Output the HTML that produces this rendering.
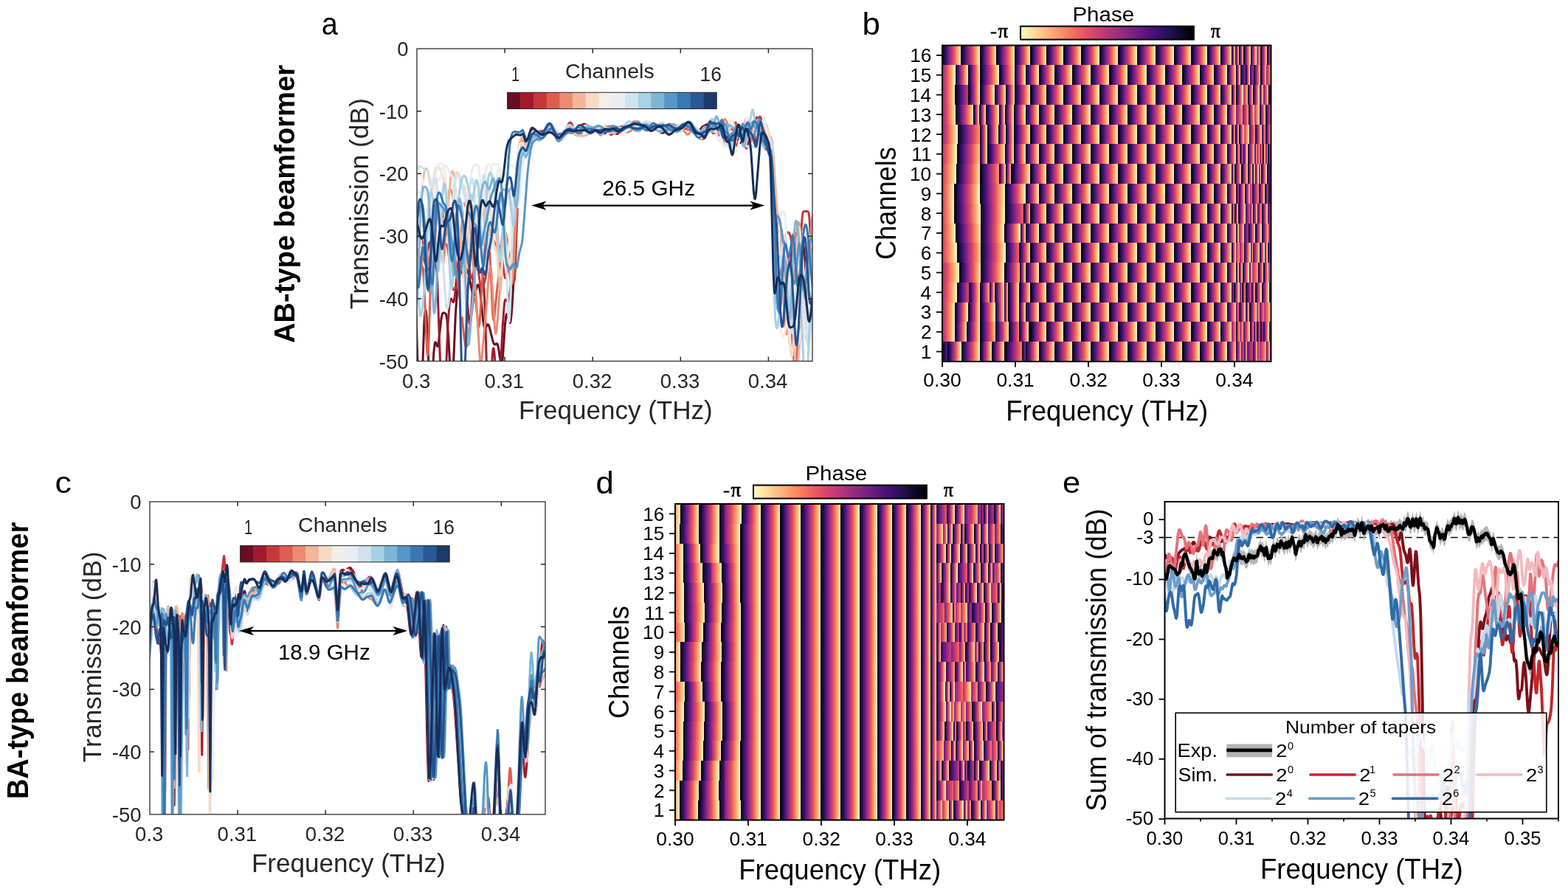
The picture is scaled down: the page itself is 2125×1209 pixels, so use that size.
<!DOCTYPE html><html><head><meta charset="utf-8"><title>Beamformer transmission and phase</title><style>html,body{margin:0;padding:0;background:#fff;}#f{position:relative;width:2125px;height:1209px;overflow:hidden;background:#fff;}#f>div{position:absolute;}#f>svg{position:absolute;left:0;top:0;}</style></head><body><div id="f"><div style="left:1277.0px;top:61.50px;width:445.5px;height:27.18px;background:linear-gradient(90deg,#000004 0.0px,#140e36 2.5px,#3b0f70 5.1px,#641a80 7.6px,#8c2981 10.1px,#b73779 12.7px,#de4968 15.2px,#f7705c 17.7px,#fe9f6d 20.2px,#fecf92 22.8px,#fcfdbf 25.3px,#000004 25.3px,#140e36 27.9px,#3b0f70 30.4px,#641a80 33.0px,#8c2981 35.6px,#b73779 38.2px,#de4968 40.7px,#f7705c 43.3px,#fe9f6d 45.9px,#fecf92 48.4px,#fcfdbf 51.0px,#000004 51.0px,#140e36 53.2px,#3b0f70 55.5px,#641a80 57.8px,#8c2981 60.0px,#b73779 62.2px,#de4968 64.5px,#f7705c 66.8px,#fe9f6d 69.0px,#fecf92 71.2px,#fcfdbf 73.5px,#000004 73.5px,#140e36 76.0px,#3b0f70 78.4px,#641a80 80.8px,#8c2981 83.3px,#b73779 85.8px,#de4968 88.2px,#f7705c 90.7px,#fe9f6d 93.1px,#fecf92 95.5px,#fcfdbf 98.0px,#000004 98.0px,#140e36 100.1px,#3b0f70 102.3px,#641a80 104.4px,#8c2981 106.6px,#b73779 108.7px,#de4968 110.8px,#f7705c 113.0px,#fe9f6d 115.1px,#fecf92 117.3px,#fcfdbf 119.4px,#000004 119.4px,#140e36 121.6px,#3b0f70 123.8px,#641a80 125.9px,#8c2981 128.1px,#b73779 130.3px,#de4968 132.5px,#f7705c 134.7px,#fe9f6d 136.8px,#fecf92 139.0px,#fcfdbf 141.2px,#000004 141.2px,#140e36 143.5px,#3b0f70 145.8px,#641a80 148.0px,#8c2981 150.3px,#b73779 152.6px,#de4968 154.9px,#f7705c 157.2px,#fe9f6d 159.4px,#fecf92 161.7px,#fcfdbf 164.0px,#000004 164.0px,#140e36 166.4px,#3b0f70 168.9px,#641a80 171.3px,#8c2981 173.8px,#b73779 176.2px,#de4968 178.6px,#f7705c 181.1px,#fe9f6d 183.5px,#fecf92 186.0px,#fcfdbf 188.4px,#000004 188.4px,#140e36 190.8px,#3b0f70 193.3px,#641a80 195.7px,#8c2981 198.1px,#b73779 200.6px,#de4968 203.0px,#f7705c 205.4px,#fe9f6d 207.8px,#fecf92 210.3px,#fcfdbf 212.7px,#000004 212.7px,#140e36 215.2px,#3b0f70 217.8px,#641a80 220.4px,#8c2981 222.9px,#b73779 225.5px,#de4968 228.0px,#f7705c 230.5px,#fe9f6d 233.1px,#fecf92 235.7px,#fcfdbf 238.2px,#000004 238.2px,#140e36 240.8px,#3b0f70 243.3px,#641a80 245.9px,#8c2981 248.4px,#b73779 251.0px,#de4968 253.5px,#f7705c 256.0px,#fe9f6d 258.6px,#fecf92 261.2px,#fcfdbf 263.7px,#000004 263.7px,#140e36 266.2px,#3b0f70 268.8px,#641a80 271.3px,#8c2981 273.9px,#b73779 276.4px,#de4968 278.9px,#f7705c 281.5px,#fe9f6d 284.0px,#fecf92 286.6px,#fcfdbf 289.1px,#000004 289.1px,#140e36 291.6px,#3b0f70 294.1px,#641a80 296.5px,#8c2981 299.0px,#b73779 301.5px,#de4968 304.0px,#f7705c 306.5px,#fe9f6d 308.9px,#fecf92 311.4px,#fcfdbf 313.9px,#000004 313.9px,#140e36 316.2px,#3b0f70 318.6px,#641a80 320.9px,#8c2981 323.3px,#b73779 325.6px,#de4968 327.9px,#f7705c 330.3px,#fe9f6d 332.6px,#fecf92 335.0px,#fcfdbf 337.3px,#000004 337.3px,#140e36 339.5px,#3b0f70 341.6px,#641a80 343.8px,#8c2981 346.0px,#b73779 348.2px,#de4968 350.3px,#f7705c 352.5px,#fe9f6d 354.7px,#fecf92 356.8px,#fcfdbf 359.0px,#000004 359.0px,#140e36 360.8px,#3b0f70 362.6px,#641a80 364.4px,#8c2981 366.2px,#b73779 368.0px,#de4968 369.9px,#f7705c 371.7px,#fe9f6d 373.5px,#fecf92 375.3px,#fcfdbf 377.1px,#000004 377.1px,#140e36 378.6px,#3b0f70 380.1px,#641a80 381.7px,#8c2981 383.2px,#b73779 384.7px,#de4968 386.2px,#f7705c 387.7px,#fe9f6d 389.3px,#fecf92 390.8px,#fcfdbf 392.3px,#000004 392.3px,#140e36 392.8px,#3b0f70 393.2px,#641a80 393.7px,#8c2981 394.1px,#b73779 394.6px,#de4968 395.1px,#f7705c 395.5px,#fe9f6d 396.0px,#fecf92 396.4px,#fcfdbf 396.9px,#000004 396.9px,#140e36 397.4px,#3b0f70 398.0px,#641a80 398.5px,#8c2981 399.1px,#b73779 399.6px,#de4968 400.2px,#f7705c 400.7px,#fe9f6d 401.3px,#fecf92 401.8px,#fcfdbf 402.4px,#000004 402.4px,#140e36 403.0px,#3b0f70 403.6px,#641a80 404.1px,#8c2981 404.7px,#b73779 405.3px,#de4968 405.9px,#f7705c 406.5px,#fe9f6d 407.1px,#fecf92 407.7px,#fcfdbf 408.3px,#000004 408.3px,#140e36 409.2px,#3b0f70 410.2px,#641a80 411.1px,#8c2981 412.1px,#b73779 413.1px,#de4968 414.0px,#f7705c 415.0px,#fe9f6d 415.9px,#fecf92 416.9px,#fcfdbf 417.8px,#000004 417.8px,#140e36 418.6px,#3b0f70 419.4px,#641a80 420.2px,#8c2981 421.0px,#b73779 421.8px,#de4968 422.6px,#f7705c 423.4px,#fe9f6d 424.2px,#fecf92 424.9px,#fcfdbf 425.7px,#802582 425.7px,#8c2981 426.1px,#b73779 427.2px,#de4968 428.3px,#f7705c 429.4px,#fe9f6d 430.6px,#febb81 431.2px,#000004 431.2px,#140e36 432.1px,#3b0f70 433.1px,#641a80 434.0px,#8c2981 434.9px,#b73779 435.8px,#de4968 436.7px,#f7705c 437.6px,#fe9f6d 438.6px,#fecf92 439.5px,#fcfdbf 440.4px,#000004 440.4px,#140e36 441.1px,#3b0f70 441.7px,#641a80 442.4px,#8c2981 443.1px,#b73779 443.8px,#de4968 444.4px,#f7705c 445.1px,#fc8a62 445.5px)"></div><div style="left:1277.0px;top:88.28px;width:445.5px;height:27.18px;background:linear-gradient(90deg,#8c2981 0.0px,#b73779 2.9px,#de4968 5.9px,#f7705c 8.8px,#fe9f6d 11.7px,#fecf92 14.7px,#fcfdbf 17.6px,#000004 17.6px,#140e36 19.3px,#3b0f70 21.0px,#641a80 22.8px,#8c2981 24.5px,#b73779 26.2px,#de4968 27.9px,#f7705c 29.6px,#fe9f6d 31.4px,#fecf92 33.1px,#fcfdbf 34.8px,#000004 34.8px,#140e36 36.4px,#3b0f70 38.1px,#641a80 39.7px,#8c2981 41.4px,#b73779 43.0px,#de4968 44.6px,#f7705c 46.3px,#fe9f6d 47.9px,#fecf92 49.6px,#fcfdbf 51.2px,#000004 51.2px,#140e36 53.8px,#3b0f70 56.4px,#641a80 58.9px,#8c2981 61.5px,#b73779 64.1px,#de4968 66.7px,#f7705c 69.3px,#fe9f6d 71.8px,#fecf92 74.4px,#fcfdbf 77.0px,#000004 77.0px,#140e36 79.1px,#3b0f70 81.2px,#641a80 83.3px,#8c2981 85.4px,#b73779 87.5px,#de4968 89.6px,#f7705c 91.7px,#fe9f6d 93.8px,#fecf92 95.9px,#fcfdbf 98.0px,#000004 98.0px,#140e36 99.5px,#3b0f70 101.0px,#641a80 102.5px,#8c2981 104.0px,#b73779 105.5px,#de4968 106.9px,#f7705c 108.4px,#fe9f6d 109.9px,#fecf92 111.4px,#fcfdbf 112.9px,#000004 112.9px,#140e36 114.7px,#3b0f70 116.5px,#641a80 118.3px,#8c2981 120.1px,#b73779 121.8px,#de4968 123.6px,#f7705c 125.4px,#fe9f6d 127.2px,#fecf92 129.0px,#fcfdbf 130.8px,#000004 130.8px,#140e36 132.9px,#3b0f70 135.1px,#641a80 137.2px,#8c2981 139.3px,#b73779 141.4px,#de4968 143.6px,#f7705c 145.7px,#fe9f6d 147.8px,#fecf92 150.0px,#fcfdbf 152.1px,#000004 152.1px,#140e36 154.5px,#3b0f70 156.9px,#641a80 159.3px,#8c2981 161.7px,#b73779 164.0px,#de4968 166.4px,#f7705c 168.8px,#fe9f6d 171.2px,#fecf92 173.6px,#fcfdbf 176.0px,#000004 176.0px,#140e36 178.5px,#3b0f70 181.0px,#641a80 183.4px,#8c2981 185.9px,#b73779 188.4px,#de4968 190.9px,#f7705c 193.4px,#fe9f6d 195.8px,#fecf92 198.3px,#fcfdbf 200.8px,#000004 200.8px,#140e36 203.3px,#3b0f70 205.9px,#641a80 208.4px,#8c2981 210.9px,#b73779 213.4px,#de4968 216.0px,#f7705c 218.5px,#fe9f6d 221.0px,#fecf92 223.6px,#fcfdbf 226.1px,#000004 226.1px,#140e36 228.6px,#3b0f70 231.1px,#641a80 233.6px,#8c2981 236.1px,#b73779 238.7px,#de4968 241.2px,#f7705c 243.7px,#fe9f6d 246.2px,#fecf92 248.7px,#fcfdbf 251.2px,#000004 251.2px,#140e36 253.7px,#3b0f70 256.3px,#641a80 258.8px,#8c2981 261.4px,#b73779 263.9px,#de4968 266.4px,#f7705c 269.0px,#fe9f6d 271.5px,#fecf92 274.1px,#fcfdbf 276.6px,#000004 276.6px,#140e36 279.1px,#3b0f70 281.6px,#641a80 284.2px,#8c2981 286.7px,#b73779 289.2px,#de4968 291.7px,#f7705c 294.2px,#fe9f6d 296.8px,#fecf92 299.3px,#fcfdbf 301.8px,#000004 301.8px,#140e36 304.2px,#3b0f70 306.5px,#641a80 308.9px,#8c2981 311.3px,#b73779 313.7px,#de4968 316.0px,#f7705c 318.4px,#fe9f6d 320.8px,#fecf92 323.1px,#fcfdbf 325.5px,#000004 325.5px,#140e36 327.8px,#3b0f70 330.2px,#641a80 332.5px,#8c2981 334.9px,#b73779 337.2px,#de4968 339.6px,#f7705c 342.0px,#fe9f6d 344.3px,#fecf92 346.7px,#fcfdbf 349.0px,#000004 349.0px,#140e36 350.9px,#3b0f70 352.9px,#641a80 354.8px,#8c2981 356.8px,#b73779 358.7px,#de4968 360.6px,#f7705c 362.6px,#fe9f6d 364.5px,#fecf92 366.5px,#fcfdbf 368.4px,#000004 368.4px,#140e36 370.2px,#3b0f70 371.9px,#641a80 373.7px,#8c2981 375.4px,#b73779 377.2px,#de4968 379.0px,#f7705c 380.7px,#fe9f6d 382.5px,#fecf92 384.2px,#fcfdbf 386.0px,#000004 386.0px,#140e36 387.2px,#3b0f70 388.4px,#641a80 389.7px,#8c2981 390.9px,#b73779 392.1px,#de4968 393.3px,#f7705c 394.5px,#fe9f6d 395.8px,#fecf92 397.0px,#fcfdbf 398.2px,#000004 398.2px,#140e36 398.8px,#3b0f70 399.3px,#641a80 399.9px,#8c2981 400.4px,#b73779 401.0px,#de4968 401.5px,#f7705c 402.1px,#fe9f6d 402.6px,#fecf92 403.2px,#fcfdbf 403.7px,#010108 403.7px,#140e36 405.3px,#3b0f70 407.2px,#641a80 409.0px,#8c2981 410.9px,#932b80 411.2px,#000004 411.2px,#140e36 411.8px,#3b0f70 412.3px,#641a80 412.8px,#8c2981 413.4px,#b73779 413.9px,#de4968 414.5px,#f7705c 415.0px,#fe9f6d 415.6px,#fecf92 416.1px,#fcfdbf 416.7px,#1d1147 416.7px,#3b0f70 417.7px,#641a80 419.1px,#8c2981 420.4px,#b73779 421.8px,#b73779 421.9px,#000004 421.9px,#140e36 422.8px,#3b0f70 423.8px,#641a80 424.7px,#8c2981 425.7px,#b73779 426.7px,#de4968 427.6px,#f7705c 428.6px,#fe9f6d 429.5px,#fecf92 430.5px,#fcfdbf 431.5px,#000004 431.5px,#140e36 432.2px,#3b0f70 433.0px,#641a80 433.8px,#8c2981 434.6px,#b73779 435.4px,#de4968 436.2px,#f7705c 437.0px,#fe9f6d 437.8px,#fecf92 438.6px,#fcfdbf 439.3px,#902a81 439.3px,#b73779 440.5px,#de4968 441.9px,#f7705c 443.2px,#fe9f6d 444.5px,#fec488 445.5px)"></div><div style="left:1277.0px;top:115.06px;width:445.5px;height:27.18px;background:linear-gradient(90deg,#8c2981 0.0px,#b73779 2.9px,#de4968 5.8px,#f7705c 8.8px,#fe9f6d 11.7px,#fecf92 14.6px,#fcfdbf 17.5px,#000004 17.5px,#140e36 20.7px,#3b0f70 24.0px,#641a80 27.2px,#8c2981 30.4px,#b73779 33.7px,#ca3e72 35.3px,#000004 35.3px,#140e36 36.9px,#3b0f70 38.4px,#641a80 40.0px,#8c2981 41.6px,#b73779 43.2px,#de4968 44.7px,#f7705c 46.3px,#fe9f6d 47.9px,#fecf92 49.4px,#fcfdbf 51.0px,#000004 51.0px,#140e36 53.0px,#3b0f70 54.9px,#641a80 56.9px,#8c2981 58.9px,#b73779 60.8px,#de4968 62.8px,#f7705c 64.8px,#fe9f6d 66.8px,#fecf92 68.7px,#fcfdbf 70.7px,#000004 70.7px,#140e36 72.2px,#3b0f70 73.8px,#641a80 75.3px,#8c2981 76.8px,#b73779 78.3px,#de4968 79.9px,#f7705c 81.4px,#fe9f6d 82.9px,#fecf92 84.5px,#fcfdbf 86.0px,#000004 86.0px,#140e36 87.2px,#3b0f70 88.4px,#641a80 89.6px,#8c2981 90.8px,#b73779 92.0px,#de4968 93.2px,#f7705c 94.4px,#fe9f6d 95.6px,#fecf92 96.8px,#fcfdbf 98.0px,#000004 98.0px,#140e36 100.1px,#3b0f70 102.3px,#641a80 104.4px,#8c2981 106.6px,#b73779 108.7px,#de4968 110.8px,#f7705c 113.0px,#fe9f6d 115.1px,#fecf92 117.3px,#fcfdbf 119.4px,#000004 119.4px,#140e36 121.6px,#3b0f70 123.8px,#641a80 125.9px,#8c2981 128.1px,#b73779 130.3px,#de4968 132.5px,#f7705c 134.7px,#fe9f6d 136.8px,#fecf92 139.0px,#fcfdbf 141.2px,#000004 141.2px,#140e36 143.5px,#3b0f70 145.8px,#641a80 148.0px,#8c2981 150.3px,#b73779 152.6px,#de4968 154.9px,#f7705c 157.2px,#fe9f6d 159.4px,#fecf92 161.7px,#fcfdbf 164.0px,#000004 164.0px,#140e36 166.4px,#3b0f70 168.9px,#641a80 171.3px,#8c2981 173.8px,#b73779 176.2px,#de4968 178.6px,#f7705c 181.1px,#fe9f6d 183.5px,#fecf92 186.0px,#fcfdbf 188.4px,#000004 188.4px,#140e36 190.8px,#3b0f70 193.3px,#641a80 195.7px,#8c2981 198.1px,#b73779 200.6px,#de4968 203.0px,#f7705c 205.4px,#fe9f6d 207.8px,#fecf92 210.3px,#fcfdbf 212.7px,#000004 212.7px,#140e36 215.2px,#3b0f70 217.8px,#641a80 220.4px,#8c2981 222.9px,#b73779 225.5px,#de4968 228.0px,#f7705c 230.5px,#fe9f6d 233.1px,#fecf92 235.7px,#fcfdbf 238.2px,#000004 238.2px,#140e36 240.8px,#3b0f70 243.3px,#641a80 245.9px,#8c2981 248.4px,#b73779 251.0px,#de4968 253.5px,#f7705c 256.0px,#fe9f6d 258.6px,#fecf92 261.2px,#fcfdbf 263.7px,#000004 263.7px,#140e36 266.2px,#3b0f70 268.8px,#641a80 271.3px,#8c2981 273.9px,#b73779 276.4px,#de4968 278.9px,#f7705c 281.5px,#fe9f6d 284.0px,#fecf92 286.6px,#fcfdbf 289.1px,#000004 289.1px,#140e36 291.6px,#3b0f70 294.1px,#641a80 296.5px,#8c2981 299.0px,#b73779 301.5px,#de4968 304.0px,#f7705c 306.5px,#fe9f6d 308.9px,#fecf92 311.4px,#fcfdbf 313.9px,#000004 313.9px,#140e36 316.2px,#3b0f70 318.6px,#641a80 320.9px,#8c2981 323.3px,#b73779 325.6px,#de4968 327.9px,#f7705c 330.3px,#fe9f6d 332.6px,#fecf92 335.0px,#fcfdbf 337.3px,#000004 337.3px,#140e36 339.5px,#3b0f70 341.6px,#641a80 343.8px,#8c2981 346.0px,#b73779 348.2px,#de4968 350.3px,#f7705c 352.5px,#fe9f6d 354.7px,#fecf92 356.8px,#fcfdbf 359.0px,#000004 359.0px,#140e36 360.8px,#3b0f70 362.6px,#641a80 364.4px,#8c2981 366.2px,#b73779 368.0px,#de4968 369.9px,#f7705c 371.7px,#fe9f6d 373.5px,#fecf92 375.3px,#fcfdbf 377.1px,#000004 377.1px,#140e36 378.6px,#3b0f70 380.1px,#641a80 381.7px,#8c2981 383.2px,#b73779 384.7px,#de4968 386.2px,#f7705c 387.7px,#fe9f6d 389.3px,#fecf92 390.8px,#fcfdbf 392.3px,#000004 392.3px,#140e36 392.9px,#3b0f70 393.5px,#641a80 394.1px,#8c2981 394.7px,#b73779 395.3px,#de4968 395.9px,#f7705c 396.5px,#fe9f6d 397.1px,#fecf92 397.7px,#fcfdbf 398.3px,#000004 398.3px,#140e36 399.3px,#3b0f70 400.2px,#641a80 401.1px,#8c2981 402.1px,#b73779 403.0px,#de4968 403.9px,#f7705c 404.8px,#fe9f6d 405.8px,#fecf92 406.7px,#fcfdbf 407.6px,#942c80 407.6px,#b73779 408.7px,#de4968 410.1px,#f7705c 411.4px,#fe9f6d 412.8px,#fecf92 414.2px,#fecf92 414.2px,#000004 414.2px,#140e36 414.9px,#3b0f70 415.6px,#641a80 416.3px,#8c2981 417.1px,#b73779 417.8px,#de4968 418.5px,#f7705c 419.2px,#fe9f6d 419.9px,#fecf92 420.6px,#fcfdbf 421.3px,#000004 421.3px,#140e36 422.1px,#3b0f70 423.0px,#641a80 423.8px,#8c2981 424.6px,#b73779 425.5px,#de4968 426.3px,#f7705c 427.1px,#fe9f6d 428.0px,#fecf92 428.8px,#fcfdbf 429.6px,#000004 429.6px,#140e36 430.2px,#3b0f70 430.7px,#641a80 431.2px,#8c2981 431.8px,#b73779 432.3px,#de4968 432.8px,#f7705c 433.4px,#fe9f6d 433.9px,#fecf92 434.4px,#fcfdbf 435.0px,#57157e 435.0px,#641a80 435.3px,#8c2981 436.3px,#b73779 437.3px,#de4968 438.4px,#f7705c 439.4px,#fe9f6d 440.4px,#fecf92 441.4px,#fcf4b6 442.2px,#000004 442.2px,#140e36 442.8px,#3b0f70 443.5px,#641a80 444.2px,#8c2981 444.8px,#b5367a 445.5px)"></div><div style="left:1277.0px;top:141.84px;width:445.5px;height:27.18px;background:linear-gradient(90deg,#8c2981 0.0px,#b73779 3.1px,#de4968 6.2px,#f7705c 9.2px,#fe9f6d 12.3px,#fecf92 15.4px,#fcfdbf 18.5px,#000004 18.5px,#140e36 20.9px,#3b0f70 23.3px,#641a80 25.7px,#8c2981 28.1px,#b73779 30.5px,#de4968 32.9px,#f7705c 35.3px,#fe9f6d 37.7px,#fecf92 40.1px,#fcfdbf 42.5px,#000004 42.5px,#140e36 43.2px,#3b0f70 44.0px,#641a80 44.8px,#8c2981 45.5px,#b73779 46.2px,#de4968 47.0px,#f7705c 47.8px,#fe9f6d 48.5px,#fecf92 49.2px,#fcfdbf 50.0px,#000004 50.0px,#140e36 50.9px,#3b0f70 51.8px,#641a80 52.7px,#8c2981 53.6px,#b73779 54.5px,#de4968 55.4px,#f7705c 56.3px,#fe9f6d 57.2px,#fecf92 58.1px,#fcfdbf 59.0px,#000004 59.0px,#140e36 60.8px,#3b0f70 62.6px,#641a80 64.4px,#8c2981 66.2px,#b73779 68.0px,#de4968 69.8px,#f7705c 71.6px,#fe9f6d 73.4px,#fecf92 75.2px,#fcfdbf 77.0px,#000004 77.0px,#140e36 77.8px,#3b0f70 78.6px,#641a80 79.4px,#8c2981 80.2px,#b73779 81.0px,#de4968 81.8px,#f7705c 82.6px,#fe9f6d 83.4px,#fecf92 84.2px,#fcfdbf 85.0px,#000004 85.0px,#140e36 86.2px,#3b0f70 87.4px,#641a80 88.6px,#8c2981 89.8px,#b73779 91.0px,#de4968 92.2px,#f7705c 93.4px,#fe9f6d 94.6px,#fecf92 95.8px,#fcfdbf 97.0px,#000004 97.0px,#140e36 98.6px,#3b0f70 100.2px,#641a80 101.8px,#8c2981 103.4px,#b73779 105.0px,#de4968 106.5px,#f7705c 108.1px,#fe9f6d 109.7px,#fecf92 111.3px,#fcfdbf 112.9px,#000004 112.9px,#140e36 114.7px,#3b0f70 116.5px,#641a80 118.3px,#8c2981 120.1px,#b73779 121.8px,#de4968 123.6px,#f7705c 125.4px,#fe9f6d 127.2px,#fecf92 129.0px,#fcfdbf 130.8px,#000004 130.8px,#140e36 132.9px,#3b0f70 135.1px,#641a80 137.2px,#8c2981 139.3px,#b73779 141.4px,#de4968 143.6px,#f7705c 145.7px,#fe9f6d 147.8px,#fecf92 150.0px,#fcfdbf 152.1px,#000004 152.1px,#140e36 154.5px,#3b0f70 156.9px,#641a80 159.3px,#8c2981 161.7px,#b73779 164.0px,#de4968 166.4px,#f7705c 168.8px,#fe9f6d 171.2px,#fecf92 173.6px,#fcfdbf 176.0px,#000004 176.0px,#140e36 178.5px,#3b0f70 181.0px,#641a80 183.4px,#8c2981 185.9px,#b73779 188.4px,#de4968 190.9px,#f7705c 193.4px,#fe9f6d 195.8px,#fecf92 198.3px,#fcfdbf 200.8px,#000004 200.8px,#140e36 203.3px,#3b0f70 205.9px,#641a80 208.4px,#8c2981 210.9px,#b73779 213.4px,#de4968 216.0px,#f7705c 218.5px,#fe9f6d 221.0px,#fecf92 223.6px,#fcfdbf 226.1px,#000004 226.1px,#140e36 228.6px,#3b0f70 231.1px,#641a80 233.6px,#8c2981 236.1px,#b73779 238.7px,#de4968 241.2px,#f7705c 243.7px,#fe9f6d 246.2px,#fecf92 248.7px,#fcfdbf 251.2px,#000004 251.2px,#140e36 253.7px,#3b0f70 256.3px,#641a80 258.8px,#8c2981 261.4px,#b73779 263.9px,#de4968 266.4px,#f7705c 269.0px,#fe9f6d 271.5px,#fecf92 274.1px,#fcfdbf 276.6px,#000004 276.6px,#140e36 279.1px,#3b0f70 281.6px,#641a80 284.2px,#8c2981 286.7px,#b73779 289.2px,#de4968 291.7px,#f7705c 294.2px,#fe9f6d 296.8px,#fecf92 299.3px,#fcfdbf 301.8px,#000004 301.8px,#140e36 304.2px,#3b0f70 306.5px,#641a80 308.9px,#8c2981 311.3px,#b73779 313.7px,#de4968 316.0px,#f7705c 318.4px,#fe9f6d 320.8px,#fecf92 323.1px,#fcfdbf 325.5px,#000004 325.5px,#140e36 327.8px,#3b0f70 330.2px,#641a80 332.5px,#8c2981 334.9px,#b73779 337.2px,#de4968 339.6px,#f7705c 342.0px,#fe9f6d 344.3px,#fecf92 346.7px,#fcfdbf 349.0px,#000004 349.0px,#140e36 350.9px,#3b0f70 352.9px,#641a80 354.8px,#8c2981 356.8px,#b73779 358.7px,#de4968 360.6px,#f7705c 362.6px,#fe9f6d 364.5px,#fecf92 366.5px,#fcfdbf 368.4px,#000004 368.4px,#140e36 370.2px,#3b0f70 371.9px,#641a80 373.7px,#8c2981 375.4px,#b73779 377.2px,#de4968 379.0px,#f7705c 380.7px,#fe9f6d 382.5px,#fecf92 384.2px,#fcfdbf 386.0px,#000004 386.0px,#140e36 387.2px,#3b0f70 388.4px,#641a80 389.7px,#8c2981 390.9px,#b73779 392.1px,#de4968 393.3px,#f7705c 394.5px,#fe9f6d 395.8px,#fecf92 397.0px,#fcfdbf 398.2px,#732081 398.2px,#8c2981 399.4px,#b73779 401.2px,#de4968 403.1px,#f7705c 404.9px,#fe9f6d 406.8px,#56147d 406.8px,#641a80 407.3px,#8c2981 408.8px,#b73779 410.2px,#de4968 411.7px,#f7705c 413.1px,#fe9f6d 414.6px,#fea571 414.7px,#000004 414.7px,#140e36 415.6px,#3b0f70 416.4px,#641a80 417.2px,#8c2981 418.1px,#b73779 418.9px,#de4968 419.8px,#f7705c 420.6px,#fe9f6d 421.4px,#fecf92 422.3px,#fcfdbf 423.1px,#b3367a 423.1px,#b73779 423.2px,#de4968 424.6px,#f7705c 426.0px,#fe9f6d 427.4px,#fecf92 428.9px,#fde5a7 429.6px,#000004 429.6px,#140e36 430.4px,#3b0f70 431.3px,#641a80 432.2px,#8c2981 433.0px,#b73779 433.9px,#de4968 434.7px,#f7705c 435.6px,#fe9f6d 436.5px,#fecf92 437.3px,#fcfdbf 438.2px,#000004 438.2px,#140e36 439.2px,#3b0f70 440.1px,#641a80 441.1px,#8c2981 442.1px,#b73779 443.0px,#de4968 444.0px,#f7705c 444.9px,#fc8c63 445.5px)"></div><div style="left:1277.0px;top:168.62px;width:445.5px;height:27.18px;background:linear-gradient(90deg,#8c2981 0.0px,#b73779 3.5px,#de4968 6.9px,#f7705c 10.3px,#fe9f6d 13.8px,#fecf92 17.2px,#fcfdbf 20.7px,#000004 20.7px,#140e36 24.5px,#3b0f70 28.2px,#641a80 32.0px,#8c2981 35.7px,#b73779 39.5px,#de4968 43.2px,#f7705c 47.0px,#fe9f6d 50.7px,#000004 50.7px,#140e36 51.7px,#3b0f70 52.8px,#641a80 53.8px,#8c2981 54.8px,#b73779 55.8px,#de4968 56.9px,#f7705c 57.9px,#fe9f6d 58.9px,#fecf92 60.0px,#fcfdbf 61.0px,#000004 61.0px,#140e36 62.5px,#3b0f70 64.0px,#641a80 65.5px,#8c2981 67.0px,#b73779 68.5px,#de4968 70.0px,#f7705c 71.5px,#fe9f6d 73.0px,#fecf92 74.5px,#fcfdbf 76.0px,#000004 76.0px,#140e36 77.0px,#3b0f70 78.0px,#641a80 79.0px,#8c2981 80.0px,#b73779 81.0px,#de4968 82.0px,#f7705c 83.0px,#fe9f6d 84.0px,#fecf92 85.0px,#fcfdbf 86.0px,#000004 86.0px,#140e36 87.1px,#3b0f70 88.2px,#641a80 89.3px,#8c2981 90.4px,#b73779 91.5px,#de4968 92.6px,#f7705c 93.7px,#fe9f6d 94.8px,#fecf92 95.9px,#fcfdbf 97.0px,#000004 97.0px,#140e36 99.2px,#3b0f70 101.5px,#641a80 103.7px,#8c2981 106.0px,#b73779 108.2px,#de4968 110.4px,#f7705c 112.7px,#fe9f6d 114.9px,#fecf92 117.2px,#fcfdbf 119.4px,#000004 119.4px,#140e36 121.6px,#3b0f70 123.8px,#641a80 125.9px,#8c2981 128.1px,#b73779 130.3px,#de4968 132.5px,#f7705c 134.7px,#fe9f6d 136.8px,#fecf92 139.0px,#fcfdbf 141.2px,#000004 141.2px,#140e36 143.5px,#3b0f70 145.8px,#641a80 148.0px,#8c2981 150.3px,#b73779 152.6px,#de4968 154.9px,#f7705c 157.2px,#fe9f6d 159.4px,#fecf92 161.7px,#fcfdbf 164.0px,#000004 164.0px,#140e36 166.4px,#3b0f70 168.9px,#641a80 171.3px,#8c2981 173.8px,#b73779 176.2px,#de4968 178.6px,#f7705c 181.1px,#fe9f6d 183.5px,#fecf92 186.0px,#fcfdbf 188.4px,#000004 188.4px,#140e36 190.8px,#3b0f70 193.3px,#641a80 195.7px,#8c2981 198.1px,#b73779 200.6px,#de4968 203.0px,#f7705c 205.4px,#fe9f6d 207.8px,#fecf92 210.3px,#fcfdbf 212.7px,#000004 212.7px,#140e36 215.2px,#3b0f70 217.8px,#641a80 220.4px,#8c2981 222.9px,#b73779 225.5px,#de4968 228.0px,#f7705c 230.5px,#fe9f6d 233.1px,#fecf92 235.7px,#fcfdbf 238.2px,#000004 238.2px,#140e36 240.8px,#3b0f70 243.3px,#641a80 245.9px,#8c2981 248.4px,#b73779 251.0px,#de4968 253.5px,#f7705c 256.0px,#fe9f6d 258.6px,#fecf92 261.2px,#fcfdbf 263.7px,#000004 263.7px,#140e36 266.2px,#3b0f70 268.8px,#641a80 271.3px,#8c2981 273.9px,#b73779 276.4px,#de4968 278.9px,#f7705c 281.5px,#fe9f6d 284.0px,#fecf92 286.6px,#fcfdbf 289.1px,#000004 289.1px,#140e36 291.6px,#3b0f70 294.1px,#641a80 296.5px,#8c2981 299.0px,#b73779 301.5px,#de4968 304.0px,#f7705c 306.5px,#fe9f6d 308.9px,#fecf92 311.4px,#fcfdbf 313.9px,#000004 313.9px,#140e36 316.2px,#3b0f70 318.6px,#641a80 320.9px,#8c2981 323.3px,#b73779 325.6px,#de4968 327.9px,#f7705c 330.3px,#fe9f6d 332.6px,#fecf92 335.0px,#fcfdbf 337.3px,#000004 337.3px,#140e36 339.5px,#3b0f70 341.6px,#641a80 343.8px,#8c2981 346.0px,#b73779 348.2px,#de4968 350.3px,#f7705c 352.5px,#fe9f6d 354.7px,#fecf92 356.8px,#fcfdbf 359.0px,#000004 359.0px,#140e36 360.8px,#3b0f70 362.6px,#641a80 364.4px,#8c2981 366.2px,#b73779 368.0px,#de4968 369.9px,#f7705c 371.7px,#fe9f6d 373.5px,#fecf92 375.3px,#fcfdbf 377.1px,#000004 377.1px,#140e36 378.6px,#3b0f70 380.1px,#641a80 381.7px,#8c2981 383.2px,#b73779 384.7px,#de4968 386.2px,#f7705c 387.7px,#fe9f6d 389.3px,#fecf92 390.8px,#fcfdbf 392.3px,#000004 392.3px,#140e36 392.8px,#3b0f70 393.3px,#641a80 393.8px,#8c2981 394.4px,#b73779 394.9px,#de4968 395.4px,#f7705c 395.9px,#fe9f6d 396.4px,#fecf92 396.9px,#fcfdbf 397.4px,#000004 397.4px,#140e36 397.9px,#3b0f70 398.4px,#641a80 398.8px,#8c2981 399.3px,#b73779 399.8px,#de4968 400.2px,#f7705c 400.7px,#fe9f6d 401.2px,#fecf92 401.6px,#fcfdbf 402.1px,#000004 402.1px,#140e36 402.8px,#3b0f70 403.4px,#641a80 404.1px,#8c2981 404.7px,#b73779 405.3px,#de4968 406.0px,#f7705c 406.6px,#fe9f6d 407.3px,#fecf92 407.9px,#fcfdbf 408.6px,#b3367a 408.6px,#b73779 408.6px,#de4968 410.2px,#f7705c 411.8px,#fe9f6d 413.4px,#fecf92 415.0px,#fde2a3 415.6px,#2c115f 415.6px,#3b0f70 416.1px,#641a80 417.3px,#8c2981 418.6px,#b73779 419.9px,#de4968 421.1px,#f7705c 422.4px,#fe9f6d 423.6px,#fea36f 423.7px,#000004 423.7px,#140e36 424.7px,#3b0f70 425.6px,#641a80 426.5px,#8c2981 427.4px,#b73779 428.4px,#de4968 429.3px,#f7705c 430.2px,#fe9f6d 431.1px,#fecf92 432.1px,#fcfdbf 433.0px,#0b0924 433.0px,#140e36 433.2px,#3b0f70 433.8px,#641a80 434.4px,#8c2981 435.0px,#b73779 435.7px,#de4968 436.3px,#f7705c 436.9px,#fe9f6d 437.5px,#fecf92 438.1px,#fecf92 438.2px,#000004 438.2px,#140e36 438.9px,#3b0f70 439.7px,#641a80 440.5px,#8c2981 441.3px,#b73779 442.1px,#de4968 442.9px,#f7705c 443.6px,#fe9f6d 444.4px,#fecf92 445.2px,#fde0a1 445.5px)"></div><div style="left:1277.0px;top:195.41px;width:445.5px;height:27.18px;background:linear-gradient(90deg,#b73779 0.0px,#de4968 4.0px,#f7705c 7.9px,#fe9f6d 11.9px,#fecf92 15.8px,#fcfdbf 19.8px,#000004 19.8px,#140e36 23.2px,#3b0f70 26.7px,#641a80 30.1px,#8c2981 33.5px,#b73779 37.0px,#de4968 40.4px,#f7705c 43.8px,#fe9f6d 47.3px,#fecf92 50.7px,#000004 50.7px,#140e36 51.7px,#3b0f70 52.8px,#641a80 53.8px,#8c2981 54.8px,#b73779 55.8px,#de4968 56.9px,#f7705c 57.9px,#fe9f6d 58.9px,#fecf92 60.0px,#fcfdbf 61.0px,#000004 61.0px,#140e36 63.4px,#3b0f70 65.9px,#641a80 68.3px,#8c2981 70.7px,#b73779 73.2px,#de4968 75.6px,#f7705c 78.0px,#fe9f6d 80.4px,#fecf92 82.9px,#fcfdbf 85.3px,#000004 85.3px,#140e36 86.5px,#3b0f70 87.6px,#641a80 88.8px,#8c2981 90.0px,#b73779 91.2px,#de4968 92.3px,#f7705c 93.5px,#fe9f6d 94.7px,#fecf92 95.8px,#fcfdbf 97.0px,#000004 97.0px,#140e36 98.6px,#3b0f70 100.2px,#641a80 101.8px,#8c2981 103.4px,#b73779 105.0px,#de4968 106.5px,#f7705c 108.1px,#fe9f6d 109.7px,#fecf92 111.3px,#fcfdbf 112.9px,#000004 112.9px,#140e36 114.7px,#3b0f70 116.5px,#641a80 118.3px,#8c2981 120.1px,#b73779 121.8px,#de4968 123.6px,#f7705c 125.4px,#fe9f6d 127.2px,#fecf92 129.0px,#fcfdbf 130.8px,#000004 130.8px,#140e36 132.9px,#3b0f70 135.1px,#641a80 137.2px,#8c2981 139.3px,#b73779 141.4px,#de4968 143.6px,#f7705c 145.7px,#fe9f6d 147.8px,#fecf92 150.0px,#fcfdbf 152.1px,#000004 152.1px,#140e36 154.5px,#3b0f70 156.9px,#641a80 159.3px,#8c2981 161.7px,#b73779 164.0px,#de4968 166.4px,#f7705c 168.8px,#fe9f6d 171.2px,#fecf92 173.6px,#fcfdbf 176.0px,#000004 176.0px,#140e36 178.5px,#3b0f70 181.0px,#641a80 183.4px,#8c2981 185.9px,#b73779 188.4px,#de4968 190.9px,#f7705c 193.4px,#fe9f6d 195.8px,#fecf92 198.3px,#fcfdbf 200.8px,#000004 200.8px,#140e36 203.3px,#3b0f70 205.9px,#641a80 208.4px,#8c2981 210.9px,#b73779 213.4px,#de4968 216.0px,#f7705c 218.5px,#fe9f6d 221.0px,#fecf92 223.6px,#fcfdbf 226.1px,#000004 226.1px,#140e36 228.6px,#3b0f70 231.1px,#641a80 233.6px,#8c2981 236.1px,#b73779 238.7px,#de4968 241.2px,#f7705c 243.7px,#fe9f6d 246.2px,#fecf92 248.7px,#fcfdbf 251.2px,#000004 251.2px,#140e36 253.7px,#3b0f70 256.3px,#641a80 258.8px,#8c2981 261.4px,#b73779 263.9px,#de4968 266.4px,#f7705c 269.0px,#fe9f6d 271.5px,#fecf92 274.1px,#fcfdbf 276.6px,#000004 276.6px,#140e36 279.1px,#3b0f70 281.6px,#641a80 284.2px,#8c2981 286.7px,#b73779 289.2px,#de4968 291.7px,#f7705c 294.2px,#fe9f6d 296.8px,#fecf92 299.3px,#fcfdbf 301.8px,#000004 301.8px,#140e36 304.2px,#3b0f70 306.5px,#641a80 308.9px,#8c2981 311.3px,#b73779 313.7px,#de4968 316.0px,#f7705c 318.4px,#fe9f6d 320.8px,#fecf92 323.1px,#fcfdbf 325.5px,#000004 325.5px,#140e36 327.8px,#3b0f70 330.2px,#641a80 332.5px,#8c2981 334.9px,#b73779 337.2px,#de4968 339.6px,#f7705c 342.0px,#fe9f6d 344.3px,#fecf92 346.7px,#fcfdbf 349.0px,#000004 349.0px,#140e36 350.9px,#3b0f70 352.9px,#641a80 354.8px,#8c2981 356.8px,#b73779 358.7px,#de4968 360.6px,#f7705c 362.6px,#fe9f6d 364.5px,#fecf92 366.5px,#fcfdbf 368.4px,#000004 368.4px,#140e36 370.2px,#3b0f70 371.9px,#641a80 373.7px,#8c2981 375.4px,#b73779 377.2px,#de4968 379.0px,#f7705c 380.7px,#fe9f6d 382.5px,#fecf92 384.2px,#fcfdbf 386.0px,#000004 386.0px,#140e36 387.2px,#3b0f70 388.4px,#641a80 389.7px,#8c2981 390.9px,#b73779 392.1px,#de4968 393.3px,#f7705c 394.5px,#fe9f6d 395.8px,#fecf92 397.0px,#fcfdbf 398.2px,#000004 398.2px,#140e36 398.7px,#3b0f70 399.2px,#641a80 399.7px,#8c2981 400.2px,#b73779 400.7px,#de4968 401.2px,#f7705c 401.7px,#fe9f6d 402.2px,#fecf92 402.7px,#fcfdbf 403.2px,#07061c 403.2px,#140e36 403.6px,#3b0f70 404.4px,#641a80 405.2px,#8c2981 406.0px,#b73779 406.8px,#de4968 407.6px,#e04c67 407.7px,#000004 407.7px,#140e36 408.3px,#3b0f70 408.9px,#641a80 409.5px,#8c2981 410.1px,#b73779 410.6px,#de4968 411.2px,#f7705c 411.8px,#fe9f6d 412.4px,#fecf92 413.0px,#fcfdbf 413.6px,#000004 413.6px,#140e36 414.6px,#3b0f70 415.6px,#641a80 416.6px,#8c2981 417.6px,#b73779 418.6px,#de4968 419.6px,#f7705c 420.5px,#fe9f6d 421.5px,#fecf92 422.5px,#fcfdbf 423.5px,#4e117b 423.5px,#641a80 423.8px,#8c2981 424.3px,#b73779 424.9px,#de4968 425.4px,#f7705c 425.9px,#fe9f6d 426.5px,#feb77e 426.7px,#000004 426.7px,#140e36 427.0px,#3b0f70 427.3px,#641a80 427.6px,#8c2981 427.9px,#b73779 428.2px,#de4968 428.5px,#f7705c 428.8px,#fe9f6d 429.1px,#fecf92 429.4px,#fcfdbf 429.8px,#51127c 429.8px,#641a80 430.1px,#8c2981 431.0px,#b73779 431.8px,#de4968 432.6px,#f7705c 433.5px,#fe9f6d 434.3px,#feaa74 434.5px,#000004 434.5px,#140e36 434.8px,#3b0f70 435.1px,#641a80 435.4px,#8c2981 435.7px,#b73779 436.0px,#de4968 436.3px,#f7705c 436.6px,#fe9f6d 437.0px,#fecf92 437.3px,#fcfdbf 437.6px,#000004 437.6px,#140e36 438.0px,#3b0f70 438.4px,#641a80 438.8px,#8c2981 439.2px,#b73779 439.6px,#de4968 439.9px,#f7705c 440.3px,#fe9f6d 440.7px,#fecf92 441.1px,#fcfdbf 441.5px,#000004 441.5px,#140e36 442.1px,#3b0f70 442.7px,#641a80 443.2px,#8c2981 443.8px,#b73779 444.4px,#de4968 444.9px,#f7705c 445.5px,#f7705c 445.5px)"></div><div style="left:1277.0px;top:222.19px;width:445.5px;height:27.18px;background:linear-gradient(90deg,#ca3e72 0.0px,#de4968 2.1px,#f7705c 6.3px,#fe9f6d 10.5px,#fecf92 14.7px,#fcfdbf 18.9px,#000004 18.9px,#140e36 22.2px,#3b0f70 25.6px,#641a80 28.9px,#8c2981 32.3px,#b73779 35.6px,#de4968 39.0px,#f7705c 42.3px,#fe9f6d 45.7px,#fecf92 49.0px,#fde7a9 50.7px,#000004 50.7px,#140e36 54.0px,#3b0f70 57.3px,#641a80 60.6px,#8c2981 63.8px,#b73779 67.1px,#de4968 70.4px,#f7705c 73.7px,#fe9f6d 77.0px,#000004 77.0px,#140e36 77.9px,#3b0f70 78.8px,#641a80 79.7px,#8c2981 80.6px,#b73779 81.5px,#de4968 82.4px,#f7705c 83.3px,#fe9f6d 84.2px,#fecf92 85.1px,#fcfdbf 86.0px,#000004 86.0px,#140e36 86.8px,#3b0f70 87.5px,#641a80 88.2px,#8c2981 89.0px,#b73779 89.8px,#de4968 90.5px,#f7705c 91.2px,#fe9f6d 92.0px,#fecf92 92.8px,#fcfdbf 93.5px,#000004 93.5px,#140e36 96.1px,#3b0f70 98.7px,#641a80 101.3px,#8c2981 103.9px,#b73779 106.5px,#de4968 109.0px,#f7705c 111.6px,#fe9f6d 114.2px,#fecf92 116.8px,#fcfdbf 119.4px,#000004 119.4px,#140e36 121.6px,#3b0f70 123.8px,#641a80 125.9px,#8c2981 128.1px,#b73779 130.3px,#de4968 132.5px,#f7705c 134.7px,#fe9f6d 136.8px,#fecf92 139.0px,#fcfdbf 141.2px,#000004 141.2px,#140e36 143.5px,#3b0f70 145.8px,#641a80 148.0px,#8c2981 150.3px,#b73779 152.6px,#de4968 154.9px,#f7705c 157.2px,#fe9f6d 159.4px,#fecf92 161.7px,#fcfdbf 164.0px,#000004 164.0px,#140e36 166.4px,#3b0f70 168.9px,#641a80 171.3px,#8c2981 173.8px,#b73779 176.2px,#de4968 178.6px,#f7705c 181.1px,#fe9f6d 183.5px,#fecf92 186.0px,#fcfdbf 188.4px,#000004 188.4px,#140e36 190.8px,#3b0f70 193.3px,#641a80 195.7px,#8c2981 198.1px,#b73779 200.6px,#de4968 203.0px,#f7705c 205.4px,#fe9f6d 207.8px,#fecf92 210.3px,#fcfdbf 212.7px,#000004 212.7px,#140e36 215.2px,#3b0f70 217.8px,#641a80 220.4px,#8c2981 222.9px,#b73779 225.5px,#de4968 228.0px,#f7705c 230.5px,#fe9f6d 233.1px,#fecf92 235.7px,#fcfdbf 238.2px,#000004 238.2px,#140e36 240.8px,#3b0f70 243.3px,#641a80 245.9px,#8c2981 248.4px,#b73779 251.0px,#de4968 253.5px,#f7705c 256.0px,#fe9f6d 258.6px,#fecf92 261.2px,#fcfdbf 263.7px,#000004 263.7px,#140e36 266.2px,#3b0f70 268.8px,#641a80 271.3px,#8c2981 273.9px,#b73779 276.4px,#de4968 278.9px,#f7705c 281.5px,#fe9f6d 284.0px,#fecf92 286.6px,#fcfdbf 289.1px,#000004 289.1px,#140e36 291.6px,#3b0f70 294.1px,#641a80 296.5px,#8c2981 299.0px,#b73779 301.5px,#de4968 304.0px,#f7705c 306.5px,#fe9f6d 308.9px,#fecf92 311.4px,#fcfdbf 313.9px,#000004 313.9px,#140e36 316.2px,#3b0f70 318.6px,#641a80 320.9px,#8c2981 323.3px,#b73779 325.6px,#de4968 327.9px,#f7705c 330.3px,#fe9f6d 332.6px,#fecf92 335.0px,#fcfdbf 337.3px,#000004 337.3px,#140e36 339.5px,#3b0f70 341.6px,#641a80 343.8px,#8c2981 346.0px,#b73779 348.2px,#de4968 350.3px,#f7705c 352.5px,#fe9f6d 354.7px,#fecf92 356.8px,#fcfdbf 359.0px,#000004 359.0px,#140e36 360.8px,#3b0f70 362.6px,#641a80 364.4px,#8c2981 366.2px,#b73779 368.0px,#de4968 369.9px,#f7705c 371.7px,#fe9f6d 373.5px,#fecf92 375.3px,#fcfdbf 377.1px,#000004 377.1px,#140e36 378.6px,#3b0f70 380.1px,#641a80 381.7px,#8c2981 383.2px,#b73779 384.7px,#de4968 386.2px,#f7705c 387.7px,#fe9f6d 389.3px,#fecf92 390.8px,#fcfdbf 392.3px,#000004 392.3px,#140e36 392.7px,#3b0f70 393.0px,#641a80 393.4px,#8c2981 393.8px,#b73779 394.1px,#de4968 394.5px,#f7705c 394.9px,#fe9f6d 395.2px,#fecf92 395.6px,#fcfdbf 396.0px,#000004 396.0px,#140e36 396.9px,#3b0f70 397.8px,#641a80 398.8px,#8c2981 399.7px,#b73779 400.7px,#de4968 401.6px,#f7705c 402.6px,#fe9f6d 403.5px,#fecf92 404.4px,#fcfdbf 405.4px,#000004 405.4px,#140e36 406.3px,#3b0f70 407.2px,#641a80 408.1px,#8c2981 409.0px,#b73779 409.9px,#de4968 410.8px,#f7705c 411.6px,#fe9f6d 412.5px,#fecf92 413.4px,#fcfdbf 414.3px,#000004 414.3px,#140e36 414.9px,#3b0f70 415.5px,#641a80 416.1px,#8c2981 416.7px,#b73779 417.3px,#de4968 417.8px,#f7705c 418.4px,#fe9f6d 419.0px,#fecf92 419.6px,#fcfdbf 420.2px,#000004 420.2px,#140e36 420.6px,#3b0f70 420.9px,#641a80 421.3px,#8c2981 421.6px,#b73779 422.0px,#de4968 422.3px,#f7705c 422.7px,#fe9f6d 423.1px,#fecf92 423.4px,#fcfdbf 423.8px,#000004 423.8px,#140e36 424.3px,#3b0f70 424.7px,#641a80 425.2px,#8c2981 425.7px,#b73779 426.2px,#de4968 426.7px,#f7705c 427.2px,#fe9f6d 427.6px,#fecf92 428.1px,#fcfdbf 428.6px,#000004 428.6px,#140e36 428.9px,#3b0f70 429.3px,#641a80 429.6px,#8c2981 429.9px,#b73779 430.3px,#de4968 430.6px,#f7705c 430.9px,#fe9f6d 431.2px,#fecf92 431.6px,#fcfdbf 431.9px,#000004 431.9px,#140e36 432.7px,#3b0f70 433.5px,#641a80 434.2px,#8c2981 435.0px,#b73779 435.8px,#de4968 436.6px,#f7705c 437.4px,#fe9f6d 438.2px,#fecf92 439.0px,#fcfdbf 439.7px,#08071e 439.7px,#140e36 440.6px,#3b0f70 442.5px,#641a80 444.5px,#792282 445.5px)"></div><div style="left:1277.0px;top:248.97px;width:445.5px;height:27.18px;background:linear-gradient(90deg,#ca3e72 0.0px,#de4968 1.8px,#f7705c 5.4px,#fe9f6d 9.0px,#fecf92 12.6px,#fcfdbf 16.2px,#000004 16.2px,#140e36 19.7px,#3b0f70 23.1px,#641a80 26.5px,#8c2981 30.0px,#b73779 33.5px,#de4968 36.9px,#f7705c 40.4px,#fe9f6d 43.8px,#fecf92 47.2px,#fcfdbf 50.7px,#000004 50.7px,#140e36 54.2px,#3b0f70 57.6px,#641a80 61.1px,#8c2981 64.5px,#b73779 68.0px,#de4968 71.5px,#f7705c 74.9px,#fe9f6d 78.4px,#fecf92 81.8px,#fcfdbf 85.3px,#000004 85.3px,#140e36 88.1px,#3b0f70 90.8px,#641a80 93.6px,#8c2981 96.3px,#b73779 99.1px,#de4968 101.9px,#f7705c 104.6px,#fe9f6d 107.4px,#fecf92 110.1px,#fcfdbf 112.9px,#000004 112.9px,#140e36 114.7px,#3b0f70 116.5px,#641a80 118.3px,#8c2981 120.1px,#b73779 121.8px,#de4968 123.6px,#f7705c 125.4px,#fe9f6d 127.2px,#fecf92 129.0px,#fcfdbf 130.8px,#000004 130.8px,#140e36 132.9px,#3b0f70 135.1px,#641a80 137.2px,#8c2981 139.3px,#b73779 141.4px,#de4968 143.6px,#f7705c 145.7px,#fe9f6d 147.8px,#fecf92 150.0px,#fcfdbf 152.1px,#000004 152.1px,#140e36 154.5px,#3b0f70 156.9px,#641a80 159.3px,#8c2981 161.7px,#b73779 164.0px,#de4968 166.4px,#f7705c 168.8px,#fe9f6d 171.2px,#fecf92 173.6px,#fcfdbf 176.0px,#000004 176.0px,#140e36 178.5px,#3b0f70 181.0px,#641a80 183.4px,#8c2981 185.9px,#b73779 188.4px,#de4968 190.9px,#f7705c 193.4px,#fe9f6d 195.8px,#fecf92 198.3px,#fcfdbf 200.8px,#000004 200.8px,#140e36 203.3px,#3b0f70 205.9px,#641a80 208.4px,#8c2981 210.9px,#b73779 213.4px,#de4968 216.0px,#f7705c 218.5px,#fe9f6d 221.0px,#fecf92 223.6px,#fcfdbf 226.1px,#000004 226.1px,#140e36 228.6px,#3b0f70 231.1px,#641a80 233.6px,#8c2981 236.1px,#b73779 238.7px,#de4968 241.2px,#f7705c 243.7px,#fe9f6d 246.2px,#fecf92 248.7px,#fcfdbf 251.2px,#000004 251.2px,#140e36 253.7px,#3b0f70 256.3px,#641a80 258.8px,#8c2981 261.4px,#b73779 263.9px,#de4968 266.4px,#f7705c 269.0px,#fe9f6d 271.5px,#fecf92 274.1px,#fcfdbf 276.6px,#000004 276.6px,#140e36 279.1px,#3b0f70 281.6px,#641a80 284.2px,#8c2981 286.7px,#b73779 289.2px,#de4968 291.7px,#f7705c 294.2px,#fe9f6d 296.8px,#fecf92 299.3px,#fcfdbf 301.8px,#000004 301.8px,#140e36 304.2px,#3b0f70 306.5px,#641a80 308.9px,#8c2981 311.3px,#b73779 313.7px,#de4968 316.0px,#f7705c 318.4px,#fe9f6d 320.8px,#fecf92 323.1px,#fcfdbf 325.5px,#000004 325.5px,#140e36 327.8px,#3b0f70 330.2px,#641a80 332.5px,#8c2981 334.9px,#b73779 337.2px,#de4968 339.6px,#f7705c 342.0px,#fe9f6d 344.3px,#fecf92 346.7px,#fcfdbf 349.0px,#000004 349.0px,#140e36 350.9px,#3b0f70 352.9px,#641a80 354.8px,#8c2981 356.8px,#b73779 358.7px,#de4968 360.6px,#f7705c 362.6px,#fe9f6d 364.5px,#fecf92 366.5px,#fcfdbf 368.4px,#000004 368.4px,#140e36 370.2px,#3b0f70 371.9px,#641a80 373.7px,#8c2981 375.4px,#b73779 377.2px,#de4968 379.0px,#f7705c 380.7px,#fe9f6d 382.5px,#fecf92 384.2px,#fcfdbf 386.0px,#000004 386.0px,#140e36 387.2px,#3b0f70 388.4px,#641a80 389.7px,#8c2981 390.9px,#b73779 392.1px,#de4968 393.3px,#f7705c 394.5px,#fe9f6d 395.8px,#fecf92 397.0px,#fcfdbf 398.2px,#02020d 398.2px,#140e36 398.7px,#3b0f70 399.4px,#641a80 400.1px,#8c2981 400.8px,#b73779 401.5px,#bc3978 401.6px,#000004 401.6px,#140e36 402.5px,#3b0f70 403.4px,#641a80 404.2px,#8c2981 405.1px,#b73779 406.0px,#de4968 406.9px,#f7705c 407.7px,#fe9f6d 408.6px,#fecf92 409.5px,#fcfdbf 410.4px,#000004 410.4px,#140e36 411.1px,#3b0f70 411.8px,#641a80 412.5px,#8c2981 413.2px,#b73779 413.8px,#de4968 414.5px,#f7705c 415.2px,#fe9f6d 415.9px,#fecf92 416.6px,#fcfdbf 417.3px,#a8327d 417.3px,#b73779 417.7px,#de4968 418.7px,#f7705c 419.7px,#fd9668 420.5px,#21114e 420.5px,#3b0f70 421.3px,#641a80 422.5px,#8c2981 423.8px,#b73779 425.1px,#de4968 426.4px,#f7705c 427.6px,#fe9d6c 428.8px,#000004 428.8px,#140e36 429.6px,#3b0f70 430.5px,#641a80 431.3px,#8c2981 432.1px,#b73779 433.0px,#de4968 433.8px,#f7705c 434.6px,#fe9f6d 435.5px,#fecf92 436.3px,#fcfdbf 437.1px,#010005 437.1px,#140e36 437.9px,#3b0f70 438.8px,#641a80 439.6px,#8c2981 440.4px,#b73779 441.3px,#d6456c 442.0px,#000004 442.0px,#140e36 442.8px,#3b0f70 443.6px,#641a80 444.4px,#8c2981 445.2px,#992d80 445.5px)"></div><div style="left:1277.0px;top:275.75px;width:445.5px;height:27.18px;background:linear-gradient(90deg,#ca3e72 0.0px,#de4968 1.8px,#f7705c 5.5px,#fe9f6d 9.1px,#fecf92 12.8px,#fcfdbf 16.4px,#000004 16.4px,#140e36 19.9px,#3b0f70 23.5px,#641a80 27.0px,#8c2981 30.5px,#b73779 34.1px,#de4968 37.6px,#f7705c 41.1px,#fe9f6d 44.6px,#fecf92 48.2px,#fcfdbf 51.7px,#000004 51.7px,#140e36 55.0px,#3b0f70 58.3px,#641a80 61.6px,#8c2981 64.9px,#b73779 68.2px,#de4968 71.5px,#f7705c 74.8px,#fe9f6d 78.1px,#fecf92 81.4px,#fcfdbf 84.7px,#000004 84.7px,#140e36 88.4px,#3b0f70 92.0px,#641a80 95.7px,#8c2981 99.4px,#b73779 103.1px,#de4968 106.7px,#f7705c 110.4px,#000004 110.4px,#140e36 111.3px,#3b0f70 112.2px,#641a80 113.1px,#8c2981 114.0px,#b73779 114.9px,#de4968 115.8px,#f7705c 116.7px,#fe9f6d 117.6px,#fecf92 118.5px,#fcfdbf 119.4px,#000004 119.4px,#140e36 121.6px,#3b0f70 123.8px,#641a80 125.9px,#8c2981 128.1px,#b73779 130.3px,#de4968 132.5px,#f7705c 134.7px,#fe9f6d 136.8px,#fecf92 139.0px,#fcfdbf 141.2px,#000004 141.2px,#140e36 143.5px,#3b0f70 145.8px,#641a80 148.0px,#8c2981 150.3px,#b73779 152.6px,#de4968 154.9px,#f7705c 157.2px,#fe9f6d 159.4px,#fecf92 161.7px,#fcfdbf 164.0px,#000004 164.0px,#140e36 166.4px,#3b0f70 168.9px,#641a80 171.3px,#8c2981 173.8px,#b73779 176.2px,#de4968 178.6px,#f7705c 181.1px,#fe9f6d 183.5px,#fecf92 186.0px,#fcfdbf 188.4px,#000004 188.4px,#140e36 190.8px,#3b0f70 193.3px,#641a80 195.7px,#8c2981 198.1px,#b73779 200.6px,#de4968 203.0px,#f7705c 205.4px,#fe9f6d 207.8px,#fecf92 210.3px,#fcfdbf 212.7px,#000004 212.7px,#140e36 215.2px,#3b0f70 217.8px,#641a80 220.4px,#8c2981 222.9px,#b73779 225.5px,#de4968 228.0px,#f7705c 230.5px,#fe9f6d 233.1px,#fecf92 235.7px,#fcfdbf 238.2px,#000004 238.2px,#140e36 240.8px,#3b0f70 243.3px,#641a80 245.9px,#8c2981 248.4px,#b73779 251.0px,#de4968 253.5px,#f7705c 256.0px,#fe9f6d 258.6px,#fecf92 261.2px,#fcfdbf 263.7px,#000004 263.7px,#140e36 266.2px,#3b0f70 268.8px,#641a80 271.3px,#8c2981 273.9px,#b73779 276.4px,#de4968 278.9px,#f7705c 281.5px,#fe9f6d 284.0px,#fecf92 286.6px,#fcfdbf 289.1px,#000004 289.1px,#140e36 291.6px,#3b0f70 294.1px,#641a80 296.5px,#8c2981 299.0px,#b73779 301.5px,#de4968 304.0px,#f7705c 306.5px,#fe9f6d 308.9px,#fecf92 311.4px,#fcfdbf 313.9px,#000004 313.9px,#140e36 316.2px,#3b0f70 318.6px,#641a80 320.9px,#8c2981 323.3px,#b73779 325.6px,#de4968 327.9px,#f7705c 330.3px,#fe9f6d 332.6px,#fecf92 335.0px,#fcfdbf 337.3px,#000004 337.3px,#140e36 339.5px,#3b0f70 341.6px,#641a80 343.8px,#8c2981 346.0px,#b73779 348.2px,#de4968 350.3px,#f7705c 352.5px,#fe9f6d 354.7px,#fecf92 356.8px,#fcfdbf 359.0px,#000004 359.0px,#140e36 360.8px,#3b0f70 362.6px,#641a80 364.4px,#8c2981 366.2px,#b73779 368.0px,#de4968 369.9px,#f7705c 371.7px,#fe9f6d 373.5px,#fecf92 375.3px,#fcfdbf 377.1px,#000004 377.1px,#140e36 378.6px,#3b0f70 380.1px,#641a80 381.7px,#8c2981 383.2px,#b73779 384.7px,#de4968 386.2px,#f7705c 387.7px,#fe9f6d 389.3px,#fecf92 390.8px,#fcfdbf 392.3px,#000004 392.3px,#140e36 392.7px,#3b0f70 393.1px,#641a80 393.6px,#8c2981 394.0px,#b73779 394.4px,#de4968 394.8px,#f7705c 395.2px,#fe9f6d 395.6px,#fecf92 396.1px,#fcfdbf 396.5px,#000004 396.5px,#140e36 396.9px,#3b0f70 397.4px,#641a80 397.8px,#8c2981 398.3px,#b73779 398.7px,#de4968 399.2px,#f7705c 399.6px,#fe9f6d 400.1px,#fecf92 400.5px,#fcfdbf 401.0px,#000004 401.0px,#140e36 402.0px,#3b0f70 403.0px,#641a80 404.0px,#8c2981 404.9px,#b73779 405.9px,#de4968 406.9px,#f7705c 407.9px,#fe9f6d 408.9px,#fecf92 409.9px,#fcfdbf 410.9px,#20114b 410.9px,#3b0f70 411.6px,#641a80 412.7px,#8c2981 413.9px,#b73779 415.0px,#de4968 416.2px,#ec5860 416.7px,#3f0f72 416.7px,#641a80 417.2px,#8c2981 417.8px,#b73779 418.4px,#de4968 419.0px,#f7705c 419.6px,#fe9f6d 420.2px,#fecf92 420.8px,#fdda9c 421.0px,#000004 421.0px,#140e36 421.6px,#3b0f70 422.2px,#641a80 422.8px,#8c2981 423.5px,#b73779 424.1px,#de4968 424.7px,#f7705c 425.3px,#fe9f6d 425.9px,#fecf92 426.5px,#fcfdbf 427.2px,#20114b 427.2px,#3b0f70 427.7px,#641a80 428.5px,#8c2981 429.2px,#b73779 430.0px,#de4968 430.8px,#f7705c 431.6px,#fe9f6d 432.4px,#feca8d 433.0px,#000004 433.0px,#140e36 433.9px,#3b0f70 434.7px,#641a80 435.5px,#8c2981 436.3px,#b73779 437.1px,#de4968 437.9px,#f7705c 438.7px,#fe9f6d 439.5px,#fecf92 440.3px,#fcfdbf 441.1px,#2f1163 441.1px,#3b0f70 441.4px,#641a80 442.5px,#8c2981 443.7px,#b73779 444.8px,#cf4070 445.5px)"></div><div style="left:1277.0px;top:302.53px;width:445.5px;height:27.18px;background:linear-gradient(90deg,#ca3e72 0.0px,#de4968 2.0px,#f7705c 6.1px,#fe9f6d 10.1px,#fecf92 14.2px,#fcfdbf 18.2px,#000004 18.2px,#140e36 21.7px,#3b0f70 25.3px,#641a80 28.8px,#8c2981 32.3px,#b73779 35.8px,#de4968 39.4px,#f7705c 42.9px,#fe9f6d 46.4px,#fecf92 49.9px,#fde7a9 51.7px,#000004 51.7px,#140e36 54.9px,#3b0f70 58.1px,#641a80 61.3px,#8c2981 64.5px,#b73779 67.8px,#de4968 71.0px,#f7705c 74.2px,#fe9f6d 77.4px,#fecf92 80.6px,#fcfdbf 83.8px,#000004 83.8px,#140e36 86.0px,#3b0f70 88.2px,#641a80 90.4px,#8c2981 92.6px,#b73779 94.8px,#de4968 97.0px,#f7705c 99.2px,#fe9f6d 101.4px,#fecf92 103.6px,#fcfdbf 105.8px,#000004 105.8px,#140e36 106.5px,#3b0f70 107.2px,#641a80 107.9px,#8c2981 108.6px,#b73779 109.3px,#de4968 110.1px,#f7705c 110.8px,#fe9f6d 111.5px,#fecf92 112.2px,#fcfdbf 112.9px,#000004 112.9px,#140e36 114.7px,#3b0f70 116.5px,#641a80 118.3px,#8c2981 120.1px,#b73779 121.8px,#de4968 123.6px,#f7705c 125.4px,#fe9f6d 127.2px,#fecf92 129.0px,#fcfdbf 130.8px,#000004 130.8px,#140e36 132.9px,#3b0f70 135.1px,#641a80 137.2px,#8c2981 139.3px,#b73779 141.4px,#de4968 143.6px,#f7705c 145.7px,#fe9f6d 147.8px,#fecf92 150.0px,#fcfdbf 152.1px,#000004 152.1px,#140e36 154.5px,#3b0f70 156.9px,#641a80 159.3px,#8c2981 161.7px,#b73779 164.0px,#de4968 166.4px,#f7705c 168.8px,#fe9f6d 171.2px,#fecf92 173.6px,#fcfdbf 176.0px,#000004 176.0px,#140e36 178.5px,#3b0f70 181.0px,#641a80 183.4px,#8c2981 185.9px,#b73779 188.4px,#de4968 190.9px,#f7705c 193.4px,#fe9f6d 195.8px,#fecf92 198.3px,#fcfdbf 200.8px,#000004 200.8px,#140e36 203.3px,#3b0f70 205.9px,#641a80 208.4px,#8c2981 210.9px,#b73779 213.4px,#de4968 216.0px,#f7705c 218.5px,#fe9f6d 221.0px,#fecf92 223.6px,#fcfdbf 226.1px,#000004 226.1px,#140e36 228.6px,#3b0f70 231.1px,#641a80 233.6px,#8c2981 236.1px,#b73779 238.7px,#de4968 241.2px,#f7705c 243.7px,#fe9f6d 246.2px,#fecf92 248.7px,#fcfdbf 251.2px,#000004 251.2px,#140e36 253.7px,#3b0f70 256.3px,#641a80 258.8px,#8c2981 261.4px,#b73779 263.9px,#de4968 266.4px,#f7705c 269.0px,#fe9f6d 271.5px,#fecf92 274.1px,#fcfdbf 276.6px,#000004 276.6px,#140e36 279.1px,#3b0f70 281.6px,#641a80 284.2px,#8c2981 286.7px,#b73779 289.2px,#de4968 291.7px,#f7705c 294.2px,#fe9f6d 296.8px,#fecf92 299.3px,#fcfdbf 301.8px,#000004 301.8px,#140e36 304.2px,#3b0f70 306.5px,#641a80 308.9px,#8c2981 311.3px,#b73779 313.7px,#de4968 316.0px,#f7705c 318.4px,#fe9f6d 320.8px,#fecf92 323.1px,#fcfdbf 325.5px,#000004 325.5px,#140e36 327.8px,#3b0f70 330.2px,#641a80 332.5px,#8c2981 334.9px,#b73779 337.2px,#de4968 339.6px,#f7705c 342.0px,#fe9f6d 344.3px,#fecf92 346.7px,#fcfdbf 349.0px,#000004 349.0px,#140e36 350.9px,#3b0f70 352.9px,#641a80 354.8px,#8c2981 356.8px,#b73779 358.7px,#de4968 360.6px,#f7705c 362.6px,#fe9f6d 364.5px,#fecf92 366.5px,#fcfdbf 368.4px,#000004 368.4px,#140e36 370.2px,#3b0f70 371.9px,#641a80 373.7px,#8c2981 375.4px,#b73779 377.2px,#de4968 379.0px,#f7705c 380.7px,#fe9f6d 382.5px,#fecf92 384.2px,#fcfdbf 386.0px,#000004 386.0px,#140e36 387.2px,#3b0f70 388.4px,#641a80 389.7px,#8c2981 390.9px,#b73779 392.1px,#de4968 393.3px,#f7705c 394.5px,#fe9f6d 395.8px,#fecf92 397.0px,#fcfdbf 398.2px,#000004 398.2px,#140e36 398.5px,#3b0f70 398.9px,#641a80 399.2px,#8c2981 399.6px,#b73779 399.9px,#de4968 400.3px,#f7705c 400.6px,#fe9f6d 401.0px,#fecf92 401.3px,#fcfdbf 401.7px,#621980 401.7px,#641a80 401.8px,#8c2981 402.9px,#b73779 404.0px,#de4968 405.2px,#f7705c 406.3px,#fe9f6d 407.4px,#fecf92 408.5px,#fdebac 409.2px,#311165 409.2px,#3b0f70 409.6px,#641a80 411.5px,#8c2981 413.4px,#b73779 415.3px,#b73779 415.4px,#000004 415.4px,#140e36 416.2px,#3b0f70 417.1px,#641a80 418.0px,#8c2981 418.8px,#b73779 419.7px,#de4968 420.6px,#f7705c 421.5px,#fe9f6d 422.3px,#fecf92 423.2px,#fcfdbf 424.1px,#000004 424.1px,#140e36 424.9px,#3b0f70 425.8px,#641a80 426.7px,#8c2981 427.5px,#b73779 428.4px,#de4968 429.3px,#f7705c 430.1px,#fe9f6d 431.0px,#fecf92 431.9px,#fcfdbf 432.7px,#000004 432.7px,#140e36 433.7px,#3b0f70 434.7px,#641a80 435.7px,#8c2981 436.7px,#b73779 437.6px,#de4968 438.6px,#f7705c 439.6px,#fe9f6d 440.6px,#fecf92 441.6px,#fcfdbf 442.5px,#932b80 442.5px,#b73779 444.1px,#d6456c 445.5px)"></div><div style="left:1277.0px;top:329.31px;width:445.5px;height:27.18px;background:linear-gradient(90deg,#ca3e72 0.0px,#de4968 2.2px,#f7705c 6.7px,#fe9f6d 11.1px,#fecf92 15.6px,#fcfdbf 20.0px,#000004 20.0px,#140e36 23.5px,#3b0f70 27.0px,#641a80 30.6px,#8c2981 34.1px,#b73779 37.6px,#de4968 41.1px,#f7705c 44.7px,#fe9f6d 48.2px,#fecf92 51.7px,#000004 51.7px,#140e36 55.1px,#3b0f70 58.5px,#641a80 61.9px,#8c2981 65.3px,#b73779 68.7px,#de4968 72.0px,#f7705c 75.4px,#fe9f6d 78.8px,#fecf92 82.2px,#fcfdbf 85.6px,#000004 85.6px,#140e36 88.2px,#3b0f70 90.9px,#641a80 93.5px,#8c2981 96.1px,#b73779 98.7px,#de4968 101.4px,#f7705c 104.0px,#000004 104.0px,#140e36 105.5px,#3b0f70 107.1px,#641a80 108.6px,#8c2981 110.2px,#b73779 111.7px,#de4968 113.2px,#f7705c 114.8px,#fe9f6d 116.3px,#fecf92 117.9px,#fcfdbf 119.4px,#000004 119.4px,#140e36 121.6px,#3b0f70 123.8px,#641a80 125.9px,#8c2981 128.1px,#b73779 130.3px,#de4968 132.5px,#f7705c 134.7px,#fe9f6d 136.8px,#fecf92 139.0px,#fcfdbf 141.2px,#000004 141.2px,#140e36 143.5px,#3b0f70 145.8px,#641a80 148.0px,#8c2981 150.3px,#b73779 152.6px,#de4968 154.9px,#f7705c 157.2px,#fe9f6d 159.4px,#fecf92 161.7px,#fcfdbf 164.0px,#000004 164.0px,#140e36 166.4px,#3b0f70 168.9px,#641a80 171.3px,#8c2981 173.8px,#b73779 176.2px,#de4968 178.6px,#f7705c 181.1px,#fe9f6d 183.5px,#fecf92 186.0px,#fcfdbf 188.4px,#000004 188.4px,#140e36 190.8px,#3b0f70 193.3px,#641a80 195.7px,#8c2981 198.1px,#b73779 200.6px,#de4968 203.0px,#f7705c 205.4px,#fe9f6d 207.8px,#fecf92 210.3px,#fcfdbf 212.7px,#000004 212.7px,#140e36 215.2px,#3b0f70 217.8px,#641a80 220.4px,#8c2981 222.9px,#b73779 225.5px,#de4968 228.0px,#f7705c 230.5px,#fe9f6d 233.1px,#fecf92 235.7px,#fcfdbf 238.2px,#000004 238.2px,#140e36 240.8px,#3b0f70 243.3px,#641a80 245.9px,#8c2981 248.4px,#b73779 251.0px,#de4968 253.5px,#f7705c 256.0px,#fe9f6d 258.6px,#fecf92 261.2px,#fcfdbf 263.7px,#000004 263.7px,#140e36 266.2px,#3b0f70 268.8px,#641a80 271.3px,#8c2981 273.9px,#b73779 276.4px,#de4968 278.9px,#f7705c 281.5px,#fe9f6d 284.0px,#fecf92 286.6px,#fcfdbf 289.1px,#000004 289.1px,#140e36 291.6px,#3b0f70 294.1px,#641a80 296.5px,#8c2981 299.0px,#b73779 301.5px,#de4968 304.0px,#f7705c 306.5px,#fe9f6d 308.9px,#fecf92 311.4px,#fcfdbf 313.9px,#000004 313.9px,#140e36 316.2px,#3b0f70 318.6px,#641a80 320.9px,#8c2981 323.3px,#b73779 325.6px,#de4968 327.9px,#f7705c 330.3px,#fe9f6d 332.6px,#fecf92 335.0px,#fcfdbf 337.3px,#000004 337.3px,#140e36 339.5px,#3b0f70 341.6px,#641a80 343.8px,#8c2981 346.0px,#b73779 348.2px,#de4968 350.3px,#f7705c 352.5px,#fe9f6d 354.7px,#fecf92 356.8px,#fcfdbf 359.0px,#000004 359.0px,#140e36 360.8px,#3b0f70 362.6px,#641a80 364.4px,#8c2981 366.2px,#b73779 368.0px,#de4968 369.9px,#f7705c 371.7px,#fe9f6d 373.5px,#fecf92 375.3px,#fcfdbf 377.1px,#000004 377.1px,#140e36 378.6px,#3b0f70 380.1px,#641a80 381.7px,#8c2981 383.2px,#b73779 384.7px,#de4968 386.2px,#f7705c 387.7px,#fe9f6d 389.3px,#fecf92 390.8px,#fcfdbf 392.3px,#000004 392.3px,#140e36 392.8px,#3b0f70 393.4px,#641a80 393.9px,#8c2981 394.4px,#b73779 395.0px,#de4968 395.5px,#f7705c 396.1px,#fe9f6d 396.6px,#fecf92 397.1px,#fcfdbf 397.7px,#8c2981 397.7px,#8c2981 397.7px,#b73779 398.9px,#de4968 400.2px,#f7705c 401.5px,#fe9f6d 402.7px,#fe9f6d 402.7px,#732081 402.7px,#8c2981 403.5px,#b73779 404.7px,#de4968 406.0px,#f7705c 407.2px,#fe9f6d 408.4px,#fea772 408.6px,#000004 408.6px,#140e36 409.5px,#3b0f70 410.4px,#641a80 411.3px,#8c2981 412.2px,#b73779 413.1px,#de4968 414.0px,#f7705c 414.9px,#fe9f6d 415.8px,#fecf92 416.7px,#fcfdbf 417.6px,#000004 417.6px,#140e36 418.0px,#3b0f70 418.3px,#641a80 418.7px,#8c2981 419.1px,#b73779 419.4px,#de4968 419.8px,#f7705c 420.1px,#fe9f6d 420.5px,#fecf92 420.8px,#fcfdbf 421.2px,#3b0f70 421.2px,#3b0f70 421.2px,#641a80 422.4px,#8c2981 423.5px,#b73779 424.7px,#de4968 425.8px,#f7705c 427.0px,#fe9f6d 428.1px,#fecf92 429.3px,#fde3a5 429.8px,#000004 429.8px,#140e36 430.5px,#3b0f70 431.1px,#641a80 431.8px,#8c2981 432.5px,#b73779 433.2px,#de4968 433.9px,#f7705c 434.6px,#fe9f6d 435.3px,#fecf92 435.9px,#fcfdbf 436.6px,#000004 436.6px,#140e36 437.0px,#3b0f70 437.4px,#641a80 437.8px,#8c2981 438.2px,#b73779 438.6px,#de4968 439.0px,#f7705c 439.4px,#fe9f6d 439.8px,#fecf92 440.2px,#fcfdbf 440.6px,#000004 440.6px,#140e36 441.5px,#3b0f70 442.4px,#641a80 443.3px,#8c2981 444.2px,#b73779 445.2px,#c53c74 445.5px)"></div><div style="left:1277.0px;top:356.09px;width:445.5px;height:27.18px;background:linear-gradient(90deg,#a1307e 0.0px,#b73779 2.1px,#de4968 6.2px,#f7705c 10.4px,#fe9f6d 14.5px,#fecf92 18.7px,#fcfdbf 22.8px,#000004 22.8px,#140e36 25.8px,#3b0f70 28.9px,#641a80 31.9px,#8c2981 35.0px,#b73779 38.0px,#de4968 41.1px,#f7705c 44.1px,#fe9f6d 47.1px,#fecf92 50.2px,#fde7a9 51.7px,#000004 51.7px,#140e36 54.9px,#3b0f70 58.1px,#641a80 61.3px,#8c2981 64.5px,#b73779 67.8px,#de4968 71.0px,#f7705c 74.2px,#fe9f6d 77.4px,#fecf92 80.6px,#fcfdbf 83.8px,#000004 83.8px,#140e36 86.3px,#3b0f70 88.8px,#641a80 91.2px,#8c2981 93.7px,#b73779 96.2px,#de4968 98.7px,#f7705c 101.2px,#fe9f6d 103.7px,#feb77e 104.9px,#000004 104.9px,#140e36 105.7px,#3b0f70 106.5px,#641a80 107.3px,#8c2981 108.1px,#b73779 108.9px,#de4968 109.7px,#f7705c 110.5px,#fe9f6d 111.3px,#fecf92 112.1px,#fcfdbf 112.9px,#000004 112.9px,#140e36 114.7px,#3b0f70 116.5px,#641a80 118.3px,#8c2981 120.1px,#b73779 121.8px,#de4968 123.6px,#f7705c 125.4px,#fe9f6d 127.2px,#fecf92 129.0px,#fcfdbf 130.8px,#000004 130.8px,#140e36 132.9px,#3b0f70 135.1px,#641a80 137.2px,#8c2981 139.3px,#b73779 141.4px,#de4968 143.6px,#f7705c 145.7px,#fe9f6d 147.8px,#fecf92 150.0px,#fcfdbf 152.1px,#000004 152.1px,#140e36 154.5px,#3b0f70 156.9px,#641a80 159.3px,#8c2981 161.7px,#b73779 164.0px,#de4968 166.4px,#f7705c 168.8px,#fe9f6d 171.2px,#fecf92 173.6px,#fcfdbf 176.0px,#000004 176.0px,#140e36 178.5px,#3b0f70 181.0px,#641a80 183.4px,#8c2981 185.9px,#b73779 188.4px,#de4968 190.9px,#f7705c 193.4px,#fe9f6d 195.8px,#fecf92 198.3px,#fcfdbf 200.8px,#000004 200.8px,#140e36 203.3px,#3b0f70 205.9px,#641a80 208.4px,#8c2981 210.9px,#b73779 213.4px,#de4968 216.0px,#f7705c 218.5px,#fe9f6d 221.0px,#fecf92 223.6px,#fcfdbf 226.1px,#000004 226.1px,#140e36 228.6px,#3b0f70 231.1px,#641a80 233.6px,#8c2981 236.1px,#b73779 238.7px,#de4968 241.2px,#f7705c 243.7px,#fe9f6d 246.2px,#fecf92 248.7px,#fcfdbf 251.2px,#000004 251.2px,#140e36 253.7px,#3b0f70 256.3px,#641a80 258.8px,#8c2981 261.4px,#b73779 263.9px,#de4968 266.4px,#f7705c 269.0px,#fe9f6d 271.5px,#fecf92 274.1px,#fcfdbf 276.6px,#000004 276.6px,#140e36 279.1px,#3b0f70 281.6px,#641a80 284.2px,#8c2981 286.7px,#b73779 289.2px,#de4968 291.7px,#f7705c 294.2px,#fe9f6d 296.8px,#fecf92 299.3px,#fcfdbf 301.8px,#000004 301.8px,#140e36 304.2px,#3b0f70 306.5px,#641a80 308.9px,#8c2981 311.3px,#b73779 313.7px,#de4968 316.0px,#f7705c 318.4px,#fe9f6d 320.8px,#fecf92 323.1px,#fcfdbf 325.5px,#000004 325.5px,#140e36 327.8px,#3b0f70 330.2px,#641a80 332.5px,#8c2981 334.9px,#b73779 337.2px,#de4968 339.6px,#f7705c 342.0px,#fe9f6d 344.3px,#fecf92 346.7px,#fcfdbf 349.0px,#000004 349.0px,#140e36 350.9px,#3b0f70 352.9px,#641a80 354.8px,#8c2981 356.8px,#b73779 358.7px,#de4968 360.6px,#f7705c 362.6px,#fe9f6d 364.5px,#fecf92 366.5px,#fcfdbf 368.4px,#000004 368.4px,#140e36 370.2px,#3b0f70 371.9px,#641a80 373.7px,#8c2981 375.4px,#b73779 377.2px,#de4968 379.0px,#f7705c 380.7px,#fe9f6d 382.5px,#fecf92 384.2px,#fcfdbf 386.0px,#000004 386.0px,#140e36 387.2px,#3b0f70 388.4px,#641a80 389.7px,#8c2981 390.9px,#b73779 392.1px,#de4968 393.3px,#f7705c 394.5px,#fe9f6d 395.8px,#fecf92 397.0px,#fcfdbf 398.2px,#000004 398.2px,#140e36 398.6px,#3b0f70 398.9px,#641a80 399.3px,#8c2981 399.6px,#b73779 400.0px,#de4968 400.3px,#f7705c 400.7px,#fe9f6d 401.1px,#fecf92 401.4px,#fcfdbf 401.8px,#000004 401.8px,#140e36 402.3px,#3b0f70 402.8px,#641a80 403.3px,#8c2981 403.8px,#b73779 404.3px,#de4968 404.8px,#f7705c 405.3px,#fe9f6d 405.8px,#fecf92 406.3px,#fcfdbf 406.8px,#000004 406.8px,#140e36 407.7px,#3b0f70 408.6px,#641a80 409.4px,#8c2981 410.3px,#b73779 411.2px,#de4968 412.1px,#f7705c 413.0px,#fe9f6d 413.9px,#fecf92 414.7px,#fcfdbf 415.6px,#000004 415.6px,#140e36 416.0px,#3b0f70 416.5px,#641a80 416.9px,#8c2981 417.3px,#b73779 417.7px,#de4968 418.1px,#f7705c 418.5px,#fe9f6d 418.9px,#fecf92 419.4px,#fcfdbf 419.8px,#aa337d 419.8px,#b73779 420.4px,#de4968 422.8px,#f7705c 425.2px,#fe9f6d 427.5px,#fea571 427.8px,#000004 427.8px,#140e36 428.6px,#3b0f70 429.3px,#641a80 430.1px,#8c2981 430.9px,#b73779 431.6px,#de4968 432.4px,#f7705c 433.2px,#fe9f6d 433.9px,#fecf92 434.7px,#fcfdbf 435.5px,#000004 435.5px,#140e36 436.1px,#3b0f70 436.7px,#641a80 437.3px,#8c2981 437.9px,#b73779 438.5px,#de4968 439.1px,#f7705c 439.7px,#fe9f6d 440.4px,#fecf92 441.0px,#fcfdbf 441.6px,#8b2981 441.6px,#8c2981 441.7px,#b73779 443.1px,#de4968 444.6px,#ef5d5e 445.5px)"></div><div style="left:1277.0px;top:382.88px;width:445.5px;height:27.18px;background:linear-gradient(90deg,#a1307e 0.0px,#b73779 1.8px,#de4968 5.5px,#f7705c 9.1px,#fe9f6d 12.7px,#fecf92 16.4px,#fcfdbf 20.0px,#000004 20.0px,#140e36 22.6px,#3b0f70 25.2px,#641a80 27.8px,#8c2981 30.5px,#b73779 33.1px,#de4968 35.7px,#000004 35.7px,#140e36 37.3px,#3b0f70 38.9px,#641a80 40.4px,#8c2981 42.0px,#b73779 43.6px,#de4968 45.2px,#f7705c 46.8px,#fe9f6d 48.3px,#fecf92 49.9px,#fcfdbf 51.5px,#000004 51.5px,#140e36 52.9px,#3b0f70 54.3px,#641a80 55.8px,#8c2981 57.2px,#b73779 58.6px,#de4968 60.0px,#f7705c 61.5px,#fe9f6d 62.9px,#feb77e 63.6px,#000004 63.6px,#140e36 64.3px,#3b0f70 65.1px,#641a80 65.8px,#8c2981 66.6px,#b73779 67.3px,#de4968 68.0px,#f7705c 68.8px,#fe9f6d 69.5px,#fecf92 70.3px,#fcfdbf 71.0px,#000004 71.0px,#140e36 72.3px,#3b0f70 73.6px,#641a80 74.8px,#8c2981 76.1px,#b73779 77.4px,#de4968 78.7px,#f7705c 80.0px,#fe9f6d 81.2px,#fecf92 82.5px,#fcfdbf 83.8px,#000004 83.8px,#140e36 84.3px,#3b0f70 84.9px,#641a80 85.5px,#8c2981 86.0px,#b73779 86.5px,#de4968 87.1px,#f7705c 87.6px,#fe9f6d 88.2px,#fecf92 88.8px,#fcfdbf 89.3px,#000004 89.3px,#140e36 90.8px,#3b0f70 92.2px,#641a80 93.7px,#8c2981 95.2px,#b73779 96.7px,#de4968 98.1px,#f7705c 99.6px,#fe9f6d 101.1px,#fecf92 102.5px,#fcfdbf 104.0px,#000004 104.0px,#140e36 105.5px,#3b0f70 107.1px,#641a80 108.6px,#8c2981 110.2px,#b73779 111.7px,#de4968 113.2px,#f7705c 114.8px,#fe9f6d 116.3px,#fecf92 117.9px,#fcfdbf 119.4px,#000004 119.4px,#140e36 121.6px,#3b0f70 123.8px,#641a80 125.9px,#8c2981 128.1px,#b73779 130.3px,#de4968 132.5px,#f7705c 134.7px,#fe9f6d 136.8px,#fecf92 139.0px,#fcfdbf 141.2px,#000004 141.2px,#140e36 143.5px,#3b0f70 145.8px,#641a80 148.0px,#8c2981 150.3px,#b73779 152.6px,#de4968 154.9px,#f7705c 157.2px,#fe9f6d 159.4px,#fecf92 161.7px,#fcfdbf 164.0px,#000004 164.0px,#140e36 166.4px,#3b0f70 168.9px,#641a80 171.3px,#8c2981 173.8px,#b73779 176.2px,#de4968 178.6px,#f7705c 181.1px,#fe9f6d 183.5px,#fecf92 186.0px,#fcfdbf 188.4px,#000004 188.4px,#140e36 190.8px,#3b0f70 193.3px,#641a80 195.7px,#8c2981 198.1px,#b73779 200.6px,#de4968 203.0px,#f7705c 205.4px,#fe9f6d 207.8px,#fecf92 210.3px,#fcfdbf 212.7px,#000004 212.7px,#140e36 215.2px,#3b0f70 217.8px,#641a80 220.4px,#8c2981 222.9px,#b73779 225.5px,#de4968 228.0px,#f7705c 230.5px,#fe9f6d 233.1px,#fecf92 235.7px,#fcfdbf 238.2px,#000004 238.2px,#140e36 240.8px,#3b0f70 243.3px,#641a80 245.9px,#8c2981 248.4px,#b73779 251.0px,#de4968 253.5px,#f7705c 256.0px,#fe9f6d 258.6px,#fecf92 261.2px,#fcfdbf 263.7px,#000004 263.7px,#140e36 266.2px,#3b0f70 268.8px,#641a80 271.3px,#8c2981 273.9px,#b73779 276.4px,#de4968 278.9px,#f7705c 281.5px,#fe9f6d 284.0px,#fecf92 286.6px,#fcfdbf 289.1px,#000004 289.1px,#140e36 291.6px,#3b0f70 294.1px,#641a80 296.5px,#8c2981 299.0px,#b73779 301.5px,#de4968 304.0px,#f7705c 306.5px,#fe9f6d 308.9px,#fecf92 311.4px,#fcfdbf 313.9px,#000004 313.9px,#140e36 316.2px,#3b0f70 318.6px,#641a80 320.9px,#8c2981 323.3px,#b73779 325.6px,#de4968 327.9px,#f7705c 330.3px,#fe9f6d 332.6px,#fecf92 335.0px,#fcfdbf 337.3px,#000004 337.3px,#140e36 339.5px,#3b0f70 341.6px,#641a80 343.8px,#8c2981 346.0px,#b73779 348.2px,#de4968 350.3px,#f7705c 352.5px,#fe9f6d 354.7px,#fecf92 356.8px,#fcfdbf 359.0px,#000004 359.0px,#140e36 360.8px,#3b0f70 362.6px,#641a80 364.4px,#8c2981 366.2px,#b73779 368.0px,#de4968 369.9px,#f7705c 371.7px,#fe9f6d 373.5px,#fecf92 375.3px,#fcfdbf 377.1px,#000004 377.1px,#140e36 378.6px,#3b0f70 380.1px,#641a80 381.7px,#8c2981 383.2px,#b73779 384.7px,#de4968 386.2px,#f7705c 387.7px,#fe9f6d 389.3px,#fecf92 390.8px,#fcfdbf 392.3px,#0b0924 392.3px,#140e36 392.5px,#3b0f70 393.0px,#641a80 393.6px,#8c2981 394.1px,#b73779 394.7px,#de4968 395.3px,#e04c67 395.3px,#000004 395.3px,#140e36 396.0px,#3b0f70 396.8px,#641a80 397.5px,#8c2981 398.2px,#b73779 399.0px,#de4968 399.7px,#f7705c 400.4px,#fe9f6d 401.2px,#fecf92 401.9px,#fcfdbf 402.7px,#000004 402.7px,#140e36 403.0px,#3b0f70 403.4px,#641a80 403.8px,#8c2981 404.2px,#b73779 404.6px,#de4968 405.0px,#f7705c 405.4px,#fe9f6d 405.8px,#fecf92 406.1px,#fcfdbf 406.5px,#000004 406.5px,#140e36 407.0px,#3b0f70 407.5px,#641a80 408.0px,#8c2981 408.5px,#b73779 409.0px,#de4968 409.5px,#f7705c 410.0px,#fe9f6d 410.5px,#fecf92 411.0px,#fcfdbf 411.4px,#02020b 411.4px,#140e36 412.4px,#3b0f70 413.6px,#641a80 414.8px,#8c2981 415.9px,#b73779 417.1px,#de4968 418.3px,#ee5b5e 418.9px,#000004 418.9px,#140e36 419.5px,#3b0f70 420.0px,#641a80 420.5px,#8c2981 421.1px,#b73779 421.6px,#de4968 422.1px,#f7705c 422.6px,#fe9f6d 423.2px,#fecf92 423.7px,#fcfdbf 424.2px,#000004 424.2px,#140e36 425.1px,#3b0f70 425.9px,#641a80 426.8px,#8c2981 427.6px,#b73779 428.4px,#de4968 429.3px,#f7705c 430.1px,#fe9f6d 431.0px,#fecf92 431.8px,#fcfdbf 432.7px,#000004 432.7px,#140e36 433.7px,#3b0f70 434.7px,#641a80 435.7px,#8c2981 436.7px,#b73779 437.7px,#de4968 438.7px,#f7705c 439.7px,#fe9f6d 440.7px,#fecf92 441.7px,#fcfdbf 442.6px,#000004 442.6px,#140e36 443.5px,#3b0f70 444.3px,#641a80 445.1px,#762181 445.5px)"></div><div style="left:1277.0px;top:409.66px;width:445.5px;height:27.18px;background:linear-gradient(90deg,#a1307e 0.0px,#b73779 1.6px,#de4968 4.7px,#f7705c 7.9px,#fe9f6d 11.0px,#fecf92 14.2px,#fcfdbf 17.3px,#000004 17.3px,#140e36 19.0px,#3b0f70 20.8px,#641a80 22.5px,#8c2981 24.3px,#b73779 26.0px,#de4968 27.8px,#f7705c 29.5px,#fe9f6d 31.3px,#fecf92 33.0px,#fcfdbf 34.8px,#000004 34.8px,#140e36 36.5px,#3b0f70 38.1px,#641a80 39.8px,#8c2981 41.4px,#b73779 43.0px,#de4968 44.7px,#f7705c 46.3px,#fe9f6d 48.0px,#fecf92 49.6px,#fcfdbf 51.3px,#000004 51.3px,#140e36 53.4px,#3b0f70 55.4px,#641a80 57.5px,#8c2981 59.5px,#b73779 61.6px,#de4968 63.7px,#f7705c 65.7px,#fe9f6d 67.8px,#fecf92 69.8px,#fcfdbf 71.9px,#000004 71.9px,#140e36 73.1px,#3b0f70 74.3px,#641a80 75.5px,#8c2981 76.7px,#b73779 77.8px,#de4968 79.0px,#f7705c 80.2px,#fe9f6d 81.4px,#fecf92 82.6px,#fcfdbf 83.8px,#000004 83.8px,#140e36 84.3px,#3b0f70 84.9px,#641a80 85.5px,#8c2981 86.0px,#b73779 86.5px,#de4968 87.1px,#f7705c 87.6px,#fe9f6d 88.2px,#fecf92 88.8px,#fcfdbf 89.3px,#000004 89.3px,#140e36 90.8px,#3b0f70 92.2px,#641a80 93.7px,#8c2981 95.2px,#b73779 96.7px,#de4968 98.1px,#f7705c 99.6px,#fe9f6d 101.1px,#fecf92 102.5px,#fcfdbf 104.0px,#000004 104.0px,#140e36 104.9px,#3b0f70 105.8px,#641a80 106.7px,#8c2981 107.6px,#b73779 108.5px,#de4968 109.3px,#f7705c 110.2px,#fe9f6d 111.1px,#fecf92 112.0px,#fcfdbf 112.9px,#000004 112.9px,#140e36 114.7px,#3b0f70 116.5px,#641a80 118.3px,#8c2981 120.1px,#b73779 121.8px,#de4968 123.6px,#f7705c 125.4px,#fe9f6d 127.2px,#fecf92 129.0px,#fcfdbf 130.8px,#000004 130.8px,#140e36 132.9px,#3b0f70 135.1px,#641a80 137.2px,#8c2981 139.3px,#b73779 141.4px,#de4968 143.6px,#f7705c 145.7px,#fe9f6d 147.8px,#fecf92 150.0px,#fcfdbf 152.1px,#000004 152.1px,#140e36 154.5px,#3b0f70 156.9px,#641a80 159.3px,#8c2981 161.7px,#b73779 164.0px,#de4968 166.4px,#f7705c 168.8px,#fe9f6d 171.2px,#fecf92 173.6px,#fcfdbf 176.0px,#000004 176.0px,#140e36 178.5px,#3b0f70 181.0px,#641a80 183.4px,#8c2981 185.9px,#b73779 188.4px,#de4968 190.9px,#f7705c 193.4px,#fe9f6d 195.8px,#fecf92 198.3px,#fcfdbf 200.8px,#000004 200.8px,#140e36 203.3px,#3b0f70 205.9px,#641a80 208.4px,#8c2981 210.9px,#b73779 213.4px,#de4968 216.0px,#f7705c 218.5px,#fe9f6d 221.0px,#fecf92 223.6px,#fcfdbf 226.1px,#000004 226.1px,#140e36 228.6px,#3b0f70 231.1px,#641a80 233.6px,#8c2981 236.1px,#b73779 238.7px,#de4968 241.2px,#f7705c 243.7px,#fe9f6d 246.2px,#fecf92 248.7px,#fcfdbf 251.2px,#000004 251.2px,#140e36 253.7px,#3b0f70 256.3px,#641a80 258.8px,#8c2981 261.4px,#b73779 263.9px,#de4968 266.4px,#f7705c 269.0px,#fe9f6d 271.5px,#fecf92 274.1px,#fcfdbf 276.6px,#000004 276.6px,#140e36 279.1px,#3b0f70 281.6px,#641a80 284.2px,#8c2981 286.7px,#b73779 289.2px,#de4968 291.7px,#f7705c 294.2px,#fe9f6d 296.8px,#fecf92 299.3px,#fcfdbf 301.8px,#000004 301.8px,#140e36 304.2px,#3b0f70 306.5px,#641a80 308.9px,#8c2981 311.3px,#b73779 313.7px,#de4968 316.0px,#f7705c 318.4px,#fe9f6d 320.8px,#fecf92 323.1px,#fcfdbf 325.5px,#000004 325.5px,#140e36 327.8px,#3b0f70 330.2px,#641a80 332.5px,#8c2981 334.9px,#b73779 337.2px,#de4968 339.6px,#f7705c 342.0px,#fe9f6d 344.3px,#fecf92 346.7px,#fcfdbf 349.0px,#000004 349.0px,#140e36 350.9px,#3b0f70 352.9px,#641a80 354.8px,#8c2981 356.8px,#b73779 358.7px,#de4968 360.6px,#f7705c 362.6px,#fe9f6d 364.5px,#fecf92 366.5px,#fcfdbf 368.4px,#000004 368.4px,#140e36 370.2px,#3b0f70 371.9px,#641a80 373.7px,#8c2981 375.4px,#b73779 377.2px,#de4968 379.0px,#f7705c 380.7px,#fe9f6d 382.5px,#fecf92 384.2px,#fcfdbf 386.0px,#000004 386.0px,#140e36 387.2px,#3b0f70 388.4px,#641a80 389.7px,#8c2981 390.9px,#b73779 392.1px,#de4968 393.3px,#f7705c 394.5px,#fe9f6d 395.8px,#fecf92 397.0px,#fcfdbf 398.2px,#4f127b 398.2px,#641a80 398.6px,#8c2981 399.3px,#b73779 400.0px,#de4968 400.7px,#f7705c 401.5px,#fe9f6d 402.2px,#feb67c 402.5px,#000004 402.5px,#140e36 403.3px,#3b0f70 404.2px,#641a80 405.0px,#8c2981 405.8px,#b73779 406.6px,#de4968 407.5px,#f7705c 408.3px,#fe9f6d 409.1px,#fecf92 410.0px,#fcfdbf 410.8px,#000004 410.8px,#140e36 411.3px,#3b0f70 411.9px,#641a80 412.4px,#8c2981 412.9px,#b73779 413.5px,#de4968 414.0px,#f7705c 414.5px,#fe9f6d 415.1px,#fecf92 415.6px,#fcfdbf 416.2px,#000004 416.2px,#140e36 417.1px,#3b0f70 418.1px,#641a80 419.1px,#8c2981 420.1px,#b73779 421.1px,#de4968 422.0px,#f7705c 423.0px,#fe9f6d 424.0px,#fecf92 425.0px,#fcfdbf 426.0px,#792282 426.0px,#8c2981 426.3px,#b73779 427.1px,#de4968 427.8px,#f7705c 428.6px,#fe9f6d 429.3px,#fecf92 430.1px,#fde7a9 430.5px,#57157e 430.5px,#641a80 430.8px,#8c2981 431.9px,#b73779 433.0px,#de4968 434.1px,#f7705c 435.2px,#fe9d6c 436.2px,#b0357b 436.2px,#b73779 436.5px,#de4968 438.4px,#f7705c 440.4px,#fe9f6d 442.3px,#fecf92 444.3px,#fde2a3 445.0px)"></div><div style="left:1277.0px;top:436.44px;width:445.5px;height:27.18px;background:linear-gradient(90deg,#a1307e 0.0px,#b73779 1.6px,#de4968 4.7px,#f7705c 7.9px,#fe9f6d 11.0px,#fecf92 14.2px,#fcfdbf 17.3px,#000004 17.3px,#140e36 18.9px,#3b0f70 20.4px,#641a80 22.0px,#8c2981 23.6px,#b73779 25.2px,#de4968 26.7px,#f7705c 28.3px,#fe9f6d 29.9px,#fecf92 31.4px,#fcfdbf 33.0px,#000004 33.0px,#140e36 34.8px,#3b0f70 36.7px,#641a80 38.5px,#8c2981 40.3px,#b73779 42.2px,#de4968 44.0px,#f7705c 45.8px,#fe9f6d 47.6px,#fecf92 49.5px,#fcfdbf 51.3px,#000004 51.3px,#140e36 53.6px,#3b0f70 55.9px,#641a80 58.2px,#8c2981 60.5px,#b73779 62.7px,#de4968 65.0px,#f7705c 67.3px,#fe9f6d 69.6px,#fecf92 71.9px,#000004 71.9px,#140e36 73.7px,#3b0f70 75.6px,#641a80 77.4px,#8c2981 79.2px,#b73779 81.1px,#de4968 82.9px,#f7705c 84.7px,#fe9f6d 86.5px,#fecf92 88.4px,#fcfdbf 90.2px,#000004 90.2px,#140e36 92.0px,#3b0f70 93.9px,#641a80 95.7px,#8c2981 97.6px,#b73779 99.4px,#de4968 101.2px,#f7705c 103.1px,#fc8961 104.0px,#000004 104.0px,#140e36 105.3px,#3b0f70 106.6px,#641a80 107.8px,#8c2981 109.1px,#b73779 110.4px,#de4968 111.7px,#f7705c 113.0px,#fe9f6d 114.2px,#fecf92 115.5px,#fcfdbf 116.8px,#000004 116.8px,#140e36 118.1px,#3b0f70 119.4px,#000004 119.4px,#140e36 121.6px,#3b0f70 123.8px,#641a80 125.9px,#8c2981 128.1px,#b73779 130.3px,#de4968 132.5px,#f7705c 134.7px,#fe9f6d 136.8px,#fecf92 139.0px,#fcfdbf 141.2px,#000004 141.2px,#140e36 143.5px,#3b0f70 145.8px,#641a80 148.0px,#8c2981 150.3px,#b73779 152.6px,#de4968 154.9px,#f7705c 157.2px,#fe9f6d 159.4px,#fecf92 161.7px,#fcfdbf 164.0px,#000004 164.0px,#140e36 166.4px,#3b0f70 168.9px,#641a80 171.3px,#8c2981 173.8px,#b73779 176.2px,#de4968 178.6px,#f7705c 181.1px,#fe9f6d 183.5px,#fecf92 186.0px,#fcfdbf 188.4px,#000004 188.4px,#140e36 190.8px,#3b0f70 193.3px,#641a80 195.7px,#8c2981 198.1px,#b73779 200.6px,#de4968 203.0px,#f7705c 205.4px,#fe9f6d 207.8px,#fecf92 210.3px,#fcfdbf 212.7px,#000004 212.7px,#140e36 215.2px,#3b0f70 217.8px,#641a80 220.4px,#8c2981 222.9px,#b73779 225.5px,#de4968 228.0px,#f7705c 230.5px,#fe9f6d 233.1px,#fecf92 235.7px,#fcfdbf 238.2px,#000004 238.2px,#140e36 240.8px,#3b0f70 243.3px,#641a80 245.9px,#8c2981 248.4px,#b73779 251.0px,#de4968 253.5px,#f7705c 256.0px,#fe9f6d 258.6px,#fecf92 261.2px,#fcfdbf 263.7px,#000004 263.7px,#140e36 266.2px,#3b0f70 268.8px,#641a80 271.3px,#8c2981 273.9px,#b73779 276.4px,#de4968 278.9px,#f7705c 281.5px,#fe9f6d 284.0px,#fecf92 286.6px,#fcfdbf 289.1px,#000004 289.1px,#140e36 291.6px,#3b0f70 294.1px,#641a80 296.5px,#8c2981 299.0px,#b73779 301.5px,#de4968 304.0px,#f7705c 306.5px,#fe9f6d 308.9px,#fecf92 311.4px,#fcfdbf 313.9px,#000004 313.9px,#140e36 316.2px,#3b0f70 318.6px,#641a80 320.9px,#8c2981 323.3px,#b73779 325.6px,#de4968 327.9px,#f7705c 330.3px,#fe9f6d 332.6px,#fecf92 335.0px,#fcfdbf 337.3px,#000004 337.3px,#140e36 339.5px,#3b0f70 341.6px,#641a80 343.8px,#8c2981 346.0px,#b73779 348.2px,#de4968 350.3px,#f7705c 352.5px,#fe9f6d 354.7px,#fecf92 356.8px,#fcfdbf 359.0px,#000004 359.0px,#140e36 360.8px,#3b0f70 362.6px,#641a80 364.4px,#8c2981 366.2px,#b73779 368.0px,#de4968 369.9px,#f7705c 371.7px,#fe9f6d 373.5px,#fecf92 375.3px,#fcfdbf 377.1px,#000004 377.1px,#140e36 378.6px,#3b0f70 380.1px,#641a80 381.7px,#8c2981 383.2px,#b73779 384.7px,#de4968 386.2px,#f7705c 387.7px,#fe9f6d 389.3px,#fecf92 390.8px,#fcfdbf 392.3px,#812581 392.3px,#8c2981 392.6px,#b73779 394.0px,#de4968 395.3px,#f7705c 396.6px,#fe9f6d 398.0px,#fea16e 398.0px,#000004 398.0px,#140e36 398.5px,#3b0f70 399.0px,#641a80 399.6px,#8c2981 400.1px,#b73779 400.6px,#de4968 401.2px,#f7705c 401.7px,#fe9f6d 402.3px,#fecf92 402.8px,#fcfdbf 403.3px,#942c80 403.3px,#b73779 404.2px,#de4968 405.2px,#f7705c 406.2px,#fe9f6d 407.3px,#feb078 407.6px,#331067 407.6px,#3b0f70 407.8px,#641a80 409.0px,#8c2981 410.2px,#b73779 411.3px,#de4968 412.5px,#f7705c 413.7px,#fe9f6d 414.9px,#fecf92 416.0px,#fcfbbd 417.1px,#000004 417.1px,#140e36 417.7px,#3b0f70 418.3px,#641a80 418.8px,#8c2981 419.4px,#b73779 420.0px,#de4968 420.6px,#f7705c 421.1px,#fe9f6d 421.7px,#fec287 422.1px,#1d1147 422.1px,#3b0f70 422.5px,#641a80 423.1px,#8c2981 423.6px,#b73779 424.2px,#de4968 424.7px,#f7705c 425.3px,#fe9f6d 425.8px,#febd82 426.1px,#040414 426.1px,#140e36 426.6px,#3b0f70 427.4px,#641a80 428.1px,#8c2981 428.9px,#b73779 429.7px,#de4968 430.4px,#f7705c 431.2px,#fa7f5e 431.5px,#0b0924 431.5px,#140e36 431.7px,#3b0f70 432.4px,#641a80 433.2px,#8c2981 433.9px,#b73779 434.6px,#b73779 434.6px,#000004 434.6px,#140e36 435.4px,#3b0f70 436.2px,#641a80 437.0px,#8c2981 437.8px,#b73779 438.6px,#de4968 439.4px,#f7705c 440.2px,#fe9f6d 441.0px,#fecf92 441.8px,#fcfdbf 442.6px,#000004 442.6px,#140e36 443.1px,#3b0f70 443.6px,#641a80 444.1px,#8c2981 444.5px,#b73779 445.0px,#de4968 445.5px,#e04c67 445.5px)"></div><div style="left:1277.0px;top:463.22px;width:445.5px;height:27.18px;background:linear-gradient(90deg,#000004 0.0px,#140e36 2.3px,#3b0f70 4.7px,#641a80 7.0px,#000004 7.0px,#140e36 8.9px,#3b0f70 10.7px,#641a80 12.6px,#8c2981 14.4px,#b73779 16.3px,#de4968 18.2px,#f7705c 20.0px,#fe9f6d 21.9px,#fecf92 23.7px,#fcfdbf 25.6px,#000004 25.6px,#140e36 28.2px,#3b0f70 30.7px,#641a80 33.3px,#8c2981 35.9px,#b73779 38.4px,#de4968 41.0px,#f7705c 43.6px,#fe9f6d 46.2px,#fecf92 48.7px,#fcfdbf 51.3px,#000004 51.3px,#140e36 52.9px,#3b0f70 54.5px,#641a80 56.1px,#8c2981 57.7px,#b73779 59.3px,#de4968 60.9px,#f7705c 62.5px,#fe9f6d 64.1px,#fecf92 65.7px,#fcfdbf 67.3px,#000004 67.3px,#140e36 69.0px,#3b0f70 70.6px,#641a80 72.2px,#8c2981 73.9px,#b73779 75.5px,#de4968 77.2px,#f7705c 78.8px,#fe9f6d 80.5px,#fecf92 82.1px,#fcfdbf 83.8px,#000004 83.8px,#140e36 87.0px,#3b0f70 90.1px,#641a80 93.3px,#8c2981 96.5px,#b73779 99.7px,#de4968 102.8px,#f7705c 106.0px,#fc8961 107.6px,#000004 107.6px,#140e36 108.9px,#3b0f70 110.2px,#641a80 111.6px,#8c2981 112.9px,#000004 112.9px,#140e36 114.7px,#3b0f70 116.5px,#641a80 118.3px,#8c2981 120.1px,#b73779 121.8px,#de4968 123.6px,#f7705c 125.4px,#fe9f6d 127.2px,#fecf92 129.0px,#fcfdbf 130.8px,#000004 130.8px,#140e36 132.9px,#3b0f70 135.1px,#641a80 137.2px,#8c2981 139.3px,#b73779 141.4px,#de4968 143.6px,#f7705c 145.7px,#fe9f6d 147.8px,#fecf92 150.0px,#fcfdbf 152.1px,#000004 152.1px,#140e36 154.5px,#3b0f70 156.9px,#641a80 159.3px,#8c2981 161.7px,#b73779 164.0px,#de4968 166.4px,#f7705c 168.8px,#fe9f6d 171.2px,#fecf92 173.6px,#fcfdbf 176.0px,#000004 176.0px,#140e36 178.5px,#3b0f70 181.0px,#641a80 183.4px,#8c2981 185.9px,#b73779 188.4px,#de4968 190.9px,#f7705c 193.4px,#fe9f6d 195.8px,#fecf92 198.3px,#fcfdbf 200.8px,#000004 200.8px,#140e36 203.3px,#3b0f70 205.9px,#641a80 208.4px,#8c2981 210.9px,#b73779 213.4px,#de4968 216.0px,#f7705c 218.5px,#fe9f6d 221.0px,#fecf92 223.6px,#fcfdbf 226.1px,#000004 226.1px,#140e36 228.6px,#3b0f70 231.1px,#641a80 233.6px,#8c2981 236.1px,#b73779 238.7px,#de4968 241.2px,#f7705c 243.7px,#fe9f6d 246.2px,#fecf92 248.7px,#fcfdbf 251.2px,#000004 251.2px,#140e36 253.7px,#3b0f70 256.3px,#641a80 258.8px,#8c2981 261.4px,#b73779 263.9px,#de4968 266.4px,#f7705c 269.0px,#fe9f6d 271.5px,#fecf92 274.1px,#fcfdbf 276.6px,#000004 276.6px,#140e36 279.1px,#3b0f70 281.6px,#641a80 284.2px,#8c2981 286.7px,#b73779 289.2px,#de4968 291.7px,#f7705c 294.2px,#fe9f6d 296.8px,#fecf92 299.3px,#fcfdbf 301.8px,#000004 301.8px,#140e36 304.2px,#3b0f70 306.5px,#641a80 308.9px,#8c2981 311.3px,#b73779 313.7px,#de4968 316.0px,#f7705c 318.4px,#fe9f6d 320.8px,#fecf92 323.1px,#fcfdbf 325.5px,#000004 325.5px,#140e36 327.8px,#3b0f70 330.2px,#641a80 332.5px,#8c2981 334.9px,#b73779 337.2px,#de4968 339.6px,#f7705c 342.0px,#fe9f6d 344.3px,#fecf92 346.7px,#fcfdbf 349.0px,#000004 349.0px,#140e36 350.9px,#3b0f70 352.9px,#641a80 354.8px,#8c2981 356.8px,#b73779 358.7px,#de4968 360.6px,#f7705c 362.6px,#fe9f6d 364.5px,#fecf92 366.5px,#fcfdbf 368.4px,#000004 368.4px,#140e36 370.2px,#3b0f70 371.9px,#641a80 373.7px,#8c2981 375.4px,#b73779 377.2px,#de4968 379.0px,#f7705c 380.7px,#fe9f6d 382.5px,#fecf92 384.2px,#fcfdbf 386.0px,#000004 386.0px,#140e36 387.2px,#3b0f70 388.4px,#641a80 389.7px,#8c2981 390.9px,#b73779 392.1px,#de4968 393.3px,#f7705c 394.5px,#fe9f6d 395.8px,#fecf92 397.0px,#fcfdbf 398.2px,#130d34 398.2px,#140e36 398.3px,#3b0f70 399.1px,#641a80 400.0px,#8c2981 400.9px,#b73779 401.8px,#de4968 402.7px,#f7705c 403.6px,#fe9f6d 404.5px,#fecf92 405.4px,#fed597 405.5px,#6a1c81 405.5px,#8c2981 406.4px,#b73779 407.4px,#de4968 408.5px,#ee5b5e 409.0px,#0a0822 409.0px,#140e36 409.2px,#3b0f70 409.6px,#641a80 410.1px,#8c2981 410.5px,#b73779 410.9px,#de4968 411.4px,#f7705c 411.8px,#fe9f6d 412.3px,#fecf92 412.7px,#fcf9bb 413.1px,#4e117b 413.1px,#641a80 414.2px,#8c2981 416.4px,#b73779 418.5px,#de4968 420.6px,#eb5760 421.4px,#000004 421.4px,#140e36 422.0px,#3b0f70 422.5px,#641a80 423.1px,#8c2981 423.7px,#b73779 424.2px,#de4968 424.8px,#f7705c 425.3px,#fe9f6d 425.9px,#fecf92 426.4px,#fcfdbf 427.0px,#20114b 427.0px,#3b0f70 427.2px,#641a80 427.6px,#8c2981 428.1px,#b73779 428.5px,#de4968 428.9px,#f7705c 429.3px,#fe9f6d 429.7px,#fecf92 430.1px,#fcf2b4 430.4px,#9e2f7f 430.4px,#b73779 431.6px,#de4968 433.7px,#f7705c 435.9px,#fe9f6d 438.0px,#feb47b 438.9px,#341069 438.9px,#3b0f70 439.0px,#641a80 439.7px,#8c2981 440.3px,#b73779 441.0px,#de4968 441.6px,#f7705c 442.3px,#fe9f6d 443.0px,#fecf92 443.6px,#fcf9bb 444.2px,#38106c 444.2px,#3b0f70 444.3px,#57157e 445.5px)"></div><div style="left:915.0px;top:683.00px;width:445.5px;height:27.18px;background:linear-gradient(90deg,#fe9f6d 0.0px,#fecf92 3.5px,#fcfdbf 7.0px,#000004 7.0px,#140e36 9.5px,#3b0f70 12.1px,#641a80 14.6px,#8c2981 17.2px,#b73779 19.8px,#de4968 22.3px,#f7705c 24.9px,#fe9f6d 27.4px,#fecf92 30.0px,#fcfdbf 32.5px,#000004 32.5px,#140e36 35.2px,#3b0f70 37.9px,#641a80 40.7px,#8c2981 43.4px,#b73779 46.1px,#de4968 48.8px,#f7705c 51.5px,#fe9f6d 54.3px,#fecf92 57.0px,#fcfdbf 59.7px,#000004 59.7px,#140e36 62.6px,#3b0f70 65.5px,#51127c 67.0px,#782281 67.0px,#8c2981 68.7px,#b73779 72.2px,#de4968 75.7px,#f7705c 79.2px,#fe9f6d 82.7px,#fecf92 86.2px,#fcfdbf 89.7px,#000004 89.7px,#140e36 92.3px,#3b0f70 94.9px,#641a80 97.5px,#8c2981 100.1px,#b73779 102.6px,#de4968 105.2px,#f7705c 107.8px,#fe9f6d 110.4px,#fecf92 113.0px,#fcfdbf 115.6px,#000004 115.6px,#140e36 118.3px,#3b0f70 121.0px,#641a80 123.7px,#8c2981 126.4px,#b73779 129.0px,#de4968 131.7px,#f7705c 134.4px,#fe9f6d 137.1px,#fecf92 139.8px,#fcfdbf 142.5px,#000004 142.5px,#140e36 145.2px,#3b0f70 147.9px,#641a80 150.6px,#8c2981 153.3px,#b73779 156.0px,#de4968 158.8px,#f7705c 161.5px,#fe9f6d 164.2px,#fecf92 166.9px,#fcfdbf 169.6px,#000004 169.6px,#140e36 172.4px,#3b0f70 175.2px,#641a80 178.0px,#8c2981 180.8px,#b73779 183.5px,#de4968 186.3px,#f7705c 189.1px,#fe9f6d 191.9px,#fecf92 194.7px,#fcfdbf 197.5px,#000004 197.5px,#140e36 200.2px,#3b0f70 202.9px,#641a80 205.6px,#8c2981 208.3px,#b73779 211.0px,#de4968 213.7px,#f7705c 216.4px,#fe9f6d 219.1px,#fecf92 221.8px,#fcfdbf 224.5px,#000004 224.5px,#140e36 227.0px,#3b0f70 229.5px,#641a80 232.0px,#8c2981 234.5px,#b73779 237.0px,#de4968 239.6px,#f7705c 242.1px,#fe9f6d 244.6px,#fecf92 247.1px,#fcfdbf 249.6px,#000004 249.6px,#140e36 252.0px,#3b0f70 254.5px,#641a80 256.9px,#8c2981 259.3px,#b73779 261.8px,#de4968 264.2px,#f7705c 266.6px,#fe9f6d 269.0px,#fecf92 271.5px,#fcfdbf 273.9px,#000004 273.9px,#140e36 275.9px,#3b0f70 277.9px,#641a80 279.9px,#8c2981 281.9px,#b73779 284.0px,#de4968 286.0px,#f7705c 288.0px,#fe9f6d 290.0px,#fecf92 292.0px,#fcfdbf 294.0px,#000004 294.0px,#140e36 295.9px,#3b0f70 297.8px,#641a80 299.8px,#8c2981 301.7px,#b73779 303.6px,#de4968 305.5px,#f7705c 307.4px,#fe9f6d 309.4px,#fecf92 311.3px,#fcfdbf 313.2px,#000004 313.2px,#140e36 315.2px,#3b0f70 317.2px,#641a80 319.2px,#8c2981 321.2px,#b73779 323.2px,#de4968 325.2px,#f7705c 327.2px,#fe9f6d 329.2px,#fecf92 331.2px,#fcfdbf 333.2px,#000004 333.2px,#140e36 334.5px,#3b0f70 335.7px,#641a80 337.0px,#8c2981 338.3px,#b73779 339.6px,#de4968 340.8px,#f7705c 342.1px,#fe9f6d 343.4px,#fecf92 344.6px,#fcfdbf 345.9px,#000004 345.9px,#140e36 346.7px,#3b0f70 347.5px,#641a80 348.3px,#8c2981 349.1px,#b73779 350.0px,#de4968 350.8px,#f7705c 351.6px,#fe9f6d 352.4px,#fecf92 353.2px,#fcfdbf 354.0px,#1d1147 354.0px,#3b0f70 355.9px,#641a80 358.4px,#8c2981 361.0px,#b73779 363.6px,#de4968 366.2px,#ef5d5e 367.7px,#000004 367.7px,#140e36 368.8px,#3b0f70 369.9px,#641a80 371.0px,#8c2981 372.1px,#b73779 373.2px,#de4968 374.3px,#f7705c 375.4px,#fe9f6d 376.5px,#fecf92 377.6px,#fcfdbf 378.7px,#000004 378.7px,#140e36 380.0px,#3b0f70 381.3px,#641a80 382.6px,#8c2981 383.9px,#b73779 385.2px,#de4968 386.6px,#f7705c 387.9px,#fe9f6d 389.2px,#fecf92 390.5px,#fcfdbf 391.8px,#491078 391.8px,#641a80 393.4px,#8c2981 395.8px,#b73779 398.1px,#cc3f71 399.4px,#a3307e 399.4px,#b73779 400.5px,#de4968 403.0px,#f7705c 405.6px,#fe9f6d 408.2px,#febf84 409.8px,#471078 409.8px,#641a80 410.8px,#8c2981 412.1px,#b73779 413.5px,#c83e73 414.1px,#311165 414.1px,#3b0f70 414.4px,#641a80 415.5px,#8c2981 416.5px,#b73779 417.6px,#d3436e 418.4px,#000004 418.4px,#140e36 419.0px,#3b0f70 419.6px,#641a80 420.2px,#8c2981 420.8px,#b73779 421.4px,#de4968 422.0px,#f7705c 422.6px,#fe9f6d 423.2px,#fecf92 423.8px,#fcfdbf 424.5px,#400f74 424.5px,#641a80 426.6px,#8c2981 429.0px,#b73779 431.5px,#c53c74 432.4px,#000004 432.4px,#140e36 433.3px,#3b0f70 434.1px,#641a80 435.0px,#8c2981 435.8px,#b73779 436.7px,#de4968 437.6px,#f7705c 438.4px,#fe9f6d 439.3px,#fecf92 440.1px,#fcfdbf 441.0px,#3b0f70 441.0px,#641a80 442.2px,#8c2981 443.4px,#b73779 444.6px,#d6456c 445.5px)"></div><div style="left:915.0px;top:709.78px;width:445.5px;height:27.18px;background:linear-gradient(90deg,#fe9f6d 0.0px,#fecf92 3.0px,#fcfdbf 6.0px,#000004 6.0px,#140e36 8.6px,#3b0f70 11.3px,#641a80 14.0px,#8c2981 16.6px,#b73779 19.2px,#de4968 21.9px,#f7705c 24.5px,#fe9f6d 27.2px,#fecf92 29.9px,#fcfdbf 32.5px,#000004 32.5px,#140e36 35.2px,#3b0f70 37.9px,#641a80 40.7px,#8c2981 43.4px,#b73779 46.1px,#de4968 48.8px,#f7705c 51.5px,#fe9f6d 54.3px,#fecf92 57.0px,#fcfdbf 59.7px,#000004 59.7px,#140e36 62.6px,#3b0f70 65.5px,#51127c 67.0px,#782281 67.0px,#8c2981 68.6px,#b73779 71.8px,#de4968 75.0px,#f7705c 78.3px,#fe9f6d 81.5px,#fecf92 84.7px,#fcfdbf 87.9px,#000004 87.9px,#140e36 90.7px,#3b0f70 93.4px,#641a80 96.2px,#8c2981 99.0px,#b73779 101.8px,#de4968 104.5px,#f7705c 107.3px,#fe9f6d 110.1px,#fecf92 112.8px,#fcfdbf 115.6px,#000004 115.6px,#140e36 118.3px,#3b0f70 121.0px,#641a80 123.7px,#8c2981 126.4px,#b73779 129.0px,#de4968 131.7px,#f7705c 134.4px,#fe9f6d 137.1px,#fecf92 139.8px,#fcfdbf 142.5px,#000004 142.5px,#140e36 145.2px,#3b0f70 147.9px,#641a80 150.6px,#8c2981 153.3px,#b73779 156.0px,#de4968 158.8px,#f7705c 161.5px,#fe9f6d 164.2px,#fecf92 166.9px,#fcfdbf 169.6px,#000004 169.6px,#140e36 172.4px,#3b0f70 175.2px,#641a80 178.0px,#8c2981 180.8px,#b73779 183.5px,#de4968 186.3px,#f7705c 189.1px,#fe9f6d 191.9px,#fecf92 194.7px,#fcfdbf 197.5px,#000004 197.5px,#140e36 200.2px,#3b0f70 202.9px,#641a80 205.6px,#8c2981 208.3px,#b73779 211.0px,#de4968 213.7px,#f7705c 216.4px,#fe9f6d 219.1px,#fecf92 221.8px,#fcfdbf 224.5px,#000004 224.5px,#140e36 227.0px,#3b0f70 229.5px,#641a80 232.0px,#8c2981 234.5px,#b73779 237.0px,#de4968 239.6px,#f7705c 242.1px,#fe9f6d 244.6px,#fecf92 247.1px,#fcfdbf 249.6px,#000004 249.6px,#140e36 252.0px,#3b0f70 254.5px,#641a80 256.9px,#8c2981 259.3px,#b73779 261.8px,#de4968 264.2px,#f7705c 266.6px,#fe9f6d 269.0px,#fecf92 271.5px,#fcfdbf 273.9px,#000004 273.9px,#140e36 275.9px,#3b0f70 277.9px,#641a80 279.9px,#8c2981 281.9px,#b73779 284.0px,#de4968 286.0px,#f7705c 288.0px,#fe9f6d 290.0px,#fecf92 292.0px,#fcfdbf 294.0px,#000004 294.0px,#140e36 295.9px,#3b0f70 297.8px,#641a80 299.8px,#8c2981 301.7px,#b73779 303.6px,#de4968 305.5px,#f7705c 307.4px,#fe9f6d 309.4px,#fecf92 311.3px,#fcfdbf 313.2px,#000004 313.2px,#140e36 315.2px,#3b0f70 317.2px,#641a80 319.2px,#8c2981 321.2px,#b73779 323.2px,#de4968 325.2px,#f7705c 327.2px,#fe9f6d 329.2px,#fecf92 331.2px,#fcfdbf 333.2px,#000004 333.2px,#140e36 334.5px,#3b0f70 335.7px,#641a80 337.0px,#8c2981 338.3px,#b73779 339.6px,#de4968 340.8px,#f7705c 342.1px,#fe9f6d 343.4px,#fecf92 344.6px,#fcfdbf 345.9px,#000004 345.9px,#140e36 346.7px,#3b0f70 347.5px,#641a80 348.3px,#8c2981 349.1px,#b73779 350.0px,#de4968 350.8px,#f7705c 351.6px,#fe9f6d 352.4px,#fecf92 353.2px,#fcfdbf 354.0px,#862781 354.0px,#8c2981 354.2px,#b73779 355.7px,#de4968 357.2px,#f7705c 358.7px,#fe9f6d 360.2px,#fecf92 361.7px,#fcf9bb 363.0px,#6d1d81 363.0px,#8c2981 363.8px,#b73779 364.6px,#de4968 365.5px,#f7705c 366.4px,#fe9f6d 367.3px,#fecf92 368.2px,#fde5a7 368.7px,#000004 368.7px,#140e36 369.4px,#3b0f70 370.0px,#641a80 370.7px,#8c2981 371.4px,#b73779 372.1px,#de4968 372.8px,#f7705c 373.5px,#fe9f6d 374.2px,#fecf92 374.9px,#fcfdbf 375.6px,#000004 375.6px,#140e36 376.8px,#3b0f70 378.0px,#641a80 379.2px,#8c2981 380.3px,#b73779 381.5px,#de4968 382.7px,#f7705c 383.9px,#fe9f6d 385.1px,#fecf92 386.3px,#fcfdbf 387.5px,#08071e 387.5px,#140e36 387.7px,#3b0f70 388.3px,#641a80 388.9px,#8c2981 389.4px,#b73779 390.0px,#de4968 390.6px,#f7705c 391.1px,#fe9d6c 391.7px,#000004 391.7px,#140e36 393.0px,#3b0f70 394.4px,#641a80 395.8px,#8c2981 397.2px,#b73779 398.5px,#de4968 399.9px,#f7705c 401.3px,#fe9f6d 402.7px,#fecf92 404.1px,#fcfdbf 405.4px,#000004 405.4px,#140e36 406.3px,#3b0f70 407.1px,#641a80 407.9px,#8c2981 408.8px,#b73779 409.6px,#de4968 410.4px,#f7705c 411.3px,#fe9f6d 412.1px,#fecf92 412.9px,#fcfdbf 413.7px,#000004 413.7px,#140e36 414.8px,#3b0f70 415.8px,#641a80 416.8px,#8c2981 417.8px,#b73779 418.8px,#de4968 419.8px,#f7705c 420.8px,#fe9f6d 421.8px,#fecf92 422.8px,#fcfdbf 423.8px,#311165 423.8px,#3b0f70 424.1px,#641a80 425.5px,#8c2981 426.8px,#b73779 428.2px,#de4968 429.5px,#f7705c 430.8px,#fe9f6d 432.2px,#fec287 433.2px,#671b80 433.2px,#8c2981 434.5px,#b73779 435.9px,#de4968 437.3px,#f7705c 438.7px,#fe9f6d 440.1px,#fec287 441.2px,#000004 441.2px,#140e36 442.1px,#3b0f70 443.1px,#641a80 444.0px,#8c2981 445.0px,#a1307e 445.5px)"></div><div style="left:915.0px;top:736.56px;width:445.5px;height:27.18px;background:linear-gradient(90deg,#ed5a5f 0.0px,#f7705c 1.5px,#fe9f6d 4.5px,#fecf92 7.6px,#fcfdbf 10.6px,#000004 10.6px,#140e36 13.0px,#3b0f70 15.3px,#641a80 17.7px,#8c2981 20.1px,#b73779 22.5px,#de4968 24.8px,#f7705c 27.2px,#fe9f6d 29.6px,#fecf92 31.9px,#fcfdbf 34.3px,#000004 34.3px,#140e36 36.6px,#3b0f70 38.8px,#641a80 41.1px,#8c2981 43.4px,#b73779 45.7px,#de4968 47.9px,#f7705c 50.2px,#fe9f6d 52.5px,#fe9f6d 52.5px,#fecf92 56.1px,#fcfdbf 59.7px,#000004 59.7px,#140e36 62.5px,#3b0f70 65.4px,#641a80 68.2px,#8c2981 71.0px,#b73779 73.9px,#de4968 76.7px,#f7705c 79.5px,#fe9f6d 82.3px,#fecf92 85.2px,#fcfdbf 88.0px,#000004 88.0px,#140e36 90.8px,#3b0f70 93.5px,#641a80 96.3px,#8c2981 99.0px,#b73779 101.8px,#de4968 104.6px,#f7705c 107.3px,#fe9f6d 110.1px,#fecf92 112.8px,#fcfdbf 115.6px,#000004 115.6px,#140e36 118.3px,#3b0f70 121.0px,#641a80 123.7px,#8c2981 126.4px,#b73779 129.0px,#de4968 131.7px,#f7705c 134.4px,#fe9f6d 137.1px,#fecf92 139.8px,#fcfdbf 142.5px,#000004 142.5px,#140e36 145.2px,#3b0f70 147.9px,#641a80 150.6px,#8c2981 153.3px,#b73779 156.0px,#de4968 158.8px,#f7705c 161.5px,#fe9f6d 164.2px,#fecf92 166.9px,#fcfdbf 169.6px,#000004 169.6px,#140e36 172.4px,#3b0f70 175.2px,#641a80 178.0px,#8c2981 180.8px,#b73779 183.5px,#de4968 186.3px,#f7705c 189.1px,#fe9f6d 191.9px,#fecf92 194.7px,#fcfdbf 197.5px,#000004 197.5px,#140e36 200.2px,#3b0f70 202.9px,#641a80 205.6px,#8c2981 208.3px,#b73779 211.0px,#de4968 213.7px,#f7705c 216.4px,#fe9f6d 219.1px,#fecf92 221.8px,#fcfdbf 224.5px,#000004 224.5px,#140e36 227.0px,#3b0f70 229.5px,#641a80 232.0px,#8c2981 234.5px,#b73779 237.0px,#de4968 239.6px,#f7705c 242.1px,#fe9f6d 244.6px,#fecf92 247.1px,#fcfdbf 249.6px,#000004 249.6px,#140e36 252.0px,#3b0f70 254.5px,#641a80 256.9px,#8c2981 259.3px,#b73779 261.8px,#de4968 264.2px,#f7705c 266.6px,#fe9f6d 269.0px,#fecf92 271.5px,#fcfdbf 273.9px,#000004 273.9px,#140e36 275.9px,#3b0f70 277.9px,#641a80 279.9px,#8c2981 281.9px,#b73779 284.0px,#de4968 286.0px,#f7705c 288.0px,#fe9f6d 290.0px,#fecf92 292.0px,#fcfdbf 294.0px,#000004 294.0px,#140e36 295.9px,#3b0f70 297.8px,#641a80 299.8px,#8c2981 301.7px,#b73779 303.6px,#de4968 305.5px,#f7705c 307.4px,#fe9f6d 309.4px,#fecf92 311.3px,#fcfdbf 313.2px,#000004 313.2px,#140e36 315.2px,#3b0f70 317.2px,#641a80 319.2px,#8c2981 321.2px,#b73779 323.2px,#de4968 325.2px,#f7705c 327.2px,#fe9f6d 329.2px,#fecf92 331.2px,#fcfdbf 333.2px,#000004 333.2px,#140e36 334.5px,#3b0f70 335.7px,#641a80 337.0px,#8c2981 338.3px,#b73779 339.6px,#de4968 340.8px,#f7705c 342.1px,#fe9f6d 343.4px,#fecf92 344.6px,#fcfdbf 345.9px,#000004 345.9px,#140e36 346.7px,#3b0f70 347.5px,#641a80 348.3px,#8c2981 349.1px,#b73779 350.0px,#de4968 350.8px,#f7705c 351.6px,#fe9f6d 352.4px,#fecf92 353.2px,#fcfdbf 354.0px,#000004 354.0px,#140e36 355.3px,#3b0f70 356.6px,#641a80 358.0px,#8c2981 359.3px,#b73779 360.6px,#de4968 361.9px,#f7705c 363.2px,#fe9f6d 364.5px,#fecf92 365.9px,#fcfdbf 367.2px,#000004 367.2px,#140e36 367.9px,#3b0f70 368.5px,#641a80 369.2px,#8c2981 369.8px,#b73779 370.5px,#de4968 371.2px,#f7705c 371.8px,#fe9f6d 372.5px,#fecf92 373.2px,#fcfdbf 373.8px,#000004 373.8px,#140e36 375.0px,#3b0f70 376.2px,#641a80 377.4px,#8c2981 378.6px,#b73779 379.8px,#de4968 381.0px,#f7705c 382.2px,#fe9f6d 383.4px,#fecf92 384.6px,#fcfdbf 385.8px,#000004 385.8px,#140e36 386.8px,#3b0f70 387.9px,#641a80 389.0px,#8c2981 390.0px,#b73779 391.1px,#de4968 392.1px,#f7705c 393.2px,#fe9f6d 394.3px,#fecf92 395.3px,#fcfdbf 396.4px,#000004 396.4px,#140e36 397.5px,#3b0f70 398.5px,#641a80 399.6px,#8c2981 400.7px,#b73779 401.8px,#de4968 402.8px,#f7705c 403.9px,#fe9f6d 405.0px,#fecf92 406.0px,#fcfdbf 407.1px,#000004 407.1px,#140e36 407.7px,#3b0f70 408.3px,#641a80 408.9px,#8c2981 409.5px,#b73779 410.1px,#de4968 410.7px,#f7705c 411.3px,#fe9f6d 411.9px,#fecf92 412.5px,#fcfdbf 413.1px,#02020d 413.1px,#140e36 413.6px,#3b0f70 414.3px,#641a80 415.1px,#8c2981 415.8px,#b73779 416.5px,#de4968 417.2px,#f7705c 417.9px,#fa7f5e 418.2px,#000004 418.2px,#140e36 418.9px,#3b0f70 419.6px,#641a80 420.4px,#8c2981 421.1px,#b73779 421.8px,#de4968 422.6px,#f7705c 423.3px,#fe9f6d 424.0px,#fecf92 424.8px,#fcfdbf 425.5px,#000004 425.5px,#140e36 426.3px,#3b0f70 427.0px,#641a80 427.7px,#8c2981 428.5px,#b73779 429.2px,#de4968 429.9px,#f7705c 430.7px,#fe9f6d 431.4px,#fecf92 432.1px,#fcfdbf 432.9px,#000004 432.9px,#140e36 434.2px,#3b0f70 435.5px,#641a80 436.8px,#8c2981 438.2px,#b73779 439.5px,#de4968 440.8px,#f7705c 442.2px,#fe9f6d 443.5px,#fecf92 444.8px,#fde7a9 445.5px)"></div><div style="left:915.0px;top:763.34px;width:445.5px;height:27.18px;background:linear-gradient(90deg,#ed5a5f 0.0px,#f7705c 1.5px,#fe9f6d 4.5px,#fecf92 7.6px,#fcfdbf 10.6px,#000004 10.6px,#140e36 13.2px,#3b0f70 15.9px,#641a80 18.5px,#8c2981 21.2px,#b73779 23.8px,#de4968 26.4px,#f7705c 29.1px,#fe9f6d 31.7px,#fecf92 34.4px,#fcfdbf 37.0px,#000004 37.0px,#140e36 40.4px,#3b0f70 43.7px,#641a80 47.1px,#782281 48.8px,#b73779 48.8px,#de4968 51.7px,#f7705c 54.6px,#fe9f6d 57.6px,#fecf92 60.5px,#fcfdbf 63.4px,#000004 63.4px,#140e36 65.9px,#3b0f70 68.3px,#641a80 70.8px,#8c2981 73.2px,#b73779 75.7px,#de4968 78.2px,#f7705c 80.6px,#fe9f6d 83.1px,#fecf92 85.5px,#fcfdbf 88.0px,#000004 88.0px,#140e36 90.8px,#3b0f70 93.5px,#641a80 96.3px,#8c2981 99.0px,#b73779 101.8px,#de4968 104.6px,#f7705c 107.3px,#fe9f6d 110.1px,#fecf92 112.8px,#fcfdbf 115.6px,#000004 115.6px,#140e36 118.3px,#3b0f70 121.0px,#641a80 123.7px,#8c2981 126.4px,#b73779 129.0px,#de4968 131.7px,#f7705c 134.4px,#fe9f6d 137.1px,#fecf92 139.8px,#fcfdbf 142.5px,#000004 142.5px,#140e36 145.2px,#3b0f70 147.9px,#641a80 150.6px,#8c2981 153.3px,#b73779 156.0px,#de4968 158.8px,#f7705c 161.5px,#fe9f6d 164.2px,#fecf92 166.9px,#fcfdbf 169.6px,#000004 169.6px,#140e36 172.4px,#3b0f70 175.2px,#641a80 178.0px,#8c2981 180.8px,#b73779 183.5px,#de4968 186.3px,#f7705c 189.1px,#fe9f6d 191.9px,#fecf92 194.7px,#fcfdbf 197.5px,#000004 197.5px,#140e36 200.2px,#3b0f70 202.9px,#641a80 205.6px,#8c2981 208.3px,#b73779 211.0px,#de4968 213.7px,#f7705c 216.4px,#fe9f6d 219.1px,#fecf92 221.8px,#fcfdbf 224.5px,#000004 224.5px,#140e36 227.0px,#3b0f70 229.5px,#641a80 232.0px,#8c2981 234.5px,#b73779 237.0px,#de4968 239.6px,#f7705c 242.1px,#fe9f6d 244.6px,#fecf92 247.1px,#fcfdbf 249.6px,#000004 249.6px,#140e36 252.0px,#3b0f70 254.5px,#641a80 256.9px,#8c2981 259.3px,#b73779 261.8px,#de4968 264.2px,#f7705c 266.6px,#fe9f6d 269.0px,#fecf92 271.5px,#fcfdbf 273.9px,#000004 273.9px,#140e36 275.9px,#3b0f70 277.9px,#641a80 279.9px,#8c2981 281.9px,#b73779 284.0px,#de4968 286.0px,#f7705c 288.0px,#fe9f6d 290.0px,#fecf92 292.0px,#fcfdbf 294.0px,#000004 294.0px,#140e36 295.9px,#3b0f70 297.8px,#641a80 299.8px,#8c2981 301.7px,#b73779 303.6px,#de4968 305.5px,#f7705c 307.4px,#fe9f6d 309.4px,#fecf92 311.3px,#fcfdbf 313.2px,#000004 313.2px,#140e36 315.2px,#3b0f70 317.2px,#641a80 319.2px,#8c2981 321.2px,#b73779 323.2px,#de4968 325.2px,#f7705c 327.2px,#fe9f6d 329.2px,#fecf92 331.2px,#fcfdbf 333.2px,#000004 333.2px,#140e36 334.5px,#3b0f70 335.7px,#641a80 337.0px,#8c2981 338.3px,#b73779 339.6px,#de4968 340.8px,#f7705c 342.1px,#fe9f6d 343.4px,#fecf92 344.6px,#fcfdbf 345.9px,#000004 345.9px,#140e36 346.7px,#3b0f70 347.5px,#641a80 348.3px,#8c2981 349.1px,#b73779 350.0px,#de4968 350.8px,#f7705c 351.6px,#fe9f6d 352.4px,#fecf92 353.2px,#fcfdbf 354.0px,#140e36 354.0px,#140e36 354.0px,#3b0f70 354.8px,#641a80 355.6px,#8c2981 356.3px,#b73779 357.1px,#de4968 357.9px,#f7705c 358.7px,#fe9f6d 359.4px,#fecf92 360.2px,#fcecae 360.7px,#000004 360.7px,#140e36 361.9px,#3b0f70 363.2px,#641a80 364.4px,#8c2981 365.7px,#b73779 366.9px,#de4968 368.1px,#f7705c 369.4px,#fe9f6d 370.6px,#fecf92 371.9px,#fcfdbf 373.1px,#000004 373.1px,#140e36 374.0px,#3b0f70 375.0px,#641a80 375.9px,#8c2981 376.9px,#b73779 377.8px,#de4968 378.8px,#f7705c 379.7px,#fe9f6d 380.7px,#fecf92 381.6px,#fcfdbf 382.6px,#150e38 382.6px,#3b0f70 384.8px,#641a80 387.0px,#8c2981 389.3px,#b73779 391.6px,#de4968 393.8px,#f4675c 395.7px,#000004 395.7px,#140e36 396.5px,#3b0f70 397.3px,#641a80 398.1px,#8c2981 398.9px,#b73779 399.7px,#de4968 400.5px,#f7705c 401.3px,#fe9f6d 402.1px,#fecf92 402.9px,#fcfdbf 403.6px,#000004 403.6px,#140e36 404.7px,#3b0f70 405.8px,#641a80 406.8px,#8c2981 407.9px,#b73779 408.9px,#de4968 410.0px,#f7705c 411.0px,#fe9f6d 412.1px,#fecf92 413.1px,#fcfdbf 414.2px,#000004 414.2px,#140e36 415.2px,#3b0f70 416.2px,#641a80 417.1px,#8c2981 418.1px,#b73779 419.1px,#de4968 420.1px,#f7705c 421.1px,#fe9f6d 422.0px,#fecf92 423.0px,#fcfdbf 424.0px,#000004 424.0px,#140e36 424.6px,#3b0f70 425.2px,#641a80 425.9px,#8c2981 426.5px,#b73779 427.1px,#de4968 427.7px,#f7705c 428.3px,#fe9f6d 429.0px,#fecf92 429.6px,#fcfdbf 430.2px,#36106b 430.2px,#3b0f70 430.3px,#641a80 431.4px,#8c2981 432.4px,#b73779 433.4px,#de4968 434.5px,#ec5860 435.0px,#9e2f7f 435.0px,#b73779 435.6px,#de4968 436.9px,#f7705c 438.1px,#fe9f6d 439.3px,#fecf92 440.5px,#fcecae 441.3px,#0c0926 441.3px,#140e36 441.6px,#3b0f70 442.6px,#641a80 443.6px,#8c2981 444.6px,#b0357b 445.5px)"></div><div style="left:915.0px;top:790.12px;width:445.5px;height:27.18px;background:linear-gradient(90deg,#ed5a5f 0.0px,#f7705c 1.6px,#fe9f6d 4.9px,#fecf92 8.2px,#fcfdbf 11.5px,#000004 11.5px,#140e36 14.2px,#3b0f70 17.0px,#641a80 19.7px,#8c2981 22.4px,#b73779 25.1px,#de4968 27.9px,#f7705c 30.6px,#fe9f6d 33.3px,#fecf92 36.1px,#fcfdbf 38.8px,#000004 38.8px,#140e36 41.3px,#3b0f70 43.9px,#641a80 46.4px,#8c2981 49.0px,#b73779 51.5px,#de4968 54.1px,#f7705c 56.6px,#fe9f6d 59.2px,#fecf92 61.8px,#fcfdbf 64.3px,#000004 64.3px,#140e36 66.7px,#3b0f70 69.0px,#641a80 71.4px,#8c2981 73.8px,#b73779 76.1px,#de4968 78.5px,#f7705c 80.9px,#fe9f6d 83.3px,#fecf92 85.6px,#fcfdbf 88.0px,#000004 88.0px,#140e36 90.8px,#3b0f70 93.5px,#641a80 96.3px,#8c2981 99.0px,#b73779 101.8px,#de4968 104.6px,#f7705c 107.3px,#fe9f6d 110.1px,#fecf92 112.8px,#fcfdbf 115.6px,#000004 115.6px,#140e36 118.3px,#3b0f70 121.0px,#641a80 123.7px,#8c2981 126.4px,#b73779 129.0px,#de4968 131.7px,#f7705c 134.4px,#fe9f6d 137.1px,#fecf92 139.8px,#fcfdbf 142.5px,#000004 142.5px,#140e36 145.2px,#3b0f70 147.9px,#641a80 150.6px,#8c2981 153.3px,#b73779 156.0px,#de4968 158.8px,#f7705c 161.5px,#fe9f6d 164.2px,#fecf92 166.9px,#fcfdbf 169.6px,#000004 169.6px,#140e36 172.4px,#3b0f70 175.2px,#641a80 178.0px,#8c2981 180.8px,#b73779 183.5px,#de4968 186.3px,#f7705c 189.1px,#fe9f6d 191.9px,#fecf92 194.7px,#fcfdbf 197.5px,#000004 197.5px,#140e36 200.2px,#3b0f70 202.9px,#641a80 205.6px,#8c2981 208.3px,#b73779 211.0px,#de4968 213.7px,#f7705c 216.4px,#fe9f6d 219.1px,#fecf92 221.8px,#fcfdbf 224.5px,#000004 224.5px,#140e36 227.0px,#3b0f70 229.5px,#641a80 232.0px,#8c2981 234.5px,#b73779 237.0px,#de4968 239.6px,#f7705c 242.1px,#fe9f6d 244.6px,#fecf92 247.1px,#fcfdbf 249.6px,#000004 249.6px,#140e36 252.0px,#3b0f70 254.5px,#641a80 256.9px,#8c2981 259.3px,#b73779 261.8px,#de4968 264.2px,#f7705c 266.6px,#fe9f6d 269.0px,#fecf92 271.5px,#fcfdbf 273.9px,#000004 273.9px,#140e36 275.9px,#3b0f70 277.9px,#641a80 279.9px,#8c2981 281.9px,#b73779 284.0px,#de4968 286.0px,#f7705c 288.0px,#fe9f6d 290.0px,#fecf92 292.0px,#fcfdbf 294.0px,#000004 294.0px,#140e36 295.9px,#3b0f70 297.8px,#641a80 299.8px,#8c2981 301.7px,#b73779 303.6px,#de4968 305.5px,#f7705c 307.4px,#fe9f6d 309.4px,#fecf92 311.3px,#fcfdbf 313.2px,#000004 313.2px,#140e36 315.2px,#3b0f70 317.2px,#641a80 319.2px,#8c2981 321.2px,#b73779 323.2px,#de4968 325.2px,#f7705c 327.2px,#fe9f6d 329.2px,#fecf92 331.2px,#fcfdbf 333.2px,#000004 333.2px,#140e36 334.5px,#3b0f70 335.7px,#641a80 337.0px,#8c2981 338.3px,#b73779 339.6px,#de4968 340.8px,#f7705c 342.1px,#fe9f6d 343.4px,#fecf92 344.6px,#fcfdbf 345.9px,#000004 345.9px,#140e36 346.7px,#3b0f70 347.5px,#641a80 348.3px,#8c2981 349.1px,#b73779 350.0px,#de4968 350.8px,#f7705c 351.6px,#fe9f6d 352.4px,#fecf92 353.2px,#fcfdbf 354.0px,#311165 354.0px,#3b0f70 354.3px,#641a80 355.7px,#8c2981 357.1px,#b73779 358.6px,#de4968 360.0px,#e75263 360.4px,#000004 360.4px,#140e36 361.6px,#3b0f70 362.9px,#641a80 364.1px,#8c2981 365.3px,#b73779 366.6px,#de4968 367.8px,#f7705c 369.1px,#fe9f6d 370.3px,#fecf92 371.5px,#fcfdbf 372.8px,#030312 372.8px,#140e36 373.5px,#3b0f70 374.5px,#641a80 375.6px,#8c2981 376.6px,#b73779 377.7px,#de4968 378.7px,#f7705c 379.8px,#fd9869 380.7px,#440f76 380.7px,#641a80 382.0px,#8c2981 383.7px,#b73779 385.5px,#dc4869 387.1px,#000004 387.1px,#140e36 387.8px,#3b0f70 388.4px,#641a80 389.0px,#8c2981 389.7px,#b73779 390.3px,#de4968 391.0px,#f7705c 391.6px,#fe9f6d 392.3px,#fecf92 392.9px,#fcfdbf 393.5px,#130d34 393.5px,#140e36 393.6px,#3b0f70 394.5px,#641a80 395.3px,#8c2981 396.2px,#b73779 397.1px,#d6456c 397.8px,#000004 397.8px,#140e36 398.9px,#3b0f70 400.0px,#641a80 401.1px,#8c2981 402.2px,#b73779 403.3px,#de4968 404.4px,#f7705c 405.5px,#fe9f6d 406.6px,#fecf92 407.7px,#fcfdbf 408.8px,#000004 408.8px,#140e36 409.7px,#3b0f70 410.7px,#641a80 411.6px,#8c2981 412.5px,#b73779 413.5px,#de4968 414.4px,#f7705c 415.3px,#fe9f6d 416.3px,#fecf92 417.2px,#fcfdbf 418.1px,#000004 418.1px,#140e36 419.1px,#3b0f70 420.1px,#641a80 421.1px,#8c2981 422.1px,#b73779 423.0px,#de4968 424.0px,#f7705c 425.0px,#fe9f6d 426.0px,#fecf92 427.0px,#fcfdbf 427.9px,#942c80 427.9px,#b73779 430.5px,#de4968 433.6px,#f7705c 436.7px,#f97b5d 437.4px,#000004 437.4px,#140e36 437.9px,#3b0f70 438.3px,#641a80 438.7px,#8c2981 439.1px,#b73779 439.5px,#de4968 440.0px,#f7705c 440.4px,#fe9f6d 440.8px,#fecf92 441.2px,#fcfdbf 441.6px,#000004 441.6px,#140e36 442.6px,#3b0f70 443.6px,#641a80 444.6px,#892881 445.5px)"></div><div style="left:915.0px;top:816.91px;width:445.5px;height:27.18px;background:linear-gradient(90deg,#ed5a5f 0.0px,#f7705c 1.6px,#fe9f6d 4.9px,#fecf92 8.2px,#fcfdbf 11.5px,#000004 11.5px,#140e36 14.3px,#3b0f70 17.1px,#641a80 20.0px,#8c2981 22.8px,#b73779 25.6px,#de4968 28.4px,#f7705c 31.2px,#fe9f6d 34.1px,#fecf92 36.9px,#fcfdbf 39.7px,#000004 39.7px,#140e36 42.1px,#3b0f70 44.4px,#641a80 46.8px,#8c2981 49.2px,#b73779 51.5px,#de4968 53.9px,#f7705c 56.3px,#fe9f6d 58.7px,#fecf92 61.0px,#fcfdbf 63.4px,#000004 63.4px,#140e36 65.9px,#3b0f70 68.5px,#641a80 71.0px,#8c2981 73.6px,#b73779 76.1px,#de4968 78.6px,#f7705c 81.2px,#fe9f6d 83.7px,#fecf92 86.3px,#fcfdbf 88.8px,#000004 88.8px,#140e36 91.5px,#3b0f70 94.2px,#641a80 96.8px,#8c2981 99.5px,#b73779 102.2px,#de4968 104.9px,#f7705c 107.6px,#fe9f6d 110.2px,#fecf92 112.9px,#fcfdbf 115.6px,#000004 115.6px,#140e36 118.3px,#3b0f70 121.0px,#641a80 123.7px,#8c2981 126.4px,#b73779 129.0px,#de4968 131.7px,#f7705c 134.4px,#fe9f6d 137.1px,#fecf92 139.8px,#fcfdbf 142.5px,#000004 142.5px,#140e36 145.2px,#3b0f70 147.9px,#641a80 150.6px,#8c2981 153.3px,#b73779 156.0px,#de4968 158.8px,#f7705c 161.5px,#fe9f6d 164.2px,#fecf92 166.9px,#fcfdbf 169.6px,#000004 169.6px,#140e36 172.4px,#3b0f70 175.2px,#641a80 178.0px,#8c2981 180.8px,#b73779 183.5px,#de4968 186.3px,#f7705c 189.1px,#fe9f6d 191.9px,#fecf92 194.7px,#fcfdbf 197.5px,#000004 197.5px,#140e36 200.2px,#3b0f70 202.9px,#641a80 205.6px,#8c2981 208.3px,#b73779 211.0px,#de4968 213.7px,#f7705c 216.4px,#fe9f6d 219.1px,#fecf92 221.8px,#fcfdbf 224.5px,#000004 224.5px,#140e36 227.0px,#3b0f70 229.5px,#641a80 232.0px,#8c2981 234.5px,#b73779 237.0px,#de4968 239.6px,#f7705c 242.1px,#fe9f6d 244.6px,#fecf92 247.1px,#fcfdbf 249.6px,#000004 249.6px,#140e36 252.0px,#3b0f70 254.5px,#641a80 256.9px,#8c2981 259.3px,#b73779 261.8px,#de4968 264.2px,#f7705c 266.6px,#fe9f6d 269.0px,#fecf92 271.5px,#fcfdbf 273.9px,#000004 273.9px,#140e36 275.9px,#3b0f70 277.9px,#641a80 279.9px,#8c2981 281.9px,#b73779 284.0px,#de4968 286.0px,#f7705c 288.0px,#fe9f6d 290.0px,#fecf92 292.0px,#fcfdbf 294.0px,#000004 294.0px,#140e36 295.9px,#3b0f70 297.8px,#641a80 299.8px,#8c2981 301.7px,#b73779 303.6px,#de4968 305.5px,#f7705c 307.4px,#fe9f6d 309.4px,#fecf92 311.3px,#fcfdbf 313.2px,#000004 313.2px,#140e36 315.2px,#3b0f70 317.2px,#641a80 319.2px,#8c2981 321.2px,#b73779 323.2px,#de4968 325.2px,#f7705c 327.2px,#fe9f6d 329.2px,#fecf92 331.2px,#fcfdbf 333.2px,#000004 333.2px,#140e36 334.5px,#3b0f70 335.7px,#641a80 337.0px,#8c2981 338.3px,#b73779 339.6px,#de4968 340.8px,#f7705c 342.1px,#fe9f6d 343.4px,#fecf92 344.6px,#fcfdbf 345.9px,#000004 345.9px,#140e36 346.7px,#3b0f70 347.5px,#641a80 348.3px,#8c2981 349.1px,#b73779 350.0px,#de4968 350.8px,#f7705c 351.6px,#fe9f6d 352.4px,#fecf92 353.2px,#fcfdbf 354.0px,#752181 354.0px,#8c2981 355.7px,#b73779 358.7px,#de4968 361.7px,#f7705c 364.7px,#f97b5d 365.5px,#762181 365.5px,#8c2981 366.4px,#b73779 368.1px,#de4968 369.8px,#f7705c 371.5px,#fe9f6d 373.2px,#fecf92 374.9px,#fcecae 376.0px,#000004 376.0px,#140e36 376.5px,#3b0f70 376.9px,#641a80 377.3px,#8c2981 377.7px,#b73779 378.2px,#de4968 378.6px,#f7705c 379.0px,#fe9f6d 379.5px,#fecf92 379.9px,#fcfdbf 380.3px,#a8327d 380.3px,#b73779 380.9px,#de4968 382.7px,#f7705c 384.6px,#fe9f6d 386.4px,#fea571 386.6px,#a3307e 386.6px,#b73779 387.5px,#de4968 389.4px,#f7705c 391.3px,#fe9f6d 393.2px,#fecf92 395.1px,#fceeb0 396.4px,#3b0f70 396.4px,#641a80 398.1px,#8c2981 399.8px,#b73779 401.5px,#cd4071 402.5px,#0e0b2b 402.5px,#140e36 403.0px,#3b0f70 405.3px,#641a80 407.5px,#8c2981 409.8px,#b73779 412.1px,#ba3878 412.4px,#6a1c81 412.4px,#8c2981 413.5px,#b73779 414.7px,#de4968 416.0px,#f7705c 417.2px,#fe9f6d 418.5px,#fecf92 419.8px,#fddc9e 420.1px,#000004 420.1px,#140e36 421.0px,#3b0f70 421.8px,#641a80 422.6px,#8c2981 423.5px,#b73779 424.3px,#de4968 425.2px,#f7705c 426.0px,#fe9f6d 426.9px,#fecf92 427.7px,#fcfdbf 428.6px,#000004 428.6px,#140e36 430.0px,#3b0f70 431.3px,#641a80 432.7px,#8c2981 434.1px,#b73779 435.4px,#de4968 436.8px,#f7705c 438.2px,#fe9f6d 439.6px,#fecf92 440.9px,#fcfdbf 442.3px,#000004 442.3px,#140e36 443.2px,#3b0f70 444.0px,#641a80 444.9px,#7e2482 445.5px)"></div><div style="left:915.0px;top:843.69px;width:445.5px;height:27.18px;background:linear-gradient(90deg,#de4968 0.0px,#f7705c 3.4px,#fe9f6d 6.7px,#fecf92 10.0px,#fcfdbf 13.4px,#000004 13.4px,#140e36 15.9px,#3b0f70 18.3px,#641a80 20.8px,#8c2981 23.2px,#b73779 25.6px,#de4968 28.1px,#f7705c 30.5px,#fe9f6d 33.0px,#fecf92 35.4px,#fcfdbf 37.9px,#000004 37.9px,#140e36 40.4px,#3b0f70 42.8px,#641a80 45.3px,#8c2981 47.7px,#b73779 50.2px,#de4968 52.7px,#f7705c 55.1px,#fe9f6d 57.6px,#fecf92 60.0px,#fcfdbf 62.5px,#000004 62.5px,#140e36 65.1px,#3b0f70 67.8px,#641a80 70.4px,#8c2981 73.0px,#b73779 75.6px,#de4968 78.3px,#f7705c 80.9px,#fe9f6d 83.5px,#fecf92 86.2px,#fcfdbf 88.8px,#000004 88.8px,#140e36 91.5px,#3b0f70 94.2px,#641a80 96.8px,#8c2981 99.5px,#b73779 102.2px,#de4968 104.9px,#f7705c 107.6px,#fe9f6d 110.2px,#fecf92 112.9px,#fcfdbf 115.6px,#000004 115.6px,#140e36 118.3px,#3b0f70 121.0px,#641a80 123.7px,#8c2981 126.4px,#b73779 129.0px,#de4968 131.7px,#f7705c 134.4px,#fe9f6d 137.1px,#fecf92 139.8px,#fcfdbf 142.5px,#000004 142.5px,#140e36 145.2px,#3b0f70 147.9px,#641a80 150.6px,#8c2981 153.3px,#b73779 156.0px,#de4968 158.8px,#f7705c 161.5px,#fe9f6d 164.2px,#fecf92 166.9px,#fcfdbf 169.6px,#000004 169.6px,#140e36 172.4px,#3b0f70 175.2px,#641a80 178.0px,#8c2981 180.8px,#b73779 183.5px,#de4968 186.3px,#f7705c 189.1px,#fe9f6d 191.9px,#fecf92 194.7px,#fcfdbf 197.5px,#000004 197.5px,#140e36 200.2px,#3b0f70 202.9px,#641a80 205.6px,#8c2981 208.3px,#b73779 211.0px,#de4968 213.7px,#f7705c 216.4px,#fe9f6d 219.1px,#fecf92 221.8px,#fcfdbf 224.5px,#000004 224.5px,#140e36 227.0px,#3b0f70 229.5px,#641a80 232.0px,#8c2981 234.5px,#b73779 237.0px,#de4968 239.6px,#f7705c 242.1px,#fe9f6d 244.6px,#fecf92 247.1px,#fcfdbf 249.6px,#000004 249.6px,#140e36 252.0px,#3b0f70 254.5px,#641a80 256.9px,#8c2981 259.3px,#b73779 261.8px,#de4968 264.2px,#f7705c 266.6px,#fe9f6d 269.0px,#fecf92 271.5px,#fcfdbf 273.9px,#000004 273.9px,#140e36 275.9px,#3b0f70 277.9px,#641a80 279.9px,#8c2981 281.9px,#b73779 284.0px,#de4968 286.0px,#f7705c 288.0px,#fe9f6d 290.0px,#fecf92 292.0px,#fcfdbf 294.0px,#000004 294.0px,#140e36 295.9px,#3b0f70 297.8px,#641a80 299.8px,#8c2981 301.7px,#b73779 303.6px,#de4968 305.5px,#f7705c 307.4px,#fe9f6d 309.4px,#fecf92 311.3px,#fcfdbf 313.2px,#000004 313.2px,#140e36 315.2px,#3b0f70 317.2px,#641a80 319.2px,#8c2981 321.2px,#b73779 323.2px,#de4968 325.2px,#f7705c 327.2px,#fe9f6d 329.2px,#fecf92 331.2px,#fcfdbf 333.2px,#000004 333.2px,#140e36 334.5px,#3b0f70 335.7px,#641a80 337.0px,#8c2981 338.3px,#b73779 339.6px,#de4968 340.8px,#f7705c 342.1px,#fe9f6d 343.4px,#fecf92 344.6px,#fcfdbf 345.9px,#000004 345.9px,#140e36 346.7px,#3b0f70 347.5px,#641a80 348.3px,#8c2981 349.1px,#b73779 350.0px,#de4968 350.8px,#f7705c 351.6px,#fe9f6d 352.4px,#fecf92 353.2px,#fcfdbf 354.0px,#000004 354.0px,#140e36 354.6px,#3b0f70 355.3px,#641a80 355.9px,#8c2981 356.6px,#b73779 357.2px,#de4968 357.9px,#f7705c 358.5px,#fe9f6d 359.1px,#fecf92 359.8px,#fcfdbf 360.4px,#982d80 360.4px,#b73779 361.6px,#de4968 363.3px,#f7705c 364.9px,#fe9f6d 366.6px,#febf84 367.6px,#000004 367.6px,#140e36 368.8px,#3b0f70 369.9px,#641a80 371.1px,#8c2981 372.3px,#b73779 373.4px,#de4968 374.6px,#f7705c 375.7px,#fe9f6d 376.9px,#fecf92 378.0px,#fcfdbf 379.2px,#341069 379.2px,#3b0f70 379.4px,#641a80 380.9px,#8c2981 382.4px,#b73779 383.9px,#d8456c 385.1px,#000004 385.1px,#140e36 385.8px,#3b0f70 386.4px,#641a80 387.1px,#8c2981 387.7px,#b73779 388.3px,#de4968 389.0px,#f7705c 389.6px,#fe9f6d 390.2px,#fecf92 390.9px,#fcfdbf 391.5px,#932b80 391.5px,#b73779 392.6px,#de4968 393.8px,#f7705c 395.0px,#fe9f6d 396.2px,#feaa74 396.5px,#271258 396.5px,#3b0f70 397.2px,#641a80 398.7px,#8c2981 400.1px,#b73779 401.6px,#de4968 403.0px,#f7705c 404.5px,#fe9f6d 406.0px,#feb47b 406.6px,#000004 406.6px,#140e36 407.8px,#3b0f70 409.0px,#641a80 410.3px,#8c2981 411.5px,#b73779 412.7px,#de4968 414.0px,#f7705c 415.2px,#fe9f6d 416.4px,#fecf92 417.7px,#fcfdbf 418.9px,#000004 418.9px,#140e36 419.8px,#3b0f70 420.6px,#641a80 421.5px,#8c2981 422.4px,#b73779 423.2px,#de4968 424.1px,#f7705c 424.9px,#fe9f6d 425.8px,#fecf92 426.7px,#fcfdbf 427.5px,#000004 427.5px,#140e36 428.5px,#3b0f70 429.5px,#641a80 430.5px,#8c2981 431.4px,#b73779 432.4px,#de4968 433.4px,#f7705c 434.4px,#fe9f6d 435.3px,#fecf92 436.3px,#fcfdbf 437.3px,#010005 437.3px,#140e36 439.7px,#3b0f70 442.1px,#641a80 444.6px,#721f81 445.5px)"></div><div style="left:915.0px;top:870.47px;width:445.5px;height:27.18px;background:linear-gradient(90deg,#fc8961 0.0px,#fe9f6d 1.4px,#fecf92 4.2px,#fcfdbf 7.0px,#000004 7.0px,#140e36 9.9px,#3b0f70 12.8px,#641a80 15.7px,#8c2981 18.6px,#b73779 21.5px,#de4968 24.5px,#f7705c 27.4px,#fe9f6d 30.3px,#fecf92 33.2px,#fcfdbf 36.1px,#000004 36.1px,#140e36 38.8px,#3b0f70 41.6px,#641a80 44.3px,#8c2981 47.0px,#b73779 49.8px,#de4968 52.5px,#f7705c 55.2px,#fe9f6d 57.9px,#fecf92 60.7px,#fcfdbf 63.4px,#000004 63.4px,#140e36 65.9px,#3b0f70 68.5px,#641a80 71.0px,#8c2981 73.6px,#b73779 76.1px,#de4968 78.6px,#f7705c 81.2px,#fe9f6d 83.7px,#fecf92 86.3px,#fcfdbf 88.8px,#000004 88.8px,#140e36 91.5px,#3b0f70 94.2px,#641a80 96.8px,#8c2981 99.5px,#b73779 102.2px,#de4968 104.9px,#f7705c 107.6px,#fe9f6d 110.2px,#fecf92 112.9px,#fcfdbf 115.6px,#000004 115.6px,#140e36 118.3px,#3b0f70 121.0px,#641a80 123.7px,#8c2981 126.4px,#b73779 129.0px,#de4968 131.7px,#f7705c 134.4px,#fe9f6d 137.1px,#fecf92 139.8px,#fcfdbf 142.5px,#000004 142.5px,#140e36 145.2px,#3b0f70 147.9px,#641a80 150.6px,#8c2981 153.3px,#b73779 156.0px,#de4968 158.8px,#f7705c 161.5px,#fe9f6d 164.2px,#fecf92 166.9px,#fcfdbf 169.6px,#000004 169.6px,#140e36 172.4px,#3b0f70 175.2px,#641a80 178.0px,#8c2981 180.8px,#b73779 183.5px,#de4968 186.3px,#f7705c 189.1px,#fe9f6d 191.9px,#fecf92 194.7px,#fcfdbf 197.5px,#000004 197.5px,#140e36 200.2px,#3b0f70 202.9px,#641a80 205.6px,#8c2981 208.3px,#b73779 211.0px,#de4968 213.7px,#f7705c 216.4px,#fe9f6d 219.1px,#fecf92 221.8px,#fcfdbf 224.5px,#000004 224.5px,#140e36 227.0px,#3b0f70 229.5px,#641a80 232.0px,#8c2981 234.5px,#b73779 237.0px,#de4968 239.6px,#f7705c 242.1px,#fe9f6d 244.6px,#fecf92 247.1px,#fcfdbf 249.6px,#000004 249.6px,#140e36 252.0px,#3b0f70 254.5px,#641a80 256.9px,#8c2981 259.3px,#b73779 261.8px,#de4968 264.2px,#f7705c 266.6px,#fe9f6d 269.0px,#fecf92 271.5px,#fcfdbf 273.9px,#000004 273.9px,#140e36 275.9px,#3b0f70 277.9px,#641a80 279.9px,#8c2981 281.9px,#b73779 284.0px,#de4968 286.0px,#f7705c 288.0px,#fe9f6d 290.0px,#fecf92 292.0px,#fcfdbf 294.0px,#000004 294.0px,#140e36 295.9px,#3b0f70 297.8px,#641a80 299.8px,#8c2981 301.7px,#b73779 303.6px,#de4968 305.5px,#f7705c 307.4px,#fe9f6d 309.4px,#fecf92 311.3px,#fcfdbf 313.2px,#000004 313.2px,#140e36 315.2px,#3b0f70 317.2px,#641a80 319.2px,#8c2981 321.2px,#b73779 323.2px,#de4968 325.2px,#f7705c 327.2px,#fe9f6d 329.2px,#fecf92 331.2px,#fcfdbf 333.2px,#000004 333.2px,#140e36 334.5px,#3b0f70 335.7px,#641a80 337.0px,#8c2981 338.3px,#b73779 339.6px,#de4968 340.8px,#f7705c 342.1px,#fe9f6d 343.4px,#fecf92 344.6px,#fcfdbf 345.9px,#000004 345.9px,#140e36 346.7px,#3b0f70 347.5px,#641a80 348.3px,#8c2981 349.1px,#b73779 350.0px,#de4968 350.8px,#f7705c 351.6px,#fe9f6d 352.4px,#fecf92 353.2px,#fcfdbf 354.0px,#000004 354.0px,#140e36 354.6px,#3b0f70 355.2px,#641a80 355.8px,#8c2981 356.4px,#b73779 357.1px,#de4968 357.7px,#f7705c 358.3px,#fe9f6d 358.9px,#fecf92 359.5px,#fcfdbf 360.1px,#2c115f 360.1px,#3b0f70 361.3px,#641a80 364.7px,#8c2981 368.2px,#b73779 371.7px,#d0416f 374.0px,#7c2382 374.0px,#8c2981 375.2px,#b73779 378.4px,#de4968 381.6px,#f66e5c 384.8px,#651a80 384.8px,#8c2981 386.1px,#b73779 387.5px,#de4968 388.8px,#f7705c 390.2px,#fe9f6d 391.6px,#fecf92 392.9px,#fddea0 393.4px,#000004 393.4px,#140e36 394.6px,#3b0f70 395.9px,#641a80 397.1px,#8c2981 398.4px,#b73779 399.7px,#de4968 400.9px,#f7705c 402.2px,#fe9f6d 403.5px,#fecf92 404.7px,#fcfdbf 406.0px,#6e1e81 406.0px,#8c2981 406.7px,#b73779 407.8px,#de4968 408.8px,#f7705c 409.8px,#fd9a6a 410.7px,#000004 410.7px,#140e36 411.5px,#3b0f70 412.3px,#641a80 413.0px,#8c2981 413.8px,#b73779 414.6px,#de4968 415.3px,#f7705c 416.1px,#fe9f6d 416.9px,#fecf92 417.7px,#fcfdbf 418.4px,#000004 418.4px,#140e36 419.3px,#3b0f70 420.2px,#641a80 421.0px,#8c2981 421.9px,#b73779 422.8px,#de4968 423.7px,#f7705c 424.5px,#fe9f6d 425.4px,#fecf92 426.3px,#fcfdbf 427.1px,#000004 427.1px,#140e36 428.4px,#3b0f70 429.6px,#641a80 430.8px,#8c2981 432.0px,#b73779 433.3px,#de4968 434.5px,#f7705c 435.7px,#fe9f6d 437.0px,#fecf92 438.2px,#fcfdbf 439.4px,#000004 439.4px,#140e36 440.7px,#3b0f70 441.9px,#641a80 443.2px,#8c2981 444.5px,#ad347c 445.5px)"></div><div style="left:915.0px;top:897.25px;width:445.5px;height:27.18px;background:linear-gradient(90deg,#fc8961 0.0px,#fe9f6d 1.4px,#fecf92 4.2px,#fcfdbf 7.0px,#000004 7.0px,#140e36 9.8px,#3b0f70 12.6px,#641a80 15.5px,#8c2981 18.3px,#b73779 21.1px,#de4968 23.9px,#f7705c 26.7px,#fe9f6d 29.6px,#fecf92 32.4px,#fcfdbf 35.2px,#000004 35.2px,#140e36 37.9px,#3b0f70 40.7px,#641a80 43.4px,#8c2981 46.1px,#b73779 48.9px,#de4968 51.6px,#f7705c 54.3px,#fe9f6d 57.0px,#fecf92 59.8px,#fcfdbf 62.5px,#000004 62.5px,#140e36 65.1px,#3b0f70 67.8px,#641a80 70.4px,#8c2981 73.0px,#b73779 75.6px,#de4968 78.3px,#f7705c 80.9px,#fe9f6d 83.5px,#fecf92 86.2px,#fcfdbf 88.8px,#000004 88.8px,#140e36 91.5px,#3b0f70 94.2px,#641a80 96.8px,#8c2981 99.5px,#b73779 102.2px,#de4968 104.9px,#f7705c 107.6px,#fe9f6d 110.2px,#fecf92 112.9px,#fcfdbf 115.6px,#000004 115.6px,#140e36 118.3px,#3b0f70 121.0px,#641a80 123.7px,#8c2981 126.4px,#b73779 129.0px,#de4968 131.7px,#f7705c 134.4px,#fe9f6d 137.1px,#fecf92 139.8px,#fcfdbf 142.5px,#000004 142.5px,#140e36 145.2px,#3b0f70 147.9px,#641a80 150.6px,#8c2981 153.3px,#b73779 156.0px,#de4968 158.8px,#f7705c 161.5px,#fe9f6d 164.2px,#fecf92 166.9px,#fcfdbf 169.6px,#000004 169.6px,#140e36 172.4px,#3b0f70 175.2px,#641a80 178.0px,#8c2981 180.8px,#b73779 183.5px,#de4968 186.3px,#f7705c 189.1px,#fe9f6d 191.9px,#fecf92 194.7px,#fcfdbf 197.5px,#000004 197.5px,#140e36 200.2px,#3b0f70 202.9px,#641a80 205.6px,#8c2981 208.3px,#b73779 211.0px,#de4968 213.7px,#f7705c 216.4px,#fe9f6d 219.1px,#fecf92 221.8px,#fcfdbf 224.5px,#000004 224.5px,#140e36 227.0px,#3b0f70 229.5px,#641a80 232.0px,#8c2981 234.5px,#b73779 237.0px,#de4968 239.6px,#f7705c 242.1px,#fe9f6d 244.6px,#fecf92 247.1px,#fcfdbf 249.6px,#000004 249.6px,#140e36 252.0px,#3b0f70 254.5px,#641a80 256.9px,#8c2981 259.3px,#b73779 261.8px,#de4968 264.2px,#f7705c 266.6px,#fe9f6d 269.0px,#fecf92 271.5px,#fcfdbf 273.9px,#000004 273.9px,#140e36 275.9px,#3b0f70 277.9px,#641a80 279.9px,#8c2981 281.9px,#b73779 284.0px,#de4968 286.0px,#f7705c 288.0px,#fe9f6d 290.0px,#fecf92 292.0px,#fcfdbf 294.0px,#000004 294.0px,#140e36 295.9px,#3b0f70 297.8px,#641a80 299.8px,#8c2981 301.7px,#b73779 303.6px,#de4968 305.5px,#f7705c 307.4px,#fe9f6d 309.4px,#fecf92 311.3px,#fcfdbf 313.2px,#000004 313.2px,#140e36 315.2px,#3b0f70 317.2px,#641a80 319.2px,#8c2981 321.2px,#b73779 323.2px,#de4968 325.2px,#f7705c 327.2px,#fe9f6d 329.2px,#fecf92 331.2px,#fcfdbf 333.2px,#000004 333.2px,#140e36 334.5px,#3b0f70 335.7px,#641a80 337.0px,#8c2981 338.3px,#b73779 339.6px,#de4968 340.8px,#f7705c 342.1px,#fe9f6d 343.4px,#fecf92 344.6px,#fcfdbf 345.9px,#000004 345.9px,#140e36 346.7px,#3b0f70 347.5px,#641a80 348.3px,#8c2981 349.1px,#b73779 350.0px,#de4968 350.8px,#f7705c 351.6px,#fe9f6d 352.4px,#fecf92 353.2px,#fcfdbf 354.0px,#000004 354.0px,#140e36 355.3px,#3b0f70 356.6px,#641a80 357.9px,#8c2981 359.2px,#b73779 360.5px,#de4968 361.8px,#f7705c 363.1px,#fe9f6d 364.4px,#fecf92 365.7px,#fcfdbf 367.0px,#1d1147 367.0px,#3b0f70 368.2px,#641a80 369.9px,#8c2981 371.5px,#b73779 373.2px,#de4968 374.9px,#f7705c 376.6px,#fe9f6d 378.3px,#fec185 379.4px,#000004 379.4px,#140e36 380.4px,#3b0f70 381.5px,#641a80 382.5px,#8c2981 383.5px,#b73779 384.5px,#de4968 385.5px,#f7705c 386.5px,#fe9f6d 387.6px,#fecf92 388.6px,#fcfdbf 389.6px,#000004 389.6px,#140e36 390.1px,#3b0f70 390.5px,#641a80 391.0px,#8c2981 391.4px,#b73779 391.9px,#de4968 392.4px,#f7705c 392.8px,#fe9f6d 393.3px,#fecf92 393.8px,#fcfdbf 394.2px,#251255 394.2px,#3b0f70 395.0px,#641a80 396.7px,#8c2981 398.3px,#b73779 400.0px,#de4968 401.6px,#f7705c 403.3px,#fe9f6d 404.9px,#fecf92 406.6px,#fddc9e 407.0px,#000004 407.0px,#140e36 408.2px,#3b0f70 409.4px,#641a80 410.5px,#8c2981 411.7px,#b73779 412.8px,#de4968 414.0px,#f7705c 415.2px,#fe9f6d 416.3px,#fecf92 417.5px,#fcfdbf 418.6px,#02020d 418.6px,#140e36 419.4px,#3b0f70 420.5px,#641a80 421.6px,#8c2981 422.7px,#b73779 423.8px,#de4968 424.9px,#f7705c 426.0px,#fe9f6d 427.1px,#fec88c 428.0px,#400f74 428.0px,#641a80 429.1px,#8c2981 430.4px,#b73779 431.6px,#de4968 432.9px,#f7705c 434.2px,#fe9f6d 435.4px,#feca8d 436.6px,#000004 436.6px,#140e36 437.5px,#3b0f70 438.4px,#641a80 439.3px,#8c2981 440.1px,#b73779 441.0px,#de4968 441.9px,#f7705c 442.8px,#fe9f6d 443.7px,#fecf92 444.6px,#fcfdbf 445.5px)"></div><div style="left:915.0px;top:924.03px;width:445.5px;height:27.18px;background:linear-gradient(90deg,#de4968 0.0px,#f7705c 3.4px,#fe9f6d 6.7px,#fecf92 10.0px,#fcfdbf 13.4px,#000004 13.4px,#140e36 15.8px,#3b0f70 18.1px,#641a80 20.5px,#8c2981 22.8px,#b73779 25.2px,#de4968 27.6px,#f7705c 29.9px,#fe9f6d 32.3px,#fecf92 34.6px,#fcfdbf 37.0px,#000004 37.0px,#140e36 39.5px,#3b0f70 42.1px,#641a80 44.6px,#8c2981 47.2px,#b73779 49.8px,#de4968 52.3px,#f7705c 54.9px,#fe9f6d 57.4px,#fecf92 60.0px,#fcfdbf 62.5px,#000004 62.5px,#140e36 65.1px,#3b0f70 67.8px,#641a80 70.4px,#8c2981 73.0px,#b73779 75.6px,#de4968 78.3px,#f7705c 80.9px,#fe9f6d 83.5px,#fecf92 86.2px,#fcfdbf 88.8px,#000004 88.8px,#140e36 91.5px,#3b0f70 94.2px,#641a80 96.8px,#8c2981 99.5px,#b73779 102.2px,#de4968 104.9px,#f7705c 107.6px,#fe9f6d 110.2px,#fecf92 112.9px,#fcfdbf 115.6px,#000004 115.6px,#140e36 118.3px,#3b0f70 121.0px,#641a80 123.7px,#8c2981 126.4px,#b73779 129.0px,#de4968 131.7px,#f7705c 134.4px,#fe9f6d 137.1px,#fecf92 139.8px,#fcfdbf 142.5px,#000004 142.5px,#140e36 145.2px,#3b0f70 147.9px,#641a80 150.6px,#8c2981 153.3px,#b73779 156.0px,#de4968 158.8px,#f7705c 161.5px,#fe9f6d 164.2px,#fecf92 166.9px,#fcfdbf 169.6px,#000004 169.6px,#140e36 172.4px,#3b0f70 175.2px,#641a80 178.0px,#8c2981 180.8px,#b73779 183.5px,#de4968 186.3px,#f7705c 189.1px,#fe9f6d 191.9px,#fecf92 194.7px,#fcfdbf 197.5px,#000004 197.5px,#140e36 200.2px,#3b0f70 202.9px,#641a80 205.6px,#8c2981 208.3px,#b73779 211.0px,#de4968 213.7px,#f7705c 216.4px,#fe9f6d 219.1px,#fecf92 221.8px,#fcfdbf 224.5px,#000004 224.5px,#140e36 227.0px,#3b0f70 229.5px,#641a80 232.0px,#8c2981 234.5px,#b73779 237.0px,#de4968 239.6px,#f7705c 242.1px,#fe9f6d 244.6px,#fecf92 247.1px,#fcfdbf 249.6px,#000004 249.6px,#140e36 252.0px,#3b0f70 254.5px,#641a80 256.9px,#8c2981 259.3px,#b73779 261.8px,#de4968 264.2px,#f7705c 266.6px,#fe9f6d 269.0px,#fecf92 271.5px,#fcfdbf 273.9px,#000004 273.9px,#140e36 275.9px,#3b0f70 277.9px,#641a80 279.9px,#8c2981 281.9px,#b73779 284.0px,#de4968 286.0px,#f7705c 288.0px,#fe9f6d 290.0px,#fecf92 292.0px,#fcfdbf 294.0px,#000004 294.0px,#140e36 295.9px,#3b0f70 297.8px,#641a80 299.8px,#8c2981 301.7px,#b73779 303.6px,#de4968 305.5px,#f7705c 307.4px,#fe9f6d 309.4px,#fecf92 311.3px,#fcfdbf 313.2px,#000004 313.2px,#140e36 315.2px,#3b0f70 317.2px,#641a80 319.2px,#8c2981 321.2px,#b73779 323.2px,#de4968 325.2px,#f7705c 327.2px,#fe9f6d 329.2px,#fecf92 331.2px,#fcfdbf 333.2px,#000004 333.2px,#140e36 334.5px,#3b0f70 335.7px,#641a80 337.0px,#8c2981 338.3px,#b73779 339.6px,#de4968 340.8px,#f7705c 342.1px,#fe9f6d 343.4px,#fecf92 344.6px,#fcfdbf 345.9px,#000004 345.9px,#140e36 346.7px,#3b0f70 347.5px,#641a80 348.3px,#8c2981 349.1px,#b73779 350.0px,#de4968 350.8px,#f7705c 351.6px,#fe9f6d 352.4px,#fecf92 353.2px,#fcfdbf 354.0px,#000004 354.0px,#140e36 355.2px,#3b0f70 356.3px,#641a80 357.5px,#8c2981 358.6px,#b73779 359.8px,#de4968 361.0px,#f7705c 362.1px,#fe9f6d 363.3px,#fecf92 364.4px,#fcfdbf 365.6px,#000004 365.6px,#140e36 366.2px,#3b0f70 366.8px,#641a80 367.4px,#8c2981 368.1px,#b73779 368.7px,#de4968 369.3px,#f7705c 369.9px,#fe9f6d 370.5px,#fecf92 371.1px,#fcfdbf 371.8px,#000004 371.8px,#140e36 372.5px,#3b0f70 373.2px,#641a80 373.8px,#8c2981 374.5px,#b73779 375.2px,#de4968 375.9px,#f7705c 376.6px,#fe9f6d 377.3px,#fecf92 378.0px,#fcfdbf 378.7px,#732081 378.7px,#8c2981 380.5px,#b73779 383.5px,#de4968 386.4px,#f7705c 389.3px,#f9785d 389.9px,#a6317d 389.9px,#b73779 390.7px,#de4968 392.8px,#f7705c 394.9px,#fe9f6d 397.0px,#fecf92 399.1px,#fcf0b2 400.6px,#842681 400.6px,#8c2981 401.0px,#b73779 403.3px,#de4968 405.6px,#f7705c 407.8px,#fe9f6d 410.1px,#fea36f 410.2px,#341069 410.2px,#3b0f70 410.4px,#641a80 411.9px,#8c2981 413.4px,#b73779 414.9px,#de4968 416.4px,#f7705c 417.9px,#fe9f6d 419.4px,#fecd90 420.9px,#000004 420.9px,#140e36 422.2px,#3b0f70 423.5px,#641a80 424.7px,#8c2981 426.0px,#b73779 427.3px,#de4968 428.6px,#f7705c 429.8px,#fe9f6d 431.1px,#fecf92 432.4px,#fcfdbf 433.7px,#221150 433.7px,#3b0f70 435.7px,#641a80 439.3px,#8c2981 442.8px,#ab337c 445.5px)"></div><div style="left:915.0px;top:950.81px;width:445.5px;height:27.18px;background:linear-gradient(90deg,#ed5a5f 0.0px,#f7705c 1.6px,#fe9f6d 4.9px,#fecf92 8.2px,#fcfdbf 11.5px,#000004 11.5px,#140e36 14.3px,#3b0f70 17.1px,#641a80 20.0px,#8c2981 22.8px,#b73779 25.6px,#de4968 28.4px,#f7705c 31.2px,#fe9f6d 34.1px,#fecf92 36.9px,#fcfdbf 39.7px,#000004 39.7px,#140e36 42.2px,#3b0f70 44.6px,#641a80 47.1px,#8c2981 49.5px,#b73779 52.0px,#de4968 54.5px,#f7705c 56.9px,#fe9f6d 59.4px,#fecf92 61.8px,#fcfdbf 64.3px,#000004 64.3px,#140e36 66.8px,#3b0f70 69.2px,#641a80 71.6px,#8c2981 74.1px,#b73779 76.5px,#de4968 79.0px,#f7705c 81.4px,#fe9f6d 83.9px,#fecf92 86.3px,#fcfdbf 88.8px,#000004 88.8px,#140e36 91.5px,#3b0f70 94.2px,#641a80 96.8px,#8c2981 99.5px,#b73779 102.2px,#de4968 104.9px,#f7705c 107.6px,#fe9f6d 110.2px,#fecf92 112.9px,#fcfdbf 115.6px,#000004 115.6px,#140e36 118.3px,#3b0f70 121.0px,#641a80 123.7px,#8c2981 126.4px,#b73779 129.0px,#de4968 131.7px,#f7705c 134.4px,#fe9f6d 137.1px,#fecf92 139.8px,#fcfdbf 142.5px,#000004 142.5px,#140e36 145.2px,#3b0f70 147.9px,#641a80 150.6px,#8c2981 153.3px,#b73779 156.0px,#de4968 158.8px,#f7705c 161.5px,#fe9f6d 164.2px,#fecf92 166.9px,#fcfdbf 169.6px,#000004 169.6px,#140e36 172.4px,#3b0f70 175.2px,#641a80 178.0px,#8c2981 180.8px,#b73779 183.5px,#de4968 186.3px,#f7705c 189.1px,#fe9f6d 191.9px,#fecf92 194.7px,#fcfdbf 197.5px,#000004 197.5px,#140e36 200.2px,#3b0f70 202.9px,#641a80 205.6px,#8c2981 208.3px,#b73779 211.0px,#de4968 213.7px,#f7705c 216.4px,#fe9f6d 219.1px,#fecf92 221.8px,#fcfdbf 224.5px,#000004 224.5px,#140e36 227.0px,#3b0f70 229.5px,#641a80 232.0px,#8c2981 234.5px,#b73779 237.0px,#de4968 239.6px,#f7705c 242.1px,#fe9f6d 244.6px,#fecf92 247.1px,#fcfdbf 249.6px,#000004 249.6px,#140e36 252.0px,#3b0f70 254.5px,#641a80 256.9px,#8c2981 259.3px,#b73779 261.8px,#de4968 264.2px,#f7705c 266.6px,#fe9f6d 269.0px,#fecf92 271.5px,#fcfdbf 273.9px,#000004 273.9px,#140e36 275.9px,#3b0f70 277.9px,#641a80 279.9px,#8c2981 281.9px,#b73779 284.0px,#de4968 286.0px,#f7705c 288.0px,#fe9f6d 290.0px,#fecf92 292.0px,#fcfdbf 294.0px,#000004 294.0px,#140e36 295.9px,#3b0f70 297.8px,#641a80 299.8px,#8c2981 301.7px,#b73779 303.6px,#de4968 305.5px,#f7705c 307.4px,#fe9f6d 309.4px,#fecf92 311.3px,#fcfdbf 313.2px,#000004 313.2px,#140e36 315.2px,#3b0f70 317.2px,#641a80 319.2px,#8c2981 321.2px,#b73779 323.2px,#de4968 325.2px,#f7705c 327.2px,#fe9f6d 329.2px,#fecf92 331.2px,#fcfdbf 333.2px,#000004 333.2px,#140e36 334.5px,#3b0f70 335.7px,#641a80 337.0px,#8c2981 338.3px,#b73779 339.6px,#de4968 340.8px,#f7705c 342.1px,#fe9f6d 343.4px,#fecf92 344.6px,#fcfdbf 345.9px,#000004 345.9px,#140e36 346.7px,#3b0f70 347.5px,#641a80 348.3px,#8c2981 349.1px,#b73779 350.0px,#de4968 350.8px,#f7705c 351.6px,#fe9f6d 352.4px,#fecf92 353.2px,#fcfdbf 354.0px,#000004 354.0px,#140e36 355.3px,#3b0f70 356.5px,#641a80 357.8px,#8c2981 359.1px,#b73779 360.4px,#de4968 361.6px,#f7705c 362.9px,#fe9f6d 364.2px,#fecf92 365.4px,#fcfdbf 366.7px,#241253 366.7px,#3b0f70 367.2px,#641a80 368.0px,#8c2981 368.9px,#b73779 369.7px,#de4968 370.5px,#f7705c 371.4px,#fe9f6d 372.2px,#fecf92 373.1px,#fcf4b6 373.7px,#ab337c 373.7px,#b73779 374.0px,#de4968 375.0px,#f7705c 375.9px,#fe9f6d 376.9px,#fecf92 377.8px,#fcf0b2 378.5px,#912b81 378.5px,#b73779 379.9px,#de4968 381.4px,#f7705c 383.0px,#fe9f6d 384.5px,#fecf92 386.1px,#fcf0b2 387.2px,#a1307e 387.2px,#b73779 388.0px,#de4968 389.5px,#f7705c 391.1px,#fe9f6d 392.6px,#fecf92 394.2px,#fed194 394.2px,#762181 394.2px,#8c2981 395.1px,#b73779 396.7px,#de4968 398.3px,#f7705c 399.9px,#fe9f6d 401.5px,#feb97f 402.4px,#000004 402.4px,#140e36 403.7px,#3b0f70 405.0px,#641a80 406.4px,#8c2981 407.7px,#b73779 409.0px,#de4968 410.3px,#f7705c 411.6px,#fe9f6d 413.0px,#fecf92 414.3px,#fcfdbf 415.6px,#701f81 415.6px,#8c2981 417.4px,#b73779 419.9px,#de4968 422.4px,#f7705c 424.9px,#fe9f6d 427.4px,#fec287 429.2px,#000004 429.2px,#140e36 429.8px,#3b0f70 430.4px,#641a80 431.0px,#8c2981 431.6px,#b73779 432.2px,#de4968 432.8px,#f7705c 433.4px,#fe9f6d 434.0px,#fecf92 434.6px,#fcfdbf 435.1px,#000004 435.1px,#140e36 436.3px,#3b0f70 437.5px,#641a80 438.6px,#8c2981 439.8px,#b73779 440.9px,#de4968 442.1px,#f7705c 443.3px,#fe9f6d 444.4px,#fecc8f 445.5px)"></div><div style="left:915.0px;top:977.59px;width:445.5px;height:27.18px;background:linear-gradient(90deg,#ed5a5f 0.0px,#f7705c 1.5px,#fe9f6d 4.5px,#fecf92 7.6px,#fcfdbf 10.6px,#000004 10.6px,#140e36 13.4px,#3b0f70 16.2px,#641a80 19.1px,#8c2981 21.9px,#b73779 24.7px,#de4968 27.5px,#f7705c 30.3px,#fe9f6d 33.2px,#fecf92 36.0px,#fcfdbf 38.8px,#000004 38.8px,#140e36 41.3px,#3b0f70 43.9px,#641a80 46.4px,#8c2981 49.0px,#b73779 51.5px,#de4968 54.1px,#f7705c 56.6px,#fe9f6d 59.2px,#fecf92 61.8px,#fcfdbf 64.3px,#000004 64.3px,#140e36 66.8px,#3b0f70 69.2px,#641a80 71.6px,#8c2981 74.1px,#b73779 76.5px,#de4968 79.0px,#f7705c 81.4px,#fe9f6d 83.9px,#fecf92 86.3px,#fcfdbf 88.8px,#000004 88.8px,#140e36 91.5px,#3b0f70 94.2px,#641a80 96.8px,#8c2981 99.5px,#b73779 102.2px,#de4968 104.9px,#f7705c 107.6px,#fe9f6d 110.2px,#fecf92 112.9px,#fcfdbf 115.6px,#000004 115.6px,#140e36 118.3px,#3b0f70 121.0px,#641a80 123.7px,#8c2981 126.4px,#b73779 129.0px,#de4968 131.7px,#f7705c 134.4px,#fe9f6d 137.1px,#fecf92 139.8px,#fcfdbf 142.5px,#000004 142.5px,#140e36 145.2px,#3b0f70 147.9px,#641a80 150.6px,#8c2981 153.3px,#b73779 156.0px,#de4968 158.8px,#f7705c 161.5px,#fe9f6d 164.2px,#fecf92 166.9px,#fcfdbf 169.6px,#000004 169.6px,#140e36 172.4px,#3b0f70 175.2px,#641a80 178.0px,#8c2981 180.8px,#b73779 183.5px,#de4968 186.3px,#f7705c 189.1px,#fe9f6d 191.9px,#fecf92 194.7px,#fcfdbf 197.5px,#000004 197.5px,#140e36 200.2px,#3b0f70 202.9px,#641a80 205.6px,#8c2981 208.3px,#b73779 211.0px,#de4968 213.7px,#f7705c 216.4px,#fe9f6d 219.1px,#fecf92 221.8px,#fcfdbf 224.5px,#000004 224.5px,#140e36 227.0px,#3b0f70 229.5px,#641a80 232.0px,#8c2981 234.5px,#b73779 237.0px,#de4968 239.6px,#f7705c 242.1px,#fe9f6d 244.6px,#fecf92 247.1px,#fcfdbf 249.6px,#000004 249.6px,#140e36 252.0px,#3b0f70 254.5px,#641a80 256.9px,#8c2981 259.3px,#b73779 261.8px,#de4968 264.2px,#f7705c 266.6px,#fe9f6d 269.0px,#fecf92 271.5px,#fcfdbf 273.9px,#000004 273.9px,#140e36 275.9px,#3b0f70 277.9px,#641a80 279.9px,#8c2981 281.9px,#b73779 284.0px,#de4968 286.0px,#f7705c 288.0px,#fe9f6d 290.0px,#fecf92 292.0px,#fcfdbf 294.0px,#000004 294.0px,#140e36 295.9px,#3b0f70 297.8px,#641a80 299.8px,#8c2981 301.7px,#b73779 303.6px,#de4968 305.5px,#f7705c 307.4px,#fe9f6d 309.4px,#fecf92 311.3px,#fcfdbf 313.2px,#000004 313.2px,#140e36 315.2px,#3b0f70 317.2px,#641a80 319.2px,#8c2981 321.2px,#b73779 323.2px,#de4968 325.2px,#f7705c 327.2px,#fe9f6d 329.2px,#fecf92 331.2px,#fcfdbf 333.2px,#000004 333.2px,#140e36 334.5px,#3b0f70 335.7px,#641a80 337.0px,#8c2981 338.3px,#b73779 339.6px,#de4968 340.8px,#f7705c 342.1px,#fe9f6d 343.4px,#fecf92 344.6px,#fcfdbf 345.9px,#000004 345.9px,#140e36 346.7px,#3b0f70 347.5px,#641a80 348.3px,#8c2981 349.1px,#b73779 350.0px,#de4968 350.8px,#f7705c 351.6px,#fe9f6d 352.4px,#fecf92 353.2px,#fcfdbf 354.0px,#000004 354.0px,#140e36 355.1px,#3b0f70 356.2px,#641a80 357.4px,#8c2981 358.5px,#b73779 359.6px,#de4968 360.7px,#f7705c 361.8px,#fe9f6d 362.9px,#fecf92 364.1px,#fcfdbf 365.2px,#000004 365.2px,#140e36 366.4px,#3b0f70 367.6px,#641a80 368.8px,#8c2981 370.0px,#b73779 371.2px,#de4968 372.4px,#f7705c 373.6px,#fe9f6d 374.8px,#fecf92 376.0px,#fcfdbf 377.2px,#000004 377.2px,#140e36 377.6px,#3b0f70 378.1px,#641a80 378.5px,#8c2981 378.9px,#b73779 379.3px,#de4968 379.7px,#f7705c 380.1px,#fe9f6d 380.6px,#fecf92 381.0px,#fcfdbf 381.4px,#000004 381.4px,#140e36 382.3px,#3b0f70 383.2px,#641a80 384.1px,#8c2981 385.0px,#b73779 385.9px,#de4968 386.8px,#f7705c 387.7px,#fe9f6d 388.7px,#fecf92 389.6px,#fcfdbf 390.5px,#7c2382 390.5px,#8c2981 390.8px,#b73779 391.7px,#de4968 392.6px,#f7705c 393.5px,#fe9f6d 394.3px,#fea973 394.5px,#000004 394.5px,#140e36 395.5px,#3b0f70 396.5px,#641a80 397.5px,#8c2981 398.5px,#b73779 399.5px,#de4968 400.5px,#f7705c 401.5px,#fe9f6d 402.5px,#fecf92 403.5px,#fcfdbf 404.5px,#000004 404.5px,#140e36 405.8px,#3b0f70 407.1px,#641a80 408.4px,#8c2981 409.7px,#b73779 411.0px,#de4968 412.3px,#f7705c 413.6px,#fe9f6d 414.9px,#fecf92 416.2px,#fcfdbf 417.5px,#000004 417.5px,#140e36 418.1px,#3b0f70 418.7px,#641a80 419.3px,#8c2981 419.9px,#b73779 420.5px,#de4968 421.1px,#f7705c 421.7px,#fe9f6d 422.3px,#fecf92 422.9px,#fcfdbf 423.5px,#36106b 423.5px,#3b0f70 423.6px,#641a80 425.7px,#8c2981 427.7px,#b73779 429.8px,#de4968 431.8px,#f7705c 433.9px,#fd9668 435.5px,#000004 435.5px,#140e36 436.3px,#3b0f70 437.0px,#641a80 437.8px,#8c2981 438.5px,#b73779 439.3px,#de4968 440.0px,#f7705c 440.8px,#fe9f6d 441.5px,#fecf92 442.3px,#fcfdbf 443.0px,#8b2981 443.0px,#8c2981 443.1px,#b73779 445.0px,#c03a76 445.5px)"></div><div style="left:915.0px;top:1004.38px;width:445.5px;height:27.18px;background:linear-gradient(90deg,#ed5a5f 0.0px,#f7705c 1.5px,#fe9f6d 4.5px,#fecf92 7.6px,#fcfdbf 10.6px,#000004 10.6px,#140e36 13.3px,#3b0f70 16.1px,#641a80 18.8px,#8c2981 21.5px,#b73779 24.2px,#de4968 27.0px,#f7705c 29.7px,#fe9f6d 32.4px,#fecf92 35.2px,#fcfdbf 37.9px,#000004 37.9px,#140e36 40.9px,#3b0f70 43.8px,#641a80 46.8px,#8c2981 49.7px,#a1307e 49.7px,#b73779 50.9px,#de4968 53.2px,#f7705c 55.5px,#fe9f6d 57.8px,#fecf92 60.2px,#fcfdbf 62.5px,#000004 62.5px,#140e36 65.0px,#3b0f70 67.6px,#641a80 70.1px,#8c2981 72.7px,#b73779 75.2px,#de4968 77.8px,#f7705c 80.4px,#fe9f6d 82.9px,#fecf92 85.5px,#fcfdbf 88.0px,#000004 88.0px,#140e36 90.8px,#3b0f70 93.5px,#641a80 96.3px,#8c2981 99.0px,#b73779 101.8px,#de4968 104.6px,#f7705c 107.3px,#fe9f6d 110.1px,#fecf92 112.8px,#fcfdbf 115.6px,#000004 115.6px,#140e36 118.3px,#3b0f70 121.0px,#641a80 123.7px,#8c2981 126.4px,#b73779 129.0px,#de4968 131.7px,#f7705c 134.4px,#fe9f6d 137.1px,#fecf92 139.8px,#fcfdbf 142.5px,#000004 142.5px,#140e36 145.2px,#3b0f70 147.9px,#641a80 150.6px,#8c2981 153.3px,#b73779 156.0px,#de4968 158.8px,#f7705c 161.5px,#fe9f6d 164.2px,#fecf92 166.9px,#fcfdbf 169.6px,#000004 169.6px,#140e36 172.4px,#3b0f70 175.2px,#641a80 178.0px,#8c2981 180.8px,#b73779 183.5px,#de4968 186.3px,#f7705c 189.1px,#fe9f6d 191.9px,#fecf92 194.7px,#fcfdbf 197.5px,#000004 197.5px,#140e36 200.2px,#3b0f70 202.9px,#641a80 205.6px,#8c2981 208.3px,#b73779 211.0px,#de4968 213.7px,#f7705c 216.4px,#fe9f6d 219.1px,#fecf92 221.8px,#fcfdbf 224.5px,#000004 224.5px,#140e36 227.0px,#3b0f70 229.5px,#641a80 232.0px,#8c2981 234.5px,#b73779 237.0px,#de4968 239.6px,#f7705c 242.1px,#fe9f6d 244.6px,#fecf92 247.1px,#fcfdbf 249.6px,#000004 249.6px,#140e36 252.0px,#3b0f70 254.5px,#641a80 256.9px,#8c2981 259.3px,#b73779 261.8px,#de4968 264.2px,#f7705c 266.6px,#fe9f6d 269.0px,#fecf92 271.5px,#fcfdbf 273.9px,#000004 273.9px,#140e36 275.9px,#3b0f70 277.9px,#641a80 279.9px,#8c2981 281.9px,#b73779 284.0px,#de4968 286.0px,#f7705c 288.0px,#fe9f6d 290.0px,#fecf92 292.0px,#fcfdbf 294.0px,#000004 294.0px,#140e36 295.9px,#3b0f70 297.8px,#641a80 299.8px,#8c2981 301.7px,#b73779 303.6px,#de4968 305.5px,#f7705c 307.4px,#fe9f6d 309.4px,#fecf92 311.3px,#fcfdbf 313.2px,#000004 313.2px,#140e36 315.2px,#3b0f70 317.2px,#641a80 319.2px,#8c2981 321.2px,#b73779 323.2px,#de4968 325.2px,#f7705c 327.2px,#fe9f6d 329.2px,#fecf92 331.2px,#fcfdbf 333.2px,#000004 333.2px,#140e36 334.5px,#3b0f70 335.7px,#641a80 337.0px,#8c2981 338.3px,#b73779 339.6px,#de4968 340.8px,#f7705c 342.1px,#fe9f6d 343.4px,#fecf92 344.6px,#fcfdbf 345.9px,#000004 345.9px,#140e36 346.7px,#3b0f70 347.5px,#641a80 348.3px,#8c2981 349.1px,#b73779 350.0px,#de4968 350.8px,#f7705c 351.6px,#fe9f6d 352.4px,#fecf92 353.2px,#fcfdbf 354.0px,#a5317e 354.0px,#b73779 354.9px,#de4968 357.2px,#f7705c 359.5px,#fe9f6d 361.7px,#fecf92 364.0px,#fed89a 364.4px,#601880 364.4px,#641a80 364.6px,#8c2981 366.4px,#b73779 368.2px,#de4968 370.0px,#f7705c 371.8px,#fe9f6d 373.6px,#fea772 373.9px,#000004 373.9px,#140e36 374.5px,#3b0f70 375.1px,#641a80 375.7px,#8c2981 376.2px,#b73779 376.8px,#de4968 377.4px,#f7705c 378.0px,#fe9f6d 378.6px,#fecf92 379.2px,#fcfdbf 379.8px,#000004 379.8px,#140e36 380.8px,#3b0f70 381.8px,#641a80 382.8px,#8c2981 383.8px,#b73779 384.8px,#de4968 385.9px,#f7705c 386.9px,#fe9f6d 387.9px,#fecf92 388.9px,#fcfdbf 389.9px,#651a80 389.9px,#8c2981 391.1px,#b73779 392.4px,#de4968 393.6px,#f7705c 394.8px,#fe9f6d 396.1px,#fecf92 397.3px,#fde0a1 397.7px,#000004 397.7px,#140e36 398.4px,#3b0f70 399.1px,#641a80 399.8px,#8c2981 400.5px,#b73779 401.2px,#de4968 401.9px,#f7705c 402.6px,#fe9f6d 403.3px,#fecf92 404.0px,#fcfdbf 404.7px,#000004 404.7px,#140e36 406.0px,#3b0f70 407.3px,#641a80 408.6px,#8c2981 410.0px,#b73779 411.3px,#de4968 412.6px,#f7705c 413.9px,#fe9f6d 415.3px,#fecf92 416.6px,#fcfdbf 417.9px,#0b0924 417.9px,#140e36 418.4px,#3b0f70 420.0px,#641a80 421.6px,#8c2981 423.2px,#b73779 424.8px,#de4968 426.4px,#f7705c 428.0px,#fc8a62 428.9px,#932b80 428.9px,#b73779 430.6px,#de4968 432.7px,#f7705c 434.8px,#fe9f6d 436.9px,#fea36f 437.1px,#000004 437.1px,#140e36 437.8px,#3b0f70 438.6px,#641a80 439.3px,#8c2981 440.1px,#b73779 440.8px,#de4968 441.6px,#f7705c 442.3px,#fe9f6d 443.1px,#fecf92 443.8px,#fcfdbf 444.6px,#000004 444.6px,#130d34 445.5px)"></div><div style="left:915.0px;top:1031.16px;width:445.5px;height:27.18px;background:linear-gradient(90deg,#f7705c 0.0px,#fe9f6d 3.2px,#fecf92 6.5px,#fcfdbf 9.7px,#000004 9.7px,#140e36 12.2px,#3b0f70 14.8px,#641a80 17.4px,#8c2981 19.9px,#b73779 22.5px,#de4968 25.0px,#f7705c 27.6px,#fe9f6d 30.1px,#fecf92 32.7px,#fcfdbf 35.2px,#000004 35.2px,#140e36 37.5px,#3b0f70 39.8px,#641a80 42.0px,#8c2981 44.3px,#b73779 46.6px,#de4968 48.9px,#f7705c 51.1px,#fe9f6d 53.4px,#fe9f6d 53.4px,#fecf92 56.5px,#fcfdbf 59.7px,#000004 59.7px,#140e36 62.6px,#3b0f70 65.5px,#51127c 67.0px,#782281 67.0px,#8c2981 68.6px,#b73779 71.8px,#de4968 75.1px,#f7705c 78.3px,#fe9f6d 81.5px,#fecf92 84.8px,#fcfdbf 88.0px,#000004 88.0px,#140e36 90.8px,#3b0f70 93.5px,#641a80 96.3px,#8c2981 99.0px,#b73779 101.8px,#de4968 104.6px,#f7705c 107.3px,#fe9f6d 110.1px,#fecf92 112.8px,#fcfdbf 115.6px,#000004 115.6px,#140e36 118.3px,#3b0f70 121.0px,#641a80 123.7px,#8c2981 126.4px,#b73779 129.0px,#de4968 131.7px,#f7705c 134.4px,#fe9f6d 137.1px,#fecf92 139.8px,#fcfdbf 142.5px,#000004 142.5px,#140e36 145.2px,#3b0f70 147.9px,#641a80 150.6px,#8c2981 153.3px,#b73779 156.0px,#de4968 158.8px,#f7705c 161.5px,#fe9f6d 164.2px,#fecf92 166.9px,#fcfdbf 169.6px,#000004 169.6px,#140e36 172.4px,#3b0f70 175.2px,#641a80 178.0px,#8c2981 180.8px,#b73779 183.5px,#de4968 186.3px,#f7705c 189.1px,#fe9f6d 191.9px,#fecf92 194.7px,#fcfdbf 197.5px,#000004 197.5px,#140e36 200.2px,#3b0f70 202.9px,#641a80 205.6px,#8c2981 208.3px,#b73779 211.0px,#de4968 213.7px,#f7705c 216.4px,#fe9f6d 219.1px,#fecf92 221.8px,#fcfdbf 224.5px,#000004 224.5px,#140e36 227.0px,#3b0f70 229.5px,#641a80 232.0px,#8c2981 234.5px,#b73779 237.0px,#de4968 239.6px,#f7705c 242.1px,#fe9f6d 244.6px,#fecf92 247.1px,#fcfdbf 249.6px,#000004 249.6px,#140e36 252.0px,#3b0f70 254.5px,#641a80 256.9px,#8c2981 259.3px,#b73779 261.8px,#de4968 264.2px,#f7705c 266.6px,#fe9f6d 269.0px,#fecf92 271.5px,#fcfdbf 273.9px,#000004 273.9px,#140e36 275.9px,#3b0f70 277.9px,#641a80 279.9px,#8c2981 281.9px,#b73779 284.0px,#de4968 286.0px,#f7705c 288.0px,#fe9f6d 290.0px,#fecf92 292.0px,#fcfdbf 294.0px,#000004 294.0px,#140e36 295.9px,#3b0f70 297.8px,#641a80 299.8px,#8c2981 301.7px,#b73779 303.6px,#de4968 305.5px,#f7705c 307.4px,#fe9f6d 309.4px,#fecf92 311.3px,#fcfdbf 313.2px,#000004 313.2px,#140e36 315.2px,#3b0f70 317.2px,#641a80 319.2px,#8c2981 321.2px,#b73779 323.2px,#de4968 325.2px,#f7705c 327.2px,#fe9f6d 329.2px,#fecf92 331.2px,#fcfdbf 333.2px,#000004 333.2px,#140e36 334.5px,#3b0f70 335.7px,#641a80 337.0px,#8c2981 338.3px,#b73779 339.6px,#de4968 340.8px,#f7705c 342.1px,#fe9f6d 343.4px,#fecf92 344.6px,#fcfdbf 345.9px,#000004 345.9px,#140e36 346.7px,#3b0f70 347.5px,#641a80 348.3px,#8c2981 349.1px,#b73779 350.0px,#de4968 350.8px,#f7705c 351.6px,#fe9f6d 352.4px,#fecf92 353.2px,#fcfdbf 354.0px,#000004 354.0px,#140e36 354.7px,#3b0f70 355.4px,#641a80 356.1px,#8c2981 356.8px,#b73779 357.5px,#de4968 358.2px,#f7705c 358.9px,#fe9f6d 359.6px,#fecf92 360.3px,#fcfdbf 360.9px,#000004 360.9px,#140e36 362.0px,#3b0f70 363.0px,#641a80 364.1px,#8c2981 365.2px,#b73779 366.2px,#de4968 367.3px,#f7705c 368.3px,#fe9f6d 369.4px,#fecf92 370.4px,#fcfdbf 371.5px,#150e38 371.5px,#3b0f70 374.5px,#641a80 377.6px,#8c2981 380.8px,#b73779 383.9px,#c83e73 385.3px,#000004 385.3px,#140e36 385.9px,#3b0f70 386.6px,#641a80 387.3px,#8c2981 387.9px,#b73779 388.6px,#de4968 389.3px,#f7705c 389.9px,#fe9f6d 390.6px,#fecf92 391.3px,#fcfdbf 391.9px,#2f1163 391.9px,#3b0f70 392.2px,#641a80 393.2px,#8c2981 394.3px,#b73779 395.3px,#d5446d 396.1px,#010005 396.1px,#140e36 397.5px,#3b0f70 399.1px,#641a80 400.6px,#8c2981 402.1px,#b73779 403.6px,#de4968 405.1px,#000004 405.1px,#140e36 405.8px,#3b0f70 406.5px,#641a80 407.2px,#8c2981 407.9px,#b73779 408.6px,#de4968 409.3px,#f7705c 410.0px,#fe9f6d 410.7px,#fecf92 411.4px,#fcfdbf 412.1px,#000004 412.1px,#140e36 413.5px,#3b0f70 414.9px,#641a80 416.3px,#8c2981 417.6px,#b73779 419.0px,#de4968 420.4px,#f7705c 421.8px,#fe9f6d 423.1px,#fecf92 424.5px,#fcfdbf 425.9px,#000004 425.9px,#140e36 426.9px,#3b0f70 428.0px,#641a80 429.0px,#8c2981 430.1px,#b73779 431.1px,#de4968 432.2px,#f7705c 433.2px,#fe9f6d 434.2px,#fecf92 435.3px,#fcfdbf 436.3px,#000004 436.3px,#140e36 436.8px,#3b0f70 437.4px,#641a80 437.9px,#8c2981 438.4px,#b73779 438.9px,#de4968 439.4px,#f7705c 439.9px,#fe9f6d 440.4px,#fecf92 440.9px,#fcfdbf 441.4px,#000004 441.4px,#140e36 442.2px,#3b0f70 443.0px,#641a80 443.8px,#8c2981 444.5px,#b73779 445.3px,#bf3a77 445.5px)"></div><div style="left:915.0px;top:1057.94px;width:445.5px;height:27.18px;background:linear-gradient(90deg,#fe9f6d 0.0px,#fecf92 3.0px,#fcfdbf 6.1px,#000004 6.1px,#140e36 8.7px,#3b0f70 11.4px,#641a80 14.0px,#8c2981 16.7px,#b73779 19.3px,#de4968 21.9px,#f7705c 24.6px,#fe9f6d 27.2px,#fecf92 29.9px,#fcfdbf 32.5px,#000004 32.5px,#140e36 35.1px,#3b0f70 37.8px,#641a80 40.4px,#8c2981 43.0px,#b73779 45.6px,#de4968 48.3px,#f7705c 50.9px,#fe9f6d 53.5px,#fecf92 56.2px,#fcfdbf 58.8px,#000004 58.8px,#140e36 62.1px,#3b0f70 65.4px,#51127c 67.0px,#782281 67.0px,#8c2981 68.6px,#b73779 71.8px,#de4968 75.1px,#f7705c 78.3px,#fe9f6d 81.5px,#fecf92 84.8px,#fcfdbf 88.0px,#000004 88.0px,#140e36 90.8px,#3b0f70 93.5px,#641a80 96.3px,#8c2981 99.0px,#b73779 101.8px,#de4968 104.6px,#f7705c 107.3px,#fe9f6d 110.1px,#fecf92 112.8px,#fcfdbf 115.6px,#000004 115.6px,#140e36 118.3px,#3b0f70 121.0px,#641a80 123.7px,#8c2981 126.4px,#b73779 129.0px,#de4968 131.7px,#f7705c 134.4px,#fe9f6d 137.1px,#fecf92 139.8px,#fcfdbf 142.5px,#000004 142.5px,#140e36 145.2px,#3b0f70 147.9px,#641a80 150.6px,#8c2981 153.3px,#b73779 156.0px,#de4968 158.8px,#f7705c 161.5px,#fe9f6d 164.2px,#fecf92 166.9px,#fcfdbf 169.6px,#000004 169.6px,#140e36 172.4px,#3b0f70 175.2px,#641a80 178.0px,#8c2981 180.8px,#b73779 183.5px,#de4968 186.3px,#f7705c 189.1px,#fe9f6d 191.9px,#fecf92 194.7px,#fcfdbf 197.5px,#000004 197.5px,#140e36 200.2px,#3b0f70 202.9px,#641a80 205.6px,#8c2981 208.3px,#b73779 211.0px,#de4968 213.7px,#f7705c 216.4px,#fe9f6d 219.1px,#fecf92 221.8px,#fcfdbf 224.5px,#000004 224.5px,#140e36 227.0px,#3b0f70 229.5px,#641a80 232.0px,#8c2981 234.5px,#b73779 237.0px,#de4968 239.6px,#f7705c 242.1px,#fe9f6d 244.6px,#fecf92 247.1px,#fcfdbf 249.6px,#000004 249.6px,#140e36 252.0px,#3b0f70 254.5px,#641a80 256.9px,#8c2981 259.3px,#b73779 261.8px,#de4968 264.2px,#f7705c 266.6px,#fe9f6d 269.0px,#fecf92 271.5px,#fcfdbf 273.9px,#000004 273.9px,#140e36 275.9px,#3b0f70 277.9px,#641a80 279.9px,#8c2981 281.9px,#b73779 284.0px,#de4968 286.0px,#f7705c 288.0px,#fe9f6d 290.0px,#fecf92 292.0px,#fcfdbf 294.0px,#000004 294.0px,#140e36 295.9px,#3b0f70 297.8px,#641a80 299.8px,#8c2981 301.7px,#b73779 303.6px,#de4968 305.5px,#f7705c 307.4px,#fe9f6d 309.4px,#fecf92 311.3px,#fcfdbf 313.2px,#000004 313.2px,#140e36 315.2px,#3b0f70 317.2px,#641a80 319.2px,#8c2981 321.2px,#b73779 323.2px,#de4968 325.2px,#f7705c 327.2px,#fe9f6d 329.2px,#fecf92 331.2px,#fcfdbf 333.2px,#000004 333.2px,#140e36 334.5px,#3b0f70 335.7px,#641a80 337.0px,#8c2981 338.3px,#b73779 339.6px,#de4968 340.8px,#f7705c 342.1px,#fe9f6d 343.4px,#fecf92 344.6px,#fcfdbf 345.9px,#000004 345.9px,#140e36 346.7px,#3b0f70 347.5px,#641a80 348.3px,#8c2981 349.1px,#b73779 350.0px,#de4968 350.8px,#f7705c 351.6px,#fe9f6d 352.4px,#fecf92 353.2px,#fcfdbf 354.0px,#000004 354.0px,#140e36 355.3px,#3b0f70 356.6px,#641a80 357.9px,#8c2981 359.2px,#b73779 360.4px,#de4968 361.7px,#f7705c 363.0px,#fe9f6d 364.3px,#fecf92 365.6px,#fcfdbf 366.9px,#762181 366.9px,#8c2981 368.5px,#b73779 371.5px,#de4968 374.5px,#f7705c 377.5px,#f7705c 377.5px,#a02f7f 377.5px,#b73779 378.4px,#de4968 380.3px,#f7705c 382.2px,#fe9f6d 384.0px,#feb27a 384.7px,#07061c 384.7px,#140e36 385.8px,#3b0f70 388.2px,#641a80 390.5px,#8c2981 392.9px,#b73779 395.3px,#de4968 397.6px,#e44f64 398.1px,#471078 398.1px,#641a80 399.6px,#8c2981 401.6px,#b73779 403.7px,#de4968 405.8px,#f7705c 407.9px,#fe9f6d 410.0px,#fea973 410.3px,#130d34 410.3px,#140e36 410.4px,#3b0f70 411.0px,#641a80 411.7px,#8c2981 412.4px,#b73779 413.0px,#de4968 413.7px,#f7705c 414.3px,#fe9f6d 415.0px,#fecf92 415.7px,#fecf92 415.7px,#a1307e 415.7px,#b73779 417.5px,#de4968 421.3px,#f7705c 425.0px,#fe9f6d 428.8px,#fea772 429.2px,#000004 429.2px,#140e36 430.4px,#3b0f70 431.6px,#641a80 432.7px,#8c2981 433.9px,#b73779 435.1px,#de4968 436.2px,#f7705c 437.4px,#fe9f6d 438.5px,#fecf92 439.7px,#fcfdbf 440.9px,#000004 440.9px,#140e36 441.8px,#3b0f70 442.8px,#641a80 443.8px,#8c2981 444.8px,#ab337c 445.5px)"></div><div style="left:915.0px;top:1084.72px;width:445.5px;height:27.18px;background:linear-gradient(90deg,#fe9f6d 0.0px,#fecf92 3.0px,#fcfdbf 6.1px,#000004 6.1px,#140e36 8.6px,#3b0f70 11.2px,#641a80 13.7px,#8c2981 16.3px,#b73779 18.8px,#de4968 21.3px,#f7705c 23.9px,#fe9f6d 26.4px,#fecf92 29.0px,#fcfdbf 31.5px,#000004 31.5px,#140e36 34.3px,#3b0f70 37.1px,#641a80 40.0px,#8c2981 42.8px,#b73779 45.6px,#de4968 48.4px,#f7705c 51.2px,#fe9f6d 54.1px,#fecf92 56.9px,#fcfdbf 59.7px,#000004 59.7px,#140e36 62.6px,#3b0f70 65.5px,#51127c 67.0px,#782281 67.0px,#8c2981 68.7px,#b73779 72.0px,#de4968 75.4px,#f7705c 78.7px,#fe9f6d 82.1px,#fecf92 85.4px,#fcfdbf 88.8px,#000004 88.8px,#140e36 91.5px,#3b0f70 94.2px,#641a80 96.8px,#8c2981 99.5px,#b73779 102.2px,#de4968 104.9px,#f7705c 107.6px,#fe9f6d 110.2px,#fecf92 112.9px,#fcfdbf 115.6px,#000004 115.6px,#140e36 118.3px,#3b0f70 121.0px,#641a80 123.7px,#8c2981 126.4px,#b73779 129.0px,#de4968 131.7px,#f7705c 134.4px,#fe9f6d 137.1px,#fecf92 139.8px,#fcfdbf 142.5px,#000004 142.5px,#140e36 145.2px,#3b0f70 147.9px,#641a80 150.6px,#8c2981 153.3px,#b73779 156.0px,#de4968 158.8px,#f7705c 161.5px,#fe9f6d 164.2px,#fecf92 166.9px,#fcfdbf 169.6px,#000004 169.6px,#140e36 172.4px,#3b0f70 175.2px,#641a80 178.0px,#8c2981 180.8px,#b73779 183.5px,#de4968 186.3px,#f7705c 189.1px,#fe9f6d 191.9px,#fecf92 194.7px,#fcfdbf 197.5px,#000004 197.5px,#140e36 200.2px,#3b0f70 202.9px,#641a80 205.6px,#8c2981 208.3px,#b73779 211.0px,#de4968 213.7px,#f7705c 216.4px,#fe9f6d 219.1px,#fecf92 221.8px,#fcfdbf 224.5px,#000004 224.5px,#140e36 227.0px,#3b0f70 229.5px,#641a80 232.0px,#8c2981 234.5px,#b73779 237.0px,#de4968 239.6px,#f7705c 242.1px,#fe9f6d 244.6px,#fecf92 247.1px,#fcfdbf 249.6px,#000004 249.6px,#140e36 252.0px,#3b0f70 254.5px,#641a80 256.9px,#8c2981 259.3px,#b73779 261.8px,#de4968 264.2px,#f7705c 266.6px,#fe9f6d 269.0px,#fecf92 271.5px,#fcfdbf 273.9px,#000004 273.9px,#140e36 275.9px,#3b0f70 277.9px,#641a80 279.9px,#8c2981 281.9px,#b73779 284.0px,#de4968 286.0px,#f7705c 288.0px,#fe9f6d 290.0px,#fecf92 292.0px,#fcfdbf 294.0px,#000004 294.0px,#140e36 295.9px,#3b0f70 297.8px,#641a80 299.8px,#8c2981 301.7px,#b73779 303.6px,#de4968 305.5px,#f7705c 307.4px,#fe9f6d 309.4px,#fecf92 311.3px,#fcfdbf 313.2px,#000004 313.2px,#140e36 315.2px,#3b0f70 317.2px,#641a80 319.2px,#8c2981 321.2px,#b73779 323.2px,#de4968 325.2px,#f7705c 327.2px,#fe9f6d 329.2px,#fecf92 331.2px,#fcfdbf 333.2px,#000004 333.2px,#140e36 334.5px,#3b0f70 335.7px,#641a80 337.0px,#8c2981 338.3px,#b73779 339.6px,#de4968 340.8px,#f7705c 342.1px,#fe9f6d 343.4px,#fecf92 344.6px,#fcfdbf 345.9px,#000004 345.9px,#140e36 346.7px,#3b0f70 347.5px,#641a80 348.3px,#8c2981 349.1px,#b73779 350.0px,#de4968 350.8px,#f7705c 351.6px,#fe9f6d 352.4px,#fecf92 353.2px,#fcfdbf 354.0px,#4a1079 354.0px,#641a80 354.7px,#8c2981 355.8px,#b73779 356.9px,#de4968 358.0px,#f7705c 359.1px,#fe9f6d 360.2px,#fecf92 361.3px,#fcf6b8 362.2px,#b5367a 362.2px,#b73779 362.3px,#de4968 364.1px,#f7705c 365.9px,#fe9f6d 367.7px,#fecf92 369.5px,#fde9aa 370.6px,#000004 370.6px,#140e36 371.2px,#3b0f70 371.8px,#641a80 372.4px,#8c2981 373.0px,#b73779 373.7px,#de4968 374.3px,#f7705c 374.9px,#fe9f6d 375.5px,#fecf92 376.1px,#fcfdbf 376.8px,#000004 376.8px,#140e36 378.1px,#3b0f70 379.5px,#641a80 380.9px,#8c2981 382.3px,#b73779 383.7px,#de4968 385.1px,#f7705c 386.5px,#fe9f6d 387.9px,#fecf92 389.3px,#fcfdbf 390.6px,#000004 390.6px,#140e36 391.1px,#3b0f70 391.6px,#641a80 392.1px,#8c2981 392.6px,#b73779 393.2px,#de4968 393.7px,#f7705c 394.2px,#fe9f6d 394.7px,#fecf92 395.2px,#fcfdbf 395.7px,#4a1079 395.7px,#641a80 396.2px,#8c2981 397.1px,#b73779 398.0px,#de4968 398.9px,#f7705c 399.7px,#fe9f6d 400.6px,#fec488 401.3px,#000004 401.3px,#140e36 402.5px,#3b0f70 403.8px,#641a80 405.0px,#8c2981 406.2px,#b73779 407.5px,#de4968 408.7px,#f7705c 410.0px,#fe9f6d 411.2px,#fecf92 412.5px,#fcfdbf 413.7px,#000004 413.7px,#140e36 414.5px,#3b0f70 415.3px,#641a80 416.1px,#8c2981 416.9px,#b73779 417.7px,#de4968 418.5px,#f7705c 419.3px,#fe9f6d 420.1px,#fecf92 420.9px,#fcfdbf 421.7px,#621980 421.7px,#641a80 421.8px,#8c2981 423.8px,#b73779 425.7px,#de4968 427.6px,#f7705c 429.5px,#fe9f6d 431.4px,#fecf92 433.3px,#fde5a7 434.2px,#0d0a29 434.2px,#140e36 434.3px,#3b0f70 435.0px,#641a80 435.6px,#8c2981 436.2px,#b73779 436.8px,#de4968 437.4px,#f7705c 438.0px,#fe9f6d 438.7px,#feaa74 438.8px,#ad347c 438.8px,#b73779 439.2px,#de4968 441.2px,#f7705c 443.2px,#fd9b6b 445.0px,#000004 445.0px,#140e36 445.5px,#150e38 445.5px)"></div><svg width="2125" height="1209" viewBox="0 0 2125 1209" font-family='"Liberation Sans", Arial, Helvetica, sans-serif'><defs><linearGradient id="magr" x1="0" y1="0" x2="1" y2="0"><stop offset="0.0000" stop-color="#fcfdbf"/><stop offset="0.0625" stop-color="#fde2a3"/><stop offset="0.1250" stop-color="#fec488"/><stop offset="0.1875" stop-color="#fea772"/><stop offset="0.2500" stop-color="#fc8961"/><stop offset="0.3125" stop-color="#f56b5c"/><stop offset="0.3750" stop-color="#e75263"/><stop offset="0.4375" stop-color="#d0416f"/><stop offset="0.5000" stop-color="#b73779"/><stop offset="0.5625" stop-color="#9c2e7f"/><stop offset="0.6250" stop-color="#832681"/><stop offset="0.6875" stop-color="#6a1c81"/><stop offset="0.7500" stop-color="#51127c"/><stop offset="0.8125" stop-color="#36106b"/><stop offset="0.8750" stop-color="#1d1147"/><stop offset="0.9375" stop-color="#0a0822"/><stop offset="1.0000" stop-color="#000004"/></linearGradient><clipPath id="clipA"><rect x="565.0" y="66.0" width="536.0" height="423.5"/></clipPath><clipPath id="clipC"><rect x="203.0" y="680.0" width="536.0" height="423.8"/></clipPath><clipPath id="clipE"><rect x="1578.5" y="680.0" width="533.5" height="429.5"/></clipPath></defs><g clip-path="url(#clipA)" fill="none" stroke-width="3.0" stroke-linejoin="round" stroke-linecap="round">
<path stroke="#6a0c22" d="M559 390.9l1.4-10.1 .7-.4 .7 3.1 .7 7 1.3 28.2 2.8 96.2 5.5 0 2.7-75.6 .7-11.2 .7-6.2 .7-1.5 .7 3.2 .6 7.8 3.5 79.3 .7 4.2 2.7 0 .7-2.9 2-33.8 1.4-12.4 .7-2 .7 .3 2 5.4 .7 0 .7-2.2 4.1-36.1 1.4-5.8 .7-1.1 .7-.3 2 .3 1.4 1.4 1.4 5.9 2 24.7 2.8 51.8 .7 6.8 2 0 1.4-23.9 2.7-63.3 2.1-30.5 1.4-11.2 2.7-12.9 2.7-8.1 1.4-1.9 1.4-.6 2 .7 1.4 1.5 2.1 4.6 1.3 5.4 3.5 18.1 2 6.8 .7 .6 .7-.3 .7-1.3 3.4-11.4 .7-1.1 .7-.2 .7 .8 1.3 5.4 .7 4.6 3.5 34.7 1.3 10 .7 2.6 .7 1.1 .7-.2 2.7-4.9 .7-.3 .7 .4 1.4 3.3 4.1 17 1.4 4.3 1.3 2.2 .7 .2 .7-.3 1.4-1 .7-.1 .6 .8 1.4 5.1 2.8 20.2 .7 3.3 .6 .7 .7-2.3 .7-5.5 3.4-48.5 1.4-11.5 .7-2.4 .7-.2 .7 1.4 2.7 10.7 .7 0 .7-2.3 .7-4.7 1.3-16.5 1.4-24.7 4.1-103.7 2.1-42.2 1.4-18.1 1.3-11.6 2.1-10.2 1.4-3.9 .6-.8 .7 .7 .7 1.5 2.8 7.7 .6 .3 .7-.4 2.1-3.8 4.1-14.5 2.1-4.6 1.3-1.3 2.1-.5 2 1 3.5 2.9 1.3 .4 .7-.3 2.1-2.5 6.2-12.6 2-2.6 1.4-.6 .7 .2 1.3 1.4 4.2 8.1 2 2.9 3.4 2.4 2.8 .5 1.4-.3 1.3-1 1.4-1.8 4.8-8 1.4-1.5 1.3-.7 2.1 .6 4.1 5.5 1.4 .9 .7 .1 6.8-1.6 4.1-2.4 1.4-.4 2.1 .3 5.5 2.4 2.7 .1 2.1-1 4.1-4.1 1.3-.7 .7 .1 2.1 1.7 3.4 5.3 2.1 2 2 .1 4.8-3.8 2.1-.6 2 .9 4.8 3.6 2.8 .6 1.4-.4 1.3-1.2 6.2-8.2 1.4-1.2 1.3-.7 2.1 .3 4.1 2.2 1.4-.1 3.4-1.6 1.4-.1 3.4 .8 4.1-.4 4.1 1.5 1.4 .2 5.5-2 6.9-1 1.3 .4 2.1 1.6 6.2 7.6 1.3 .9 1.4 .3 1.4-.4 2-1.4 2.1-2.1 4.1-5.3 1.4-1.1 1.3-.3 2.8 1.2 3.4 2.4 4.1 3.5 1.4 .7 2.1-.3 8.2-5.6 2-.6 2.1 .9 5.5 4.8 2 1.1 1.4 .3 2.1-.9 4.8-5.5 6.1-3.1 .7 .2 .7 .6 3.4 7.8 .7 .6 .7-.2 .7-.9 2.7-6.7 .7-.8 .7 .1 .7 .8 2.7 6 .7 .6 .7 .1 1.4-1.4 3.4-8.4 .7-1 .7-.4 .7 .5 .7 1.4 .6 2.4 3.5 18.3 .7 1.8 .6 .5 .7-.9 .7-1.8 2.1-7.9 1.4-3.5 2.7-3.8 .7-.6 .7 0 .7 1 .6 2.4 2.1 10.7 1.4 4.8 .7 1.3 1.3 1.3 .7 .1 .7-.4 1.4-2.4 2.7-7.5 1.4-1.9 .7 .3 2 4.3 .7 .8 .7-.3 1.4-4.2 2-9.6 .7-2.1 .7-.6 .7 .9 .7 2.4 2.7 14.1 .7 2.2 1.4 2.4 1.3 .8 2.1-.7 1.4-1.3 2.7-4.8 1.4-1.5 .7 .3 .7 1.1 2 6.4 .7 1.5 .7 .4 .7-.7 2-5.3 .7-.6 .7 .7 .7 1.8 3.4 17.1 1.4 11.3 1.4 20.5 2.7 57.9 1.4 15.6 .7 2.9 .6 .4 2.1-5 .7-1.1 .7 .3 .7 1.8 .6 3.9 1.4 14.6 3.4 58.8 2.1 27.8 .7 5.9 1.4 7.5 1.3 3.8 2.1 3.9 1.4 1.6 .6-.2 .7-1.1 .7-2.2 1.4-7.9 2.7-25.8 5.5-64 1.4-9.2 .7-1.8 .7 .2 1.3 6.6 4.1 45.9 2.1 14.2 .7 1.9 .7 .8 .7 0 2.7-2.8 4.1-1.7 2.8-2.6"/>
<path stroke="#a11a2b" d="M559 334.4l1.4-7.2 1.4-3.3 1.4-1.5 3.4-2.4 2-.1 1.4 .5 .7 1.2 .7 2.3 .7 4 2.7 23.7 .7 3.5 .7 1.2 .7-1.2 .7-3.1 2.7-17 .7-3 1.4-3.6 1.3-1.3 .7 .1 1.4 1 1.4 2.4 1.3 4.3 2.1 14 2 31.4 4.8 134.6 6.2 0 .7-8.7 2.7-66.1 2.1-27.7 .7-4.5 .7-2.4 .7-.7 .6 .6 2.1 4.1 .7 0 .7-1.5 1.3-8.8 3.5-37.2 1.3-9.1 .7-2.4 .7-1 .7 0 .7 1.1 1.4 4.8 4.8 27.9 2 16.5 2.8 30.8 .6 5.7 .7 2.7 .7-.9 .7-4.9 3.4-54.6 .7-8.5 1.4-9.9 .7-1.9 .7-.4 .6 .9 2.8 7.8 .7 1.2 .7 .4 2-.5 .7 .3 .7 1.2 1.4 6.3 .6 5.9 1.4 19.9 1.4 33.7 2 73.2 .7 6.7 4.8 0 2.1-34.6 .7-6.5 .7-1.9 .6 2.2 .7 5.7 2.1 29.2 .7 5.9 4.8 0 3.4-70.9 2.1-29.5 .7-4.9 .6-2.7 .7-.9 .7 .4 2.1 2.8 .7-.4 .6-1.8 2.1-12.7 3.4-32.2 2.1-30.9 4.1-84.9 2.1-23.3 2-10.5 2.8-6.7 .6-.7 .7 .5 2.1 3.6 .7 .5 .7-.5 .6-1.7 5.5-26.4 1.4-4.9 1.4-2.3 1.3 .3 1.4 1.5 4.8 9.1 2.1 2 1.3-.1 1.4-1.5 5.5-11.3 1.4-1.3 1.3-.3 2.1 .7 2.1 1.5 4.1 4.2 5.5 6.6 1.3 .9 1.4 .3 2.7-.8 5.5-4.8 2.1-1.1 2-.2 5.5 .7 2.1-.5 4.8-3.7 5.5-6.8 2-1.4 2.1 .4 6.2 4.3 6.8 2.6 2.8-.1 4.1-1.5 2 .1 1.4 .8 3.4 3.3 2.1 1 2-.8 6.2-4.9 2.8-1.1 5.4 .5 5.5-.9 4.8 1.1 3.5 .2 2-.5 5.5-2.5 2.7-.8 2.8 .5 5.5 3.9 2 .8 1.4 .1 2.1-1.2 4.1-4.9 1.3-.6 2.1 1 5.5 6.2 3.4 2.1 2.1 .3 2-.3 4.8-2.8 1.4-.4 1.4 .3 4.1 2.8 1.4 .4 2-.9 4.1-4.2 2.1-1.6 2-.7 1.4 0 1.4 .4 4.8 2.6 1.4 0 4.1-1.9 1.3 .2 7.6 5.7 6.2 5.7 2.7 1.2 2.1-.2 2.7-1.3 1.4-1.3 2.7-3.9 2.1-1.5 1.3-.1 2.1 .7 3.4 3.4 .7 .4 .7-.2 2.1-1.9 .6-.3 .7 .2 1.4 1.9 6.2 11.9 .7 1.1 .6 .1 .7-1.1 2.8-10.2 .7-.8 .6 .7 .7 2.1 2.1 9.4 .7 1.8 .7 .2 .7-1.5 2-7.9 .7-.6 .7 1.2 2 9 .7 1.9 .7 .6 .7-.6 .7-1.7 2-6.8 1.4-3.4 .7-.8 2.1-1.4 .6-1.5 3.5-16.6 .7-2.1 .6-.9 .7 .3 .7 1.1 2.1 5.9 1.3 2.8 .7 .5 2.1 .4 .7 1 1.3 4.4 2.8 12.7 1.4 3.4 .6 0 .7-1.1 3.5-10.2 1.3-1.9 .7-.3 .7 .7 .7 1.8 3.4 17.6 .7 1 .7-.6 2-6.7 .7-1.3 .7 .5 .7 3 1.4 15.5 .7 13 4.1 105.4 1.3 15.9 1.4 5.6 .7 .8 1.4-.2 5.5-6.5 1.3-.4 2.1 .7 1.4 1.7 .6 1.6 3.5 14.8 .7 2.1 .6 .6 .7-1.1 1.4-8.2 3.4-34.9 1.4-7.1 .7-.8 .7 .8 1.3 6.4 4.2 31.4 4.1 16.7 2.7 17.9 1.4 6.2 .7 1.1 .7-.6 .6-1.9 4.8-26.8 .7-1.8 .7-.6 .7 1 1.4 6.7 3.4 34.4 1.4 10.4 .7 2.9"/>
<path stroke="#c6363a" d="M559 348.8l.7-7.8 1.4-8.8 .7-1.7 .7-.3 .7 .8 1.3 4.1 6.2 24.2 1.4 3.4 2 2.8 1.4 3 1.4 6.3 2.7 16.7 .7 2.2 .7 .7 .7-1 1.3-5.4 5.5-28.9 3.5-20.7 2-8.9 1.4-2.9 1.4-.8 1.3 .6 3.5 3.3 2.7 1.1 1.4 1.7 .7 1.8 1.3 6.9 4.8 46.5 .7 3.3 .7 1.6 .7 .1 2-2.9 .7-.5 2.1 .9 .7-.3 .7-1.4 .6-3 1.4-11 2.8-30.8 1.3-11.6 1.4-6.4 .7-1.3 .7-.3 .7 .9 .6 2 1.4 7.1 3.4 28.7 2.1 12.1 .7 1.8 .7 .4 .7-.9 1.3-5.3 2.8-13.8 .7-1.6 .6-.4 .7 1 1.4 5.8 3.4 24.7 1.4 5.4 .7 .7 .7-.4 1.3-3.2 2.8-11.4 1.4-9.8 2.7-27.8 1.4-10.1 1.3-4.6 .7-.8 1.4-.2 2.1 1.7 2.7 5.1 1.4 1.8 1.3 .3 2.1-.5 1.4 1.5 .7 1.9 1.3 6.8 3.5 28.1 1.3 5.8 .7 .2 .7-1.3 3.4-15.7 .7-1.7 .7-.6 .7 .7 1.4 4.9 2.7 17 .7 2 .7-.9 .7-5 .7-9.8 4.1-115 1.3-26.7 1.4-16 1.4-9.2 1.4-5.1 .6-1 .7 .5 2.8 7.7 .7 1.1 .6-.1 .7-.7 1.4-3 4.8-15.7 .7-1.5 1.4-1.3 4.8-.2 5.4-2.7 9-.9 1.3 .5 4.1 2.5 4.2 1.4 2 2.2 3.4 5.1 .7 .6 1.4 .4 2.1-1 2-2.7 2.1-4.1 4.8-11.9 1.3-2.6 1.4-1.3 .7-.1 .7 .4 .7 .9 4.8 10.4 1.3 1.7 2.1 1.4 2.7 .2 2.8-.7 6.2-4.1 2.7-.7 5.5 .2 7.5 2.7 2.8 .3 2-1 3.5-2.7 2-.6 2.1 1.3 4.1 5.9 1.4 1 .6 0 1.4-.7 2.8-2.4 1.3-.7 1.4 .1 3.4 1 1.4-.3 1.4-.8 3.4-3.4 2.1-1.2 5.4 .7 4.8-2 2.1-.4 10.3 1.6 2-.8 4.2-2.9 2-.5 1.4 .3 1.4 .8 4.8 4.5 2 .4 4.8-2.2 11-3.6 3.4-1.6 1.4-.3 2 .6 4.2 3.7 2.7 1.1 3.4-.5 6.2-2.3 4.1 .4 4.1-.4 2.8 .8 2 1.4 2.1 2.6 6.2 11.6 .6 .6 1.4 .4 3.4-1.2 2.1-1.9 4.8-9.7 1.4-1.8 .7-.2 .6 .4 2.8 5.9 .7 .9 .7 .1 2.7-4.7 .7-.5 2 .1 .7-.5 2.1-4.4 1.4-1.6 .6 .1 .7 .7 1.4 2.7 4.1 18.9 .7 1.9 .7 1.1 .7 .4 2-.7 1.4-1.7 1.4-4.8 2.7-12.9 2.8-7.3 .7-1.1 .6 0 1.4 3.9 2.8 13.4 .6 1.6 .7 .5 2.1-.7 1.4 1.1 1.3 3 3.5 11.2 .6 .9 .7-.6 .7-2.2 3.4-18.2 1.4-2.5 2.1-.5 .7-.7 .6-1.6 3.5-14.9 .7-1 .6 .1 1.4 .9 .7-.2 1.4-1.4 .7-.2 .6 .9 .7 2.2 2.8 13.5 .7 1.8 2.7 3.8 1.4 3.4 2 8.3 1.4 8 2.1 22.4 2.7 56.5 1.4 21.5 .7 6.7 3.4 23.3 3.4 35.1 1.4 7.1 .7 0 .7-2.5 1.3-10.9 2.8-28.4 1.3-9 1.4-4.7 .7-1.3 1.4-1.1 1.3 .6 .7 1.2 1.4 4.2 3.4 17.5 1.4 3.4 .7 .2 .7-.8 2-3 .7-.1 2.1 2.4 .7-.5 .6-2.3 .7-4.9 2.8-37.3 .7-5.4 .6-2.4 .7-.8 1.4-.5 4.1 .3 .7 .6 .7 1.9 .7 4.9 .7 9.7 4.1 80.7 5.5 123.1"/>
<path stroke="#da5f4f" d="M559 360l.7 1.5 .7-.1 .7-1.6 3.4-17.3 .7-1.4 .7-.1 1.4 3.6 2 8.5 2.8 7 .7 2.9 1.3 11.9 .7 10.2 3.4 81.5 .7 11 .7 4 .7-4.5 .7-12.8 3.4-110.8 1.4-25.9 1.4-11 .6-2.2 1.4-2.4 1.4-5.2 3.4-24.2 1.4-4.6 .7-.8 .7 .1 .6 .9 1.4 4.3 .7 3.6 3.4 25.1 1.4 5.8 .7 .6 .7-.8 2.7-9.8 1.4-2.9 .7-.1 .7 1 .6 1.9 1.4 6.6 2.1 16.5 4.8 51.6 4.8 35.4 4.1 40.2 1.4 9.7 .6 2.5 .7 .8 .7-1 1.4-6.1 4.1-27.9 3.4-26.3 1.4-5.6 .7 .1 1.4 6.8 3.4 31.6 .7 1.3 .7-2.4 1.3-15.2 2.8-48.8 2-29.2 2.1-19.4 2-10.8 .7-1.1 .7 .5 .7 2.4 1.4 12.4 1.3 24.9 2.8 64.1 .7 9.4 .7 4.2 .6-.7 .7-4.6 2.8-29.8 3.4-28 3.4-43.9 .7-6.5 1.4-7.6 .7-1.5 .7-.4 .7 .6 2 5.8 2.8 15.1 3.4 27.5 .7 3.4 .7 1.1 .6-1.9 .7-5.1 1.4-20.1 3.4-79 2.1-35.8 1.4-14.2 1.3-8.4 1.4-5 2.1-4 .6-.2 .7 1.1 2.1 5.9 .7 1.5 .7 .7 1.3-1.5 4.8-12.4 2.1-3.5 .7-.4 2 .3 4.8 3.6 1.4 .4 1.4-.2 2.7-2.4 9.6-12.1 1.4-1.3 1.4-.6 1.3 .2 2.1 1.5 5.5 8.1 1.3 1.4 1.4 .5 4.1-.2 2.1-1.1 1.4-1.5 4.8-7.3 1.3-1.3 1.4-.6 .7 0 1.4 .8 4.1 5.4 2.7 2 2.1 .1 4.8-1.9 2-.1 2.1 1.1 4.1 3.5 2.1 .4 1.3-.5 4.8-3.7 6.9-3.9 2-.5 4.2-.2 6.1-.8 5.5-.2 2.8 .5 2 1.3 4.8 4.2 1.4 .5 1.4-.1 7.5-3.2 2.1-1.8 5.4-6.7 2.1-1.2 2.7-.3 2.1 .2 2.1 1 5.4 5.6 3.5 2 2 .4 4.8-.4 5.5 .9 2.1 .7 4.1 2.8 1.4 .4 2-1 4.8-6.5 1.4-1.2 1.4-.5 1.3-.1 2.1 .5 5.5 3.9 2 .8 2.1-.3 4.1-2.1 2.1-.1 2 .8 5.5 3.4 2.1 .4 3.4-.3 2 .6 11 11.1 1.4 1.1 1.4 .3 2.7-1.5 2.1-2.3 6.8-12.7 1.4-2.2 1.4-1.2 .6 .1 .7 .7 .7 1.2 3.4 11.9 .7 1 .7-.5 1.4-5.7 2-12.6 .7-2.2 .7-.5 .7 1.1 2.1 7.2 2 4.7 2.8 13.3 .6 2.6 .7 .9 .7-.4 .7-1.5 6.2-19.1 1.4-2.7 .6-.5 .7 .2 2.8 3.7 2-.3 .7 .9 1.4 5.7 2 12.3 .7 2 .7 .3 .7-1.1 4.1-11.9 1.4-2.4 .7-.1 .7 .6 2 2.7 2.1 .2 .7 .5 2.7 5.1 .7 .7 .7-.3 2.7-6.6 2.8-4.4 2-4.8 .7-.9 .7 .4 1.4 5.5 2.7 21 1.4 5.7 .7 1 .6-.1 .7-1 1.4-4.5 2.1-9 .6-.8 .7 2 1.4 16 3.4 98.6 1.4 20.7 .7 2.7 .7-.4 2-5.6 .7-.3 .7 1.2 1.4 6.3 2.7 16.4 .7 2 .7 .9 1.4-.1 .6 .4 .7 1.5 .7 3.1 1.4 11.3 1.4 17 6.1 93.5 2.1 23.2 .7 2.5 .7-.9 .6-4.3 1.4-17.4 4.1-70.1 1.4-12.4 .7-3 .7-1 .7 .8 .6 2.2 3.5 19.4 1.3 4.6 .7 .9 .7 0 2.1-2.1 .7-.5 .6 .1 .7 .8 1.4 3.8 2.1 10.9 3.4 25.7 1.4 5.4"/>
<path stroke="#ea8b70" d="M559 252l2.1 27 4.1 77.9 1.4 17.9 .7 4.9 .7 1.7 .6-1.4 .7-4.1 2.8-26.2 1.3-8.8 1.4-3.7 .7-.6 .7-.1 1.4 .9 1.3 3 1.4 7.8 3.4 40.4 .7 5.6 .7 2 .7-2.4 1.4-17.6 3.4-68.8 .7-9 1.3-10 .7-1 .7 1.5 1.4 10 3.4 47.6 .7 6.5 .7 3.4 .7-.4 1.3-12.1 3.5-60.4 1.3-16.2 1.4-7.9 .7-1.7 .7-.7 .7 0 .7 .7 1.3 3.2 1.4 6.3 2.1 17.8 3.4 42.8 1.4 10.1 .6 1.7 .7-.7 1.4-8.2 3.4-39.1 1.4-11.2 1.4-5.1 .7-.4 .6 .7 1.4 4.5 2.1 12 3.4 28.2 6.9 75.1 1.3 18.9 3.5 62.2 1.3 14.2 .7 1.5 .7-2.1 .7-5.2 6.2-69.4 3.4-43.8 1.4-9.5 .6-.6 .7 2.5 .7 5.6 4.1 69.6 1.4 12.2 .7 .5 .7-3.1 1.3-14.2 7.6-100.7 2.1-16 .6-1.7 .7 .2 1.4 6.2 1.4 13.4 2.7 35.2 1.4 11.6 .7 2.4 .7-.2 .6-2.7 1.4-12.8 1.4-21.8 5.5-115.3 1.3-17.4 2.1-15.8 1.4-5.9 .7-1.6 .6-.6 .7 1 .7 2.1 2.1 7.7 .7 1.4 .6 .2 .7-.6 2.1-5.5 4.1-15.5 1.4-2.9 2-1.5 1.4-.3 1.4 .1 6.8 3.3 5.5 .2 1.4-.3 1.4-1 4.1-4.4 2-.6 1.4 .6 2.1 2.1 4.8 7.2 1.3 1.1 1.4 .2 2.1-.6 2.7-1.8 2.1-2.1 4.1-5.7 1.3-1.2 1.4-.5 1.4 .4 3.4 3.5 1.4 1 4.1 .6 4.1 1.8 1.4-.2 1.4-.9 4.1-5.6 2-1.8 2.1 .1 5.5 3.7 2 .8 1.4 0 2.1-.9 5.4-4.1 2.1-.8 2.7-.5 2.8 .4 6.8 2.3 7.6 .4 8.9 3.6 4.1 1.2 2.1 .3 2.7-1 4.8-3.8 2.1-.9 5.5 .7 4.1-1.3 1.3 0 2.1 1 3.4 2.8 2.1 .4 2-1.2 4.2-3.7 2-1 11-1.4 6.8 1.2 2.1-.6 3.4-1.9 1.4-.3 2.7 .9 9.6 6 2.1 2 3.4 4.3 1.4 .9 .7 0 1.4-.7 4.8-5.5 1.3-.7 2.1 0 2 1.5 5.5 7.4 2.1 1.6 2 .4 1.4-.8 .7-1 4.8-11.7 1.4-2.4 .7-.5 .6 0 .7 .7 2.8 5.7 1.3 1.9 .7 .2 2.8-1 .7 .3 2.7 3.3 1.4 .7 .7-.6 .6-1.5 3.5-16 .7-1.6 .6-.6 1.4 1 2.1 4 4.8 13.1 2.7 11.1 .7 1.7 .7 .5 .7-.4 3.4-5.1 2.8-7 .6-.1 2.8 7.1 .7 0 1.3-5.3 2.1-14 1.4-5 .7-.3 .6 .9 1.4 4.2 3.4 20.1 .7 2.8 .7 .8 .7-1.3 2.1-11.3 1.3-5.2 .7-.7 .7 .2 2.7 5.5 .7 1 .7 0 .7-.9 2.1-5.1 .6-.3 .7 1 2.8 7.8 .7 .6 2.7-.6 1.4 1.5 1.3 2.7 2.1 4.9 2.1 6.5 1.3 8.4 1.4 18.4 2.1 40.3 1.3 16.7 1.4 5.8 2.1 2.9 1.3 3 1.4 8.2 .7 7.8 5.5 116.9 1.3 19 .7 5.4 .7 2.5 .7-.3 1.4-7.9 4.1-44.8 3.4-25.7 1.4-15.1 2.7-39.9 1.4-13.6 .7-3.3 .7-1.1 .7 1.2 1.3 10.9 4.1 83.6 1.4 18.1 .7 4.7 .7 1.8 .7-.5 .7-2.7 2-18.2 2.1-33.6 2.7-57.6 1.4-15.2 .7-3 1.3-2.2 .7-.2 1.4 .3 1.4 1.5 .7 1.3"/>
<path stroke="#f3b59c" d="M559 325.8l3.5-26.7 1.3-7.8 .7-2.1 .7-1 .7-.2 1.4 .5 .7-.3 .6-1.3 .7-2.5 1.4-9.8 3.4-35.6 .7-4.5 1.4-4.8 .7-1 .7-.2 .6 .4 1.4 2.6 .7 2.4 1.4 7.4 3.4 27.4 1.4 7.2 1.3 2.9 .7 .3 2.8-.8 1.3 .7 .7 .9 1.4 3.2 3.4 12 1.4 2.1 .7 0 2-1.2 2.1 .8 .7-.1 .7-1.3 1.3-8.9 3.5-44.3 1.3-8.1 .7-1.4 .7-.3 .7 .6 .7 1.7 1.4 8.1 4.1 53.4 1.3 9.6 2.1 9.2 .7 4.7 1.4 15.2 2.7 44.5 .7 7.7 .7 3.5 .7-1.6 .6-7 4.2-92.3 .6-10.9 1.4-12.6 .7-2.1 .7 .3 1.4 7.7 3.4 48.8 .7 7 .7 3 .6-1.6 .7-6 3.5-51.7 1.3-10.9 .7-2.2 .7-.4 .7 1.5 .7 3.5 .7 5.8 3.4 55.4 1.4 13.6 .6 1.1 .7-2.2 2.8-20.3 2-9.5 2.1-5.5 1.4-2.3 .6-.1 .7 1.1 .7 2.6 2.1 19.3 3.4 57.7 .7 7.7 .7 3.9 .7-.5 1.3-14.5 4.2-91 .6-10.9 1.4-13.6 .7-3.2 .7-1.6 .7-.2 .7 .9 .6 2.1 1.4 8.6 2.8 24 .6 2.5 .7-.6 1.4-11.3 3.4-53.3 2.1-21.8 1.4-8.6 1.3-5.6 2.1-5.3 1.4-2.3 .6-.3 .7 .9 2.8 8.1 .7 1.1 .6 .1 .7-.4 1.4-2 4.1-8.9 1.4-1.9 .7-.4 2 .5 4.8 3.8 1.4 .7 1.4 .1 1.3-.4 2.8-2.1 4.8-5.2 4.1-5.1 2.1-1.5 1.3 .1 2.1 1.6 6.8 8.9 1.4 .8 1.4 .1 1.4-.4 2-2 6.2-10.2 1.4-1.2 1.3-.2 2.1 2.2 3.4 7.4 2.1 3.1 1.3 .9 2.1 .7 6.9 .1 4.8-.7 4.8-2.1 2.7-2.2 6.9-7.3 2.7-1.5 1.4 .2 1.3 .8 4.2 4.3 2 1.5 2.1 .5 4.1-.5 1.4 .6 3.4 2.6 1.4 .2 6.8-3.6 2.1-.4 4.1-.2 1.4-.4 2-1.6 4.8-5.4 1.4-.9 1.4-.3 2 .8 3.4 2.4 2.1 .6 1.4-.5 4.8-3.2 1.3-.3 1.4 .2 8.2 2.7 5.5 3.8 2.1 .5 2-.5 4.8-2.6 2.1-.1 2.1 1.2 4.8 6 2 1.4 2.1-.6 5.5-5.2 6.8-3.8 2.1-.3 4.1 .9 4.1-1.1 2.1-.1 7.5 3.8 6.2 6.4 1.3 .6 1.4-.1 1.4-.2 1.4-.8 2.7-5.2 1.4-1.7 .7-.1 3.4 1.5 1.4-.2 .6-.6 1.4-3 1.4-4.2 .7-1.6 .7-.7 .6 .2 2.1 2.2 2.1 .9 1.3 2.2 2.8 10.3 4.8 15.8 .7 1.3 .6-.3 .7-2.1 2.8-16.8 .7-1.3 .6 1.3 3.5 25.8 1.4 6.4 .6 1 .7-.3 1.4-4.4 3.4-21.2 1.4-4.1 .7-.5 2-.1 2.8-4.2 .7-.5 .7 .2 2 3.4 2.8 3.3 2 5.9 .7 .8 .7-1.1 .7-3 2-13.7 .7-2.5 .7-.5 .7 1.3 1.4 5 .6 1.8 .7 .7 .7-.3 2.1-2.8 .7-.2 2 .9 2.8-2.7 .6 0 .7 .7 2.1 3.2 .7 .3 .7-.7 2.7-6.6 .7-.1 .7 1.2 3.4 13.5 2.1 2.3 .6 1.4 1.4 6.9 2.1 22.3 4.1 64.1 3.4 34 2.8 21.2 2 8.5 1.4 2.3 2.7 2.8 4.1 8.8 1.4 4.5 .7 4.1 2.1 27 4.1 92.4 1.3 14.7 .7 1.9 .7-1.4 1.4-10.3 5.5-70.3 4.1-41.9 3.4-43 1.4-12.4 .7-3.3 .7-1.3 .6 .8 1.4 7 7.6 66.8"/>
<path stroke="#f8d9c6" d="M559 315.7l1.4 15.5 .7 2.9 .7-.2 .7-2.7 2.7-18.5 .7-3 .7-1.3 .7 .4 1.3 5.8 2.8 19.7 .7 3.1 .7 1.4 .6-.3 1.4-5.3 3.4-21.9 4.2-19.7 1.3-10.1 4.8-44.8 .7-3.9 1.4-4.8 1.4-2.1 1.3-.2 2.1 1.8 2 4 2.1 5.7 2.1 8.7 2.7 18.4 4.1 36.2 1.4 6 .7-.4 1.3-8.4 4.2-50.6 .6-5.5 1.4-6.6 .7-1.5 .7-.4 .7 .5 .7 1.3 1.3 5.1 2.1 10.4 1.4 3.8 .6 .2 2.1-2.6 .7-.3 .7 .9 1.3 6.4 .7 6 3.5 49.5 1.3 15 .7 4.1 .7 1.9 .7 .1 .7-1.1 5.5-13.9 4.1-16.1 2.7-9.1 2.1-11.5 3.4-28.4 1.4-5.8 .7-1.2 .6 0 1.4 3.2 .7 3.3 1.4 10.2 4.1 50.3 1.4 12.8 1.3 6.9 2.8 8.4 3.4 25.1 .7 3.8 .7 1.7 .7-.6 .7-3.1 3.4-32.3 1.4-8.2 .6-1.6 .7 .2 1.4 5.1 3.4 23.7 .7 1.8 .7-.9 .7-3.7 1.4-16.2 4.8-84.9 2-22.9 2.8-18.1 2-7.6 2.8-7.2 .6-1 .7 .1 2.1 3.1 .7 .7 .7-.1 1.3-2.6 3.5-8.9 1.3-2.3 1.4-1.2 .7-.1 2 1.1 1.4 .2 4.8-1.6 4.1 1.1 1.4-.4 2.7-2.7 6.2-8.9 1.4-1.1 1.4-.4 2 1.2 1.4 2 4.8 11.3 1.4 2.5 .6 .6 1.4 .1 2.1-2.4 4.8-10.4 2-3.6 2.8-3.2 2-1 1.4 .4 .7 .6 3.4 5.1 2.1 1.8 2.7 .3 6.9-.6 2 .7 4.8 3 2.1 .5 2-.8 4.2-4.2 2-1 1.4 .3 4.1 3.6 1.4 .4 1.3-.6 4.2-4 2-.8 3.4 .2 4.2-.4 4.8 2.7 2 .2 5.5-1.8 5.5-.3 1.4-.8 3.4-3.1 2-.7 1.4 .4 3.4 2.4 2.1 .2 5.5-4.1 4.8-1.5 4.1-2.9 1.4-.4 1.3 .2 4.2 1.7 3.4 .3 1.4 .4 6.1 5.3 3.5 2.1 5.4 1 4.8 1.4 4.8-.4 1.4 .6 2.8 2.5 1.3 .5 .7-.2 1.4-1.3 3.4-5.5 1.4-1.6 2-1.4 2.8-.9 4.1-.6 2.1 .3 2 1.6 4.1 5.8 2.1 2.1 1.4 .6 5.4 .5 3.5-1.3 3.4-.6 3.4-3.7 .7-.3 2.8 .5 6.1-3.6 1.4 .2 2.1 1.5 .6-.4 2.1-3.8 .7-.6 .7 .5 .7 1.5 2 8.5 1.4 3.9 .7 .8 1.3 .3 .7 .6 3.5 10 1.3 2.3 1.4 1 .7-.4 .7-1.5 2.7-11.6 .7-1 .7 .4 1.4 2.5 .7 .6 .6-.3 4.2-10.6 1.3-2 .7 .1 .7 .8 6.2 11.4 1.3 1.1 1.4 .4 1.4-.1 2-1.2 2.1-.5 .7-.7 2.7-7.2 .7-1.3 .7-.4 .7 .7 .7 1.6 3.4 13.3 .7 .8 .7-.4 1.3-4.4 2.8-16.7 .7-2.7 .7-1.4 .6 0 6.2 13.1 1.4 6.3 1.4 12 2 34.4 2.8 86 1.3 28.2 .7 5.7 .7 1.6 .7-.6 2-3.6 .7 0 1.4 1.9 2.1 5.5 2 9.7 2.8 24.6 6.1 72.9 2.1 17.3 .7 2.1 .7-.6 .6-3.6 1.4-16.6 1.4-28.2 4.1-106.4 .7-10.8 .7-6.5 .7-2.6 .6 1.1 .7 5.1 .7 9.5 4.1 103.5 1.4 23.7 .7 6.4 .7 2.4 .7-1.4 .6-4.8 3.5-48.2 1.3-11.2 .7-.9 .7 2.6 .7 5.6 4.1 55.6 .7 4.3 .7 1 .7-2.3 .7-5.3"/>
<path stroke="#f5ede8" d="M559 223l2.1-.6 2.1 .2 1.3 .7 1.4 1.8 5.5 13.6 1.4 4.2 3.4 20.4 1.4 5.8 .6 .8 .7-.6 2.8-7.9 .7-.6 .6 .7 1.4 5.4 2.1 12.3 .7 1.8 .6-.9 .7-4.2 2.8-38.2 1.3-11.7 .7-2.1 .7-1.1 1.4-.7 2-.2 2.1 .4 1.4 1 1.3 3.1 1.4 9.3 1.4 19.7 4.8 112.9 1.4 20.8 .6 2.6 .7-3.7 .7-9.7 3.4-82.8 1.4-16.1 .7-.8 .7 4.3 1.4 23.3 3.4 99.9 1.4 20.9 .6 1 .7-5.4 .7-10.8 3.4-84.3 1.4-26.5 1.4-17.9 .7-5.9 1.3-6.5 .7-1 .7 .2 2.8 5.7 .6 .6 .7-.4 1.4-3.4 2.1-7.3 .6-1.3 .7-.3 .7 .8 .7 2 3.4 16.9 .7 2.1 .7 .7 .7-1.1 .7-3 .7-5.1 3.4-42.4 .7-5.4 1.3-4.9 1.4-1.3 1.4-.1 1.4 .7 1.3 2.1 1.4 5.4 2.7 18.3 .7 2.5 .7 .4 .7-1.8 .7-3.8 2.7-17.5 .7-1.9 .7-.9 .7-.2 .7 .6 .7 1.8 1.3 10.1 3.5 57.2 .7 4.6 .6-.7 1.4-15.7 2.8-47.8 1.3-9.2 .7-1.7 1.4-1.1 1.4 .3 2.7 2.5 .7-.5 1.4-3.9 5.4-23.9 .7-2 1.4-2.5 1.4-.6 .7 .2 .6 .7 3.5 11.3 .7 1 .6-.2 .7-1.1 1.4-3.7 4.8-19.6 .7-1.8 1.4-1.8 1.3-.2 1.4 .7 6.9 6.4 1.3 .6 1.4-.2 1.4-1 1.3-1.9 5.5-12.6 1.4-1.8 1.4-.1 2 2.7 5.5 13.1 1.4 1.8 1.4 .5 1.3-.9 3.5-4.4 2.7-2.4 2.1-1 4.8-1.5 3.4-2.2 1.4-.4 2 .5 5.5 2.8 1.4 .2 5.5-.8 2 .6 3.4 2 2.1 .4 1.4-.4 2-1.1 6.2-5.5 2.1-1.4 2.7-.9 3.4-.2 2.8 .8 4.8 3.2 4.8 1 4.1 2.8 2 .5 1.4-.6 3.4-2.9 1.4-.5 1.4 .1 4.1 1.8 1.4-.2 4.1-1.7 4.1-.5 1.4-.8 4.1-3.6 1.4-.7 1.3-.3 2.1 .8 4.1 4.6 2.1 1.1 4.8-1.3 4.1-.1 4.1-2.5 1.4-.5 2 .7 3.4 3 1.4 .7 1.4 .2 3.4-.8 1.4 0 4.1 1.7 2.1 .3 2-.8 4.1-2.7 2.8-1 2-.2 4.8 .3 6.9-1.4 2.7-1.7 3.5-3.8 1.3-.7 .7 0 2.1 1.5 2 3.1 6.9 15.8 1.4 1.7 2 1 1.4-.3 2.7-1.5 4.1-.3 1.4-.9 1.4-2.4 2.7-9.3 .7-1.4 .7-.1 2.1 4 .6 .9 .7 .2 1.4-1.6 2.7-6.6 .7-1.1 .7 0 .7 1.6 .7 3.3 2 14 1.4 6.7 2.1 6.2 .7 1.2 .6 .3 .7-1 .7-2.4 4.1-25.1 1.4-4.6 2.1-3.9 .7-.4 .6 .3 .7 1.2 4.8 19 .7 1.2 .7 .4 2.1-.3 2 2.3 .7 0 .7-1.1 2-7.2 2.1-5.3 2.7-12.2 .7-2.1 .7-.3 .7 1.5 .7 3.1 2.7 16 1.4 4.6 .7 .7 .7-.4 2.7-8.3 .7-.4 .7 1.1 2 7.3 .7 1 .7-.2 2.1-3 .7 0 2 2 .7 .2 2.7-2.1 .7 .1 1.4 1.6 4.8 7.7 1.4 3.7 1.3 5.8 1.4 11.8 1.4 26.7 3.4 126.7 1.4 31.3 1.4 16.8 2.7 23.1 2.1 14.1 1.3 4.8 .7 .7 .7-.4 .7-1.3 1.4-4.8 1.3-6.8 2.8-19.6 4.1-43.9 1.4-10.9 2-9.4 2.1-5.4 1.3-2.4 .7-.5 .7 .4 .7 1.3 1.4 6.5 .7 5.5 1.3 16.1 3.5 53.6 1.3 10.8 .7 .2 1.4-9.9 3.4-49.1 1.4-11 .7-1.8 .7 .4 .6 2.5 3.5 25 1.3 6.4 .7 1 .7-.5 .7-2.1 2.1-12.5"/>
<path stroke="#e8eff4" d="M559 225.5l1.4 4.2 2.8 24.4 1.3 7.5 .7 .6 2.1-3.9 .7-.6 .6 .9 .7 2.7 1.4 11.8 2.7 36.9 .7 6 .7 2.8 .7-.9 .7-4.2 3.4-37.6 1.4-11.8 2-13.2 1.4-6.1 1.4-3.6 .7-1 1.3-.5 2.8 1.1 3.4 3.2 .7 .1 .7-.6 1.4-3.8 2.7-11.4 .7-1.7 1.4-1.9 2-.6 1.4 .7 .7 .7 1.3 2.6 3.5 9.4 .7 .8 2 1 1.4 2.7 1.4 8.4 3.4 43.5 .7 6 .7 2.9 .6-.3 .7-3 2.8-20.1 .7-2.6 .6-.9 .7 .8 .7 2.2 2.1 9.3 .7 1.9 .6 .4 .7-1.2 2.1-11.6 4.8-41.7 1.4-7.6 1.3-3.6 .7-.8 1.4-.9 2.7-.1 1.4 .7 1.4 3.2 1.3 10.9 2.1 27.1 .7 5.5 .7 2.3 .7-.9 .6-3.1 2.8-15.8 .7-2.1 2.7-3.5 .7-1.8 4.1-20.1 1.4-2.3 1.4-.7 3.4 .3 2.7-.3 .7 .4 .7 1.1 .7 3.2 .7 8.1 2.7 63.3 1.4 21.8 2.1 16 2 7.7 1.4 2.4 .7-.4 .7-2.2 1.3-10.6 4.1-62.3 .7-7.2 1.4-7.3 .7-.2 .7 1.6 3.4 20.9 .7 1.8 .7-.4 1.3-8.1 3.5-39.2 1.3-11.8 1.4-5.7 2.1-3 1.3-3.4 6.2-22.3 1.4-3.2 .7-.8 1.3-.3 1.4 .8 4.8 6.4 1.4 .7 2-.6 1.4-1.5 1.4-2.4 5.5-13 1.3-2 1.4-1 1.4 0 .7 .3 1.3 1.3 6.9 12.5 2.7 4.1 2.8 2.1 2 .4 2.1-1 1.4-1.7 5.5-11.3 1.3-1.9 1.4-.9 1.4 .6 3.4 4.3 2.1 1.3 1.3 0 4.1-1.5 1.4-.1 5.5 1.4 6.2-1.1 6.1 1.7 2.8 .3 2-.6 4.8-2.9 2.8-.6 3.4 .7 4.1 2.5 2.1 .6 2-.9 4.2-3.3 2-.9 2.1 .3 5.5 2.4 2.7 .1 3.4-.4 2.8-1.7 5.5-6.1 2-.9 2.8 .5 4.8 3.5 2 1.2 6.9 1 1.3-.4 1.4-1 6.2-6 2-.7 1.4 .6 3.4 3.9 2.1 1.7 7.5 2.6 2.8 .4 2-.6 4.8-2.9 1.4-.2 3.4 .4 1.4-.2 2.1-1.3 4.1-4 1.4-.6 1.3-.1 4.8 2 4.1 .5 2.1 1 2.1 2.2 4.8 6.5 2.7 2.2 2.1 .9 1.3-.4 3.5-3.1 2.7-1 4.1-.2 2.8-1.2 1.3 .3 2.8 1.7 2.7-1.2 .7 .6 .7 1.3 2.7 10.4 .7 1.6 .7 .7 .7-.3 1.4-2.7 1.3-4.4 2.8-11.6 .7-1.9 .6-.6 .7 .5 .7 1.6 2.8 7.9 .6 .7 .7-.1 2.8-2.9 .7 .1 .7 1 1.3 4.7 3.5 19.9 .6 2.1 .7 .5 .7-1.1 .7-2.6 2.7-11.8 3.5-4.9 3.4-8.7 .7-.5 .7 .4 2 3.8 .7 .3 .7-1 .7-2.3 2.7-10.2 1.4-2 1.4-1 .7 0 2.7 2 .7 .1 1.4-1 1.3-1.6 .7-.5 .7 .3 2.7 6.7 .7 .5 .7-.9 2.8-10.5 .6-.3 .7 1.6 .7 3.4 4.1 31.8 1.4 4.8 1.4 2.2 .7 3 .6 6.4 1.4 28.6 3.4 124.2 .7 13.4 .7 6.7 .7 .5 1.4-14.1 2.7-61.6 1.4-19.2 .7-2.8 .7-1.1 1.3-.5 1.4 .1 1.4 1.1 .7 2.1 .6 4.7 .7 8.8 2.8 52.1 1.3 17.9 1.4 10.1 2.1 8.3 1.3 8.2 4.8 56.8 .7 5.1 .7 3.2 .7 1.2 .7-.5 .7-1.9 3.4-16.5 1.4-4.8 .7-1.2 .6-.1 .7 1 2.8 9.8 .7 1.3 .6-.3 .7-2.4 2.1-20.5 6.2-98.7 2-19.4 1.4-7.3 1.4-4.6"/>
<path stroke="#cfe3ee" d="M559 269.3l4.2-32.7 1.3-6.1 .7-1.9 1.4-2 2-1.1 2.1 .2 1.4 .9 3.4 4.4 1.4 .4 2-.3 .7 .5 1.4 3 2.7 14.1 1.4 4.8 .7 .1 .7-1.4 2.7-9.9 .7-.7 .7 .6 .7 2.1 2 15.5 4.1 50.1 6.2 94.4 1.4 11.4 .7 2.4 .7 .2 .6-1.6 .7-3.6 .7-5.5 1.4-18 4.8-112.3 1.4-21.4 .6-6.9 1.4-8.6 .7-2.4 1.4-2.5 .7-.3 .6 .2 1.4 2.1 1.4 4.4 3.4 14.6 4.1 19.6 .7 1.9 .7 .3 .7-1.4 .7-3.3 2.7-21.8 1.4-7.8 .7-1.9 .7-.4 .6 1.3 1.4 8.4 .7 7.8 4.1 72.4 .7 5.2 .7 .1 1.4-14.4 3.4-65.9 1.4-14.6 .6-3.4 .7-1.2 .7 .9 .7 3.2 .7 5.8 1.4 20.1 2.7 54 .7 9.3 .7 6 .7 2.8 .6-.1 .7-2.1 5.5-34.9 2.1-8.3 .7-1.1 .6-.4 2.1 1.9 .7 .4 .7-.3 3.4-8.8 .7 .1 .7 2.4 1.4 13.4 .6 12 4.2 112.1 .6 9.1 .7 1.3 .7-6.8 .7-13.9 3.4-108.2 1.4-32.6 1.4-22.2 2-19.4 1.4-8 2.1-9 1.3-4.7 2.8-6.9 1.3-2.3 .7 .3 3.5 7.1 .6 .1 1.4-1.4 2.1-4.8 4.8-17.6 1.3-2.9 1.4-1.7 .7-.5 1.4 0 4.8 3.6 1.3 .1 1.4-.7 2.8-3.3 6.1-11.4 1.4-1.7 1.4-.7 1.3 .4 2.1 2.3 3.4 5.6 4.8 9.4 2.1 2.6 1.4 .5 1.3-.6 1.4-1.6 4.1-6.9 2.1-2.8 2.7-2.5 2.1-1 2 .3 6.9 2.8 2.7 .4 2.1-.7 4.1-3.9 2.1-.9 2 1.1 4.1 5.5 1.4 1.3 1.4 .6 1.3 0 1.4-.6 4.1-3.4 2.1-.9 2 .5 4.2 2.4 1.3 .2 4.1-.4 5.5 .9 7.6-1.5 5.5-.1 2-1.3 3.4-3.2 1.4-.7 1.4 0 3.4 1 1.4-.2 1.4-1 3.4-4.1 2-1.2 1.4 .1 4.1 2.1 2.1 .4 6.2-2.2 2 .6 4.8 2.8 4.1 1.2 5.5 .6 5.5-1.1 2.1 .2 4.8 2.5 5.4 2 1.4 .2 3.4-.3 1.4 .3 4.1 3.5 1.4 .4 .7-.2 1.4-1.1 3.4-5.2 2-1.7 2.1 .3 3.4 1.9 2.1 .6 6.2-.3 2 1.1 4.8 6.2 2.1 1.4 1.3-.1 2.8-1 3.4-.1 4.1-3.2 .7 .1 2.8 1.7 .6-.1 2.8-2.1 2.7 .6 .7-.2 3.4-3.7 .7-.3 .7 .1 1.4 2.3 .7 2.3 2.7 13.2 1.4 5 .7 1.4 .7 .6 .6 .1 3.5-1.3 1.4-1.8 4.1-17.9 1.3-2.5 .7-.4 1.4 .1 2.1 1 2.7 1.9 2.7 3.5 1.4 4.2 2.8 12 .6 1.5 .7 .7 .7 0 4.1-1.7 1.4 .4 2.1 1.5 1.3 .2 4.1-3.5 3.5-5.8 1.3-1.2 .7 0 .7 .6 .7 1.2 2.1 5.6 1.3 2.2 .7 .2 1.4-.6 2 .7 .7-.2 .7-1 2.1-6.2 .7-.6 .6 1.8 1.4 14.3 .7 13.8 3.4 116.4 .7 18.6 1.4 19.4 .7 2.2 .7-.9 .6-3 4.8-35.1 2.1-12.6 1.4-4.2 .7-.3 .6 1.3 1.4 8.2 1.4 16.4 4.1 80.1 1.4 19.1 .7 4.7 .6 1 .7-2.8 .7-6.2 5.5-84.9 2.1-19.1 1.3-7 .7-1.3 .7 .7 .7 2.9 1.4 13.3 4.8 95.6 1.3 19.1 .7 5.2 .7 1.9 .7-1.1 .7-3.8 4.1-39.3 3.4-19.5 2.8-28.8"/>
<path stroke="#a7d1e5" d="M559 334.2l3.5 11.5 1.3 9.8 4.2 59.7 1.3 11.7 .7 1.4 .7-1.1 1.4-7.7 2.7-25.8 2.1-30.9 4.1-78.1 2-20.6 .7-2.8 .7-.8 .7 1 1.4 7.9 1.3 16.1 4.2 68 1.3 12.7 .7 1.4 .7-2.8 1.4-18.9 3.4-77.8 1.4-15.4 .7-3.2 .6-1 .7 1.1 .7 3.2 1.4 14.4 4.8 104.3 1.4 16.6 .6 3 .7-.6 1.4-11 4.8-80.8 2.1-24.3 2-15.6 2.1-11.5 1.3-5.3 .7-1.8 1.4-1.9 1.4 0 .7 .6 1.3 2.8 1.4 5.2 4.1 20.4 1.4 4 .7 .5 .7-.7 .6-2.1 4.2-23 .6-1.6 .7-.3 .7 1.1 1.4 7.6 .7 7.2 3.4 56.1 1.4 13.9 .7 1.8 .6-1.6 1.4-13 3.4-57.1 1.4-15.6 .7-4.8 1.4-4.6 .7-.7 .6 .2 1.4 2.5 3.4 12.8 2.1 14.2 1.4 17.8 3.4 63.3 .7 6.9 .7 2.3 .7-2.4 .7-6.6 4.1-62.3 1.3-12.1 2.1-10 1.4-3.2 .7-.5 .6 .6 .7 1.8 .7 3.2 1.4 10.9 2.7 28.3 .7 3.6 .7 .4 .7-3.3 .7-6.9 4.1-66.7 2-15.9 2.1-6.1 1.4-2.2 .7-.7 .6 0 .7 1.1 2.8 7.8 .7 .7 .6-.6 2.1-5.5 4.1-15.6 1.4-3.4 1.4-1.4 1.3-.5 1.4 .2 4.8 3.2 1.4 .3 .7-.2 1.3-1.3 3.5-6.2 2-3 4.1-3.7 2.1-.9 .7 0 1.3 1 4.8 6.3 2.8 1.4 2-.2 2.1-1.3 10.3-9.6 1.4-1 1.3-.4 1.4 .4 .7 .6 3.4 5.1 2.1 1.9 2.7-.4 5.5-2.9 2.7-.4 2.8 1.2 4.1 3.9 2.1 .7 1.3-.7 3.5-3.3 1.3-.8 1.4-.1 4.1 1.7 2.1 .1 6.8-1.1 6.9-2.9 5.5 .3 5.5-2 4.8 .3 1.3-.2 2.1-1.3 4.8-6 2-1.3 .7 0 1.4 .8 4.8 6.6 2.1 1.7 2 .4 3.4-.9 2.1 0 4.8 2.6 1.4 .4 1.3-.2 3.5-1.4 4.8-1.4 10.9-5.7 2.1-.5 2.1 1.4 4.8 8.4 1.3 1.3 .7 .2 1.4-.3 4.1-3.6 2.1-1.1 2-.4 4.1 .4 2.1-.2 4.1-1.3 5.5-2.3 2-.2 2.8 1.2 2.7 2 2.1 2.6 4.1 6.6 2.7 2.5 2.1 1 1.4-.6 2.7-4.4 3.4-4.2 4.8-12.5 1.4-2 .7-.2 1.4 1 1.3 2.2 4.8 10.8 5.5 6.9 .7 0 .7-.6 2.7-5.7 .7-.4 .7 .5 1.4 4.7 3.4 19.3 .7 1.6 .7 0 1.4-3.7 3.4-17.3 1.4-4.5 .7-.8 .6 .2 4.2 6.7 .6 .4 .7-.2 3.5-5.3 2.7-2.4 3.4-7.6 .7-.8 .7-.2 1.4 .3 .7-.5 1.3-4.7 2.1-11 .7-1.3 .7 .9 .6 3 3.5 23.8 2 7.2 1.4 1.8 .7-.3 2.7-7.2 .7-.6 .7 .5 2.7 7.1 3.5 5.4 1.3 3.2 1.4 5.9 .7 4.9 1.4 16.5 1.3 31.9 4.2 151.6 1.3 26.9 1.4 12.2 .7 1.5 .7-1 .7-3 4.8-39.2 2-11.7 1.4-4 .7-.6 .7 .3 .6 1.2 1.4 4.4 4.1 18.3 4.1 23.5 1.4 5.1 .7 .8 .7-.8 .7-2.4 .7-4.1 3.4-33.8 .7-4.6 .7-1.9 .6 1.3 1.4 13 4.1 86.9 1.4 22.4 2.7 0 1.4-18.8 3.4-72.6 2.1-28.2 1.4-9.8 .7-3 1.3-3.1 .7-.4 .7 .4 .7 1.2 1.4 4.1"/>
<path stroke="#7db5d6" d="M559 405.3l2.1 10.1 .7 2 .7 .7 .7-1.1 .6-3.2 .7-5.8 2.1-34.8 2.7-69.9 1.4-26.9 1.4-15.1 1.3-6.2 .7-1.2 1.4-.8 1.4 .2 1.3 1.5 1.4 4.2 1.4 10.1 2 34.2 3.5 94.6 1.3 23.2 .7 3.6 .7-1.8 .7-6.6 3.4-60.2 1.4-16.2 1.4-7.2 .7-.9 2 1.2 .7-.6 .7-2.1 1.4-8.9 2.7-26.1 1.4-8.3 .7-1.9 .6-.2 .7 1.5 1.4 8.7 1.4 17 3.4 56.7 .7 4.6 .7-.4 1.3-16 3.5-69.6 1.3-13.9 .7-3.1 .7-1.1 .7 .7 1.4 6.4 2 22.3 2.1 39 4.1 109.4 1.4 18.5 .7 1.6 .6-3 .7-6.7 2.8-38.1 4.1-44.3 6.8-97.7 2.1-17.3 2.1-9.3 1.3-3.1 1.4-1.2 .7 .1 1.4 1.7 2.7 7.7 .7 .8 .7-.5 .7-1.7 2.7-10.7 .7-1.5 .7-.7 .7 .3 1.3 4.3 3.5 30.8 .6 3.8 .7 1.2 .7-1.2 .7-3 2.8-15.8 1.3-4.1 .7-.9 1.4-.4 2 1.1 2.8 2.1 1.4 .3 1.3-1.2 2.8-5.2 .7-.5 .6 .3 1.4 3.7 2.8 17.5 .6 3.8 .7 1.8 .7-.8 1.4-11 3.4-44.9 1.4-9.3 1.4-5.5 .6-1.5 .7-.2 2.8 4.5 .7 .5 .6-.6 2.1-4.7 4.1-15.2 2.1-5.2 1.3-1.3 2.1-.5 1.4 .5 4.8 3.6 1.3 .1 .7-.3 1.4-1.3 1.4-2.2 6.1-12.8 1.4-1.6 1.4-.6 1.4 .5 1.3 1.6 6.9 13.7 1.4 1.7 1.3 .8 1.4-.2 2.1-1.1 6.1-5.9 2.8-1.9 2.7-.6 4.1 .2 1.4-.6 4.8-6.1 2.1-1 1.3 .2 3.5 1.5 1.3 .3 2.1-.3 5.5-1.6 2.7 .3 3.4 1.1 2.8 1.9 4.8 7.4 1.4 1.1 .6 .2 1.4-.7 4.1-4.9 2.1-1.2 4.1-.1 5.5-1 2 .6 4.2 2.3 2 .3 2.8-1.3 5.4-5.2 2.1-.7 4.8 1.8 4.1 .3 1.4 .4 4.1 3.3 1.4 .6 .7-.1 2-1.6 4.8-6.7 1.4-.9 1.4-.2 2 .8 5.5 4.7 4.8 1.5 6.2 3.4 1.3 .1 1.4-.5 6.2-5.6 6.2-3.6 2-.5 2.1 1 4.1 4.9 2 1.3 2.1-.6 3.4-2.7 2.1-.9 4.1 0 3.4-.4 2.1 .2 4.1 2.7 5.5 5.3 1.4 .5 .6-.1 1.4-1.1 3.4-5.4 1.4-1.4 .7-.1 3.4 2.9 1.4-.1 2.1-1 .6 .4 2.1 3.4 .7 .3 .7-1 .7-2.5 2.7-14.9 .7-1.5 .7-.1 .7 1.1 2 5.3 4.1 16.3 1.4 3.2 1.4 1 .7-.3 .6-1 4.2-10.8 1.3-2.4 .7-.6 .7-.1 2.1 2 2.7 1.4 .7 .8 4.8 12.6 .7 .3 .7-.7 2-4.3 .7 .2 1.4 4.6 2 10.4 .7 1.5 .7 0 .7-1.6 6.9-27.4 1.3-1.9 1.4-.3 2.1-1.6 .6-.1 .7 .5 .7 1.4 2.1 6.4 1.3 2.7 .7 .4 .7 0 1.4-.5 .7 .2 .7 1 1.3 5.3 2.1 11.5 1.4 4.6 .6 1 .7 .2 .7-.4 3.4-5.7 .7-.2 .7 1.3 .7 4.1 1.4 20.5 3.4 101.8 2.1 45 2.7 41 1.4 10.9 .7 1.7 .6-.9 1.4-9.5 4.1-53 1.4-8.3 .7 0 .7 3 1.3 14.8 3.5 55.6 1.3 10.9 .7 .3 .7-3.4 1.4-17.4 4.1-92.1 1.4-16.4 .7-3.3 .6-1.1 .7 .8 .7 2.6 .7 4.6 5.5 68.4 2 17.3 2.1 10.2 .7 1.3 .7-.1 1.3-4.9 1.4-11 3.4-37.3 1.4-9.8 .7-2.8 .7-1.5 .7-.2 .7 .6 1.3 3.3 2.1 8.5 1.4 8.7"/>
<path stroke="#5597c6" d="M559 296.6l3.5 1.8 1.3-.3 .7-.7 2.1-5.1 3.4-13.6 .7-1.6 .7-.6 .7 .5 .7 1.8 1.3 8.1 1.4 15.7 4.8 86.2 .7 5.2 .7 .7 .7-4.2 .6-8.6 4.2-79.6 2-19.3 .7-3.2 1.4-3.5 .7-.8 1.3-.6 1.4 .4 1.4 1.1 4.8 5.4 2 4 1.4 4.7 3.4 16.6 3.5 14.4 2 12.8 4.1 35.3 1.4 6.6 .7 1.3 .7 .1 1.3-2.9 4.2-13.2 1.3-7.1 1.4-12.4 3.4-40.9 .7-5.7 1.4-6.7 .7-1.2 .7-.1 .6 .9 4.2 12.1 1.3 1.9 2.1 1.2 1.4 2.2 1.3 5.1 3.5 20.7 .6 2.7 .7 1.3 .7-.3 1.4-4.8 3.4-19.1 3.4-13.7 4.2-24.6 1.3-6.4 1.4-4.4 6.9-16.8 2-3.5 .7-.4 .7 .1 .7 .8 .7 1.9 .7 3.4 1.3 13.7 4.1 77.7 .7 8.8 1.4 10 1.4 3.9 1.3 2 1.4 1.3 .7 0 .7-.7 2.7-5.9 .7-.6 .7 .2 2.7 5.5 .7 .3 .7-1.1 .7-2.5 2.7-16.6 3.5-13.7 .7-4.4 1.3-13.9 5.5-74.8 2.1-18.8 2.7-17.1 2.1-7 2-2.8 2.8-1.9 2-.6 4.8-.5 2.1-1.6 2-3.8 4.2-10.4 2-2.9 1.4-.4 .7 .2 2 2.4 6.9 17.4 1.4 1.9 1.3 .5 2.1-1.4 6.2-7.9 4.8-3.4 3.4-3.2 2-.8 1.4 .2 5.5 1.9 2.1 .2 2-1.1 3.4-2.8 2.1-.2 2.1 1.8 3.4 4.5 1.4 .8 .6-.1 2.1-1.6 4.1-5.4 1.4-1.2 2-1.1 2.1-.2 2.1 .6 6.8 4.5 2.1 .6 2-1 4.1-4.1 2.1-.6 2.1 .8 4.8 3.6 2.7 .8 5.5-1.9 4.1-.9 3.4-1.5 1.4-.2 2.1 1 4.1 4.3 1.3 .5 2.1-1.1 4.8-5.8 1.4-.9 2-.4 5.5 1.3 4.8 2.7 1.4 .4 1.4-.1 4.1-1.1 6.1 .7 2.1 1.3 2.7 2.6 1.4 .6 1.4-.2 4.1-3.7 2.1-.7 2 1.1 4.1 4 2.1 .5 1.4-.4 2-1.4 6.9-8.4 2-1.6 1.4-.3 1.4 .3 2 1.5 6.9 8.1 2 1.9 2.1 1.2 4.1 1.4 1.4-.1 2.7-2.6 1.4-.7 1.4 .5 2 1.5 1.4-.1 1.4-1.6 3.4-5.7 1.4-1.4 .7-.2 1.3 .3 2.1 1.2 2.7 4.3 .7 .8 .7 .1 3.4-5.7 2.8-2.6 1.3-.5 1.4 1.2 .7 1.5 3.4 14.3 .7 1.4 .7-.1 2.8-5.6 2-1.1 2.8-5.9 .6-.7 .7 .1 .7 1 2.1 5.2 .7 1.2 .6 .4 .7-.8 .7-2 2.1-8.4 .7-1.5 .6-.2 2.1 2.9 .7 .2 .7-.7 2-4 .7-.6 .7 .1 1.4 2.9 3.4 15.4 .7 1.8 .7 .6 .7-.5 1.3-3.3 5.5-18.4 1.4-2.9 .7 .3 1.3 4 3.5 18 1.3 5.1 1.4 2.8 2.8 1.8 1.3 1.7 1.4 3.6 .7 3.3 1.4 14 2.7 54.4 .7 9.8 1.4 10.1 .6 1.9 .7 .8 2.8 .4 1.3 .8 1.4 2.8 1.4 6.1 3.4 22.6 1.4 4.4 2 3 1.4 3.6 4.1 20.7 5.5 24.9 .7 1.9 .7 .3 .7-2 .7-4.3 3.4-40.9 .7-5.4 .7-2.5 .6 .7 .7 4.1 3.5 46.7 1.3 11.3 .7 1 .7-2 .7-4.6 4.8-49.7 2-11.2 1.4-3.1 .7 .1 .7 1.4 1.4 7.2 4.8 50.2"/>
<path stroke="#3a78b5" d="M559 270.4l1.4 21.1 4.1 80 1.4 15.3 .7 3.1 .7-.4 .7-3.8 3.4-42.2 1.4-8.5 .6-.2 .7 2.3 2.8 21.7 1.3 6.6 .7 .7 2.1-2.2 .7 .4 1.3 5.6 2.1 13.9 .7 1.4 .7-2.6 1.3-20.1 3.5-81.6 1.3-14.7 .7-3.1 .7-1.5 .7-.5 .7 0 .7 .5 .7 1.1 3.4 10.7 .7 1.4 2.7 3.8 1.4 5.1 2 17.4 3.5 41.8 1.3 9.4 .7 1.6 .7-.8 1.4-9 4.1-53.8 .7-5.6 1.4-5.9 .6-.5 .7 .6 .7 1.7 5.5 23.8 2.1 15 2.7 28.3 1.4 8.2 .7 .5 .6-2 1.4-10 3.4-37 2.1-18.2 1.4-7.6 .7-2 .6-.8 .7 .4 1.4 4.9 1.4 10.6 4.1 55.4 1.4 10.5 .6 .9 .7-2 .7-4.5 4.1-39.6 1.4-8.3 1.4-4.8 .7-1.1 .6-.2 .7 .6 4.1 12.9 .7 .6 .7-.6 .7-2 1.4-8.3 3.4-32.2 1.4-8.4 .7-2 .7-.5 .6 1 .7 2.4 2.8 15.4 .7 1.3 .6-1.2 1.4-11.5 3.4-54 1.4-16.3 2.1-13.3 1.3-3.9 .7-1 1.4-1.1 2.1-.4 4.1 .8 2-.2 1.4-.7 2.1-2.1 .6 0 1.4 3.1 2.8 9.4 1.3 1.1 .7-.1 1.4-1.1 3.4-5.5 1.4-1.5 .7-.2 5.5 1 2 1.3 4.1 3.7 2.1 0 2.7-2.6 6.2-9.1 2.1-1.5 2 .7 4.8 5.9 1.4 1.2 1.4 .4 4.1-1.1 3.4 .5 2.1-.2 2-1 4.1-3.4 2.1-1.1 2 .3 7.6 3.6 2 .3 2.1-1.1 4.1-3.7 1.4-.8 1.4-.3 8.9 .3 2 1 4.8 3.5 2.1 .6 6.2-1.5 8.2-.2 5.5-1.2 2 .3 3.5 1.4 1.3 .1 2.1-.8 5.5-4.1 6.8-1.6 6.9-5.3 2-.9 1.4-.1 2.1 .5 1.3 1 6.2 7.6 1.4 1.1 1.4 .5 1.3-.2 1.4-1.2 4.8-7.1 2.1-1.3 2 .7 3.4 2.9 1.4 .6 2.1-.1 3.4-1.4 2.1 .3 2 1.2 4.8 3.9 2.1 1.1 1.3 .2 8.3-1 2-1 5.5-4 2.1-.6 2 .3 3.5 1.9 10.9 13.2 1.4 1.2 1.4 .5 1.3-.5 2.8-2.6 1.4-.7 2.7 1 1.4-.2 1.3-2.5 3.5-11 1.3-1.8 2.8-1.9 1.4-.2 1.3 1.2 3.5 7.4 .6 .9 .7 .2 .7-.7 .7-1.6 2.1-7.8 .6-2 .7-.8 .7 .7 .7 2 2.7 11.5 .7 1.2 2.1 .9 .7 .6 4.8 9.4 .7 .8 1.3 .4 1.4-1.1 .7-1.3 2.7-9.4 .7-1.4 .7-.7 .7 .1 1.4 1.5 2.7 6.6 .7 1.2 .7 .4 .7-.7 .7-1.5 4.1-12.9 2-4.2 .7-.5 .7 0 .7 .8 2 5.4 .7 1.3 .7 .2 .7-1.1 2.7-8.5 .7-.6 .7 0 2.1 1.7 1.3 2.6 3.5 12.2 3.4 8.7 2.7 3.3 4.8 8.4 1.4 1.3 2.1 .6 .7 1.2 1.3 7.5 1.4 19.4 .7 15.7 4.1 127.8 1.4 26.9 1.3 16.4 .7 4.4 .7 1.7 .7-1.3 1.4-11.8 3.4-59.4 1.4-16.3 .7-3.9 .6-1 .7 1.4 2.8 14.8 .7 1.9 .6 0 1.4-6.3 2.8-20.9 .6-2 .7 .7 1.4 9.6 3.4 48.2 1.4 9.9 .7 .9 .7-1.7 1.3-9.9 4.8-56.9 1.4-10.4 1.4-5 .7-.4 .7 .9 .6 2.4 1.4 9.6 5.5 61.9 2.7 25.6 .7 3.4 .7 1.2 .7-1.5 .7-4.3 1.4-16.6"/>
<path stroke="#24528f" d="M559 356.2l1.4 35.4 .7 7.8 .7-1.4 1.4-27.5 2.7-77.1 1.4-17.4 .7-3.6 .6-1.7 .7-.6 .7 .2 .7 .9 1.4 5.5 .7 5.4 2 29.3 3.4 65.8 1.4 13.6 .7 .9 .7-3.7 1.4-19.4 3.4-70.5 1.4-17 1.3-8.2 1.4-2.7 .7-.3 .7 .4 1.3 3 .7 3.6 1.4 13.1 2.7 38.2 .7 6.1 .7 3.1 .7 .1 1.4-7 2.7-21.4 1.4-6.6 1.4-2.8 2-.5 .7-.4 .7-1.2 1.4-5 3.4-18 1.4-2.6 .6 0 .7 .9 1.4 6.1 .7 6.4 2 41.4 4.2 172.2 .6 15.9 3.5 0 2.7-85.6 2.1-43.9 1.3-18.1 3.5-35.6 1.3-12.5 1.4-8.3 .7-1.8 .7 .1 .7 2.3 .7 4.5 3.4 42.6 1.4 10.1 .6 1.1 .7-.9 2.1-5.3 .7-.1 .7 1.2 2 6.9 .7 1.1 .7-.6 1.4-6.7 2.7-21.3 4.1-21.9 4.1-38.6 .7-4.6 1.4-5.5 .7-1 .7 0 1.3 2.7 2.1 8.8 3.4 19.1 .7 1.6 .7-.6 1.4-9.1 3.4-44 1.4-7.4 1.3-2.3 1.4-1 .7 .1 .7 1 1.4 6.6 2 15.7 .7 2.1 .7-.8 1.4-10 3.4-36 2-11 2.1-4.7 2.1-3.2 .6-.5 .7 .5 2.8 4.7 .7 0 .6-1 1.4-3.3 4.8-15.1 1.4-3.1 2-2.3 2.1-1.5 2.1-.7 2 .7 3.4 2.6 1.4 .2 .7-.3 2.1-2.3 5.4-9.8 2.1-1.7 1.4 .2 1.3 1.4 7.6 15 2 2.5 1.4 .4 1.4-.5 2-1.7 6.2-7.4 2.1-2 1.3-.6 1.4 0 1.4 .7 2.7 2.1 1.4 .2 1.4-1 4.1-5.5 1.4-1.1 1.3-.3 1.4 .2 2.1 1.3 2 1.9 4.1 4.9 2.1 1.3 1.4-.3 2.7-1.9 2.1-.6 4.8 .4 9.6-1 4.1 1.2 2 .1 5.5-2.6 4.1-.8 2.8 .6 4.1 2.5 2 .1 2.8-1.6 4.1-3.7 2.1-1 1.3 .3 3.5 2.4 1.3 .6 4.1 .1 4.2 .8 2-.5 4.1-3.3 1.4-.5 1.4 .5 3.4 2.9 1.4 .4 1.3-.4 4.2-2.7 2.7-.9 4.1-.2 6.9 .7 6.8-1.3 2.8 .9 5.5 3.6 2.7 .4 2.7-1.2 5.5-4.5 4.8-1.2 4.1-1.9 1.4 .4 1.4 1.4 6.8 11.6 2.8 2.4 2 .5 2.1-.6 2.7-1.7 2.1-.5 1.4-1.2 1.3-3.1 2.8-8.7 .7-1.2 .7-.5 .6 .2 2.8 3 2.7-.9 2.8 1.6 2-1.4 .7-.2 .7 .5 1.4 3.6 2.7 12.2 1.4 3.6 .7 .5 .7-.3 1.3-1.6 .7-.5 .7 0 4.1 5.9 .7 0 .7-.6 2.7-5.8 .7-.8 2.1-.7 2.7-3 .7 .2 .7 1 1.4 3 .7 .7 .6-.6 2.8-10.3 .7-1.2 .7 .1 2.7 5.3 .7 .6 .7-.2 .7-.8 1.3-2.3 .7-.7 .7 .3 2.7 5.2 2.1 1.3 1.4 2.4 3.4 12.8 .7 2 .7 .3 .7-1.9 .6-3.9 2.8-20.9 1.4-6.2 .6-.9 .7 .9 .7 2.4 2.8 13.1 6.8 26.2 .7 1.9 2.1 2.9 1.3 7.1 4.1 61.1 2.8 33.3 4.8 105.9 1.4 18.4 .6 4.1 .7 .7 .7-2.4 .7-5.1 4.1-52.6 1.4-13.6 2-11.7 .7-1.5 .7-.1 .7 1.6 .7 3.8 1.4 14.5 3.4 64.4 1.4 20.1 .6 5.6 .7 2 .7-1.6 .7-4.9 1.4-18.3 4.8-93.9 1.3-18.4 1.4-8.9 .7-.5 .7 2.3 .7 5.1 1.3 18.2 2.8 47.2 1.4 14.1 .6 2.9 .7 .3 .7-1.7 2.1-9.3 .7-1.8 .6-.6 .7 .8 2.1 6 .7 1.2 .7 0"/>
<path stroke="#172d58" d="M559 311.5l.7-6.4 1.4-7.6 .7-1.7 .7-.5 .7 .6 1.3 3.5 4.8 20.2 1.4 3.1 .7 .6 .7 0 1.3-1.6 1.4-3.3 4.8-16.5 1.4-3.6 .7-1.1 .7-.3 .6 .6 1.4 4.6 .7 4.1 4.1 42 .7 4.4 .7 1.8 .7-1.1 .7-3.9 3.4-33.8 1.4-7.6 .6-1.6 .7-.5 2.1 .9 .7-.2 .7-1.1 4.8-17.8 1.3-2.8 1.4-1.7 1.4-.9 .7 .2 1.3 2.3 1.4 6.1 4.1 38.2 2.1 14.3 2 7.6 .7 1.1 .7 .3 .7-.7 .7-1.5 2-9.4 2.1-14.8 4.8-45.9 1.4-6.5 .6-1.4 .7-.2 .7 1 .7 2.4 1.4 11 3.4 57.6 1.4 14.8 .7 1.8 .6-2.1 1.4-14.3 3.4-53.8 1.4-12.7 1.4-5.6 .7-.9 .7 .2 2.7 6.2 .7 1.2 .7 .5 .7-.4 .6-.9 2.8-4.9 .7-.3 .7 .2 1.3 2.2 2.1 4.4 .7 .7 .7-.1 .6-1.1 1.4-5 3.4-20.8 1.4-6 .7-1.5 .7-.6 2.7 2 .7-.8 .7-2.1 1.4-8.7 3.4-30.4 1.4-7.6 2-6.1 2.8-3.6 6.2-5.1 2-.5 4.8 .9 2.8-1.7 .6 .1 .7 1.1 2.8 8.1 .7 1 .6-.3 2.1-4.1 3.4-10.7 1.4-2.7 .7-.7 .7-.1 2 1.1 7.6 7 2 1.3 2.8 0 7.5-3.1 2.8-.2 2.7 1.6 5.5 5.4 2 1 1.4-.5 1.4-1.2 6.8-8.1 2.8-1.3 2 .1 6.2 1.7 4.1-1.1 11-.5 2.1 .6 4.1 2.6 2 .6 1.4-.3 4.1-2.7 1.4-.4 1.4 .3 3.4 2.3 1.4 .5 2-.9 3.4-3.4 1.4-.8 1.4 0 4.1 .9 4.8-1.6 2.1 .7 3.4 2.8 2 .5 2.1-1 4.8-4.3 6.2-1.9 5.5-2.6 2.7-.5 4.8 1 4.8 .5 2.7 .8 3.5 2.1 4.8 4.2 2 1 1.4-.1 1.4-.5 6.1-4.8 2.1-.6 2.1 .1 2.7 1.9 6.2 7.6 1.3 1 1.4 .4 1.4-.2 1.4-.8 4.1-3.8 2-1.3 8.3-2.6 1.3-.8 1.4-1.3 4.1-5.3 2.1-1.2 1.3 .5 1.4 1.6 4.8 9.6 2.1 2.8 1.3 .8 3.5 .5 2.7 .8 1.4 1.4 2 3.1 .7 .6 .7 0 1.4-1.9 2.7-6.7 1.4-1.6 3.4-2.2 3.5 .7 2-.8 2.8-.1 1.3-1 2.1-2.8 1.4-1.2 .6 .1 1.4 2.2 5.5 19.3 .7 1.1 .7 .4 1.3-.6 .7 0 .7 1.2 2.8 13.9 .7 2.2 .6 .5 .7-1.4 .7-2.9 4.8-30.5 1.4-4.8 .7-1 .7 .2 .6 1.7 2.8 16.3 .7 3.3 .7 1.5 .6-.4 .7-2.2 2.1-10.9 .7-2.5 .7-1.3 .6 .1 .7 1.2 3.5 12.3 2 16.8 3.4 52.7 1.4 11.4 .7 .6 .7-2.8 .7-5.8 4.8-59.7 1.3-12.3 1.4-7.7 .7-1.7 .7-.4 2 1.4 1.4 1.5 1.4 2.7 3.4 9.2 1.4 8.7 1.4 26 3.4 138.8 1.4 27 .6 3 .7-1.8 2.1-14.8 .7-3.5 .7-1.7 .6 0 .7 1.4 2.1 6.6 .7 1.1 .7 .1 2-2.1 .7 .2 .7 1.6 1.4 8 4.1 41.1 .7 4.5 1.3 4.8 .7 .8 .7 0 2.7-.8 1.4-1.3 .7-1.9 2.1-13.9 4.1-42 1.3-7.3 .7-2.1 1.4-1.8 .7 .1 .7 .7 .7 1.3 1.3 5.1 2.1 14.3 4.1 37.7 .7 2.9 .7 1 .7-1.2 1.3-7.9 3.5-30.4 3.4-20.1 1.4-10.5"/>
</g>
<g clip-path="url(#clipC)" fill="none" stroke-width="3.0" stroke-linejoin="round" stroke-linecap="round">
<path stroke="#6a0c22" d="M197 -1172.8l1.3 1010.6 1.2 603.6 1.2 310.1 1.2 111.5 .6 9.5 4.3-41.3 .6-.5 1.8 9.1 .6-.9 2.5-12.1 .6-1.2 .6-.3 .6 1.4 .6 3.2 1.8 13.9 .7 2.5 1.8 3.1 .6 1.8 1.8 7.8 .6-.8 1.9-10.8 .6 .1 1.2 5 .6 1.1 .6-.8 .6-2.5 1.8-10.7 .7 .8 2.4 27.1 .6 .8 .6-2.4 .6 2.2 .6 35.2 1.3 188.2 .6-42.6 1.2-188.9 .6-14.7 1.2 8.2 2.4 25.2 .7 2.5 .6-2.3 .6-7 1.8-26.2 1.2-6.9 .6-.9 .6 .7 .6 2.7 1.9 16.6 1.2 6.3 .6 .3 1.2-3.3 .6 9.9 1.3 78.2 .6-19.1 1.2-102.2 .6-13.9 1.2-8 2.4-6 .7 .1 .6 3.2 1.8 20.7 .6 4.3 .6 1.6 .6-.8 .6-2.8 2.5-19.3 .6 .5 1.8 13.3 .6 1.6 .6-1.1 1.9-9.8 .6-1.4 .6 1.1 1.2 5.5 .6 1.4 1.2 1.3 .6 2.8 3.1 24.9 1.2 7 .6-.4 .6-3.3 2.5-24.6 .6-3 .6 .7 1.8 15.6 .6 8.5 1.2 48.3 .6 2.2 1.3-63.9 .6-13.7 1.2-7.1 .6-1.7 .6-.2 2.4 11.2 .7-2.1 2.4-37.1 1.2-10.7 .6 .6 1.8 17.7 1.9 10.3 .6 6 2.4 45.6 .6 5.6 .6 .5 4.3-34.9 1.8-20.3 .6-1.1 .7 4.4 1.8 30.8 .6 5.9 .6 1.4 .6-1.8 1.8-9.5 3.1-24 1.2-5.8 1.2-3.2 .6 .3 1.9 7.7 .6 2 .6 .7 .6-.2 1.2-1.5 4.3-7.6 1.8-1.7 1.8-.1 4.3 2.5 1.2 .2 1.2-.2 1.3-1.4 1.2-2.6 4.2-15.3 1.3-2.6 .6-.3 1.2 1 1.8 3.2 1.2 1.5 2.5 .5 1.2 .5 3.7 4.1 1.2 .7 .6-.1 1.2-1.1 5.5-8.6 2.4-2.5 1.2 .2 3.7 6.3 1.2 1.3 1.2 .4 3.1-1.2 6.1-5.6 1.8-.6 1.8-.2 .6 .5 .7 1.7 3.6 17.9 1.2 2.9 .6-2 2.5-20.8 .6-.2 .6 3.1 1.8 15.5 .6 2.3 .6 0 1.3-1.9 4.2-13.4 1.2-2.3 .7-.3 1.2 1.1 1.2 3 4.9 17.3 1.2 2 .6 .3 .6-1.7 3.1-21.6 .6-.2 2.4 2.1 2.4-.1 8-3.4 3.6-3.6 .6-.2 1.9 17.4 1.8 27.7 .6 .2 3-43.1 .7-5.5 .6-1.7 1.2-1.3 1.2-.3 2.4 1.6 1.3 .4 1.2-.6 3-3.5 1.2-.6 1.3 .2 1.8 2.5 3.6 8.5 5.5 10.6 1.9 2.5 2.4 1.4 1.8 .2 1.2-.7 3.1-2.9 3.6-2.5 3.1-4 .6-.4 .6 .2 1.8 3.4 3.7 10.6 1.2 2.5 .6 .6 .6 0 1.3-2 3.6-11.5 3.7-8.4 1.2-1.5 .6 .1 .6 1.1 4.3 18.9 1.2 2.9 .6 .3 .6-.6 1.2-3.1 4.9-19.4 1.2-2.8 .6-.4 .6 .4 1.3 3.5 4.2 23.1 1.9 6.7 .6 .8 .6 0 3.6-3.3 1.3-.6 .6 .7 .6 2.2 1.2 9.6 3 32 1.3 7.2 .6 1.2 .6-.7 .6-2 1.2-7.3 4.3-36.3 1.2-5 .6-.5 .6 2.2 .6 6.9 3.7 71.1 .6 5.7 .6 .5 2.4-76.5 .6-1.1 .7 9.5 1.2 40.3 3.6 166.2 1.2 23.9 .7-1.3 1.2-23.7 3.6-136.3 1.3-29.6 .6-5.5 .6 5.9 2.4 114.5 1.2 39 .6-1.4 .6-11.6 3.7-141.5 .6-13.4 .6-3.9 .6 11.7 1.9 68.2 .6 4.5 .6-.8 .6-2.4 3-21.3 .6-2.8 .7-1.3 .6 0 1.2 2.2 1.2 4.8 4.9 28.2 1.8 23.8 6.1 114.8 1.2 15.9 4.3 36.3 9.7 0 1.3-5.7 .6-.2 1.8 5.9 9.7 0 1.9-39.1 .6-6.3 .6-2.6 .6 .4 .6 2.2 3.1 14.6 1.2 9.8 1.8 21 4.9 0 .6-4.5 2.4-55 1.2-14 .7-.5 1.2 17.5 1.8 47.8 .6 8.7 7.9 0 6.1-51.8 .6-1.5 .7 2.7 .6 6.7 2.4 43.9 3 0 .7-.9 2.4-61.6 4.9-86.4 .6-2.4 .6 2.6 2.4 30 .6 4.1 .6 .2 1.3-9.7 4.8-64 1.3-8.9 .6 .1 .6 3.4 2.4 27 .6 3 .6 .3 1.3-7.5 3.6-52.7 1.2-9.2 .6 .3 1.3 2.3 .6 0 .6-1.3 2.4-10.5 1.2-2.1 1.3-.5 .6 .2 1.2 2.9 2.4 11.8 2.5 8"/>
<path stroke="#a11a2b" d="M197 -1186.2l1.3 1028.2 1.2 611.4 1.2 304.2 .6 67.9 .6 28.6 .6 2.8 1.2-19 .7-.7 .6 .8 .6 0 .6-1 4.3-17.5 .6-1.9 .6 .3 .6 3.3 3.6 33.6 2.5 30.4 .6 2.9 1.2-1.7 .6 1.1 1.8 11 .7-1.8 1.8-18.5 .6-3.4 1.8-1.9 1.8-7.2 .7-.3 1.2 .9 .6-.9 1.8-5.8 3.1-26.6 .6 1.5 1.8 19.3 .6 2.5 .6-.5 1.2-3.6 .6-.5 .7 1.2 .6 2.9 .6 7.2 .6 26.1 1.2 124.7 .6-21 1.2-125.5 .6-14.3 1.9-8.4 1.8-11 .6-1.1 1.2 1.5 .6 0 .6-1.8 4.3-19.6 1.8-11.2 1.3-5.1 1.8-2.8 .6 .2 2.4 10.7 .6 .9 .7-.9 1.8-8.7 .6 1.3 .6 6.7 .6 16.8 1.8 202.7 1.9-194.5 .6-9.3 1.8 20.1 1.2 8.6 .6 .2 1.3-4.7 3-22.2 .6-2.6 .6 7.2 1.8 190.5 1.9-175 .6-7.2 .6 .9 .6 2.1 .6 12.4 1.2 84.2 .6-2.1 1.3-81.4 .6-13.1 4.2-44.1 1.3-6.4 .6-.3 .6 1 1.8 5.3 .6 .2 1.2-2.8 .6 0 1.3 4.5 .6 1.4 1.2-.4 .6 2.9 3 49.1 1.3 8.2 .6-.2 .6-2.9 2.4-18.5 .6-1.8 .6-.5 .6-1.3 1.3-4.4 .6 0 1.8 8.7 .6-.2 1.8-9.6 .7-1 1.2 .4 1.8-2.2 .6 0 1.2 1.3 2.5 6.2 .6 .7 .6-.5 1.2-3 4.3-14.6 1.8-4.3 1.2-1.1 1.2-.1 3.7 2.9 1.2-.2 .6-.6 1.2-2.4 3.7-10 1.8-3.3 1.9-2.4 1.2-.7 1.2 .2 3 2.6 1.3 .3 1.2-.5 3-3.2 1.2-.8 1.3-.1 3 .7 1.2-.3 1.9-1.7 3-4.6 1.8-1.9 .6-.2 1.3 .7 3.6 5.5 1.2 .6 1.3-.9 4.2-6.3 2.5-1.6 1.8-.2 3 2.4 1.3 3 3.6 18.3 .6 1.6 .6 .5 .6-2.3 1.9-16.9 .6-3.5 .6 .3 2.4 20.4 .6 2.6 .6 .1 .7-.9 1.2-4 3-15.1 1.2-3.3 .6-.4 1.3 1.6 1.2 3.5 5.5 22.7 1.2 3.2 .6 .6 .6-1.8 .6-4.3 1.8-17.9 .7-4.2 .6-1.7 1.8-1.6 1.2 .1 3.7 4.2 1.2 .1 1.2-1 4.3-6.4 1.2-.8 1.8 .3 .6 .7 .6 4.4 3.1 40.4 .6-.4 3-43.5 .7-4.9 .6-1 3 0 3.7 2 1.2 .2 1.8-.8 3.1-2.7 1.8-.2 1.2 .9 1.2 2.2 4.3 12.7 1.8 3.8 1.9 2.3 1.2 .5 .6 0 4.2-2.8 10.4-1.2 1.2 .9 3.7 5.9 1.2 1.1 1.2 .5 1.2-.1 .6-.5 1.3-1.7 5.5-13.7 1.2-1.3 1.2 .1 1.2 2 4.3 14.8 1.2 1.7 .6 .1 1.2-1.7 1.2-3.1 5.5-19 1.2-2.1 .7 0 1.2 2.3 1.2 5 4.3 23.3 1.2 3.5 3 5.2 1.2 4.6 1.9 11.7 2.4 22.3 1.2 6.2 .6 .5 .6-1 1.3-6.2 4.2-42.5 1.3-6.5 .6-.6 .6 3.5 .6 8.2 3 62.9 1.2 12.7 .7-2.9 1.8-62.8 .6-11.1 .6 3.8 1.8 58.5 3.1 145.7 1.2 33.4 .6 4.4 .6-4.5 1.2-28.7 3.1-118.9 1.8-46 .6-2.2 .6 11.7 2.5 122 .6 23 .6 9.6 .6-4.6 .6-13.6 3.7-140.5 .6-11 .6-.2 2.4 75.7 .6 0 .6-2.2 3.1-17.8 1.2-4.2 .6-.2 .6 .6 1.9 4.4 2.4 13.1 2.4 19.1 1.9 20.6 7.3 108.4 3.6 41.5 1.9 14.7 .6 .8 4.2 0 .6-1.2 .7-.3 1.2 1.5 3 0 .6-.7 1.9-8.6 .6-1.8 .6-.3 1.2 2.8 2.4 8.6 7.3 0 .7-1.4 5.4-42.2 .6-3.5 .7-1.1 .6 2.1 .6 5.8 1.8 34.8 .6 5.5 19.5 0 .6-.2 2.5-39.7 .6-6.7 .6-4 .6-1.5 .6 .1 1.2 2.2 .6 1.6 .6 4 3.1 40 .6 4.2 3 0 .7-.5 4.8-105.8 1.2-18.1 .7-4.1 .6-.1 .6 3.9 3 43.5 .6 4.9 .6 .5 1.3-10.1 1.8-25.7 3.6-75.3 1.3-14.9 .6-1.8 .6 2 3 29.8 .6 4.4 .7 1.7 .6-1.3 .6-4.1 2.4-29.8 2.4-18.1 2.5-33.4 1.2-8.6 .6 .1 .6 2.4 1.9 12.3 .6 2.7 .6 1 .6-.6 .6-2.2 1.8-10 .6-1.8 .6 .7 1.3 8.5"/>
<path stroke="#c6363a" d="M197 -1198.6l1.9 1390.4 1.2 456.6 1.2 188.7 .6 29.6 .6 3.7 1.2-24.2 .7-6.2 .6-3.8 1.8-4.9 .6-2.6 1.8-11.6 .6-1.9 .7-.4 .6 1.3 .6 4.8 2.4 46 .6 5.7 .6-.3 1.9-17.7 .6-2.2 .6 1.3 1.8 15.7 .6 2.7 .6-.9 1.9-11.5 .6-1.9 1.2-1.1 .6-1.4 2.4-11.3 .6-.7 .6 .2 .7 1 .6 2.5 1.8 12.2 1.2 4 .6 20.3 1.2 122.5 .7-12.9 1.2-114.7 .6-13.8 .6-2.8 1.2-1.8 .6-2.5 2.5-22.4 .6-.1 1.8 11.9 .6 2.9 .6 1 1.8-1.9 1.9 3.6 .6 .4 1.8-4.7 .6 11.5 1.2 137.4 .6 18.6 1.3-167 .6-31.5 .6-2.4 1.2 10.4 .6 3 .6-1.2 1.8-16.1 .7-2.5 1.2-1.6 1.8-8.1 .6 0 1.8 13 .7 2.2 .6-1.7 1.8-16.7 .6-1.2 .6 2.5 1.8 14.4 2.5 11.7 .6 1.4 .6 0 1.2-.8 1.2 .7 .6-1 .7-2.8 .6-.3 .6 22.3 1.2 153.9 .6-16.3 1.2-149.7 .6-13.4 .6 2.7 2.5 25.6 1.2 5.5 1.2 31.4 .6-11.5 1.2-53.1 .6-2.9 .7 1.9 .6-.5 .6-3.7 1.8-16 3.1-19.1 2.4-22 .6-1.7 .6 4.1 .6 16.1 1.2 96.8 .6 16 1.3-85.6 .6-16.5 .6 1.9 3.6 71.7 1.3 15.1 .6 0 .6-5.8 1.8-29 .6-5.1 .6-1.7 .6 .3 .6-.4 .7-1 .6 .2 1.8 12.9 .6 2 .6-1.1 .6-2.9 3.7-23.4 .6-1.8 .6 .1 2.4 6.3 1.3 .7 1.8-.7 1.2-2.1 3.1-9.1 1.2-1.8 .6-.4 2.4-.3 3.7-3.1 1.2-.5 2.4-.1 1.2-1.1 1.3-3 3.6-12.6 .6-1.2 1.3-.9 .6 .2 3 3 1.2 .2 1.9-.4 .6 .3 3 4.1 1.8 1.1 1.3-.3 3-1.8 3.1-2.3 1.8-2.3 3-5.1 1.3-1.3 1.2-.3 1.2 .5 3 3.6 1.3 .3 1.2-1.4 2.4-5.3 1.2-1.3 3.7 1.8 3-.2 .6 .6 .7 1.8 3.6 18.7 1.2 3.1 .6-1.7 1.9-15.2 .6-3.2 .6 .4 2.4 18.9 .6 1.8 .6-.8 1.3-3.8 4.2-20.1 1.2-3 .7-.4 1.2 1.3 1.2 3.7 4.9 22.9 1.2 2.5 .6 .3 1.2-6.5 1.8-17.5 .7-3.9 .6-1.2 1.2-.3 1.2 .9 3.7 9.4 1.2 1.8 .6 .3 1.8-1.1 3.7-4.3 3.6-6.8 .6 3.2 1.3 13 1.8 28.2 .6 .9 1.8-24.4 1.9-16.1 .6-.4 1.8 .2 1.8-1.5 1.2-2.1 3.1-7.5 1.2-1.4 1.2 .3 4.9 6.8 4.3 3.7 4.2 7.1 1.3 1.5 1.2 .7 1.8-.3 3-2.3 3.1-1.6 4.3-4.1 1.2-.2 1.2 .5 1.2 1.5 .6 1.5 3.7 12.8 1.2 2.6 .6 .6 .6 .1 .6-.4 1.2-2.2 8-20.8 1.2-1.3 .6 .3 .6 1.3 1.2 5 3.7 20.1 1.2 2.7 .6-.3 1.2-3.3 4.3-17.1 1.8-3.8 1.2-1 .7 .3 1.2 2.4 4.2 17.8 1.9 4.6 3.6 4.1 3.1 1.1 3 2.5 .6 2.1 1.2 8.2 3.1 28.5 1.2 7.2 .6 1.4 .6-.5 1.3-5.2 5.4-46.3 1.3-5 .6-.1 1.2 13.1 3 65.3 .6 8.3 .7 3.6 .6-6.4 1.8-65.1 .6-7.5 .6 6.1 1.2 35.7 3.7 168.1 1.2 29.7 .6 2.3 1.2-18.7 3.7-134.1 1.2-33.5 .6-8.3 .6 .3 .6 14.9 2.5 119.7 .6 18.8 .6 4.1 1.2-24.9 3.1-122.4 1.2-23.3 .6 5.2 1.8 68.4 .6 10.3 .6-.8 .6-2.5 3.1-23.1 .6-3 .6-1.2 .6 .6 1.2 3.7 2.5 11.7 1.2 7.7 1.8 16.1 1.9 21.6 4.2 71.8 4.3 54.9 1.8 32.4 .6 5.8 4.3 0 .6-4.2 1.2-21.4 .6-5.2 .6-1.5 .6 1.6 .7 3.8 2.4 26.9 10.4 0 2.4-23.5 .6-4.1 .6-2.2 .6-.3 1.2 3.2 .6 3.3 2.5 21.9 .6 1.7 6.7 0 4.3-22.3 .6-1.7 .6 .6 .6 3.8 1.2 17.5 .6 2.1 3.1 0 .6-1 1.8-16.3 4.9-26.5 .6 .1 .6 2.8 4.9 40.9 4.9 0 .6-3.9 6.7-133.2 .6-5.1 .6-1.1 .6 2.6 3 33.7 .7 .7 .6-3 1.2-17.3 3-74.4 1.2-16.3 .7-3 .6-.1 .6 2.4 3 28.2 1.2 6.5 .7 .5 1.2-3.4 3-16.1 .6-1.7 1.2-1.7 .7-2.5 1.2-8.7 2.4-23.9 .6-4.4 1.2-4.7 .7-.7 .6 .3 .6 1.2 3.6 13.7 .6 .6 1.3-.6"/>
<path stroke="#da5f4f" d="M197 -1207.1l1.9 1391.6 1.2 461.6 1.2 194.4 .6 27.8 .6 1.2 1.2-21.9 1.9-7.9 2.4-17.8 .6 .2 .6 4 1.9 17.1 .6 .2 1.8-12.6 .6-.8 1.2 2.9 .6 .2 .6-.3 .7 1.4 1.8 13.3 .6 .3 1.2-4.9 .6 .6 2.5 28.9 .6 4.6 .6 1.3 .6-2 .6-4.8 1.8-21.8 1.2-9.8 2.5-9.8 .6-3.8 .6-1.2 .6 24.6 1.2 152.9 .6-26.6 1.3-134.5 .6-7.7 .6 1.3 1.8-5.2 .6 2.7 1.2 18.5 .6 23.9 1.3 162.7 .6 33.3 1.2-157.4 .6-26.6 .6 1.6 .6 4.5 .6 1.4 .6-1.5 1.3-7.7 1.8-16.2 .6-.3 .6 28.9 1.2 132 1.2-138 .7-48.7 .6-14.7 1.8-20.2 .6-3.7 .6-1.3 .6 .3 2.5 3 .6 .3 .6-.6 .6-2.5 2.4-20.5 .6-2 1.3-1.4 .6-.1 .6 .5 1.2 6 1.8 25.4 .6 20.8 1.2 123.7 .7 15.9 1.2-115.5 .6-22 1.2-10.4 3.1-16.5 .6-.4 .6 7.4 .6 35.9 1.2 200.1 .6-11.5 1.2-181.7 .6-18 1.3 5.1 .6-.4 2.4-15.2 .6-.7 1.8 4.5 .6-1.3 2.5-26.6 .6-2.9 .6 1.9 1.2 9.5 .6 .1 1.9-17.8 3.6-17.6 .6 .4 .6 2.3 2.5 14.6 3.6 45.1 .6 5 .7 1.9 .6-1.2 1.8-8.8 1.8-4.9 .6-.9 1.2 .5 .7-.4 1.2-2.4 1.8-2.2 1.8-7.1 .6-1 1.9 6.5 .6-.1 2.4-11.4 .6-1 .6 0 1.9 2.8 .6 .1 .6-.7 2.4-4.9 3.1-10.2 1.8-3.3 1.8-.5 4.9 1.5 3 0 1.9-1.8 4.2-8.1 1.9-2.1 1.8-.3 3.7 .3 5.4 2.5 1.9 .1 3-2.2 2.5-.5 1.2-.8 3.6-5.6 1.3-.9 1.2 .5 3.6 4 1.2 .4 2.5-.1 3.6 1 1.3-1.3 3-6 .6-.6 1.2-.3 .6 .8 .7 2.2 3.6 23.4 .6 2.4 .6 1 .6-2.1 2.5-22.8 .6-.6 .6 3 1.8 15.5 .6 2.5 .6 .2 1.3-1.5 1.8-5.1 3-10.7 1.3-2.5 .6-.3 .6 .4 1.2 2.7 4.3 19.9 1.2 3.1 .6 .5 .6-.4 .6-2.7 3.1-26.9 .6-.5 .6 .7 3.6 5.5 5.5 3.7 1.2 .1 3.1-1 2.4 .2 .6 .4 1.9 17.8 1.8 26.9 .6-.1 1.8-27.4 1.9-16.7 .6 .1 1.8 2.4 .6 .4 1.2 .1 1.2-.7 1.3-1.2 3-4.1 1.2-.5 1.2 .9 4.3 6.2 1.2 .7 3.1-.1 1.2 .4 6.7 7.7 2.4 1.5 1.3-.1 1.2-.9 4.8-8.5 1.3-.6 1.2 .2 1.2 .7 1.2 2.1 4.9 15.2 1.2 2 1.2 .6 .6-.3 1.3-2 5.5-16 2.4-5.3 .6-.5 .6 .4 .6 1.3 4.3 18.8 1.2 3.1 .6 .3 .6-.5 1.2-2.5 4.9-16.2 1.2-1.9 .6-.4 .7 .2 1.8 3.6 3.6 13.1 1.3 2.8 .6 .6 1.8 .3 3 2.1 .7-.1 1.8-1.7 1.2-.1 .6 .5 .6 2 1.2 8.4 3.1 30.8 1.2 7.7 .6 1.6 .6-.5 1.2-5.4 5.5-44.9 1.2-4.8 .7-.5 .6 3.3 .6 7.5 3 61.4 1.2 13.6 .7-3.3 1.8-64.4 .6-11.1 .6 3.5 1.2 32 3.7 168.6 1.2 32.9 .6 4.2 .6-4.5 1.2-28.3 3.1-115.8 1.2-34.2 .6-8.9 .6-1.3 .6 12.9 2.5 121.2 .6 21.7 .6 7.7 .6-6 .6-15 3-123.9 1.3-27.7 .6 1.4 2.4 78.7 .6-.1 .6-2.4 3.7-25.2 .6-2 .6-.4 .6 .7 1.8 6.1 1.9 10.3 4.2 34.2 2.5 31.5 4.9 98.1 3 42.1 .6 4.2 6.1 0 1.8-10.5 .6-.5 1.9 11 15.2 0 .6-2 1.8-17.7 .7-2.1 .6-.3 .6 1.1 1.2 5.5 1.8 13.3 .6 2.2 1.9 0 1.8-14.2 2.4-26.9 .6-4.2 .6-1.8 .7 .6 .6 3.8 3.6 42.7 5.5 0 3.7-34.6 2.4-43.1 .6-7.5 .6-2.9 .6 2.3 .6 8.2 3.7 74 .6 3.6 4.3 0 4.2-131.5 1.9-30.1 .6-2.1 .6 2.6 2.4 26.7 .6 2.5 .6-1.1 1.3-9.8 2.4-27.2 1.8-12.7 2.5-6.8 .6-.8 .6 .6 2.4 13.8 .6 1.7 .6-1.1 3.1-23.6 .6-1.9 .6-.8 .6 .1 1.2 2.7 .6 .2 3.1-14.1 .6-.5 1.2 .6 .6-.7 .6-2.6 3.1-36.7 .6-2.7 .6 2.5 .6 7 2.5 39.2"/>
<path stroke="#ea8b70" d="M197 -1201.6l1.9 1389.4 1.2 454.9 1.2 190.2 .6 29.4 .6 4.2 1.2-14.4 1.3 3.8 .6-.8 3.6-41.1 1.3-7.6 .6 0 .6 3.1 1.8 16.7 1.8 9.1 1.9 12.7 .6 2.7 .6 1.1 1.2 1.1 1.8 5.4 .6 14.9 1.3 161.5 .6 37.3 1.2-170.6 .6-39.5 .6-11.2 1.2-9 1.2-4.4 .6-.1 2.5 10.6 .6-.8 1.2-4.5 .6-.2 .6 2.7 .6 14.1 1.9 208.4 1.2-164.7 .6-39.3 .6-3.2 .6 4.4 .6 9.9 .6 42.8 1.3 164.1 1.2-165.4 .6-56.4 .6-15.6 1.2-10.7 .6-2.4 .6 1 2.5 18.9 .6 1.3 1.8-1.4 .6 2.5 .6 19.5 1.2 120.9 .7-18.2 1.2-139.7 .6-20.2 1.2-10.1 2.4-9.1 .6 1.2 .7 4.9 1.2 14.3 .6 3.4 .6-.6 1.8-9.5 3.7-8.8 1.8-9.1 .6 .1 1.8 13.5 .7 1.4 1.2-2.5 .6 1.1 3.6 34.5 .7 35.2 1.2 193.1 .6-21.5 1.2-188.7 .6-25.8 .6-6.7 .6-1.1 .6 2.6 3.7 41.6 .6 .5 .6-2.9 .6 1.3 1.2 46.5 .6-4.9 1.3-70.5 .6-13.4 2.4-29.1 .6-4.1 .6-1.4 .6 1.5 .7 3.8 2.4 19 .6 2.1 .6 .3 .6 3.1 1.8 88.2 1.3-83 .6-18.8 .6-2.5 .6-.5 1.2-2.7 .6 1.9 .6 6.2 1.9 27 .6 2.4 .6-2.5 1.2-9.7 .6-3 .6-.9 .6 .7 3.1 10.1 .6 .2 1.8-5.5 .6 .6 1.9 9.1 .6 0 2.4-17.5 1.2-3.3 1.8-2 2.5-.4 1.8-1.6 4.3-8.6 2.4-2.7 1.2-.3 .6 .3 3.7 3.9 .6 .1 1.2-.6 1.9-3.2 4.8-14.3 1.9-3.1 .6-.2 1.2 .6 5.5 6.5 1.2 .7 .6-.1 8.5-4.9 3.1-3.3 1.2-.8 1.2 .6 3.1 3.8 1.2 .3 1.2-.6 1.2-1.4 3.1-5.5 1.8-2.2 1.2-.3 4.3 1.5 3 2.3 .6 1 1.3 5 3 17.3 1.2 3.3 .6-1.8 2.5-20.2 .6-.2 .6 3 1.8 14.6 .6 1.8 .6-.6 1.3-3.7 3.6-18 1.2-2.9 .6-.2 1.3 1.8 1.2 3.6 3 10.2 3.1 12.3 1.2 3.4 .6-1 .6-3.5 1.8-15.9 .7-3.5 .6-.8 1.8 1.5 3 5.5 1.3 1.6 1.2 .5 2.4-.6 2.5 .7 2.4 0 1.2 .6 .6 .7 .6 1.4 .6 5.4 3.1 46.8 .6 .4 1.8-28.8 1.9-22.4 2.4-7.4 1.8-2.8 1.2 .2 3.1 2.8 3.6 .7 1.3 .8 3.6 6.3 6.1 5.5 1.2 .4 3.1-.4 3.6 2.4 1.3-.2 2.4-1.9 1.2 .2 3.7 4.7 3 1.2 3.7 5.1 1.2 .9 1.2 .4 2.4-.4 1.9-1.8 1.8-3.8 4.3-11.9 1.2-1.7 .6-.2 .6 .7 1.2 3.7 3.1 13.2 1.2 3 .6 .5 1.2-1.3 1.2-3.4 4.9-21.7 1.2-3.2 .6-.6 .7 .2 1.2 2.9 3.6 18.3 1.9 5.7 .6 .3 .6-.5 3-6.4 .6-.5 .6 .6 .7 2 1.2 7.4 3.6 36.9 .6 3.4 .6 1.4 .7-.3 1.2-5.4 4.9-44.9 1.2-5.2 .6 .6 1.2 14.2 3 59.2 .7 6.5 .6 1.3 2.4-74.5 .6-1.3 .6 9.6 1.2 41 3.7 168.9 1.2 23.8 .6-1.5 1.2-24 3.7-135 1.2-29.2 .6-5.6 .6 5.5 3.1 139.1 .6 14 .6-1.1 .6-11.5 3.7-139.2 .6-12.7 .6-3.5 .6 11.6 1.8 67.6 .6 4.2 .6-1.7 3.7-25.9 .6-2.8 .6-1.2 .6 .3 .6 1.2 1.3 4.7 2.4 15.1 3 23.3 1.9 22.1 6.1 104.9 3 24.5 2.5 28.9 .6 1.8 23.7 0 3.1-47.6 1.2-11.6 .6 0 .6 5.3 2.5 53.9 4.8 0 .6-2.2 1.3-10.7 1.8-11 3.6-40.6 .7-5 .6-1.5 .6 3.3 .6 8 2.4 59.7 5.5 0 1.8-17.9 .6-1.9 .7 1.3 .6 3.8 1.8 14.2 .6 .5 1.2 0 1.9-8.4 .6-1.1 .6 .8 1.2 8.5 4.9 .2 1.8-33.5 2.4-58.8 2.5-37.3 .6-5.1 .6-1.7 .6 1.9 2.4 27 .6 1.9 .7-2.2 1.8-21.4 3.6-64.1 1.9-15 .6-2.4 .6-.6 .6 1.3 2.4 14.5 .6 2.4 .7 .2 1.2-5.9 3-29.9 .6-1.2 .6 3 1.9 16.1 .6 3.4 .6 .5 .6-2.6 2.4-22.2 .6-2.4 .7-.3 1.8 4.2 .6 .1 1.2-1.3 .6 .8 2.5 18.4"/>
<path stroke="#f3b59c" d="M197 -1204.4l1.9 1362.1 1.2 455.1 1.2 208.7 .6 39 .6 9.3 1.2-22.1 3.7-52.5 .6-5.9 .6-1.8 .6 2.2 4.3 33.6 .6 1.2 1.8-.9 1.3 .2 .6 .9 .6 2 .6 9.6 .6 45 1.2 233.7 .6-26.9 1.2-212.8 .7-22.6 1.2-7 1.8-16.3 1.2-7.6 .6-.3 .6 2.8 2.5 35.4 .6 4.8 .6-.8 .6-3.8 .6 8 1.2 117.2 .6 5.4 1.3-136.5 .6-23.9 .6-6.2 .6-2.1 .6-.2 1.2 5 1.2 9.8 .6 14 .7 54.5 1.2 224.3 .6-1.7 1.2-228.4 .6-20.5 .6 1.1 1.2 5.3 .6-1.3 2.5-18.9 .6-1.1 .6 3.9 .6 23.3 1.2 86.7 1.9-146.6 .6-13.8 .6-5.3 .6-2.6 .6-1.3 .6-.1 .6 1.6 1.8 12 .7 1.8 .6-1.2 1.8-9.6 .6-.1 1.2 1.9 1.2-1.1 .7 .7 1.2 5.7 .6 .9 1.2-5 .6 10.9 1.2 115.1 .6 8.8 1.3-107.5 .6-14.9 .6 .1 .6 2.3 .6 .8 .6-2.4 1.8-18.6 .6-2.1 .7 2.7 .6 7.8 .6 20.6 1.2 122.4 .6 12.4 1.2-109.3 .6-17.9 .6-3.1 .6-.5 .7 .8 1.8 11.6 .6 2.5 .6-1 3-23.2 2.5-22.3 1.2-3.8 2.4-2.2 .7-2.3 1.8-17.2 .6-2.5 .6 2.2 1.8 15.2 .6 1.4 1.9-1.5 .6 .4 .6 2.4 1.2 12.7 2.4 34.8 .7 3.6 .6 .6 .6-2.2 2.4-23.6 .6-3.2 .6-1 .6 1 1.9 5.8 1.8 7.6 .6 1.2 .6-1 .6-3.3 2.5-16.9 1.8-5.6 3-7.4 .6-.1 1.9 4.5 .6 .9 .6 .1 1.2-1.4 3.7-7.3 .6-.3 .6 .2 1.8 1.9 1.2 .4 1.3-1.3 2.4-5.4 1.2-1.7 .6-.1 .6 .3 2.5 2 1.2-.5 1.8-3.3 3.1-8.9 1.2-2.3 1.2-1.1 1.2-.1 1.8 .7 1.3 1.5 3.6 6.9 1.2 1 1.3-.1 1.2-1 1.2-1.9 4.9-10.8 .6-.7 1.2-.7 1.8 .5 1.3 .9 3.6 5.4 1.2 .9 1.2-.8 3.1-5.4 1.8-1.8 4.3 .7 3 2 1.3 2.8 3.6 19.9 1.2 3.9 .6-1.6 2.5-20.8 .6-.7 .6 2.6 1.8 13.1 .6 1.7 .6-.6 1.3-2.8 4.2-15.4 1.2-1.9 .7 .2 1.8 4 4.9 17 1.2 2.7 .6 .6 .6 0 .6-2.3 3.1-25.2 .6-.7 .6 .5 1.2 1.7 3 6 1.3 1.2 .6 .1 .6-.3 1.2-1.8 6.1-12.3 1.2-1.2 .6-.1 .6 .8 .6 4.8 3.1 45.3 .6 .5 3-41.1 .7-4.5 .6-.7 4.2 2 1.2-.3 3.1-1.7 1.2 .3 3.1 2.1 4.2-.3 1.9 1.8 6.7 10 1.8 1.6 2.4 1 1.9 .1 1.8-.9 5.5-5.1 1.8-.5 1.2 .2 2.5 3.3 4.2 10.3 1.2 1.4 1.3-.5 1.2-2.1 5.5-15.6 1.8-2.9 .6-.5 .6 .3 .6 .9 1.2 3.4 3.7 16.9 .6 1.4 .6 .3 .6-.5 1.2-3 4.3-14.7 1.2-2.6 .6-.6 .6-.1 .7 .7 1.2 3.5 3.6 18.9 1.3 4.3 .6 1 .6 0 2.4-3.8 1.2-.8 1.9 1 .6 .7 .6 1.6 1.2 8.3 3.6 38.9 1.3 7.1 .6 .6 .6-1.4 1.2-7.6 4.3-38.2 1.2-6.6 .6-2 .6-.8 .6 2 .6 6.6 3.1 61.3 1.2 15.8 .6 .3 1.8-60.4 .6-14.9 .7 .2 .6 10.3 1.2 41.7 3 144 1.2 35.8 .7 6.2 .6-3 1.2-26.7 3-117 1.9-47 .6-3.5 .6 8.7 2.4 119.4 1.2 37.3 .6-2.5 .7-12.4 3.6-141.9 .6-12.6 .6-2.7 2.5 80.8 .6 3.4 .6-.9 .6-2.5 3-20.8 1.3-4.3 .6-.3 .6 .4 1.2 2.6 2.4 12.4 2.5 20.1 1.8 23 7.9 134.7 2.5 20.9 1.2 6.5 .6 1.5 1.2-.4 1.2-1.9 1.9 .8 .6-.7 1.8-5.8 .6-1.6 .6-.5 .6 .6 .6 1.9 1.3 7.2 .6 .4 14.6 0 .6-.9 2.4-12.2 .6-1.6 .7-.9 .6-.1 .6 .8 .6 2 1.8 11.4 .6 1.5 2.5 0 4.2-38.5 1.2-7.3 .7-1.2 .6 2 .6 5.3 2.4 39.7 22.6 0 3-107.8 1.2-32.4 .6-8.3 .6-2.8 .7 1.9 2.4 22.9 3 22 1.3 7 .6 .3 .6-3.5 .6-7.6 3.6-85.2 1.3-19.2 .6-3.4 .6 1.7 .6 6.3 2.4 40.7 .6 5.5 .7 1 1.2-10.2 2.4-41.4 .6-6.6 .6-2.9 .6 .9 .6 2.1 2.5 10.3 .6 1.7 .6 .1 1.2-6.1 3.1-27.8 1.2-6.4 .6-1 .6 .9 .6 2.6 2.5 17.8"/>
<path stroke="#f8d9c6" d="M197 -1208l1.9 1368.5 1.2 450.7 1.2 200 .6 36.6 .6 9 1.2-17.4 1.9-15 1.8-20.1 .6-4.1 .6-.4 1.2 10.3 2.5 33.7 .6 3.1 .6-.4 1.2-3.1 .6 .6 2.5 8.1 1.2 5.5 .6 9.7 .6 42.2 1.2 207.3 .6-39.2 1.3-214.5 .6-22.9 .6-2.3 1.8-.1 .6 2.2 1.8 14.2 .6 1 .7-2.5 2.4-21.5 .6-4.2 .6-1.7 .6 11.2 1.9 195.7 1.2-149 .6-34.8 .6-4.6 .6 3.4 .6 16.7 .6 65.2 1.2 200.1 1.9-237.8 .6-10.4 .6 .6 .6 3.2 1.2 10.2 .6 2.3 .6-2.4 3.1-40.4 1.2-8.6 .6-1.5 .6 1.8 .6 11.4 1.2 101.1 .7 14.1 1.2-142.2 .6-37.1 .6-10.4 .6 2.5 2.4 52.8 1.3 13.1 .6-.1 .6-4.3 2.4-31.4 .6-1.8 .6 2.6 .6 9.1 .7 31.6 1.2 188.7 .6-1 1.2-190.7 .6-29.9 .6-6.3 2.5-4.6 .6 .8 2.4 16.6 2.4 12.4 1.3 8.5 .6 8.6 .6 35.4 1.2 231.7 .6-5 1.2-246.5 .6-37.2 .6-6.7 .7-.2 1.2 1.6 .6-.4 1.2-3.2 1.2-4.8 .6 1.5 1.2 36.4 .7 .6 1.2-56.3 .6-14.1 .6-6.3 .6-2.4 .6 1 1.8 8.9 .7 .8 .6-1.6 1.8-13.7 .6-3 .6-1.4 .6 0 .6 1.3 2.5 11.7 1.8 5.8 .6 4.5 3.1 56.4 .6 7.4 .6 2.6 .6-2.1 1.8-15.5 .6-2.6 1.2-1.8 .6-1.9 1.9-9.4 .6 .2 1.8 10.8 .6 1.5 .6-1.2 1.9-13 1.2-5 .6 0 1.2 1.2 .6-.6 1.8-4.5 .7-.5 1.2-.1 1.8-2.2 2.4-1.7 3.7-6.7 1.2-1.3 1.8 0 4.9 3.2 1.2-.2 .6-.7 1.9-5.7 3.6-19.9 1.3-3.7 .6-.7 .6 .3 .6 .8 3.6 8.9 1.9 1.5 3 .5 1.8-1 3.7-5.6 1.2-.9 3.1 .5 3.6 .1 5.5 2.9 1.2 0 1.2-1.6 3.1-6.2 1.2-.6 3.1 1.2 1.2-.7 2.4-2.7 1.2-.3 .6 .9 .7 2.4 3 22.1 1.2 6 .6 1 .6-2.2 2.5-22.9 .6-.7 .6 2.7 1.8 13.3 .6 1.4 1.3-2.5 4.8-15.8 1.2-2.3 .7-.3 .6 .5 1.2 2.7 4.9 20.1 1.2 2.8 .6 .6 .6 .1 1.2-6.8 2.5-21.1 .6-1 1.2 .2 1.8 1.9 3.7 8.6 1.8 2.5 .6 .2 1.2-.2 4.3-4.2 1.2 0 1.2 1.6 1.9 21.3 1.8 28.9 .6-.2 1.8-30.1 1.9-22.2 .6-1.9 1.2-1.3 .6-.4 1.2 .2 3.7 2.7 1.2-.2 3-2 1.9 .5 1.8 2.2 5.5 8.1 4.2 7.9 1.3 1.4 1.2 .6 1.8-.5 1.2-1.2 4.9-8.4 1.8-.9 2.5 .6 3 2.8 4.9 10.1 1.8 2.4 1.2-.4 1.3-1.8 3.6-7.6 3.7-9.9 1.2-1.6 .6 .1 1.2 3.2 3.7 18 1.2 3.2 .6 .5 1.2-1.6 1.2-3.7 5.5-22.8 1.2-2.1 .7 .3 1.8 5.5 3.6 16.8 1.9 4.9 .6 .5 1.2-.2 3-4.5 1.3-.5 .6 .3 .6 1.1 1.2 3.2 1.8 12.3 3.7 37.1 .6 3.5 .6 1.6 .6-.7 1.2-6.9 4.9-46.8 1.2-5.8 .6-1.1 .6 .5 1.3 13 3 65.3 1.2 13.6 .6-3.4 1.9-64 .6-10.9 .6 3.9 1.2 32.8 3.7 166.5 1.2 30.7 .6 3.1 .6-5.4 .6-12.1 4.3-154.3 1.2-24.5 .6-1.4 .6 13 3.1 145.7 .6 8 .6-5.9 1.2-36.6 2.4-102.9 1.3-27.9 .6 1.4 2.4 79.4 .6 .4 .6-1.9 3.7-23.4 .6-2 .6-.3 .6 .7 1.2 3.2 1.9 8.5 3 24 1.8 22.1 3.7 59 3 32.8 3.7 68.9 .6 5.4 5.5 0 1.8-11.6 .6-.5 1.9 4.5 .6 .4 1.2-2.3 2.4-8.1 .6-1.4 .6-.4 .7 .8 .6 2.3 1.8 9.2 .6 .4 .6-2.2 1.8-19.3 1.3-8.9 .6-.8 1.2 2.2 .6-.1 .6-2.3 1.8-13.3 .6-.3 1.3 15 1.8 36.7 4.9 0 .6-1.9 .6-10.4 3-78.3 .6-10.5 .6-1.4 .7 2.6 .6 6.9 4.2 77.7 1.3 15.3 5.4 0 .6-2.6 3.1-56 .6-4 .6-.1 1.2 10 3.1 52.4 .6 .3 3.6 0 .7-1.7 1.8-48.3 1.8-37.8 3.1-42.6 1.2-11.1 .6-.7 .6 2.6 2.4 24.1 .6 3 .7 .4 1.2-5.1 2.4-18.7 2.4-11.9 3.7-31.9 1.2-5 1.2-2.6 .7-2.3 3-19 .6-1.3 .6-.3 1.2 1.8 .6-.1 2.5-10.2 .6-1.8 .6-.7 .6 .4 2.5 4.8 2.4 2.6 .6 0 .6-1.7 .6-3.5 2.5-22.1"/>
<path stroke="#f5ede8" d="M197 -1190.2l1.9 1381.6 1.2 444 1.2 192.4 .6 35.2 .6 10.9 2.5-14 1.2-11.2 .6-2.9 1.2-2.2 .6-3 1.9-16 .6-4.1 .6-1.7 .6 1 1.2 8.9 1.8 24.1 1.2 10.3 .7 1.2 .6-.1 1.8-3.1 .6-.4 .6 .6 1.2 5.6 1.9 15.6 .6 1.8 .6-2.4 2.4-27.6 .6-2.3 1.2-1.8 1.9-7.9 .6 .9 .6 14.3 .6 62.1 1.2 209.6 .6-50.7 1.3-207.6 .6-18.4 .6-3 .6 0 1.8 4.8 .6 .3 1.2-1.4 .6-.3 .7 .8 3 15.8 1.2 3.4 .6 0 1.2-3.2 1.3-6.4 2.4-20.4 .6 5 1.2 80.9 .6 1.6 1.3-99.4 .6-15.9 .6-1.4 1.2 4.2 .6 .9 1.8-2.5 1.9 3.1 .6-.8 3.6-26.4 .6 .1 .7 3.2 1.8 15.5 .6 2.5 .6 .6 2.4-1.2 2.5-9.3 .6 .5 1.8 14.3 1.2 5.9 1.3 1.5 1.8 5.4 .6-.7 1.2-4.1 .6 .3 .6 5.2 .6 22.6 1.3 169.5 .6 31.7 .6-52.5 1.2-45.9 1.2-106.1 .6-24.2 .6-8.1 3.7-33.3 .6-4.3 .6-1.3 1.2 7.7 .6 9.1 1.9 75.1 1.2-68.9 .6-18 .6-3 .6 .2 1.2-.3 .6 .6 1.3 5.9 3 20.8 .6 1.6 .6 .4 1.2 0 2.5 6.5 .6-.7 .6-2.5 1.8-16.1 .6-3.5 .6-.2 2.5 17.9 3.6 19.1 .7 2 .6 .9 .6-.9 .6-2.7 1.2-8.1 1.2-5 .6-.4 1.9 3.1 .6 .6 .6-.1 7.3-9.3 7.3-6.3 2.4-2.8 1.3-2.1 4.2-10.7 1.2-2.3 1.3-1.4 1.2-.1 1.2 1.2 3 5.5 2.5 3.4 1.2 .7 1.2 0 3.7-2.1 1.8-1.6 1.2-2.2 3.7-9.7 1.8-2.2 1.8 0 3.7 3 1.2 .6 1.2 .1 3.1-1 3.6-3.7 1.3-.6 1.2 .2 1.8 2.2 2.4 5.8 3.7 19.1 1.2 3.6 .6 .1 .6-2.7 2.5-22.4 .6-.3 .6 3.1 1.8 14 .6 1.5 1.3-2.7 4.2-14.9 1.2-2.6 .6-.7 .7-.1 1.2 1.4 1.2 3.3 4.9 21.9 1.2 2.4 .6 0 1.2-7.2 1.8-18.1 .7-3.6 .6-.9 1.8 1.8 4.3 9.3 1.2 1.7 1.2 .5 1.2-.1 4.9-1.8 1.2 .3 1.2 1.7 1.9 20.3 1.8 28.8 .6 .4 1.8-26.7 1.9-19.8 .6-1.6 1.8-2.4 1.2-.4 .6 .3 3.1 3.4 1.2 .4 1.8-1.3 3.1-4.2 .6-.3 1.2 .4 1.8 2.7 3.7 8.5 1.8 3.1 2.4 2.7 2.5 1.3 1.8-.1 3.7-1.4 3 .7 1.2-.3 1.2-1.3 3.1-5 .6-.3 .6 .3 1.2 2.4 3.1 9.1 1.2 2 .6 .4 1.2-.8 2.5-4.9 1.2-1.7 2.4-2.1 3.1-3.8 1.2-.6 .6 .2 .6 .7 1.2 3.3 3.7 16.7 1.2 2.6 .6-.5 1.2-3.6 5.5-28.9 1.2-3.5 .6-.8 .7 .2 .6 1 1.2 4.4 3 15.1 1.9 5.2 .6 .6 .6-.1 2.4-2.3 1.2-.3 2.5 .8 .6 .8 .6 1.8 1.2 7.4 3.1 27.4 1.2 7.4 .6 1.7 .6-.1 1.2-4.5 4.9-42.1 1.2-7.1 .6-1.8 .6-.6 .6 2.5 .6 7 3.1 62.9 1.2 16.6 .6 .7 .6-13.5 1.9-58.7 .6 1.1 .6 10.7 1.2 41.3 3 140.4 1.3 35.9 .6 6.6 .6-2.5 1.2-25.7 3.7-138.6 1.2-27.6 .6-3.9 .6 8.5 2.4 118 1.3 35.8 .6-3.1 .6-12.7 3.6-138.7 .6-11.6 .6-1.7 2.5 80.9 .6 2.5 .6-2 3.7-26 .6-2.4 .6-.8 .6 .3 1.2 2.2 1.8 6.9 3.7 25.2 2.4 29.7 6.1 99.6 3.7 49.8 1.2 11 6.7 0 .6-1.3 2.5-55.5 .6-6.4 .6-.5 1.2 12.3 3 51.4 9.8 0 .6-1.6 1.8-17.5 .6-3.8 .6-1.5 .7 .8 .6 2.8 2.4 16 1.2 2.8 .6 .8 .6 .2 .7-1.5 .6-3.6 2.4-19.4 .6-2.1 .6-.4 1.2 3.3 1.3 5.6 3 19.1 7.9 0 1.9-11.7 1.8-6.3 1.2-7.9 2.4-36.3 .7-3.3 .6 2.7 .6 8.6 2.4 54.2 2.4 0 1.3-18.2 3-67.8 1.8-26.4 1.9-12.8 .6-2.3 2.4-3.4 1.2-3.1 1.9-11.2 1.8-17.1 3-45.9 1.3-13.3 .6-2.5 .6 .8 .6 4.1 2.4 31.3 1.2 8.6 .7-.5 .6-3.2 3.6-36.6 2.5-12.2 .6-1.8 .6-.2 1.8 7.5 .6 1.4 .6-1 2.5-19.9 .6-2.7 .6-.7 .6 .8 4.3 10"/>
<path stroke="#e8eff4" d="M197 -1189.6l1.9 1374.2 1.2 436 1.2 185.3 .6 30.8 .6 4.7 1.2-21.3 1.3-9.6 1.8-19.7 .6 .1 1.8 26.5 .6 7 .7 3.1 .6 .2 1.2-1.4 .6 0 1.2 1.7 2.4 10.6 .7 1 1.2 .4 .6 2.2 1.2 12.2 .6 29.1 1.2 197.1 .6 5.3 1.3-193.3 .6-21.8 1.2 8.6 .6-.3 3.7-37.7 1.2-6.8 1.2-2.8 .6 .2 .6 12.4 1.8 194.7 1.3-153.1 .6-33.4 .6-3.1 3.6 15.8 .6-1.1 1.3-5.7 .6 1.3 1.8 18.3 .6 1.1 .6-3.7 1.8-20.5 .7-2 .6 1.8 1.2 10.6 .6 28.6 1.2 130 1.8-175.8 .7-10.3 .6-.8 .6-1.8 1.8-8.1 .6 .4 .6 2.7 1.2 8.9 .6 1.9 .7-2.2 2.4-35.6 1.2-9.2 .6-1.7 .6-.3 .6 1.7 .7 4.8 1.8 25.4 .6 5.6 .6 2.3 .6-.4 1.8-6.5 2.5-6.6 .6 .9 .6 3.7 2.4 21.4 .6 1.9 .7 .9 .6 .2 .6-.9 1.2-4.1 .6-.4 .6 6.5 .6 32.9 1.2 178.6 .6-9.9 1.3-155.1 .6-20.1 3.6-41.5 .6 .4 1.3 50 .6 5.4 1.2-76.6 .6-18.7 .6-5.7 .6-.3 1.2 3.5 .6-.2 1.9-9.7 .6 3.9 1.8 95.6 1.2-70.9 .6-13 1.9 9.7 3 7.5 .6 2.9 3.1 32.4 .6 2.4 .6-.5 1.2-5.4 .6-1.2 .6 1.7 1.9 14.9 .6 1.9 .6-1.9 2.4-24.4 .6-1.6 1.9 1.7 .6-.3 1.2-2.5 1.2-4.8 1.8-11.3 .6-2.1 .6-.1 1.9 4.4 .6 .8 1.2 .1 1.2-1.5 3.1-8.3 1.2-2.2 1.2-.7 2.4-.6 3.7-4 1.2-.3 1.8 .7 1.3-.8 1.8-4.6 3-11.6 1.3-2.2 .6-.3 1.2 .8 3.6 5.9 1.3 .6 3-.7 2.5 1.8 1.2 .4 1.2-1 3-4.4 2.5-2.7 1.2-1.1 1.2-.5 1.2 .4 3.1 3.5 2.4 1.9 1.2 .5 1.9-.5 1.8-2 4.3-8.3 1.2-1 .6 0 1.8 1.8 1.8 4 3.7 21 1.2 4 .6 .3 .6-2.5 2.5-22.5 .6-.6 .6 2.8 1.8 14 .6 1.8 .6-.6 1.3-2.9 4.8-15.6 .6-1 .7-.4 .6 .2 .6 .7 1.2 3 4.3 20.3 1.2 3.4 .6 .5 .6-.3 .6-2.6 3.1-26 .6-.9 3 1 1.8 2.1 2.5 4.6 1.2 1.1 .6 0 1.2-1.4 3.7-8.9 1.2-1.5 1.2 0 .6 1 .6 4.9 3.1 43.7 .6-.1 1.8-28.7 1.9-19.5 .6-.9 1.8 .1 1.2-.5 4.3-4.8 1.2-.2 1.2 .7 4.9 5.1 4.9 3.4 3 3 4.3 5.6 3 2.6 1.9 .2 1.8-1 1.8-1.8 3.7-4.5 2.4-1.2 1.8 1 2.5 2.8 3.6 6.8 1.2 1.3 .7-.1 1.2-1.8 4.2-12.6 1.3-2 1.2-.9 .6-.1 .6 .4 1.2 2.8 4.3 19.6 1.2 3.5 .6 .5 .6-.4 1.2-3 4.9-27.7 1.2-3.3 .6-.1 .7 1 1.2 5.4 3.6 24.2 1.9 8.1 1.2 2.4 1.2 .6 1.2-.6 1.8-2.5 .7-.3 .6 1 .6 2.7 1.2 10.5 3 34.6 1.3 7.2 .6 .5 .6-1.3 .6-2.9 1.2-9.9 3.7-40 1.2-7.9 .6-1.7 .6 .6 1.2 14.8 3.1 61.2 .6 6.8 .6 2.1 .6-10.5 1.8-63 .6-2.8 1.3 25.7 3.6 170 1.2 40.7 .6 9.5 .6 .2 1.3-21.8 3.6-138.6 1.2-32.3 .7-7 .6 3.4 3 140.8 .6 16.6 .6 1.6 1.2-26.4 3.1-120.7 .6-14.7 .6-5.9 .6 8.4 1.8 65.1 .7 5.2 1.2-5.2 3-19.6 .6-1.8 .6-.3 1.9 4.4 1.8 7.6 4.3 25.3 1.8 21.4 2.4 37.3 4.9 85 3.1 42.3 .6 1.4 7.3 0 .6-.7 2.4-29.5 1.2-10.1 .7-2.1 .6 1.2 .6 4.9 2.4 36.3 4.3 0 1.2-.4 1.2 .4 2.5 0 .6-1 1.2-6.3 3-24.3 .6-3.5 .6-1.3 .7 1.1 .6 4.1 1.8 28.4 .6 2.8 4.9 0 3-29.8 1.2-6.3 .7-.4 .6 2.7 .6 5.9 1.8 27.9 17.1 0 1.2-9.5 .6-1.1 1.8 10.6 1.9 0 .6-4 .6-14.3 3.6-120.9 1.2-23.5 .7-5.3 .6-1.3 .6 2.5 3 38.5 .6 4.8 .6 .7 1.3-8.4 1.8-20 4.3-66.5 .6-6.1 .6-2.7 .6 1.8 .6 6 1.8 27.8 .6 5.7 .6 1.3 .7-3.2 2.4-27.4 1.2-7.6 .6-1.3 .6 .5 1.9 6.1 .6 .8 .6 .1 2.4-.5 .6-.5 .6-1.2 1.9-7 .6-1.1 .6 .6 2.4 9.2 .6 .2 .6-.8 1.3-3.7"/>
<path stroke="#cfe3ee" d="M197 -1187.3l1.3 1030.6 1.2 619.3 1.2 316.8 .6 75.5 .6 34.2 .6 4.2 1.9-40.4 1.8-29.1 1.2-11.4 .6-.9 1.2 3.3 3.7 17 .6-.4 1.8-8.4 .6 .1 1.3 3.8 .6 .9 1.2-.6 .6 1.9 3 34.2 .7 2.2 1.2 1.8 1.8 8.8 .6-1.6 2.4-22.9 3.7-14.3 .6 14.2 1.2 145.1 .6 15.3 1.3-143.3 .6-21.7 .6-2 1.2 1.5 .6 2.2 1.8 12.4 .6 1.9 .7-.5 1.2-3.7 .6-.6 .6 1.6 2.4 23.2 .6 1.1 .6-3.8 1.9-26.7 .6 13 1.2 99.5 1.8-128.5 .6-5.9 .7-.8 1.8-12 .6-1.9 1.2-1.1 .6-2.6 2.5-32.6 .6-2.2 .6 3.7 1.8 19.9 .6 1.4 1.2-2.9 .6-.3 .7 1.8 2.4 20.6 .6 3.6 .6 1.5 1.2 .7 1.9 2.6 1.8 1 .6-.1 .6-1.3 1.8-8.6 .6-.4 1.3 3.7 .6 .8 .6-1.5 .6 .3 .6 23.9 1.2 214.6 .6 13.6 1.2-221.2 .7-36.1 .6-6 .6 .8 .6 3.1 2.4 26.9 .6 5.3 .6 2.2 .6-.7 1.3-3.3 1.2-.2 .6-.6 1.2-6.4 .6-7.8 1.9-37.1 .6-3.4 .6 15.8 1.2 98.3 .6-6.4 1.2-99.1 .6-15.8 .6-2.8 1.9 2 .6 1.5 .6 4.9 2.4 37 1.2 13.5 .7 3.3 .6 .1 2.4-13.2 1.2-2.9 .6 1.2 1.9 18.6 .6 4.6 .6 1.6 1.8-2.2 1.2-.2 .6-1.2 .6-3.2 1.9-16.8 1.2-6.3 1.2-1.6 .6-.4 .6 .2 .6 1.1 2.5 8.8 .6 .7 .6-.1 .6-.9 1.2-3.3 3.1-11.1 1.8-3.7 1.2-1.1 1.8-.8 1.9-.1 3.6 1.1 1.2-1.1 1.9-5.3 4.2-16.8 1.3-3.1 1.8-1.9 .6-.1 1.2 .6 3.7 3.7 1.8 .8 1.2-.4 2.5-2.1 1.8-1 5.5-.2 7.9 .5 1.2-.3 1.2-1.1 3.1-4.4 1.8-1.9 1.2-.5 2.5 .2 3 2.5 1.8 .9 .7 1.4 3.6 16.5 1.2 3.3 .6-1.5 2.5-19.6 .6 0 .6 3.2 1.8 15 .6 1.9 .6-.7 1.3-3.7 3.6-15 1.2-3.1 .6-.9 .7-.2 1.2 1.5 1.2 3.6 4.3 21.5 1.2 4.2 .6 1.1 .6 .4 .6-2.2 .6-4.7 1.8-18.8 .7-4.2 .6-1.4 .6-.1 1.2 .7 4.9 7.9 1.8 2 1.2 .7 .6 .1 1.2-.6 3.1-3.2 1.2 0 1.2 1.7 .6 5 3.1 42.3 .6-.5 3-46.1 .7-5.4 .6-1.4 .6-.4 1.8-.6 1.8 .4 3.7 3.9 1.8 .9 1.8-.6 3.1-2.6 1.2 .2 1.8 2.8 3.1 7.2 1.2 2 1.2 1.2 1.2 .6 1.9 0 4.8-3.4 1.9 0 4.8 3.9 1.9 .9 1.8 .4 1.2 .8 1.2 1.7 3.1 6 1.2 1.6 .6 .3 1.2-.6 1.3-2.3 7.3-20.9 1.2-1.7 .6 .2 .6 1.3 1.2 5.1 3.1 16.8 1.2 4.4 .6 1 .6 0 1.2-2.1 4.9-19.6 1.2-2.7 .6-.3 .6 .7 .7 1.6 3 14.1 1.8 5.6 .6 .9 1.3 .6 1.8-1.9 1.2-.4 3.7 1.9 .6 1 1.8 12 3 30.3 1.3 6.6 .6 .5 .6-1.3 1.2-7 4.9-43.6 1.2-5.5 .6-1 .6 2 .6 6.6 3.1 61.8 1.2 16.2 .6 .3 .6-14.1 1.8-60.9 .7 .6 .6 10.4 1.2 41.4 3 141.9 1.2 35.9 .7 6.6 .6-2.4 1.2-24.7 3.6-132.3 1.3-27.1 .6-4 .6 8.3 2.4 118.7 1.2 36.8 .6-3 .7-12.9 3.6-143.9 .6-12.2 .6-2.1 2.5 82.1 .6 3.3 .6-1 .6-2.7 3-24.9 1.3-6 .6-.7 .6 .2 .6 1.2 2.4 11.8 2.5 17.5 1.2 12.4 8.5 134.6 .6 5.9 4.3 28.1 2.4 13.9 .6 1.4 4.3 0 .6-1.2 2.5-24.7 .6-4.5 .6-2.7 .6-.7 .6 .8 .6 1.9 1.2 5.6 3.7 25.3 3 .2 .6-6.2 2.5-46.3 .6-6.2 .6-2.6 .6 .6 1.2 8.9 3.7 51.8 5.5 0 .6-2.3 .6-14.1 3-91.9 .6-10.3 .6-3.1 .7 4.2 .6 12 2.4 79.3 1.2 26.2 2.5 0 1.2-5.7 .6-.6 1.2 .7 .6-.4 .6-1 1.9-5.4 2.4-11.1 .6-1.4 .6-.1 1.2 3.8 2.5 15.7 1.2 5.5 5.5 0 2.4-56.9 4.3-59 1.2-10.1 .6-2.2 .6-.3 2.5 7.4 .6 .3 .6-1.6 1.2-12.1 2.4-47.9 1.2-12.1 .7-.9 .6 .8 1.8 2.9 .6 2.1 2.4 19 .7 2.1 .6-.6 1.2-8.9 3-44.8 1.2-7.4 1.3-4.4 .6-.8 .6 .7 2.4 8.3 .6 0 1.9-2.7 .6 .4 1.2 4.8 1.2 7.3 .6 2.6 .6 .8 .6-.8 1.3-4.9"/>
<path stroke="#a7d1e5" d="M197 -1194.5l1.9 1392.6 1.2 454.1 1.2 191.9 .6 28.4 .6-.1 1.2-33 .7-8.4 3.6-21.1 .6-1.5 .6 .7 1.9 6.1 2.4 21.2 .6 2.8 .6 .5 1.8-3.3 .7 1.6 2.4 24.3 .6 13 .6 49.3 1.2 171 1.3-187.2 .6-58.2 .6-10.3 1.8 17 .6 3.8 .6 .3 1.8-8.5 .7-.6 .6-.1 .6-1 2.4-16.2 1.2-5.5 .6-1.4 .7-.5 .6 .5 1.2 2.3 1.2 3.5 4.3 24.7 .6 2.9 .6 0 1.8-13.1 .6-1.7 1.8 3.6 .7-.6 1.2-4.8 1.8-11.2 .6-1.7 .6-.1 .6 .8 2.5 3.9 .6-1.1 1.8-12.3 .6-1.1 1.8 3.3 1.9 13.4 .6 2.4 .6-2.5 2.4-37.3 .6-3.3 .7 2.7 1.8 25.5 .6 5 .6 1.6 1.8-2.8 1.2-1 1.9-4.1 .6 0 1.8 9.1 .6 1.9 .6 .2 1.3-2.6 2.4-8.6 .6-.5 1.8 5.5 .6 .7 .6-.4 .7 .3 .6 1.9 1.2 9.4 1.8 68.5 1.2-62.4 .6-15 .6-1.2 .7 .8 .6-1.4 3-29.6 2.5-13.3 1.2-4 .6 .2 1.2 3 3 12.4 .7-.4 1.2-4.8 .6-.5 .6 2.6 2.4 19.6 2.5 25.4 1.2 7.3 .6 1.1 .6-.7 2.4-18.1 .7-2.6 .6 .9 .6 4.1 1.8 18.4 .6 3.5 .6 .9 1.2-3.7 1.9-10.1 3-26.7 .6-3.6 .6-1.2 .6 1.1 1.9 6.2 .6 .5 .6-.3 1.2-1.5 3.1-7.5 1.2-1.6 1.2-.6 1.8-.2 3.7 1.2 1.2 .1 1.8-1.2 1.9-3.2 5.4-13.5 1.9-2.6 3-.7 2.5-1.7 1.2-.2 1.8 1.4 3.7 4.5 1.2 .8 1.2 .1 1.8-1.7 3.1-6.5 1.8-2.6 1.2-.5 1.2 .4 3.7 4.3 1.2 .6 .6-.3 1.2-1.7 3.1-6.8 1.8-1.5 2.5 .6 1.8 1.2 3 3.9 .6 1.5 3.7 21.4 1.2 4.8 .6 .7 .6-2.2 2.5-22.4 .6-.6 .6 2.7 1.8 14.2 .6 2 .6-.3 1.9-4.5 3-14.9 1.2-4.4 .6-1.1 .7-.1 1.2 2 4.9 20.3 1.8 5.1 1.2 1.4 .6-1.7 .6-4 1.8-15.9 .7-3.1 .6-.5 1.2 1.3 1.8 3.2 3.7 9.5 1.8 3.2 .6 .4 1.2-.3 6.1-6.4 .6-.2 .6 3.6 1.3 13.5 1.8 27.8 .6 .4 1.8-26.6 1.9-17.5 .6-.1 3 4.7 1.2 .9 .6 0 1.3-.9 4.2-5.5 1.2-.3 .7 .2 1.2 1.4 4.2 8.2 2.5 3.3 1.8 1.5 3.7 1.1 3 2.9 1.2 .6 1.2-.5 3.1-4.9 1.8-1.8 2.5-.4 3.6 .4 2.5 3 3.6 7.6 1.2 1.9 .6 .3 1.3-.6 1.2-2 4.9-11.1 1.8-2.3 1.2-.5 .6 .6 1.2 2.8 3.1 10.9 1.2 2.2 .6 .1 1.2-2.1 1.2-3.7 4.9-19.2 1.2-2.7 .6-.6 .7 .2 1.2 2.5 1.2 4.9 3 18.4 1.3 5.2 .6 1.3 .6 .4 3.6-1.1 1.9-1.8 .6 .2 .6 1.9 1.2 7.9 3 28.6 1.3 6 .6 .1 .6-1.8 1.2-8.1 4.3-43.8 1.2-7.1 .6-1.4 .6 .2 1.2 12.9 3.1 68.1 1.2 15.1 .6-2.6 1.8-64 .6-11.6 .7 3.1 1.8 56.3 3 142.6 1.2 32.6 .7 4 .6-5 1.2-29.7 3-119 1.3-35.2 .6-9.4 .6-1.8 .6 12.3 2.4 122.7 .6 22.8 .6 9.1 .6-5 .7-14.1 3.6-141.6 .6-10.4 .6 .7 2.5 77.9 .6 0 .6-2.3 3.6-23.2 .7-1.5 .6 0 1.2 2.6 1.8 7.3 2.4 12.9 1.9 12.3 1.8 23 4.9 86.6 5.5 78.9 9.7 0 .6-3.1 1.9-24.2 .6-4.8 .6-2 .6 .6 .6 3.2 3 30.3 21.4 0 3.6-90.3 .6-8.9 .6-2.6 .7 3.9 .6 10.8 3 83.7 .6 3.4 5.5 0 .6-.4 1.8-20.5 .7-1.5 .6 .9 1.8 6.5 .6-.3 1.8-8.8 .6-.6 1.3 7.7 1.2 16.1 .6 .9 4.3 0 .6-4 4.2-92.2 3.1-52.8 .6-2.3 .6 1.9 2.4 18.8 .6 1.5 1.9 1.6 .6 .2 .6-1 1.2-7.5 2.4-22.7 1.9-13.5 .6-2.6 .6-1.1 .6 .3 1.8 3.1 .6-.7 .7-3.1 1.2-12.7 1.8-26.5 1.2-9 .6 .2 .6 2.2 .6 .9 .7-1.6 2.4-15.4 .6-1.4 .6-.6 1.2-.1 1.3 1.2 2.4 7.6 .6 .9 .6 .1 .6-.4 2.5-3.1"/>
<path stroke="#7db5d6" d="M197 -1219.3l1.3 1035.9 1.2 631.5 1.2 320.3 1.2 113.4 .6 10.7 .6-4.5 1.9-23.2 1.8-34.4 .6-7.2 .6-3.7 .6-1.4 1.2-1.1 .7 .1 .6 1.5 2.4 22 1.2 5 1.2 2.5 .6-1.4 .7-3.8 1.8-15.8 .6-2.2 .6-.2 1.8 1.4 1.3 6.4 2.4 28.8 .6 5.6 .6 2.2 .6-1.8 1.2-8 1.9-6.4 .6-4.4 1.8-24.6 .6 4.5 .6 50.9 1.2 171.6 1.3-174.7 .6-45.5 .6-3.3 1.8 17.7 1.8 3 .6 3.5 .7 6.3 .6 14.2 .6 46.8 1.2 196.4 .6-36.6 1.2-173.4 .6-21.1 1.9-30.2 .6-6.2 .6-1.4 .6 4.3 .6 19.6 1.2 156.6 .6 25.1 1.2-182.7 .7-41.9 .6-10.3 .6 .2 2.4 17.7 .6 1.2 .6-1.5 4.3-43.8 1.2-7.6 1.2-4.6 .6 .7 .7 3.2 1.8 14.2 .6 8.4 .6 27.7 1.2 157 .6 .9 1.2-143.3 .7-21.8 .6-4.9 1.2-4.7 1.2-8.1 .6-1.7 .6 2.5 2.5 27.7 2.4 10.1 .6 1.1 1.8-4.1 1.9 4.5 .6-1.7 1.8-11 .6-.1 .6 2 .6 9.1 1.2 79.8 .7 7.7 1.2-97.4 .6-20.4 1.2-11.2 1.8-9.6 .6 0 1.3 3.3 .6 .1 1.2-2.4 .6 2.3 .6 17.1 1.2 88.1 .6-20.4 1.3-99 .6-7.1 .6 5.9 3 57.5 1.2 9.2 .7-.7 .6-4 1.8-19.3 .6-3 .6 .3 .6 3.3 1.2 11.4 .6 4 .7 .7 1.8-6.6 .6-.3 1.2 2.5 .6 .5 .6-.9 3.1-14.8 1.2-4.2 1.2-2.8 .6-.3 .6 .7 1.9 5.4 .6 1 .6 0 1.2-2.3 2.4-6.8 2.5-3.4 1.2-.9 1.2-.3 4.9 1.3 1.2-.2 1.2-.9 1.9-4.2 3.6-13.8 1.2-3 1.3-1.3 1.2 .4 1.8 2 1.2 .6 2.5-1.1 1.2 0 3 3 1.9 .7 1.8-.9 4.2-3.3 5.5-7.3 1.3 .1 3 4.1 1.2 .8 .6-.1 1.2-1 4.9-6.7 2.5-1.6 1.8-.1 1.8 1.6 1.8 2.8 4.3 20.5 1.2 3.3 .6-1.7 2.5-20.6 .6-.3 .6 3.1 1.8 15.7 .6 2.4 .6 .1 .7-.8 1.2-3.4 3.6-15.6 1.2-3.1 .7-.4 .6 .2 .6 .9 1.2 3.5 4.3 17.3 1.2 2.9 .6 .7 .6 0 1.2-6.7 2.5-20.6 .6-.8 1.8 .8 1.2 1.1 1.2 1.6 2.5 4.8 .6 .8 1.2 .7 1.2-.8 3.1-5 .6-.6 1.2 0 2.4 2.8 .6 4.6 3.1 39.8 .6-.5 1.8-28.4 1.9-18 .6-.5 1.2 .3 .6-.2 3-3.8 1.3-.3 3.6 3.1 3.1 .9 1.2 .8 4.2 4.8 3.1 4.4 1.8 1.4 1.2-.2 4.3-2.4 4.3-3.8 5.5-1.9 1.2 0 1.2 .4 1.2 1.1 1.2 2.1 4.9 10.8 1.2 1.6 .6 .2 1.3-.8 1.8-3.3 1.8-5 3.7-12.9 1.2-1.7 .6 .2 1.2 3.5 3.7 19.7 1.2 4.2 .6 .8 .6-.3 .6-1 1.2-4.1 4.9-23.2 1.2-3.2 .6-.7 .7 .3 .6 1.3 1.2 5 3.6 24.4 1.9 9 .6 1.4 1.2 .5 1.2-1.1 3.1-4.5 .6-.3 .6 1.1 1.2 7 3.7 34.1 1.2 6.8 .6 1 .6-.8 1.2-5.6 4.9-42.9 1.2-5.5 .6-.7 .6 2.1 1.2 17.7 3.1 67.3 .6 7.2 .6 1.7 .6-12 1.9-64.4 .6-2.5 .6 8.5 1.2 38.5 3.6 164.8 1.3 23.6 .6-1.6 1.2-25 3.7-140.2 1.2-29.4 .6-5 .6 6.3 3 146.4 .6 15.4 .7 0 1.2-29.3 3-125 .6-14.4 .6-5.1 .6 10.2 1.9 67 .6 5 .6-.5 1.2-4.7 3.1-17.6 .6-1.6 .6-.4 .6 .2 1.2 2.3 .6 2.2 1.2 6.5 3.7 29.4 1.8 26.5 3.1 61.1 4.2 72.6 1.3 18.4 .6 4.2 7.9 0 .6-3.1 2.4-47.4 1.3-15 .6-3.5 .6 .4 1.2 12.9 2.4 55.7 13.4 0 .6-.2 1.3-12.3 .6-2 .6 1.2 1.8 13.3 3.1 0 4.2-110.8 1.2-16.3 .7-1.3 .6 5.8 .6 12.8 3 102.9 .6 6.9 8 0 2.4-24.2 .6-3.7 .6-.3 1.2 8.5 1.3 15.6 .6 4.1 4.8 0 4.3-49 3-67.5 1.3-14.9 .6 .2 2.4 23.8 .6 4.2 .6 1.5 .6-1.8 .7-4.5 1.2-12.7 1.8-31.1 3-77.6 1.3-15.3 .6 .3 .6 5.7 1.8 29.8 1.2 10.4 .6 0 .7-3.2 2.4-18.7 .6-1.1 .6 .7 1.2 3.5 .6 .7 .6-2.7 1.9-20.5 .6-4.8 .6-1.8 .6 .9 1.8 7.7 .6 1.3 1.9 .7 .6 1.5 1.2 7.2 2.4 21.3 .6 2 .7-.6"/>
<path stroke="#5597c6" d="M197 -1198.7l1.9 1380.3 1.2 456.4 1.2 194.2 .6 27.4 .6-.2 1.2-23.7 .7-.5 .6 1.7 .6 .1 1.8-8.2 .6 .4 .6 3 1.9 13 .6 2.3 .6 .2 .6-2.1 1.8-13.8 .6-1.3 .6 1.8 2.5 15.4 .6 13.3 .6 55.2 1.2 213 .6-29.4 1.2-211.6 .6-25.5 1.3-20.3 1.2-10.2 .6 .6 1.8 13 .6 1.7 1.9-2.6 .6 1.7 .6 6 .6 23.2 1.2 227.5 .6 25.9 .6-38.9 1.2-208.2 .7-18.8 1.2-8.8 .6-1.2 .6 .1 .6 1.4 1.8 8.8 .6 16.4 .6 65.8 .7 129.8 .6 53.6 1.8-246.7 .6-16.7 1.2-11.6 .6-3.6 .6-1.1 .6 .8 .7 1.9 .6 6.3 .6 28.1 1.2 109.1 1.8-147.6 .6-8.7 3.1-14.5 1.2-3.5 .6 0 1.8 6.7 .6 .4 4.9-21.5 2.5-7.6 .6 .2 .6 2.6 2.4 24.9 .6 2.1 1.2-2.6 .7-.2 2.4 18.9 .6-.3 1.8-15.6 1.3-6.6 .6-.8 .6 1.3 1.2 6.1 .6 1.5 1.8-3.5 .6 2.2 .6 5.4 2.5 28.4 .6 2.5 .6-.7 1.8-13.1 .6 5.1 1.3 67.9 .6-11.4 1.2-101.8 .6-18.6 1.2-11.4 1.2-3.8 1.3-1.6 .6 .4 .6 1.7 1.8 9.1 1.8 5 .6 3 2.5 20.6 .6 .6 1.8-4 .6 .5 .6 2.7 2.5 34.4 .6 4.7 .6-1 .6-6 2.4-31.9 .6-3.3 .7-1.1 .6 1.1 1.8 10.6 .6 1.7 .6-.6 2.5-10.1 1.8-5.4 1.2-2.3 2.4-1.2 .6 .1 1.9 2.8 .6 .4 .6-.4 3-6.1 3.7-2.5 3.7-4.5 .6 0 1.2 1.1 3 5.2 .6 .2 .6-.4 1.9-4.1 3.6-12.7 1.3-2 .6-.2 1.2 1 3 4.8 4.3 5.4 1.2 1 1.2 .1 2.5-1.7 4.8-6.2 1.3-.5 2.4 .1 4.3-3.3 1.2-.1 2.4 .7 1.2-.1 1.3-.9 3-4.1 .6-.4 2.5 0 2.4-2.2 1.2-.4 1.2 1.5 .6 2.1 3.7 28.4 1.2 5.4 .6 .4 .6-2.9 1.9-20.7 .6-4.8 .6-.9 .6 2.7 1.8 15.3 .6 2.3 .6-.2 1.3-3.2 4.2-19.8 1.2-2.4 .7-.2 .6 .4 1.2 2 1.2 3.4 4.3 17.3 1.8 4.5 .6-1.2 .6-3.5 1.8-14.7 .7-3.1 .6-.6 2.4 .5 1.2 1.1 3.7 8 1.2 1.3 .6 0 1.2-1.3 3.7-7.3 1.2-.9 1.2 0 .6 .6 .6 4.3 3.1 41.6 .6 .2 3-40.3 .7-4.4 .6-.7 1.8 0 3-.8 3.1-.2 4.3-1.1 1.8 .5 1.2 1.3 1.8 3.6 4.9 13.8 1.2 1.7 .6 .2 3.7-2.7 2.4 .7 1.2-.5 1.3-1.6 4.2-8.3 1.2-1.3 .7-.2 1.2 .2 2.4 1.9 6.7 12 1.2 1.4 .6 .1 1.3-.9 1.8-3.3 2.4-6 3.1-9.2 1.2-2.1 .6 .3 1.2 3.6 3.1 14.7 1.2 2.9 .6 .4 1.2-1.1 3.1-5.8 1.8-4.6 3-10.1 .7-.9 .6 .2 1.2 3.2 3 15.8 1.9 6 .6 .7 3-.6 2.5 1.1 1.2 0 1.8 1.5 1.2 .5 1.2-.8 1.3-1.6 .6 .8 1.2 6.3 3.6 35 1.3 5.4 .6 0 1.2-4.2 1.2-8.1 4.3-37.4 1.2-4.6 .6 .2 1.2 13.8 3.1 65.3 .6 8.2 .6 3.7 .6-5.5 1.8-66.4 .6-9.8 .6 4.3 1.3 32.9 3.6 168.6 1.2 31.8 .7 3.4 .6-5.4 1.2-29.9 3-118.4 1.2-33.9 .7-8.2 .6 .2 .6 14.9 2.4 124.9 .6 21.2 .6 6.7 .6-6.5 .6-15.2 3.1-123.4 1.2-27.1 .6 2.4 1.9 65.1 .6 11.4 .6-.6 .6-2.5 3.6-24.2 .6-1.4 .7 .2 1.2 2.7 1.2 5.9 4.9 37 1.2 16.5 6.7 126.1 1.2 14.4 2.5 12.4 .6 1.1 .6-.7 1.2-7.5 2.4-25 .6-2.9 .6-.6 .7 1.8 .6 4.1 3 39 .6 .3 6.7 0 .6-7.2 3.1-70.7 1.2-15.4 .6-2.7 .6 1.5 .6 6.5 .6 11.8 2.5 71.9 .6 4.3 4.9-.1 1.8-17.3 1.2-6.6 .6 .4 .6 2.6 3.7 21 4.9 0 1.8-13.5 3-7.8 .6-2.4 2.5-16.9 .6-2.4 .6-.4 1.2 .9 1.2-1.5 .7 1 .6 3.5 .6 6.9 1.8 32.6 3 0 3.1-58.6 3.6-110 .7-11.3 .6-4.8 .6 2.1 .6 8.4 1.8 37.5 1.2 17.2 1.3 6.1 .6 1 .6 0 .6-1.3 .6-3.6 1.2-16.4 2.4-59.3 1.3-18.9 .6-2.3 .6 2.3 3 35.1 .6 3.2 .7-.7 1.2-13.4 3-67.7 .6-7.5 .6-2.9 .6-.4 3.7 5.8 4.3 16.5 1.2 6.8 4.3 34.9"/>
<path stroke="#3a78b5" d="M197 -1200.5l1.9 1373.1 1.2 462.6 1.2 208.8 .6 35.3 .6 3.6 1.9-45.6 .6-6.6 .6-3.2 1.2-2.9 1.8-12.5 .6-1.1 .6 2.2 1.3 8.1 1.2 4.1 .6-.2 1.2-1.6 .6 .8 2.5 16.6 .6 0 1.8-9.6 .6 1.5 .6 11.5 .6 49.8 1.2 235 .7-20.2 1.2-209.9 .6-19.9 .6 .5 1.2 4.9 .6-1.8 .6-6.8 2.5-48.5 .6-2.6 .6 4 1.2 14.5 1.2 8.5 .6 32.1 1.3 172 .6-33.7 1.2-168.6 .6-16 .6-.5 2.4 8 2.5 22.3 .6 3.8 .6 1.5 .6-.3 .6-1.4 2.4-6.6 1.9-13.7 .6 3.1 1.8 133.2 1.2-120.6 .6-31.7 .7-7.9 .6-1.7 .6 .2 .6 2.2 1.2 11.4 1.8 25.2 .6 5.8 .6 1.9 .7-3.3 1.8-30.1 1.2-13.2 .6-1.9 .6 .2 .6 .7 .6-.6 .7-3.4 1.8-20 .6-4 .6 2.2 .6 22.7 1.2 103 .6-18 1.3-76.2 .6-2.6 1.2 3.5 1.2-.2 .6 .5 .6 1.5 4.3 19.1 1.8 6.3 .6 .8 .6-1 .6-3.1 3.1-32.9 .6 4.6 1.2 67.3 .6 4.4 1.2-78.1 .7-12.7 1.2-4.1 1.8-9.8 1.2-2.7 .6-2.4 1.3-7.2 .6-.2 .6 16.2 1.2 90.5 .6-13.5 1.2-74.2 .6-3.2 .6 2.4 .6 1.1 .7-1.3 1.8-10 .6 .7 1.2 9.5 3.1 46.7 .6 7.4 .6 2.5 .6-2.4 2.4-25 .6-1.2 .6 .8 .7 2.2 2.4 18.4 .6 1.2 .6-1.8 1.2-6.7 1.9-5.3 .6-2.9 1.8-14.1 1.2-5.5 .6-.5 .6 .7 3.1 10.1 .6 .8 .6 .1 1.2-2.7 2.5-9.7 1.2-3.6 1.2-1.4 3.7 .1 1.8-.6 1.8-1.3 1.2-1.4 1.9-4.4 3.6-11.9 1.8-3 .7-.4 1.2 .3 3 3.1 2.5 1.1 1.2 1.6 2.4 4.8 .6 .8 1.2 .5 1.9-1.2 3.6-5 2.5-4.1 3.6-7.9 1.2-1.6 .7-.3 .6 0 1.2 .9 3 4.3 1.9 1.3 1.2 .1 1.8-.5 4.9-3.5 1.2 .2 1.2 1.3 1.8 3.5 3.7 21.1 1.2 3.8 .6 .1 .6-2.9 2.5-23.7 .6-.3 .6 3.2 1.8 16.3 .6 2.5 .6-.2 .7-1 1.2-4.4 3-14.8 1.2-4 .6-1 .7-.1 .6 .6 1.2 3.2 4.9 24 1.2 3.2 .6 .6 .6-.2 .6-2.5 2.4-22.1 .7-3 .6-.2 .6 1.1 4.2 10.4 1.9 3.2 1.2 1.4 1.2 .8 1.2 .1 1.9-.6 3.6-2 .6-.2 .6 .3 1.9 17.6 1.8 26.9 .6 .1 3-40.3 .7-4.5 .6-.7 1.8 .5 2.4 1.7 1.2 .1 6.8-4.2 1.2-.1 .6 .3 1.2 1.2 3 4.2 4.3 4.3 4.3 7.2 1.8 1.6 1.8-.3 4.9-3.3 4.9-1.6 1.2 0 1.2 1.5 4.3 9.6 1.2 1.8 1.2 .8 1.2-.6 1.9-3.3 4.9-15.2 1.2-2.6 .6-.5 .6 0 .6 .7 .6 1.6 3.7 13.6 1.2 1.8 .6-.1 1.2-2 3.1-8.7 3.6-9 1.2-2.5 .6-.7 .7 0 .6 .7 1.2 3.4 3 14.2 1.9 5.1 .6 .3 .6-.5 2.4-3.4 1.8-1.6 1.3-.2 .6 1.5 1.2 8.5 3 32.9 1.3 8 .6 1.2 .6-.9 1.2-6.8 4.9-43.1 1.2-6.5 .6-1.7 .6-.2 1.2 12.4 3.1 64.3 1.2 12.8 .6-4.3 1.8-65.2 .6-10.6 .7 3.7 1.8 56.3 3 144.3 1.2 34 .7 4.5 .6-4.4 1.2-28.7 3-118.5 1.3-34.3 .6-8.5 .6-.6 .6 13.8 2.4 122.9 .6 21.2 .6 6.8 .6-6.8 .7-15.7 3-123.8 1.2-25.5 .6 2.9 1.9 67 .6 12.2 .6-.7 .6-2.8 3.6-28.2 .7-2.4 .6-.8 .6 .2 1.2 2.6 1.2 5.6 4.9 33.2 2.4 32.8 5.5 99.3 1.2 15.9 3.7 37.7 6.1 0 1.2-9.4 .6 .9 1.2 8.5 28.7 0 1.8-36.4 2.4-76.6 1.3-26.7 .6 4.2 .6 15 3 119.9 .6 .6 3.1 0 3-21.4 1.2-4.7 .7-.2 1.8 2.6 .6-.3 1.8-2.8 .6 .3 .6 2.4 4.3 24.1 3.7 0 .6-.6 1.8-16.5 1.2-16.9 3.7-80.6 .6-3.9 .6 0 1.8 6.9 .6 0 1.9-9.1 1.8-6.9 1.2-12.9 2.4-52 1.3-13.5 .6-.7 .6 2.4 3 21.9 .6 2.7 .7-.3 .6-3.6 2.4-27.2 1.2-6.1 .6-.2 1.2 2.3 .7 0 6.1-6.6 1.2-2.6 2.4-6.9 3.1-4.2"/>
<path stroke="#24528f" d="M197 -1171.6l1.3 1026.1 1.2 612.1 1.2 306.3 .6 70.1 .6 29.7 .6 1.6 1.2-26.3 .7-4.6 3-10.5 .6 .2 .6 2.7 2.5 24.3 2.4 11.9 .6-.7 1.8-16.6 .6-2.2 .7 2.6 1.2 9.7 .6-.2 2.4-23.4 .6-.6 1.9 5 .6 1.3 .6 .3 2.4-10.2 .6 1.3 .6 4.6 1.9 18.6 .6 2.8 .6 .7 .6-.9 .6-2.4 .6-4.2 1.8-18.2 .7-2.7 .6 1.2 2.4 22.5 .6 .2 .6-2.3 .6-.2 .6 15.4 1.3 155.5 .6 35.5 1.2-144.2 .6-32.5 .6-9.5 1.2-9.5 2.5-8.9 1.8-17.7 3.6-26.5 .7-.8 .6 1.6 3 14.4 .6 2.3 .6 .5 .6-2.6 1.9-18.2 .6-2.3 1.2 .7 .6-1.5 1.8-10.3 1.3-1.9 .6-.2 .6 1 2.4 16.6 .6 .1 .6-1.1 .6 .1 1.9 8.4 1.2 3.5 .6 4.1 2.4 29.4 .6 2 1.9-.7 .6 3.8 .6 26.5 1.2 139.8 .6-35.4 1.2-162 .6-18.2 .7-2.3 1.8 7.4 2.4 5.8 .6 .6 .6-2.6 1.9-18.4 .6-2.5 .6-.1 1.2 1.5 .6-.3 1.2-4.4 1.9-10.5 .6-.8 .6 3.2 .6 13.9 1.2 93.1 .6 8.8 1.2-99.7 .6-19.8 .7-3.3 1.2 7.8 2.4 31.6 1.2 8 .6-.4 .7-2.9 2.4-17.4 .6-.9 .6 .1 1.2 .5 .6 .9 1.3 3.5 1.8 16.4 .6 2.7 .6-2.7 2.4-36.4 .7-4.4 .6-1.9 .6-.2 1.2 1.1 .6 0 1.8-1.8 .6 .1 1.9 2.2 .6 0 2.4-3 4.3-3.3 1.2-.2 1.8 1 3.7 3.6 2.4 1.1 1.2 .2 .6-.3 1.3-1.7 4.2-11.7 1.3-1.9 .6-.2 1.2 1.2 3.6 7.9 1.9 2.4 1.8 1.2 3 .5 2.5 2.4 1.2 .6 1.2-.9 3.1-6 1.2-1.5 1.2-.5 1.8 .2 4.3 3.4 1.2 .4 .6-.2 1.2-1.4 3.7-6.7 1.2-.7 .6 .2 3.7 3 3 1.6 .6 .6 1.3 4.2 2.4 12.4 1.2 3.6 .6 0 .6-3 2.5-24.6 .6-.4 .6 3.3 1.8 17.5 .6 3.1 .6 .6 .7-.3 1.2-3.4 3.6-17.7 1.2-2.4 .7 .3 1.8 5.7 4.9 25.8 1.2 3 .6 .3 .6-.5 .6-3 2.4-25 .7-4.2 .6-1.3 1.2-.2 1.2 1 4.3 8.9 1.2 1.3 1.2 .4 1.2-.2 1.2-1 4.3-7.5 .6-.8 .6-.1 1.9 18.3 1.8 29.5 .6 .7 3-42.4 .7-5.5 .6-1.5 .6-.5 1.2-.1 1.8 1.3 1.2 .4 3.7-2.6 1.8 .3 3.7 2.5 4.2 6.7 1.9 2.2 4.9 2.4 1.2 .1 3-1.4 1.2-.2 1.9 .7 3.6 2.7 1.8 .4 1.9-.9 2.4-2.9 1.2-.1 .6 .6 1.3 2.6 3 9.9 1.2 2 .6 .2 .6-.4 1.3-2.2 5.5-19.1 1.2-2.3 .6-.4 .6 .1 .6 .6 .6 1.4 4.9 19.1 1.2 1.9 .6-.2 1.8-4.2 4.3-18.1 .6-1.4 1.2-1 .6 .4 .7 .9 1.2 3.7 4.2 22.2 1.9 7.1 1.2 1.5 1.2 .2 .6-.3 3.1-5.9 .6-.9 .6-.1 1.2 1.9 1.2 3.4 1.2 7 4.3 37.4 1.2 5.7 .6 .5 .6-1.1 1.3-6 4.8-43.9 1.3-6.7 .6-1.4 .6 2.3 .6 7.1 3 64.4 1.3 15.3 .6-1.2 2.4-76.6 .6 1.6 .6 11.1 1.2 42.7 3.1 142.9 1.2 34.9 .6 5.8 .6-3.2 1.2-25.9 3.7-133.2 1.2-25.8 .6-3 .6 10.1 2.5 120.5 .6 23.9 .6 11 .6-3.6 .6-13.1 3.7-140.5 .6-11.8 .6-1.8 2.4 75.7 .6 .8 .6-2.4 3.1-18.4 1.2-3.5 .6 .2 2.5 3.5 1.2 3.8 1.8 11 2.4 19.6 1.9 21.6 1.8 27.7 5.5 106.3 1.8 22.8 .6 4 5.5 0 .6-2 1.8-25.7 .7-5.3 .6-1.4 .6 3.1 .6 6.7 1.8 24.6 16.5 0 .6-1.7 .6 0 .6 1.7 4.9 0 .6-4.3 3-90 1.2-19.9 .7-5.3 .6 .8 1.2 21.4 3 94.6 .6 2.7 1.3 0 1.8-7 .6 0 1.8 5.9 .6 .5 .6-1.6 1.3-8.6 3-38.6 .6-6.4 .6-2.6 .6 3.3 .7 9.3 1.8 45.8 4.9 0 3-64.3 4.3-67.9 .6-3.8 .6 1.4 1.8 15.9 .6 1.4 .6-3.2 3.1-47.5 1.2-9.4 3-16.8 .7-2 .6-.2 .6 1.7 1.8 10.2 .6 1.6 .6 .1 .6-.9 1.9-7.2 3-20.3 .6-1.1 .6 1.3 1.2 5.5 .7-.2 1.2-9 2.4-26.2 1.2-4.6 1.9-1.7 1.8-3.8 .6-.5 .6 .8 .6 2.2 2.5 19"/>
<path stroke="#172d58" d="M197 -1185.3l1.9 1368.2 1.2 449.1 1.2 199.9 .6 33.7 .6 4.5 1.2-26 1.3-12.9 1.2-9.3 .6-2.2 1.2-.8 .6-2 2.5-29.4 .6-1.7 .6 4.6 2.4 36.4 .6 3.9 1.9 7 .6 8.9 .6 37.8 1.2 167.1 .6-38 1.2-153.2 .6-9 2.5 20.4 1.2 6.8 1.2 4.1 .6-.5 .6-3.8 2.5-41.7 1.2-13 .6 .9 1.8 19.2 .6 3.2 .6 .6 .7 9 1.2 133 .6 32.3 1.2-156.9 .6-31.6 .6 .6 2.5 45.4 1.8 145.6 1.2-140.2 .6-37.9 .6-6.6 1.8 13.8 1.3 6.7 .6 1.7 .6 .1 .6-1.8 1.8-15.1 2.5-28.7 .6-3.6 1.2-3.5 .6-3.8 1.8-21.7 .6-4.4 .6-.6 4.3 27.5 .6 2.6 .6 .6 .6-1.6 1.9-9 1.8-13.4 .6-1.7 .6 12.1 1.8 179.4 1.3-114.9 .6-28.4 .6-7.3 1.8-12.8 .6-2 .6 1.2 .6 4.2 1.9 18.9 .6 14.6 .6 50 1.2 173.6 1.2-160.8 .6-55.9 .6-13.8 .7-1.6 .6 .4 .6-.4 1.8-8.2 .6-1.5 1.2 .3 .6-.9 .6-2.7 5.5-40.5 2.5-12.8 .6 .4 1.8 13.6 .6-.1 2.5-22.6 .6 1 .6 5.3 3 64.2 .6 8.5 .6 1.5 1.9-23 .6-4 .6 .3 .6 1.8 .6 .5 1.2-3.1 .6-.2 1.3 1.1 .6-.6 2.4-13.7 .6 .1 1.2 5.3 .6 .6 2.5-14.4 1.8-8 1.2-3.8 .6-.3 .6 1 1.9 4.5 .6-.1 1.8-3.5 1.2-1.5 2.5 .3 3-.9 1.2 .4 1.9 2.6 3.6 8.2 1.2 1.1 .6-.5 1.3-2.9 3.6-14.6 .6-1.4 .6-.7 .7-.2 1.2 1.2 3.6 7.4 4.3 6.8 1.2 1.6 1.2 .6 1.3-.6 .6-.8 3.6-7.5 1.8-1.3 2.5-.5 1.2 .1 1.8 1.2 3.1 3.2 1.2 .1 .6-.4 1.2-1.9 4.3-10.8 1.2-1.5 1.2-.3 5.5 4.4 1.2 1.2 .6 1.1 3.7 17.8 1.2 3.4 .6 .2 .6-2.4 2.5-19.8 .6 .4 .6 3.8 1.8 16.2 .6 2.3 .6-.2 1.3-2.1 3.6-11 1.2-2.4 .6-.4 .7 .3 1.2 2.1 6.7 18.9 1.2 2.1 .6-1.5 .6-3.9 1.8-16.6 .7-3.6 .6-1 .6 .1 1.2 .9 3 4.4 1.3 .5 1.2-.6 7.3-6.2 1.8-.8 .6 .4 .6 4.2 3.1 41.4 .6-.2 3-43.9 .7-5 .6-1.1 1.8-.2 3.6 1.9 1.9 .3 2.4-.4 3.7-1.7 1.2 .2 1.8 2.1 6.1 12.1 1.8 1.8 1.3-.2 2.4-1.5 3.7 .7 3.6-.7 1.8-1.6 3.1-4.9 1.2-1 .6 .1 1.8 3 4.3 11.7 1.2 1.8 .6 .3 1.3-.8 1.2-2.2 6.1-16.8 1.8-3.4 .6 .3 1.2 2.8 4.3 19.2 .6 1.9 .6 1 .6 .2 .6-.7 1.3-3.7 3-13.6 1.2-3 .6-.7 .6-.1 .6 .4 1.3 3.1 3.6 18.5 1.9 6.6 1.2 1.6 3.6-2.1 .6 .3 .6 1.4 1.9 11.2 3 31.6 1.2 6.5 .6 .4 .7-1.2 1.2-6.5 4.9-44.1 1.2-5.6 .6 .1 1.2 13.6 3 63.7 .7 8 .6 3.1 .6-9.4 1.8-63.7 .6-3.9 .6 7.7 1.2 37.8 3.7 167.2 1.2 27.1 .6 .6 1.2-21.1 3.7-136.6 1.2-31.7 .6-6.6 .6 3.6 3.1 143.5 .6 17.5 .6 2.2 1.2-26.5 3.1-125.7 .6-15.7 .6-6.5 .6 8 1.8 68.2 .6 7.1 .6-.4 .7-1.9 3.6-23.8 .6-2.2 .6-1 .6-.2 .7 .6 .6 1.5 2.4 12.3 3 23.5 1.9 23.2 6.1 110.8 1.2 13 3.6 24 1.9 15.2 4.2 0 5.5-59.5 1.2-8.2 .7 0 .6 3.3 .6 7.1 3 57.3 21.4 0 1.2-18 4.2-86.6 .6-7.9 .7-3.3 1.2 18.5 3 97.3 7.9 0 3.1-13.4 .6-1.1 1.8-.7 1.3 1.1 .6 1.3 2.4 11.6 .6 1.2 2.4 0 1.9-23.3 4.2-100.5 1.3-20.8 .6-5.1 .6-.3 .6 4.4 2.4 35.8 .6 5.6 .6 1.2 1.3-11.9 2.4-45.8 1.2-11.4 1.2-3.2 1.9-2.2 .6 .1 .6 1.8 2.4 13.8 .6 1.3 .6-1.1 1.3-11 2.4-38.7 1.8-19.2 1.2-4.5 1.3-2.9 .6-.5 2.4 .6 .6-.3 1.2-1.9 1.9-5 .6-.9 .6 .3 1.8 5.2 .6 .6 .6-.7 1.3-3.6"/>
</g>
<line x1="1578.5" y1="728.5" x2="2112.0" y2="728.5" stroke="#000" stroke-width="1.6" stroke-dasharray="9.5 6"/>
<g clip-path="url(#clipE)" fill="none" stroke-linejoin="round" stroke-linecap="round">
<path d="M1573.6 772.9l.7 0 .6 1.9 .6 .6 1.8-8.2 .6 .8 1.8 6.5 .6 .5 .6-1.1 1.2-4.5 1.8-11.1 .6-1.3 1.2-.1 1.2 1.4 1.3 .8 1.2 1.7 3 .9 1.2 4.2 1.8 3.4 1.2-2 .6-.6 .6 .2 .6-.7 .6-1.8 1.8-10.9 1.2 3.3 1.9-11.8 .6-1.9 1.2-1.7 .6-.2 .6 .5 1.8 5.5 1.8 7 .6 .3 1.2 4.3 1.8 2.4 1.2 3.6 1.3 2 1.2 5.6 1.2 2.4 .6-.6 1.8-22.6 .6-.9 1.8 16.7 .6 1.1 1.8-2.6 .6-1.8 .6-.6 1.2 6.7 .6 1 1.9-3.3 .6-1.9 1.2-8.1 .6-1.9 1.2 8 .6 2.3 .6-1.1 2.4-15.6 .6-1.8 1.2 0 1.2-1.7 .6 0 1.2 1.2 .6-1.8 1.2-8.2 .7-1.2 1.2 4 .6 .2 .6-.9 .6-.1 1.2 3.2 .6-1.1 1.2-6.3 .6 .2 .6 1.2 .6-.6 .6-1.6 .6 .7 1.2 7.2 .6 .4 1.2-3.6 1.9 14.2 .6 3.1 1.2 3.2 .6 3.6 1.2 10.7 .6-.5 1.2-7 1.2 3.4 .6-1.3 1.2-8 2.4-9.4 1.8-4.6 .6 .5 .6 1.9 .7 .7 .6-.6 1.2 1.4 1.2-4.1 .6-1.3 .6-.3 1.2-2.9 1.2 4.9 .6-.1 .6-1.6 .6 .4 .6 1.8 .6 .5 1.2-2.5 .6-.4 3.7 7.2 1.2-1.8 .6 0 1.8-8.2 .6 .5 1.2 3.9 .6 .3 1.2-3.1 .6 .3 .6 1.6 1.8 1.3 1.2-2.6 1.2 1.1 1.3-1.5 .6 .3 .6-1 1.2-6.3 .6-1.6 .6 0 .6-.8 1.2-3.8 1.2 6 1.2-3.3 .6 .4 2.4 9.4 .6-.5 1.2-9.9 .6-.3 1.9 12.8 .6 2.2 .6 .1 1.2-4.2 .6 .1 1.2 3.5 .6-1.2 1.8-12.3 .6-2.5 .6-1.1 .6 1.2 1.2 5.2 .6 1 .6-1 1.8-8.1 .7 .1 2.4 3.8 .6 .4 1.2-7.2 .6-1.3 1.2 3 .6 .1 .6 1.2 1.8 5.1 .6 0 1.2-6.2 .6-1.4 1.8 7 1.9-8.1 1.2 5.7 .6 .7 1.2-6.8 1.2-4.7 .6-1 1.2 6.2 1.8 6.1 1.2 9.7 .6 1.3 1.8-8.4 2.5-8.4 .6-.8 .6 .3 1.2 5.9 .6-.1 .6-2.7 1.8-4 .6 .1 .6 2 .6 0 1.2-8.9 .6-2 .6 1.4 1.2 6.1 .6 .7 2.5-5.5 .6-.3 1.2 3 .6 .2 1.2-1.1 1.8 5.6 1.2-2.6 1.2-1.3 1.2-3.2 .6 .8 1.2 7.2 .6 .1 1.2-4.8 1.3 0 .6-1.5 .6-.7 .6-.1 1.2-1.7 1.2 5.2 .6 .9 1.2-3.6 .6 .8 1.2 4.1 .6 .9 1.2-4.6 .6 .2 .6 1.7 .6-.2 1.2-4.3 .6-.9 1.3 .2 1.2-2.7 .6-.1 1.2 3.4 2.4-8.3 .6 .4 .6 1.9 .6 .2 2.4-10.4 .6-.9 .6 .8 1.2 4.6 1.2-2.7 .6 2 1.3 10.2 .6-1.5 1.2-6.2 .6 .9 1.2 4.2 .6-.2 .6-1.5 .6-.3 .6 .6 1.2-1.7 1.2 .9 1.2-3.1 .6-.5 2.4 2.4 1.9-2.5 1.8 1.3 1.8 7.5 .6-1.4 1.2-7.3 1.2-2 1.2-5.2 1.2 3.7 1.2 1.5 1.2 3.5 1.9-10.4 .6 1.8 1.8 12.8 .6 .1 1.2-4.1 1.8-3.9 1.2-.5 1.2-1.7 .6 .1 1.2 3.7 1.2 1.3 1.2-4.5 .6-.6 1.9 7.6 .6 .3 1.8-4.3 .6-.3 .6 .3 1.2-.8 .6 0 1.2-1.8 .6 1.5 1.2 6.3 .6-1.3 1.2-7.7 .6-.8 1.2 1.3 .6-.3 1.3-1.9 2.4 6.4 1.8-5.2 1.8 8 1.8 0 1.8-4.8 .6 .2 1.2-.7 1.2 2.1 .6-.1 1.3-1.3 .6 .1 1.8 2.6 1.2-2.5 .6 .4 .6 1 .6 0 1.2-3.3 1.2-1.4 .6-.2 1.2 3.5 1.2-.4 .6 1.7 .6 .6 1.9-9 .6 .4 1.2 3.6 .6-.7 1.8-8.5 .6-.5 1.2 1.4 1.8 9.3 .6 .9 .6 0 .6-1.1 1.8-9.9 1.8 8.7 .7 .6 .6-.5 .6-2.2 1.2-7.1 .6 .9 1.2 9.9 .6 1.2 1.2-4.5 1.2-7.4 .6-.7 1.8 9.4 .6 0 1.2-1.8 .6 .1 1.8 6.3 .7 .8 1.2-2.2 1.2 2.3 .6 .1 .6-.4 .6 2.2 1.8 13.2 .6 1.3 .6-.1 .6 .7 1.2 3.5 1.2-2 1.2 6.5 .6-2 1.2-15.3 .6-2.7 .7-.9 1.2-6.3 .6 .9 1.2 5.8 1.2-.3 1.8 8.4 .6-.9 1.2-3.7 1.2-.9 .6 .3 1.2 5.2 .6 1 .6 0 .6-2.1 1.3-8.7 1.8-6.7 .6-.8 1.8 5.7 1.2-5.3 .6 .3 .6 1 1.2-3 1.8-2.8 1.2-5.5 .6-.3 1.2 5.5 .6 1.7 .6 .4 .7-1.1 1.2-6.6 .6-1.2 .6 1.3 1.2 5.5 .6 1 1.2-3.7 .6-.6 1.8 4.9 .6-.2 1.8-5.1 .6-.6 .6 .9 2.4 9.7 1.3 7.7 .6 2 1.2-.2 .6 .4 .6-.6 1.8-9 .6-.9 1.8 .9 2.4 8.9 1.8 10.7 .6 0 .6-1.3 1.3-4 .6 .8 .6 3.1 .6 .7 1.2-4.4 .6-.2 1.2-2.6 .6 .6 .6 2 .6-.5 1.2-4.1 1.2 .6 1.2-2.2 1.2 .3 .6-.4 .6 .3 1.3 3.7 1.8 2.9 .6 .3 .6 1.4 1.2 6.6 .6 0 1.2-7.1 .6-1 2.4 10 3.6 9 1.9 1.1 .6-.1 1.8-2.9 .6 .2 1.2 1.4 1.8 4.1 1.8 11.3 3 6.5 1.2 6.1 .6 .9 .6-2 .7-.3 1.2 4 1.2-2.1 .6 0 .6-1 1.8-10.5 .6-.1 .6 1.1 1.2 6.3 1.8 21.3 2.4 17.4 .6-.1 .6-2 1.3-1.5 .6-2.1 .6-.5 1.2 12.6 1.8 32.1 2.4 18.4 1.8 20.9 .6 4.6 1.2 3.7 1.8 3.1 1.2 4.8 .6 .6 .7-2 1.2-11.7 .6-3.4 1.2-2.7 1.2-6.5 .6-1.1 1.2 4.7 .6 .4 2.4-16.8 1.2 2.9 .6 .2 .6-2.1 1.2-9.6 .6-2.2 1.3 2.7 .6-.1 .6 2.2 3 31.6 .6 3 .6-.1 .6-1.2 1.2 2.8 .6-1.7 1.2-8 1.2-.6 1.2-3 1.2 1.4 .6-2.7 1.3-11.7 .6-2.9 2.4-5.6 2.4 11.6 .6 .6 1.2-2.5 1.2 4 .6 0 .6-1 .6 1.3 1.2 5.7 1.8 5.9 0 19.5-1.8-5.9-1.2-5.8-.6-1.2-.6 .9-.6 .1-1.2-4-1.2 2.5-.6-.6-2.4-11.6-2.4 5.6-.6 2.8-1.3 11.8-.6 2.7-1.2-1.4-1.2 3-1.2 .6-1.2 8-.6 1.7-1.2-2.8-.6 1.2-.6 0-.6-3-3-31.5-.6-2.2-.6 .1-1.3-2.7-.6 2.2-1.2 9.6-.6 2.1-.6-.2-1.2-2.9-2.4 16.7-.6-.3-1.2-4.8-.6 1.2-1.2 6.5-1.2 2.6-.6 3.5-1.2 11.6-.7 2-.6-.5-1.2-4.8-1.8-3.1-1.2-3.8-.6-4.5-1.8-20.9-2.4-18.4-1.8-32.2-1.2-12.5-.6 .5-.6 2-1.3 1.6-.6 2-.6 0-2.4-17.4-1.8-21.2-1.2-6.3-.6-1.1-.6 0-1.8 10.5-.6 1.1-.6-.1-1.2 2.2-1.2-4-.7 .3-.6 1.9-.6-.9-1.2-6-3-6.6-1.8-11.2-1.8-4.1-1.2-1.4-.6-.3-1.8 3-.6 .1-1.9-1.2-3.6-9-2.4-9.9-.6 1-1.2 7.1-.6 0-1.2-6.7-.6-1.3-.6-.3-1.8-3-1.3-3.6-.6-.3-.6 .4-1.2-.3-1.2 2.2-1.2-.6-1.2 4-.6 .6-.6-2-.6-.7-1.2 2.7-.6 .2-1.2 4.4-.6-.7-.6-3.1-.6-.8-1.3 4-.6 1.3-.6 0-1.8-10.7-2.4-8.9-1.8-.9-.6 .9-1.8 8.9-.6 .7-.6-.4-1.2 .2-.6-2-1.3-7.7-2.4-9.7-.6-.9-.6 .6-1.8 5.1-.6 .2-1.8-4.9-.6 .5-1.2 3.8-.6-1-1.2-5.5-.6-1.3-.6 1.2-1.2 6.6-.7 1.1-.6-.4-.6-1.7-1.2-5.5-.6 .2-1.2 5.6-1.8 2.8-1.2 3-.6-1-.6-.3-1.2 5.3-1.8-5.7-.6 .8-1.8 6.7-1.3 8.7-.6 2-.6 .1-.6-1-1.2-5.3-.6-.2-1.2 .9-1.2 3.6-.6 .9-1.8-8.4-1.2 .4-1.2-5.8-.6-1-1.2 6.4-.7 .9-.6 2.6-1.2 15.3-.6 2.1-1.2-6.5-1.2 2-1.2-3.5-.6-.7-.6 .1-.6-1.3-1.8-13.2-.6-2.3-.6 .5-.6-.2-1.2-2.3-1.2 2.2-.7-.7-1.8-6.3-.6-.1-1.2 1.8-.6 0-1.8-9.4-.6 .6-1.2 7.5-1.2 4.5-.6-1.2-1.2-9.9-.6-.9-1.2 7.1-.6 2.2-.6 .5-.7-.7-1.8-8.7-1.8 10-.6 1.1-.6-.1-.6-.8-1.8-9.4-1.2-1.4-.6 .5-1.8 8.6-.6 .6-1.2-3.5-.6-.4-1.9 8.9-.6-.5-.6-1.8-1.2 .5-1.2-3.5-.6 .2-1.2 1.3-1.2 3.4-.6 0-.6-1-.6-.4-1.2 2.5-1.8-2.7-.6-.1-1.3 1.4-.6 .1-1.2-2.1-1.2 .7-.6-.2-1.8 4.7-1.8 0-1.8-7.9-1.8 5.2-2.4-6.4-1.3 1.9-.6 .2-1.2-1.2-.6 .8-1.2 7.7-.6 1.3-1.2-6.3-.6-1.5-1.2 1.8-.6 0-1.2 .8-.6-.3-.6 .2-1.8 4.3-.6-.2-1.9-7.6-.6 .6-1.2 4.4-1.2-1.2-1.2-3.7-.6-.1-1.2 1.7-1.2 .5-1.8 3.9-1.2 4.1-.6-.1-1.8-12.9-.6-1.7-1.9 10.4-1.2-3.5-1.2-1.6-1.2-3.6-1.2 5.1-1.2 2-1.2 7.4-.6 1.4-1.8-7.5-1.8-1.3-1.9 2.5-2.4-2.5-.6 .6-1.2 3.1-1.2-.9-1.2 1.7-.6-.6-.6 .3-.6 1.5-.6 .2-1.2-4.2-.6-1-1.2 6.2-.6 1.5-1.3-10.1-.6-2.1-1.2 2.8-1.2-4.6-.6-.9-.6 1-2.4 10.4-.6-.2-.6-1.9-.6-.5-2.4 8.4-1.2-3.5-.6 .2-1.2 2.7-1.3-.2-.6 .9-1.2 4.2-.6 .3-.6-1.7-.6-.2-1.2 4.6-.6-.9-1.2-4.1-.6-.9-1.2 3.7-.6-.9-1.2-5.2-1.2 1.7-.6 .1-.6 .7-.6 1.5-1.3 0-1.2 4.8-.6-.2-1.2-7.1-.6-.8-1.2 3.1-1.2 1.4-1.2 2.6-1.8-5.6-1.2 1.1-.6-.3-1.2-2.9-.6 .3-2.5 5.5-.6-.7-1.2-6.2-.6-1.3-.6 2-1.2 8.9-.6 0-.6-2-.6-.2-1.8 4.1-.6 2.7-.6 .1-1.2-6-.6-.2-.6 .7-2.5 8.5-1.8 8.4-.6-1.3-1.2-9.7-1.8-6.1-1.2-6.2-.6 1-1.2 4.7-1.2 6.7-.6-.6-1.2-5.7-1.9 8.1-1.8-7-.6 1.4-1.2 6.2-.6 0-1.8-5.1-.6-1.2-.6-.1-1.2-3.1-.6 1.4-1.2 7.2-.6-.4-2.4-3.8-.7-.1-1.8 8.1-.6 1-.6-1-1.2-5.2-.6-1.2-.6 1-.6 2.5-1.8 12.4-.6 1.2-1.2-3.6-.6 0-1.2 4.2-.6-.1-.6-2.2-1.9-12.9-.6 .4-1.2 9.9-.6 .5-2.4-9.4-.6-.4-1.2 3.3-1.2-6-1.2 3.8-.6 .8-.6 0-.6 1.6-1.2 6.2-.6 1.1-.6-.3-1.3 1.4-1.2-1-1.2 2.6-1.8-1.3-.6-1.6-.6-.3-1.2 3-.6-.2-1.2-3.9-.6-.5-1.8 8.1-.6 .1-1.2 1.8-3.7-7.2-.6 .4-1.2 2.5-.6-.5-.6-1.8-.6-.4-.6 1.6-.6 .1-1.2-5-1.2 3-.6 .3-.6 1.3-1.2 4-1.2-1.3-.6 .5-.7-.6-.6-1.9-.6-.5-1.8 4.6-2.4 9.4-1.2 7.9-.6 1.4-1.2-3.4-1.2 7-.6 .5-1.2-10.7-.6-3.6-1.2-3.2-.6-3.1-1.9-14.3-1.2 3.7-.6-.4-1.2-7.2-.6-.8-.6 1.7-.6 .6-.6-1.3-.6-.1-1.2 6.2-.6 1.2-1.2-3.2-.6 .1-.6 .9-.6-.2-1.2-4-.7 1.2-1.2 8.2-.6 1.8-1.2-1.2-.6 0-1.2 1.7-1.2 0-.6 1.7-2.4 15.7-.6 1.1-.6-2.3-1.2-8-.6 1.8-1.2 8.1-.6 2-1.9 3.2-.6-.9-1.2-6.7-.6 .5-.6 1.8-1.8 2.6-.6-1-1.8-16.7-.6 .9-1.8 22.6-.6 .5-1.2-2.4-1.2-5.6-1.3-1.9-1.2-3.6-1.8-2.4-1.2-4.3-.6-.3-1.8-7-1.8-5.5-.6-.5-.6 .2-1.2 1.6-.6 2-1.9 11.8-1.2-3.4-1.8 10.9-.6 1.9-.6 .6-.6-.1-.6 .5-1.2 2.1-1.8-3.4-1.2-4.2-3-.9-1.2-1.7-1.3-.8-1.2-1.4-1.2 .1-.6 1.3-1.8 11.1-1.2 4.5-.6 1-.6-.4-1.8-6.5-.6-.9-1.8 8.3-.6-.7-.6-1.8-.7 0z" fill="#b5b5b5" stroke="none"/>
<path stroke="#7d0f18" stroke-width="3.9" d="M1573.6 764.6l1.3-2.5 1.8-7.2 1.2-3 .6-.1 .6 .7 1.8 3.4 .6 .4 .6-.4 1.8-3.5 .6-.3 .6 .7 1.8 5.6 1.3 2.6 .6 .3 2.4-.5 1.2-.7 .6-1 4.8-9.7 4.2-4.2 1.9-.6 2.4-2 1.2 .5 3 3 1.2 .3 .6-.5 3.6-9.2 1.3-1.7 .6-.1 .6 .6 2.4 6.1 .6 .6 .6-.3 .6-1.2 1.8-4.8 .6-.8 1.8-.5 1.8-1.7 .6-.3 .6 .4 1.9 2.5 1.2 1.1 1.2 .5 1.2-.3 1.2-2.6 1.8-5.8 .6-.7 .6 .1 .6 .7 2.4 3.6 2.4 4.6 .7 .7 .6 .1 1.2-1.2 3-4.5 1.2-.3 2.4 2.5 1.2 .1 1.8-1.8 1.8-3.5 1.3-1.5 .6-.1 1.8 1.3 1.2 .1 4.2-3.9 3-4.5 1.2-.3 1.9 1.2 1.2 .2 1.2-.9 3.6-5.1 1.2-.4 2.4 .4 3-1.6 5.5 .8 3.6 .1 3.6 1.1 1.2-.3 3.1-2 2.4-1.1 4.2-.4 3-1 4.3 .7 2.4 .9 3.6-1.7 3 .3 3.6-.9 1.9 .2 4.2 1.5 1.2-.2 2.4-1.5 3 .3 2.5-.5 8.4 1.6 4.8-1.1 3.1-.1 3.6-1.6 1.2 0 3.6 1.5 5.5-1.6 5.4-.4 2.4 .4 3.6 1.9 3.7-1.7 1.2 .1 3 1.7 1.2-.2 3-1.4 3-.6 3.7 1 3 .2 4.2 1.2 4.3-2 1.8 0 3 .6 4.2-1 4.2-.4 1.9 .4 3 1.6 4.8-1 3.6 2 5.5-1.8 6.6-1.1 1.8 .3 3.1 2.2 1.2 .4 7.2-1.2 3 .2 3.7-1.7 1.2 .4 2.4 1.9 2.4-.3 3 1.2 2.4-1.1 1.3 .5 1.2 3 3 15.2 1.2 3.3 .6 .5 .6-.2 .6-1 2.4-8.7 .6-.9 .6 1 3 21.3 .7 2.7 1.8 3.9 .6 2.2 1.8 9.3 .6-.1 .6-3 1.8-14.7 .6-.7 1.2 10 1.8 30.1 .6 7 .6 2.3 .6-3.1 .6-7.7 1.9-30.6 .6-4.7 .6 .6 .6 5.5 2.4 38.4 1.8 15.8 1.2 25.7 1.2 50.6 3.6 200.8 1.3 40.4 .6 7.2 .6-2 .6-4.9 .6-1.2 .6 2.1 1.2 7.9 6 0 .6-.6 2.4-17.7 1.3-3.6 2.4-3.4 2.4-11.4 .6-.5 1.2 6.3 3 30.9 2.4 0 .6-6.6 1.9-44.4 1.2-16.7 .6 .2 .6 5.3 4.2 60.3 .6 1.9 3.6 0 .6-2.3 1.8-22.5 1.3-8.8 .6-1.2 .6 1.4 .6 4 2.4 29.4 3.6 0 2.4-13.3 .6-1.7 3.1-4.5 .6-.5 .6 .9 1.2 6.3 .6-.3 1.2-16.6 .6-17.1 3.6-142.6 1.2-18.9 1.8-11.4 4.9-64.1 1.2-7.6 .6 .2 1.8 8.4 .6 .8 .6-1.1 2.4-13.7 2.4-7.7 3.1-20.5 1.8-4.2 2.4-7.6 .6 .4 .6 2.7 1.8 15.8 1.2 5.8 .6-.3 .6-2.3 2.4-16.2 .6-.6 .6 3.5 .7 8.1 1.8 36 .6 7.6 .6 2.3 .6-2.9 1.8-19.3 .6-1.1 .6 3.6 2.4 25.7 .6 1.3 .6-.8 1.8-4.9 .6-.2 .6 1.2 1.9 7.6 .6 .8 1.2-1.5 .6 .7 3 24.8 .6 1 1.2-1.6 .6 1.3 1.2 15.1 1.2 24.6 .6 8.5 .6 3.1 .6-1.8 1.3-7.9 .6-1.6 1.2-.4 .6-3 2.4-31.8 .6-2.8 .6 1 1.8 17.7 2.4 40.1 .6 6.1 .6 2.4 .6-1.2 .6-4.2 6.7-74.8 1.2-7.2 .6-.3 1.8 3.8 .6 .1 1.8-2.6 .6-.1 1.2 2.1 1.9 5 2.4 3.9 1.2 4.3 2.4 16.8 .6 2.8 .6 .9 .6-1.6 .6-4.6 3.6-62 .6-6.7 1.3-7.2 .6-1.3 .6-.4 2.4 .5 .6 .7 1.2 5.6 1.8 16.5 .6 3.7 .6 1.5 .6-.7 .6-2.4 2.4-14.2 .6-1.6 .6 .5 .6 2.7"/>
<path stroke="#c7242b" stroke-width="3.9" d="M1573.6 770.3l1.3 4.4 1.2 2.8 .6 .2 1.8-1.3 2.4 2.2 .6-.6 .6-1.6 5.4-19.7 .7-.5 .6 .8 2.4 9.1 .6 1.8 1.2 1.5 1.2-.8 .6-1.2 3-11.2 .6-1.2 .6-.3 1.2 2.3 2.5 11.6 .6 1.7 .6 .2 1.2-5 2.4-20 1.2-5.7 .6-.6 .6 .8 2.4 7.7 .6 1.1 .6 .4 2.4-4 .7-.2 1.8 1.5 1.2 0 1.8-1.1 2.4 1.6 .6-.7 .6-1.7 1.8-6.2 .6-.7 1.8-.8 1.9-2.6 .6-.2 .6 .6 2.4 7.6 .6 1.5 .6 .5 .6-.5 1.8-3.1 1.8-.2 2.4-3.6 .6-.3 .6 .3 1.9 2.4 .6 .4 .6-.1 1.2-2.7 3-15 1.2-2.5 .6 .2 .6 1.1 1.8 5.4 2.4 4.4 1.9 5.3 .6 .5 .6-.7 1.8-5.8 .6-.8 .6 .3 1.2 1.9 .6 .1 .6-1.2 3-12.9 3.6-7.1 .6 0 .7 1.1 1.8 7.3 .6 1.3 .6 0 .6-1.1 1.8-5.9 .6-1.1 .6-.2 .6 .5 2.4 5.8 .6 .2 .6-.6 1.8-3.6 1.2-.9 1.9 .6 1.8-.1 .6 .2 2.4 3.6 .6 .3 1.2-.6 3-2.8 3.7-1.6 1.8-.3 6.6 1.1 1.2-.8 1.8-2.2 1.2-.5 1.3 .6 3 3.3 3.6-.2 3 2.8 1.2-.4 1.8-2 1.2-.4 2.5 2.6 .6 .3 .6-.2 3-4.7 1.2-1.2 1.2-.3 1.2 .6 3 3.1 1.9 .5 1.2-.3 3-1.8 2.4 .4 2.4-.3 1.8 1.4 1.2 .2 3.1-2.7 3 1.1 3-.2 3.6 1.3 1.2-.8 2.5-3.5 1.2-.4 2.4 1.1 2.4-.3 .6 .2 2.4 2.9 .6 .4 .6-.1 2.4-2.6 1.3-.6 1.2 .4 1.8 1.3 1.8 .5 1.8 1.3 1.2 .3 4.2-3.6 3.7 1.2 3-1.9 1.2 .2 3.6 2.6 3.6 .9 1.2 0 2.5-2 1.2-.4 2.4 1.7 1.2 .2 3-3.7 1.2-.6 1.8 .4 1.3 .9 2.4 3.8 1.2 1 .6-.2 3-2.8 2.4-.9 2.4-.3 3.1-1.5 3.6 1.5 2.4-.1 3 1.1 3.6-1.3 1.3 .1 2.4 2.3 1.2 .6 1.8-.4 3.6-1.8 3.6-.2 3.1 2.2 3-.9 4.2 3.7 1.2 .2 1.8-1 1.2 0 1.3 2.2 3 8.4 2.4 9.7 2.4 5.8 .6 2.3 1.2 8.6 2.4 27.7 1.2 8.3 .6 2.1 .7 1.2 .6 .2 .6-.4 2.4-3.8 .6 1 1.2 9.2 1.8 20.3 .6 2.4 .6-.3 .6-1.2 .6-.1 .6 2.9 1.2 16.4 1.8 37.3 1.3 15.9 .6 1.9 1.8-6.6 .6 1 .6 5.9 1.2 28.6 2.4 82.1 1.8 44.3 2.4 86.6 3.1-.2 1.2-19.5 .6-5.9 .6-2.4 .6 .6 1.2 4.4 .6 .5 1.8-6.2 .6 .3 .6 3.2 2.4 25 4.9 .2 2.4-33.3 .6-1.8 1.2 1.4 .6-1.1 .6-4.3 2.4-36.9 1.2-11.4 .6 1.5 .6 7.8 1.8 47 1.3 17.6 .6 .4 1.2-4 .6 .1 1.2 3.3 .6-.2 2.4-16.6 1.8-7.8 2.4-16.9 .6-1.6 .6 1.3 .6 3.7 2.5 21.2 1.2 6.8 .6-.1 .6-3.4 1.8-16 .6-1.3 1.2 2.7 .6 .5 1.8-4.6 .6 1.6 .6 4.6 1.8 21.2 1.9 16.4 .6 2.2 5.4 0 3-118.9 1.2-34.9 1.8-37.1 3.7-48.5 1.8-18.4 1.2-7.8 .6 .3 .6 3.6 1.8 15.2 .6 .2 3-19.8 2.4-26.8 1.3-9.2 1.8-5.8 .6-.7 .6 .9 1.2 4.2 .6-.2 2.4-20.6 .6-1 1.8 8 .6 .9 1.8-3.9 .6-.6 .6 1.2 .7 3.3 1.2 14.5 1.8 31.5 1.2 10.2 .6-.3 .6-3.1 3-25 .6-.8 1.2 2.6 .6-.9 2.4-24.9 .7 1.1 2.4 48.7 .6 9 .6 3.7 .6-1.1 1.2-13 2.4-48.8 1.2-14.7 .6-1.8 .6 1 1.2 9.3 2.4 43.2 .7 4.2 .6-2.7 .6-8.8 1.2-24.9 1.2-16.7 .6-2.4 .6 .7 1.2 2.9 .6-.5 1.2-2.9 .6 .1 1.8 6.1 .6 .4 1.2-1.2 .6 1.9 .6 5.8 3.1 55.8 2.4 22 1.8 28.5 1.2 12.5 .6-.1 .6-5 2.4-35.7 .6-2.2 .6 2.6 2.5 37 3 75.8 .6 9.5 .6 2.2 .6-5.1 1.8-30.4 .6-5.8 .6-2.4 1.2-.1 1.2-2.7 1.8-7.9 1.2-8.7 1.3-22.6 1.8-50.2 .6-8.5 .6-1.9 1.2 4.5 .6-1.2 2.4-26.5 1.2-6 .6-.1 .6 1.3 2.4 10.3 .6 1.2 .6 .1"/>
<path stroke="#e3737a" stroke-width="3.9" d="M1573.6 777.3l1.3-5 1.2-2.8 .6 .4 .6 1.7 1.8 6.3 .6 .3 .6-1.3 1.2-7.6 1.8-16.1 .6-2.4 .6 .1 .6 2 4.3 18.1 .6 1.5 .6 0 .6-1.8 1.2-8 4.2-38.4 1.2-5.5 .6-.8 .6 .3 .6 1.2 2.4 6.7 .7 .9 1.8 1.5 .6 1.7 2.4 11.9 .6 .6 .6-1.1 1.2-4.7 .6-1.7 .6-.3 3 4.5 2.5 10 .6 .8 .6-1.2 1.8-8 .6-1.4 .6-.4 1.2 .7 .6-.1 1.2-2.5 3-16.2 .6 0 .6 2.5 1.8 13.7 .6 1.5 .7-1.9 .6-4.9 1.8-18.2 .6-1.5 .6 1.5 .6 4.6 3.6 43.4 1.2 8.2 .6 1 .6-.8 .6-2.2 3-14.6 3.1-23.8 .6-.7 .6 1.9 2.4 14.7 .6 1.4 1.8 .6 .6 .7 2.4 6.5 .6-1 .6-3.7 2.5-26.1 1.2-5.4 .6-.5 .6 .3 2.4 2.9 3 10.9 .6 .3 .6-1.8 2.4-15.9 .6-1.1 .6 .7 1.9 6.7 .6 1.1 .6-.5 2.4-8.2 1.8-2 .6-.1 .6 .6 .6 1.5 3 14.2 1.2 3 .6 .6 .6-.2 .7-1.1 2.4-7.5 1.8-1.9 .6-1.4 2.4-7.9 1.2-.9 1.2 .6 1.8 2.7 .6 .3 .6-.4 1.9-3.3 .6-.2 1.2 2.6 1.2 4.9 .6 1.4 .6 .2 2.4-7.4 1.2-1.6 4.2 .5 2.5 3.1 .6 .2 2.4-3 .6-.2 .6 .5 2.4 3.8 .6 0 2.4-2.8 2.4 .4 3.1-.6 1.2-.8 1.2-1.5 .6-.4 .6 .1 1.2 1.8 1.8 4.1 .6 .6 .6-.1 2.4-3 .6 0 1.2 1.4 3.7 6 .6 .6 .6 0 .6-.5 2.4-5 .6-.4 2.4 1.7 1.8-.2 1.8 1.8 .7 0 1.2-3.2 1.8-8 1.2-1 1.8 .4 3 6.1 1.2 1.2 .6 .2 3.7-2.2 2.4 .3 2.4-2.1 .6-.1 5.4 3.4 .6-.2 2.5-3.2 2.4 1.6 2.4-2.7 .6 .1 2.4 2.5 3-1.5 1.8 1 1.2 2.3 1.9 7.4 1.2 2.9 .6-.1 .6-.9 3.6-11.1 1.2-2.6 .6-.3 .6 .1 1.8 1.5 1.8 .6 2.5 3.7 1.2 .7 1.2 .2 1.2-.6 2.4-3.8 .6-.3 1.8 .5 3-3.4 1.9-.5 4.8 .7 1.2 1.5 1.8 3.6 1.2 1.1 .6 0 .6-.6 1.8-3.3 1.2-.8 1.3 .4 3 2.6 2.4-.9 1.8 1 1.2 0 2.4-2.5 2.4-.9 2.5-2.4 1.8-.7 1.8 .1 1.2 1 2.4 6.2 .6 .1 .6-.9 1.8-5 .6-.8 1.3-.6 1.2 0 1.2 .4 3 5.4 .6 0 1.8-1.4 .6 0 1.8 2.9 1.8 7.7 4.3 30.6 4.8 27.5 1.2 5 2.4 4.5 1.2 5.8 3.7 38.7 2.4 10.8 1.2 8.6 4.2 56.8 .6 1.2 1.2-4.9 .6-.8 .6 3 2.5 32.6 3 28.5 1.2 19.4 1.2 32.2 2.4 113.7 15.7 0 .6-.5 .6 .5 13.3 0 1.2-5.5 .6-.5 .6 1.3 1.2 4.7 5.5 0 3-135 .6-15.2 .6-6.2 .6 4.2 .6 15.7 3 136.5 15.7 0 .7-.8 1.8-43.4 3-121.4 1.2-29.6 .6-4.2 .6 .2 .6-1.6 1.2-14.1 4.9-103.9 1.2-10 .6-1.2 1.2 .2 .6-1.8 2.4-21 .6-2 .6 1.1 .6 3.7 2.4 20.8 4.3 30.4 .6 2.2 .6-.2 1.2-6.1 1.8-13.6 1.8-7 .6-4.2 2.4-34.8 .6-3.6 .6 2.7 .6 9.2 2.4 49 .6 2.1 .7-2.6 1.8-14.2 .6-2.2 .6-.5 .6 1.1 .6 3.4 1.8 19.3 .6 3.1 .6-2 .6-7 1.8-31.4 1.8-22 2.5-21.4 1.2-5.1 .6 .1 1.2 6.4 2.4 26.3 1.2 7.6 .6-.2 .6-3.1 1.8-12.8 .6 .7 .6 4.9 1.8 27.2 1.2 10.1 .7 .8 .6-.6 2.4-2.8 1.8-3.8 .6-.2 .6 .7 1.2 3.5 1.8 10.3 .6 2.6 .6 .3 .6-3.3 .6-7 2.4-39.5 .7 .1 .6 7 1.8 35.2 .6 4 .6-2.5 3.6-63.8 .6-5.7 .6-.8 .6 4.2 1.8 23 .6 2.1 .6-2.4 1.9-17 .6-2.4 .6 .5 1.8 7 1.8 3.1 .6 3 1.2 14.9 1.8 32.1 .6 5.6 .6 1.6 1.2-4.7 1.8-11.9 3.7-32.7 1.8-11 .6-1.4 .6-.3 1.8 2 .6-.5 1.8-5.3 .6-.1 2.4 9.8 1.8 4.9"/>
<path stroke="#f3b9bf" stroke-width="3.9" d="M1573.6 791.9l1.3 2.5 .6-.1 1.2-2.5 1.8-5.6 .6-1.1 1.8-.9 1.2-4.6 1.8-11.6 .6-2.2 .6-.9 1.2 .3 1.2 1.5 3.1 11.1 .6 1.2 .6 .4 .6-.2 1.2-1.1 1.8-.9 .6-1.1 3-15.9 .6-1.3 1.8 0 .6-.7 1.9-4.2 .6-.2 .6 .9 2.4 7.5 .6 .4 2.4-1.1 .6 .5 1.2 3.3 1.8 8.2 .6 .8 .6-1.2 1.9-9.7 .6-2 .6-.5 1.8 4.1 .6 1.1 .6 .3 1.2-1.4 2.4-5.7 .6-1 .6-.2 .6 .8 1.8 5.6 .6 1.3 .6 .2 1.3-2.9 1.8-8.8 1.2-3.4 .6-.2 1.8 2.4 .6 .1 .6-.9 3.6-19.5 .6-.8 1.8 .8 1.9-.6 .6 .5 2.4 4 1.2 .9 .6-.1 1.2-1.6 1.8-5.1 1.2-2.3 .6-.4 2.4-.3 1.2 1.3 2.5 4.6 1.2 .2 1.8-.9 1.2-1.5 1.2-3.3 3-14.6 .6-1.7 .6-.2 .6 1 1.8 7 .7 1.4 .6 .5 1.2-1.6 2.4-6.2 1.8-2.3 .6 .1 .6 .8 2.4 8.6 .6 1.5 .6 .5 1.2-.9 2.5-4.7 .6-.6 .6 0 3 5.7 2.4 1.8 1.2 .3 1.2-1.4 2.4-4.8 1.8-1.1 1.9 .1 2.4 1.5 1.2-.7 2.4-2.9 1.8-.3 1.8 .7 1.8 2.4 1.2 .8 3.7-2.6 1.8 .1 3 1 1.2-1.1 3.6-6.7 1.2-1.1 1.3-.3 1.2 .6 2.4 3.5 1.2 .8 4.2-.8 2.4 1.1 2.5-1.1 1.2 .1 1.2 1.1 2.4 3.2 1.2 .7 1.2-.2 1.2-.9 3.6-5.1 1.2-.4 2.5 .5 3.6-2.1 1.8 .5 2.4 1.8 3 .3 2.5 1.6 .6-.2 2.4-2.6 3.6-1.4 2.4 .1 2.4-.5 3.1 1.2 1.8 .3 6.6-1 2.4 .6 1.2 .8 2.5 4.2 .6 .3 3-3.3 2.4 .6 1.2-.2 2.4-2.1 1.2-.6 2.5 .9 .6-.1 3-2.5 1.2 .2 .6 .5 3 4.2 1.8 1.3 1.2-.5 3.1-3.8 1.2-.7 1.2 .1 2.4 2.9 1.2 .5 3-2.5 1.2 .1 2.4 1.6 .6-.2 2.5-3.4 1.2-.8 1.2 .3 2.4 2 3.6-.6 1.8 .4 3.7 4.6 .6 .1 2.4-1 2.4 1.2 .6-.1 2.4-1.6 1.2 .3 1.8 2.7 3.7 8.2 5.4 7 1.8 5.2 1.8 7.6 3.7 19.8 3 8.3 1.2 5.5 4.2 34.2 3.6 21.4 .6 2.2 .6 1 1.3-1.1 .6 .3 .6 2.7 3 40.2 3 28.9 1.8 33.6 3.6 97.5 1.9 81.4 .6 14.7 6.6 0 .6-1.7 .6-5.8 .6-.5 1.2 8 6.7 0 1.8-17.6 .6-3.6 .6-1.8 .6-.2 2.4 6.5 .6 .2 1.2-1 .6 .4 .6 1.7 2.5 15.4 22.3 0 1.2-9.5 .6 .6 .6 6.3 .6 2.6 9.1 0 .6-1.8 .6-.1 .6 .6 .6-.5 .6-2.2 1.2-17 2.4-58 4.9-175.5 .6-11.3 .6-5.6 1.2-6.5 .6-7 3-64.6 1.2-12.7 .6 .2 .6 3.8 1.9 19 .6 3.5 .6 1 .6-1.4 .6-3.4 2.4-22.7 1.2-7.6 .6-.7 .6 1.5 1.8 11 .6 1.8 .6-.6 1.8-8 1.8-3.6 1.9-5 .6-.2 .6 1.1 1.8 8.8 1.2 9.8 3 55.1 .6 6.1 .6 .7 1.2-14.8 2.4-48.7 .6-5.6 .7-2 .6 .5 1.8 4.5 .6 .4 1.2-1.1 2.4-6.8 .6 0 .6 2.9 .6 6.1 1.8 29.1 .6 6.4 .6 1.9 .6-3.2 1.9-26.8 1.2-12 .6-.3 .6 3 2.4 20.4 .6 2.2 .6 .3 .6-1.7 1.2-7.4 4.2-36.9 1.2-5.9 .6-.8 .7 1.3 .6 3.5 3 34.6 1.2 7.9 .6 .1 1.2-5.7 3-27.4 .6-2.4 .6 1.1 1.8 12.3 .6 .6 1.9-8.5 .6-1.1 .6 .6 1.2 3.5 2.4 12 .6 1.3 .6-2 .6-5.7 1.8-21.6 .6-1.8 .6 2.2 2.4 17.8 .6 1 1.3-.1 .6 1.3 1.8 10.3 .6 1.8 .6-.8 1.8-11.4 .6-1.6 .6 .9 .6 3.1 2.4 17.7 .6 1.5 .6-.7 1.2-4.5 .6-.4 .6 2.9 .7 6.2 1.8 22.8 .6 2.5 .6-.9 1.8-8 .6 .3 3 16.5 .6 1 .6-.5 1.2-5.7 3-27.6"/>
<path stroke="#c6d8eb" stroke-width="3.9" d="M1573.6 780.9l1.9 6.1 .6 1.6 .6 .6 .6-.5 1.8-3.4 .6 .4 .6 1.7 2.4 12.1 .6 1.7 1.8 2.5 2.4 5.7 .7-.5 .6-2.3 1.8-10.7 .6-1.9 .6-.4 1.8 4.2 .6 .4 .6-.8 .6-2.2 1.8-7.5 1.2-2.1 1.2-.8 1.8-2.1 .6-.1 .7 .7 2.4 6.9 .6 .6 1.2-.1 1.8-1.2 3.6-3.7 2.4-6.2 .6-1.1 .6-.1 .7 1.1 1.8 6.2 .6 1.3 .6 .3 .6-.5 1.2-2.2 3-11.2 .6-1 .6 .1 .6 1 1.8 4.1 .6 .4 1.8-1.6 .7-.1 .6 1 1.8 8.5 .6 2.4 .6 .9 .6-.6 2.4-5.9 2.4-4.1 .6-.1 .6 .8 3.6 9.5 .7 0 .6-1.2 1.8-6 .6 .4 1.8 9.5 .6 2.3 .6 .4 3-10.2 1.2-3.1 1.2-1.6 .6 .2 1.9 2.1 1.2 .6 1.8 2.9 .6 0 1.2-5.3 2.4-17.6 .6-1.6 .6-.6 2.4 1.3 1.2-.1 3.1-4.5 3.6-9.7 3.6-17.5 .6-2.2 .6-1.3 .6-.5 1.2 .7 2.4 3.4 .6 .4 .7-.1 4.2-6 1.2-1.2 3-.3 3 2.1 2.5 .2 1.2-1 3-6.6 .6-.4 .6 .1 1.8 1.3 .6-.3 1.8-2.1 .6-.1 3 5 .6 .1 1.9-1.2 .6 .1 2.4 2.9 1.2 .4 1.2-1.7 3-8.8 .6-.3 .6 .3 1.8 2.5 .6 .1 .6-.6 1.9-3.7 1.2-1.2 .6 0 1.2 1.4 3 5.9 .6 .3 .6-.3 1.8-2 .6-.3 .6 .3 2.5 4.7 .6 .7 .6 .1 1.8-2.3 1.2-.7 2.4 1.4 3.6 .6 1.2-1.2 3.1-5.9 .6-.3 2.4-.2 1.8-1.5 .6-.1 .6 .5 2.4 5.4 .6 .5 .6-.1 2.4-2.9 2.5-.5 3-2.8 1.2 .5 2.4 3.2 .6-.1 .6-.6 1.8-2.8 .6-.3 .6 .2 2.4 4.1 1.3 1 8.4-5.2 1.2 .6 1.8 3.7 1.2 1.4 .6-.3 1.9-2.9 1.2-1 3-.2 2.4 2 1.2 .4 2.4-1.6 2.4 .3 3.1-.9 1.8 1 2.4 4.1 1.2 .9 1.2-1 1.8-2.9 1.2-1.2 1.2 .8 1.9 2.4 .6-.1 2.4-4.9 1.2-1.1 1.8 .7 2.4 2.8 .6 .3 1.2-1.3 1.8-3.7 1.3-.7 1.2 .7 1.8 2 1.2 .7 2.4-1.1 3.6 .9 1.8 2.7 2.5 5.3 4.2 15.9 .6 .7 1.2-.2 .6 .7 2.4 11.6 1.8 3.5 .6 2.3 2.5 15.3 .6 .5 1.2-3.3 .6-.7 .6 1.6 3 25.3 .6 1.5 1.2 .4 .6 .8 1.2 5.8 1.2 11.1 3 36.8 5.5 44.1 3 18.3 3.6 28.2 .6 2.1 .6 .5 1.2-1.3 .7 .9 .6 4.7 3 65.2 1.2 13 .6-.4 1.8-8.1 .6-1.3 .6 .2 1.2 4.6 3 22.7 .6 2.1 .7-.4 1.2-8 1.8-18.7 1.2-9 2.4-8.5 1.8-8.5 .6 0 .6 3 1.8 16.7 .6 2.5 .6 .1 1.2-2.2 .7 .6 1.2 7.5 1.8 15.6 .6 3.2 .6 1.3 .6-.8 .6-2.9 3-25.7 .6-2 .6 .5 6.7 47.7 1.2 6.2 .6 0 .6-2.2 3-21.5 .6-.8 .6 2 2.4 19.2 .6-.3 1.8-12.1 1.3-5.5 .6-.7 1.2 .5 .6-.5 .6-2 3.6-32.2 1.2-8.4 1.2-5.4 .6-.4 .6 2.1 2.4 20.4 .6 .4 1.9-8.5 .6 0 1.8 9.6 .6 1.4 .6-.4 1.2-2.1 .6 0 1.8 2 .6-.5 2.4-5.7 .6-.5 1.2 0 .6-.6 .7-2.5 .6-5.5 .6-9.1 2.4-48.8 .6-5.4 .6-.7 1.8 8.3 .6 1 .6-.8 .6-2.4 1.8-17.4 3-44.3 .7-2.3 .6 1.4 1.8 12.9 .6 1.6 .6-1.4 .6-4.4 1.8-22.4 1.2-9.2 .6-.6 1.2 1.7 .6-.9 1.8-9.3 .6-1 .6 1.5 1.9 10.6 .6 1.1 .6-1.8 3-32.3 .6-3.7 .6-.6 .6 2.3 1.8 9.7 .6 .4 1.2-1.3 .6 .4 1.8 3.8 .6-1 1.2-8.9 1.9-19.8 .6-2.7 .6 .8 .6 4 1.8 15.7 .6 2.3 1.2 2.6 .6 2.7 1.8 15.2 .6 3.3 .6 .7 2.4-12.3 .6-1.2 .7 .2 1.2 1.7 1.8 .7 2.4 4.9 .6 0 .6-1.7 1.8-11.6 1.2-5.3 .6-.6 1.8 1.1 .6-.1 3.1-5.8 1.8-.2 .6-.7 3-11.8 .6-.4 .6 1.9 .6 4.5 2.4 23.3 .6 1.4 .6-.5 1.2-2.3 .6 .4 1.9 7.5 .6 .2 1.2-10 1.8-24.2 .6-3.8 .6-.8 1.2 3.5 3.6 18.3 2.4 9.5 .7 .8 .6-.9 1.8-7.8 .6-.4 .6 1.9 2.4 17.2 1.2 4.6 1.8 3.8 .6 .4 .6-1.4 .6-3.7 1.8-21.1 .6-5.1 .6-1.3 .7 2.5 1.8 15 .6 1.2 .6-1.9 1.8-10.9 .6-1.5 .6 .2 .6 1.8 1.2 7.5 2.4 22.1 .6 2.8 .6 .5 .6-1.6 1.8-13.2"/>
<path stroke="#6c9dca" stroke-width="3.9" d="M1573.6 797.5l.7-.3 3-6 3-11.4 .6-1.2 .6 .1 1.2 5.3 1.8 14.9 .6 1.5 .6-2.4 1.8-19.8 .7-4.8 .6-1.8 .6 1.1 .6 3.5 1.8 14.7 .6 3.1 .6 1.2 .6-.3 .6-1.4 2.4-8.8 .6-1 .6 .7 .6 2.9 1.8 15.6 1.2 6 .6 0 .7-1.7 3-15.2 2.4-8.4 1.8-4.3 .6-.3 .6 .8 2.4 9.4 .6 .4 1.8-4.8 .7-.1 .6 1.9 1.8 11.1 .6 1.5 .6-.3 2.4-8.2 1.8-4.4 .6-.3 .6 .6 1.8 3.6 .6 .1 .6-.6 1.8-2.9 2.5-8.5 .6-1.3 .6-.2 .6 .8 1.2 3.9 3.6 20.9 1.2 4.2 .6 .8 .6 .1 .6-.5 1.2-1.7 1.9-1.4 2.4-5 .6-.2 2.4 6.4 .6 0 2.4-7.9 .6-.7 .6 .3 1.2 1.5 .6-.1 1.8-4.1 .7-.7 1.8 1.3 .6-.3 3.6-11.7 3-13.9 .6-.8 .6 .4 1.2 2.2 .6 .2 .6-1.3 1.2-7.7 2.5-24 1.2-5.6 .6-.6 1.8 1.1 1.8 .3 2.4 2.2 .6-.1 2.4-3 .6-.1 2.5 3.4 .6 .2 .6-.6 .6-1.6 2.4-8.6 .6-.9 1.8-.6 .6-.7 1.8-3.4 1.2-1.1 2.5 1.3 3 3 .6 .1 1.2-1.6 1.8-4.2 .6-.4 .6 .4 1.8 2.7 1.8 .5 2.4 4 .7 .2 1.2-.9 1.8-2.4 3-6.6 .6-.6 .6 .1 2.4 3.8 .6-.1 1.8-4.5 .6-1.1 .6-.1 .6 1 2.5 8.1 1.2 1.6 2.4 1.9 .6 0 4.8-5.6 3.7-5.9 1.2-1.1 .6-.1 2.4 2.6 .6 .2 1.8-1.2 1.2-.3 3 1.3 2.4 2.2 .7 .1 2.4-1.9 1.2-.1 1.2 1.5 1.8 4.6 .6 1 .6 .1 2.4-4.7 .6-.7 1.8-.7 .6-1 1.9-5.1 .6-1.1 .6-.4 .6 .3 2.4 4.7 .6 0 1.8-1.2 .6 .1 2.4 2.9 3.7 2.3 4.2 4.9 1.2 .6 1.2-1.7 1.8-5.1 1.2-1.9 .6-.2 1.8 1.3 1.2 .1 1.9-1.8 3-5.3 1.2-1 1.8 0 1.2 .7 3 4.5 1.2 1.2 3.1-.1 2.4-1.1 1.2 .3 2.4 4.8 .6 .6 .6-.1 .6-.8 2.4-6.2 .6-.8 .6-.2 1.2 1.1 3.1 7.3 1.2 1.6 .6-.1 .6-.8 3-8.8 1.2-1.4 3.6 0 1.9 .5 1.8 1.4 3 3.4 2.4 .5 1.2-1.2 1.8-4.6 .6-.5 .6 .3 1.2 4.6 3.1 25.4 1.8 11.9 2.4 14 1.2 4.6 .6 .4 .6-1.2 2.4-15.8 1.2-4.7 .6 .3 2.5 8.6 2.4 4 1.2 2.9 4.8 21.7 2.4 20.5 2.4 10.7 3.7 29.4 .6 2.7 .6 1 .6-.6 2.4-6.3 1.2-7.4 3.6-45.4 .6-2.8 1.9-3.8 2.4-13.4 .6-.3 .6 2.7 1.2 13.6 .6 11.5 4.2 97.4 2.4 109.5 1.9 56.6 .6 10.2 3.6 18.4 .6 5.1 1.8 25.9 1.2 9.7 .6-.2 1.2-7.9 3-31.6 .6-2.9 .6-.9 1.3 .4 .6-.8 1.8-6.3 .6-.6 .6 .9 1.2 3.4 .6 1.1 .6 .2 .6-.8 1.8-4.9 .6-1.2 .6-.1 2.4 6.4 .6 .7 .6-.3 3.1-4.4 1.8-4 .6-.5 .6 .9 1.8 7.4 .6-.3 2.4-18.4 .6-1.4 .6 2.2 2.5 22 .6 1.6 .6-.3 1.2-1.5 1.2 .1 .6-.9 .6-2.6 1.8-13.6 1.8-9 1.2-3.1 .6-.1 1.8 3.8 .6-.2 3.1-18.1 .6 0 1.8 5.2 1.8 .9 .6 1.6 2.4 15.9 1.2 5.2 .6 0 .6-2.2 1.8-10.1 .6 .9 1.9 13.7 .6 0 1.2-18.1 3.6-113.6 1.2-18.4 3.6-31.1 .6-4.3 .6-2.6 .6-1 .6 .1 .7 .6 2.4 4.2 .6-.2 .6-1.5 1.8-9 .6-1.4 .6 .6 1.2 4.7 .6 .8 .6-2.1 2.4-22.3 .6-.3 1.8 13.5 .7 3.4 .6 .5 1.2-7.4 3-30 1.8-22.6 .6-4 .6 .2 .6 4.2 2.4 27.1 .6 3 .6 .9 .6-.8 1.9-5.4 .6-.4 1.2 1.6 1.8 4.1 .6 .9 .6-.5 .6-2.3 3-22.2 1.2-3.5 1.8-3 .6-1.9 1.9-9.4 .6-1.7 .6 .2 1.8 4.8 .6-.1 1.2-1.1 .6 .8 .6 1.9 3 12.9 1.8 12.4 .6 3.2 .6 1.4 .6-.9 1.2-8 2.5-25.9 .6-3.4 .6-.4 1.2 8.6 1.8 27 1.2 10.3 .6-1.2 .6-5.4 2.4-31.6 .6-2.4 .6-.3 .6 .2 .6-.5 1.3-3.4 .6-.7 .6 1.4 .6 3.7 3 37.3 .6 4.7 .6 1 .6-3 2.4-24.8 .6-3 1.8-4.4 2.5-9.1 1.2-2.9 .6-.7 1.2 0 1.8 .8 2.4 7.2 .6 .7 1.2-1.2 .6 .1 .6 2.1 2.4 19.4 .6 .2 .6-3.3 1.9-17 .6-2.9 .6-.4 1.8 5.3 .6 .7 1.8-2.4 .6-.1 3 3.2 2.4 11.9 .6 .8 .6-1.5"/>
<path stroke="#2f6ba8" stroke-width="3.9" d="M1573.6 802.3l1.3-6.2 .6-1.5 .6 0 .6 2.1 2.4 23.8 1.2 7.6 .6-.1 .6-2.4 1.8-13.8 1.2-6.5 1.2-2.4 .6-.3 .6 .5 1.3 5 1.8 12.9 1.8 7 1.8 9.2 .6 .7 .6-2.4 .6-5.8 1.8-26.4 1.2-8.9 .6 .1 1.8 5.7 .6-.2 1.9-6.4 .6 0 1.2 8.9 2.4 38.8 .6 6.1 .6 2.8 .6-.5 1.8-8 .6-.8 .6 .9 1.8 5.5 .6-.6 1.2-7.7 2.5-25.3 .6-4 .6-2.3 .6-.9 1.2-.3 1.8-2 .6 .4 1.2 5.6 2.4 18.3 .6 1.4 .6-.5 1.2-4.6 1.3-6.8 2.4-20.7 .6-2.8 .6-.4 1.2 2.4 .6-.2 1.8-7.8 .6-1.1 .6 .5 .6 1.4 3 8.6 .6 1.2 .6-.1 .6-1.7 1.9-9.5 .6-2.1 .6-.3 .6 1.8 .6 4.3 2.4 31.1 .6 5.2 .6 1.7 .6-2.1 2.4-18.8 .6-1 1.8 3.8 .6 .5 1.3-.2 1.8 1.8 .6 .2 .6-.5 1.8-2.9 1.8-1.3 .6-1.1 3-15.7 .6-1.3 .6 .1 1.2 1.5 .6-.6 .7-2 1.8-10.9 3-39.8 .6-5 .6-1.9 .6 .8 1.8 6.2 .6 .4 .6-.5 1.8-3.6 1.8-1.8 .6 .1 .7 .8 1.8 4.4 .6 .8 .6-.3 1.2-3.8 2.4-13.8 1.2-3.7 .6-.4 .6 .4 1.8 2.6 .6 .2 2.5-1.6 2.4-.5 1.2-1.8 1.8-4.7 1.2-1.5 1.2 .4 1.2 1.4 3.6 6 .6-.2 .6-.9 2.5-6.7 .6-.7 .6 .4 1.2 4.3 1.8 10.6 .6 2.2 .6 1.1 .6 0 1.2-1.9 1.2-3.5 3-12.6 .6-1 .7 .1 2.4 6.4 .6 .6 .6-.7 1.8-6.5 .6-1.4 .6-.5 .6 .2 .6 .8 2.4 7.2 .6 .9 .6 .2 .6-.6 1.9-3 1.2-1.1 1.2-.3 .6 .4 1.2 2.2 1.8 6 .6 1 .6 .1 1.2-2.5 2.4-8.5 .6-1.4 .6-.8 .6-.3 1.2 1.1 2.5 4.3 .6 .3 .6-.2 1.8-1.5 .6 .5 1.8 4.4 .6 .5 .6-.9 1.8-7 .6-1.5 .6-.5 1.2 .6 2.5 4.1 1.2 1.2 .6 .1 2.4-2 2.4-.9 1.8-3 1.2-.6 1.2 1 3.1 6.5 1.2 1.4 .6-.3 .6-.8 3-7.1 1.2-1.4 1.2-.3 1.2 .3 3.6 2.5 1.3 1.3 2.4 3.8 .6 0 .6-.7 1.2-2.5 1.2-1.6 1.2-.7 1.2-.1 1.2 1.9 1.8 6.3 .6 1.1 .6 0 1.9-2.2 1.8-.9 2.4-3.5 .6 0 .6 .7 1.8 3.9 .6 .6 .6-.1 1.2-2.4 1.8-5.9 .6-1 1.2-.5 1.3 .5 .6 .8 3 5.8 1.2 .8 2.4-2.5 .6-.1 1.8 2.4 .6 .5 .6-.2 2.4-5 .7-.7 1.2-.6 1.2 .3 .6 .7 3 8.6 .6 0 1.8-4.1 .6-.5 .6 .5 1.2 4.3 3.7 23.5 1.8 9.1 .6 1.2 .6-.5 3-14.9 .6-.1 .6 1.4 1.2 6.8 2.4 19.9 3.1 13.7 .6 .5 .6-2.3 3-30.4 .6-1.8 .6 .9 1.8 18.6 4.8 67.4 1.2 8.3 .6-.2 .7-3 2.4-21.9 .6-2 .6 .8 .6 3.3 3 30.5 5.4 71.2 1.9 28.7 1.8 19.8 1.2 32.5 3 114.2 .6 8.7 .6 1.3 .6-.5 1.2 11.4 14.5 0 1.8-8.9 .6 .4 1.2 8 .6 .5 41.7 0 .6-2.7 .6-1.1 .7 1 .6 2.7 15.7 .1 .6-4.3 .6-11.9 4.2-115.8 1.2-24.5 1.2-10.5 .6-2.2 1.2-1.6 .6-1.8 .6-4 1.3-15.8 3-52.3 .6-3.5 .6 1.9 2.4 39.1 .6 6.5 .6 2.8 .6-.3 1.8-7.6 3.6-10 1.9-7.3 1.2-10 2.4-36.9 1.2-11.1 .6-.6 1.8 7.8 .6 1.1 .6-1.1 2.4-12.5 .6-1.1 .6-.2 .6 .4 1.3 3.8 1.8 11.4 .6 1.8 .6 .1 1.2-1.7 1.2-.4 .6-.7 .6-1.6 2.4-13.2 .6-2.4 .6-.8 .6 .8 3.1 9.8 1.8 12.6 .6 3 .6 .5 1.2-6.9 3-31.1 1.2-7.7 .6-1.8 .6-.9 .6-.2 .6 .9 .6 2.2 2.5 22.2 .6 3.5 .6-.3 .6-4.3 1.8-23.4 .6-4.4 .6-.9 1.2 5.7 4.8 34.8 .6 2.8 1.8 5.4 2.5 10.2 .6-.2 2.4-9.1 .6 .1 1.2 2.7 .6 .1 .6-2.2 2.4-27.9 1.2-8.5 .6-.7 1.2 1.1 .6 .2 1.3-.9 .6 .7 1.2 8.6 2.4 36.3 .6 5 .6 1 1.2-9.3 1.8-23.4 1.8-17.7 1.2-7.5 .6-.6 2.5 9.8 1.2 .8 .6 1.3 1.2 9.1 1.8 19.3 .6 3.3 .6 .6 2.4-11.7 .6-.1 .6 3 2.4 24.7 .6 1.2 .6-2.5"/>
<path stroke="#000" stroke-width="4.3" d="M1573.6 782.6l.7 0 .6 1.9 .6 .7 1.8-8.3 .6 .8 1.8 6.5 .6 .5 .6-1.1 1.2-4.5 1.8-11.1 .6-1.2 1.2-.2 1.2 1.5 1.3 .8 1.2 1.7 3 .9 1.2 4.1 1.8 3.5 1.2-2.1 .6-.6 .6 .2 .6-.7 .6-1.8 1.8-10.9 1.2 3.4 1.9-11.8 .6-2 1.2-1.6 .6-.3 .6 .6 1.8 5.4 1.8 7 .6 .4 1.2 4.3 1.8 2.4 1.2 3.6 1.3 1.9 1.2 5.6 1.2 2.4 .6-.5 1.8-22.7 .6-.8 1.8 16.7 .6 1 1.8-2.6 .6-1.8 .6-.6 1.2 6.8 .6 .9 1.9-3.2 .6-2 1.2-8.1 .6-1.9 1.2 8.1 .6 2.2 .6-1 2.4-15.7 .6-1.8 1.2 0 1.2-1.6 .6-.1 1.2 1.2 .6-1.7 1.2-8.3 .7-1.1 1.2 4 .6 .1 .6-.9 .6-.1 1.2 3.3 .6-1.2 1.2-6.3 .6 .2 .6 1.2 .6-.5 .6-1.7 .6 .7 1.2 7.2 .6 .5 1.2-3.7 1.9 14.3 .6 3 1.2 3.3 .6 3.6 1.2 10.6 .6-.4 1.2-7.1 1.2 3.5 .6-1.4 1.2-8 2.4-9.4 1.8-4.5 .6 .4 .6 2 .7 .6 .6-.6 1.2 1.4 1.2-4 .6-1.3 .6-.4 1.2-2.9 1.2 5 .6-.1 .6-1.6 .6 .4 .6 1.8 .6 .4 1.2-2.4 .6-.4 3.7 7.1 1.2-1.8 .6 0 1.8-8.2 .6 .6 1.2 3.8 .6 .3 1.2-3.1 .6 .4 .6 1.6 1.8 1.3 1.2-2.7 1.2 1.1 1.3-1.4 .6 .3 .6-1.1 1.2-6.2 .6-1.7 .6 0 .6-.7 1.2-3.8 1.2 6 1.2-3.3 .6 .3 2.4 9.4 .6-.4 1.2-9.9 .6-.4 1.9 12.9 .6 2.2 .6 0 1.2-4.2 .6 .1 1.2 3.5 .6-1.1 1.8-12.4 .6-2.5 .6-1 .6 1.1 1.2 5.2 .6 1.1 .6-1 1.8-8.2 .7 .1 2.4 3.9 .6 .4 1.2-7.3 .6-1.3 1.2 3 .6 .2 .6 1.2 1.8 5 .6 0 1.2-6.1 .6-1.4 1.8 7 1.9-8.1 1.2 5.7 .6 .6 1.2-6.8 1.2-4.6 .6-1.1 1.2 6.3 1.8 6 1.2 9.7 .6 1.3 1.8-8.4 2.5-8.4 .6-.7 .6 .2 1.2 6 .6-.2 .6-2.7 1.8-4 .6 .2 .6 2 .6-.1 1.2-8.8 .6-2 .6 1.3 1.2 6.2 .6 .7 2.5-5.5 .6-.4 1.2 3 .6 .3 1.2-1.1 1.8 5.6 1.2-2.6 1.2-1.4 1.2-3.1 .6 .8 1.2 7.1 .6 .2 1.2-4.9 1.3 0 .6-1.5 .6-.7 .6-.1 1.2-1.6 1.2 5.2 .6 .9 1.2-3.7 .6 .9 1.2 4.1 .6 .9 1.2-4.6 .6 .2 .6 1.6 .6-.2 1.2-4.3 .6-.8 1.3 .2 1.2-2.7 .6-.2 1.2 3.5 2.4-8.4 .6 .4 .6 1.9 .6 .2 2.4-10.3 .6-1 .6 .8 1.2 4.7 1.2-2.8 .6 2 1.3 10.2 .6-1.5 1.2-6.2 .6 1 1.2 4.1 .6-.2 .6-1.5 .6-.2 .6 .6 1.2-1.7 1.2 .8 1.2-3 .6-.6 2.4 2.4 1.9-2.4 1.8 1.3 1.8 7.4 .6-1.3 1.2-7.4 1.2-2 1.2-5.2 1.2 3.7 1.2 1.5 1.2 3.6 1.9-10.4 .6 1.7 1.8 12.9 .6 0 1.2-4.1 1.8-3.9 1.2-.4 1.2-1.7 .6 0 1.2 3.7 1.2 1.3 1.2-4.4 .6-.7 1.9 7.6 .6 .3 1.8-4.3 .6-.2 .6 .3 1.2-.9 .6 .1 1.2-1.9 .6 1.6 1.2 6.3 .6-1.4 1.2-7.6 .6-.9 1.2 1.3 .6-.2 1.3-2 2.4 6.5 1.8-5.3 1.8 8 1.8 0 1.8-4.8 .6 .3 1.2-.7 1.2 2.1 .6-.2 1.3-1.3 .6 .1 1.8 2.7 1.2-2.5 .6 .3 .6 1.1 .6 0 1.2-3.4 1.2-1.3 .6-.2 1.2 3.4 1.2-.4 .6 1.7 .6 .6 1.9-8.9 .6 .3 1.2 3.6 .6-.7 1.8-8.5 .6-.5 1.2 1.4 1.8 9.3 .6 .9 .6 .1 .6-1.2 1.8-9.9 1.8 8.7 .7 .7 .6-.6 .6-2.1 1.2-7.1 .6 .8 1.2 10 .6 1.2 1.2-4.5 1.2-7.5 .6-.6 1.8 9.3 .6 .1 1.2-1.9 .6 .2 1.8 6.2 .7 .8 1.2-2.2 1.2 2.3 .6 .1 .6-.4 .6 2.2 1.8 13.2 .6 1.3 .6 0 .6 .7 1.2 3.4 1.2-1.9 1.2 6.4 .6-2 1.2-15.3 .6-2.6 .7-.9 1.2-6.4 .6 .9 1.2 5.9 1.2-.4 1.8 8.4 .6-.9 1.2-3.7 1.2-.8 .6 .2 1.2 5.2 .6 1.1 .6-.1 .6-2.1 1.3-8.6 1.8-6.8 .6-.7 1.8 5.6 1.2-5.2 .6 .2 .6 1.1 1.2-3 1.8-2.8 1.2-5.6 .6-.2 1.2 5.4 .6 1.8 .6 .3 .7-1.1 1.2-6.6 .6-1.2 .6 1.3 1.2 5.5 .6 1 1.2-3.7 .6-.6 1.8 4.9 .6-.2 1.8-5.1 .6-.5 .6 .9 2.4 9.7 1.3 7.7 .6 2 1.2-.2 .6 .3 .6-.6 1.8-8.9 .6-.9 1.8 .8 2.4 8.9 1.8 10.7 .6 0 .6-1.3 1.3-4 .6 .9 .6 3.1 .6 .6 1.2-4.3 .6-.2 1.2-2.7 .6 .7 .6 2 .6-.6 1.2-4 1.2 .5 1.2-2.1 1.2 .2 .6-.3 .6 .3 1.3 3.6 1.8 2.9 .6 .3 .6 1.4 1.2 6.7 .6 0 1.2-7.2 .6-1 2.4 10 3.6 9 1.9 1.2 .6-.2 1.8-2.9 .6 .2 1.2 1.5 1.8 4 1.8 11.3 3 6.5 1.2 6.1 .6 .9 .6-2 .7-.3 1.2 4 1.2-2.1 .6 0 .6-1 1.8-10.5 .6 0 .6 1.1 1.2 6.3 1.8 21.2 2.4 17.4 .6-.1 .6-1.9 1.3-1.6 .6-2 .6-.6 1.2 12.6 1.8 32.1 2.4 18.5 1.8 20.8 .6 4.6 1.2 3.7 1.8 3.2 1.2 4.7 .6 .6 .7-2 1.2-11.7 .6-3.4 1.2-2.6 1.2-6.5 .6-1.2 1.2 4.8 .6 .3 2.4-16.7 1.2 2.8 .6 .3 .6-2.1 1.2-9.6 .6-2.2 1.3 2.6 .6 0 .6 2.2 3 31.5 .6 3 .6-.1 .6-1.2 1.2 2.8 .6-1.6 1.2-8 1.2-.6 1.2-3 1.2 1.3 .6-2.7 1.3-11.7 .6-2.8 2.4-5.7 2.4 11.7 .6 .6 1.2-2.6 1.2 4 .6 0 .6-.9 .6 1.2 1.2 5.8 1.8 5.9"/>
</g>
<rect x="1593.2" y="966.3" width="502.6" height="134.4" fill="#fff" fill-opacity="0.86" stroke="#000" stroke-width="1.6"/>
<text x="1742.0" y="993.7" font-size="24.00" textLength="204.16" lengthAdjust="spacingAndGlyphs">Number of tapers</text>
<text x="1595.6" y="1025.9" font-size="25.65" textLength="54.34" lengthAdjust="spacingAndGlyphs">Exp.</text>
<text x="1596.6" y="1058.7" font-size="25.94" textLength="53.44" lengthAdjust="spacingAndGlyphs">Sim.</text>
<rect x="1662.3" y="1008.5" width="61.8" height="17.8" fill="#b3b3b3"/>
<line x1="1662.3" y1="1016.9" x2="1724.1" y2="1016.9" stroke="#000" stroke-width="4.6"/>
<text x="1729.3" y="1026.3" font-size="24.14" textLength="15.28" lengthAdjust="spacingAndGlyphs">2</text>
<text x="1744.9" y="1015.7" font-size="14.6">0</text>
<line x1="1663.1" y1="1050.0" x2="1723.3" y2="1050.0" stroke="#7d0f18" stroke-width="3.6" stroke-linecap="round"/>
<text x="1729.3" y="1058.7" font-size="24.14" textLength="15.28" lengthAdjust="spacingAndGlyphs">2</text>
<text x="1744.9" y="1048.1" font-size="14.6">0</text>
<line x1="1776.0" y1="1050.0" x2="1836.2" y2="1050.0" stroke="#c7242b" stroke-width="3.6" stroke-linecap="round"/>
<text x="1842.2" y="1058.7" font-size="24.14" textLength="15.28" lengthAdjust="spacingAndGlyphs">2</text>
<text x="1856.1" y="1048.1" font-size="14.6">1</text>
<line x1="1888.9" y1="1050.0" x2="1949.1" y2="1050.0" stroke="#e3737a" stroke-width="3.6" stroke-linecap="round"/>
<text x="1955.1" y="1058.7" font-size="24.14" textLength="15.28" lengthAdjust="spacingAndGlyphs">2</text>
<text x="1970.6" y="1048.1" font-size="14.6">2</text>
<line x1="2001.8" y1="1050.0" x2="2062.0" y2="1050.0" stroke="#f3b9bf" stroke-width="3.6" stroke-linecap="round"/>
<text x="2068.0" y="1058.7" font-size="24.14" textLength="15.28" lengthAdjust="spacingAndGlyphs">2</text>
<text x="2083.6" y="1048.1" font-size="14.6">3</text>
<line x1="1661.7" y1="1082.2" x2="1721.9" y2="1082.2" stroke="#c6d8eb" stroke-width="3.6" stroke-linecap="round"/>
<text x="1727.9" y="1090.9" font-size="24.14" textLength="15.28" lengthAdjust="spacingAndGlyphs">2</text>
<text x="1743.8" y="1080.3" font-size="14.6">4</text>
<line x1="1774.6" y1="1082.2" x2="1834.8" y2="1082.2" stroke="#6c9dca" stroke-width="3.6" stroke-linecap="round"/>
<text x="1840.8" y="1090.9" font-size="24.14" textLength="15.28" lengthAdjust="spacingAndGlyphs">2</text>
<text x="1856.4" y="1080.3" font-size="14.6">5</text>
<line x1="1887.5" y1="1082.2" x2="1947.7" y2="1082.2" stroke="#2f6ba8" stroke-width="3.6" stroke-linecap="round"/>
<text x="1953.7" y="1090.9" font-size="24.14" textLength="15.28" lengthAdjust="spacingAndGlyphs">2</text>
<text x="1969.2" y="1080.3" font-size="14.6">6</text>
<rect x="1578.5" y="680.0" width="533.5" height="429.5" fill="none" stroke="#000" stroke-width="2"/>
<line x1="1570.5" y1="704.2" x2="1578.5" y2="704.2" stroke="#000" stroke-width="1.8"/>
<text x="1548.9" y="712.2" font-size="25.00" textLength="14.46" lengthAdjust="spacingAndGlyphs">0</text>
<line x1="1570.5" y1="728.5" x2="1578.5" y2="728.5" stroke="#000" stroke-width="1.8"/>
<text x="1540.3" y="736.6" font-size="25.00" textLength="23.12" lengthAdjust="spacingAndGlyphs">-3</text>
<line x1="1570.5" y1="785.4" x2="1578.5" y2="785.4" stroke="#000" stroke-width="1.8"/>
<text x="1525.7" y="793.4" font-size="25.00" textLength="37.58" lengthAdjust="spacingAndGlyphs">-10</text>
<line x1="1570.5" y1="866.5" x2="1578.5" y2="866.5" stroke="#000" stroke-width="1.8"/>
<text x="1525.7" y="874.5" font-size="25.00" textLength="37.58" lengthAdjust="spacingAndGlyphs">-20</text>
<line x1="1570.5" y1="947.7" x2="1578.5" y2="947.7" stroke="#000" stroke-width="1.8"/>
<text x="1525.7" y="955.7" font-size="25.00" textLength="37.58" lengthAdjust="spacingAndGlyphs">-30</text>
<line x1="1570.5" y1="1028.8" x2="1578.5" y2="1028.8" stroke="#000" stroke-width="1.8"/>
<text x="1525.7" y="1036.8" font-size="25.00" textLength="37.58" lengthAdjust="spacingAndGlyphs">-40</text>
<line x1="1570.5" y1="1110.0" x2="1578.5" y2="1110.0" stroke="#000" stroke-width="1.8"/>
<text x="1525.7" y="1118.0" font-size="25.00" textLength="37.58" lengthAdjust="spacingAndGlyphs">-50</text>
<line x1="1578.5" y1="1109.5" x2="1578.5" y2="1117.5" stroke="#000" stroke-width="1.8"/>
<text x="1553.5" y="1144.6" font-size="25.60">0.30</text>
<line x1="1627.0" y1="1109.5" x2="1627.0" y2="1113.5" stroke="#000" stroke-width="1.6"/>
<line x1="1675.5" y1="1109.5" x2="1675.5" y2="1117.5" stroke="#000" stroke-width="1.8"/>
<text x="1650.7" y="1144.6" font-size="25.60">0.31</text>
<line x1="1724.0" y1="1109.5" x2="1724.0" y2="1113.5" stroke="#000" stroke-width="1.6"/>
<line x1="1772.5" y1="1109.5" x2="1772.5" y2="1117.5" stroke="#000" stroke-width="1.8"/>
<text x="1747.7" y="1144.6" font-size="25.60">0.32</text>
<line x1="1821.0" y1="1109.5" x2="1821.0" y2="1113.5" stroke="#000" stroke-width="1.6"/>
<line x1="1869.5" y1="1109.5" x2="1869.5" y2="1117.5" stroke="#000" stroke-width="1.8"/>
<text x="1844.6" y="1144.6" font-size="25.60">0.33</text>
<line x1="1918.0" y1="1109.5" x2="1918.0" y2="1113.5" stroke="#000" stroke-width="1.6"/>
<line x1="1966.5" y1="1109.5" x2="1966.5" y2="1117.5" stroke="#000" stroke-width="1.8"/>
<text x="1941.5" y="1144.6" font-size="25.60">0.34</text>
<line x1="2015.0" y1="1109.5" x2="2015.0" y2="1113.5" stroke="#000" stroke-width="1.6"/>
<line x1="2063.5" y1="1109.5" x2="2063.5" y2="1117.5" stroke="#000" stroke-width="1.8"/>
<text x="2038.6" y="1144.6" font-size="25.60">0.35</text>
<line x1="2112.0" y1="1109.5" x2="2112.0" y2="1113.5" stroke="#000" stroke-width="1.6"/>
<text x="1708.0" y="1190.7" font-size="38.26" textLength="274.69" lengthAdjust="spacingAndGlyphs">Frequency (THz)</text>
<text x="1498.6" y="1099.8" font-size="38.12" transform="rotate(-90 1498.6 1099.8)" textLength="410.17" lengthAdjust="spacingAndGlyphs">Sum of transmission (dB)</text>
<text x="1440.1" y="668.3" font-size="41.09" textLength="24.26" lengthAdjust="spacingAndGlyphs">e</text>
<rect x="565.0" y="66.0" width="536.0" height="423.5" fill="none" stroke="#3a3a3a" stroke-width="1.4"/>
<line x1="684.1" y1="489.5" x2="684.1" y2="483.5" stroke="#262626" stroke-width="1.5"/>
<line x1="684.1" y1="66.0" x2="684.1" y2="72.0" stroke="#262626" stroke-width="1.5"/>
<line x1="803.2" y1="489.5" x2="803.2" y2="483.5" stroke="#262626" stroke-width="1.5"/>
<line x1="803.2" y1="66.0" x2="803.2" y2="72.0" stroke="#262626" stroke-width="1.5"/>
<line x1="922.3" y1="489.5" x2="922.3" y2="483.5" stroke="#262626" stroke-width="1.5"/>
<line x1="922.3" y1="66.0" x2="922.3" y2="72.0" stroke="#262626" stroke-width="1.5"/>
<line x1="1041.4" y1="489.5" x2="1041.4" y2="483.5" stroke="#262626" stroke-width="1.5"/>
<line x1="1041.4" y1="66.0" x2="1041.4" y2="72.0" stroke="#262626" stroke-width="1.5"/>
<line x1="565.0" y1="150.7" x2="571.0" y2="150.7" stroke="#262626" stroke-width="1.5"/>
<line x1="1101.0" y1="150.7" x2="1095.0" y2="150.7" stroke="#262626" stroke-width="1.5"/>
<line x1="565.0" y1="235.4" x2="571.0" y2="235.4" stroke="#262626" stroke-width="1.5"/>
<line x1="1101.0" y1="235.4" x2="1095.0" y2="235.4" stroke="#262626" stroke-width="1.5"/>
<line x1="565.0" y1="320.1" x2="571.0" y2="320.1" stroke="#262626" stroke-width="1.5"/>
<line x1="1101.0" y1="320.1" x2="1095.0" y2="320.1" stroke="#262626" stroke-width="1.5"/>
<line x1="565.0" y1="404.8" x2="571.0" y2="404.8" stroke="#262626" stroke-width="1.5"/>
<line x1="1101.0" y1="404.8" x2="1095.0" y2="404.8" stroke="#262626" stroke-width="1.5"/>
<text x="545.1" y="525.5" font-size="27.50" fill="#262626">0.3</text>
<text x="656.6" y="525.5" font-size="27.50" fill="#262626">0.31</text>
<text x="775.8" y="525.5" font-size="27.50" fill="#262626">0.32</text>
<text x="894.8" y="525.5" font-size="27.50" fill="#262626">0.33</text>
<text x="1013.8" y="525.5" font-size="27.50" fill="#262626">0.34</text>
<text x="538.3" y="76.0" font-size="27.50" fill="#262626">0</text>
<text x="513.8" y="160.7" font-size="27.50" fill="#262626">-10</text>
<text x="513.8" y="245.4" font-size="27.50" fill="#262626">-20</text>
<text x="513.8" y="330.1" font-size="27.50" fill="#262626">-30</text>
<text x="513.8" y="414.8" font-size="27.50" fill="#262626">-40</text>
<text x="513.8" y="499.5" font-size="27.50" fill="#262626">-50</text>
<text x="702.9" y="567.5" font-size="35.51" fill="#262626" textLength="262.87" lengthAdjust="spacingAndGlyphs">Frequency (THz)</text>
<text x="498.7" y="418.9" font-size="35.80" fill="#262626" transform="rotate(-90 498.7 418.9)" textLength="285.87" lengthAdjust="spacingAndGlyphs">Transmission (dB)</text>
<text x="435.8" y="47.2" font-size="42.18" textLength="22.14" lengthAdjust="spacingAndGlyphs">a</text>
<text x="398.9" y="465.0" font-size="39.57" font-weight="bold" transform="rotate(-90 398.9 465.0)" textLength="376.98" lengthAdjust="spacingAndGlyphs">AB-type beamformer</text>
<rect x="203.0" y="680.0" width="536.0" height="423.8" fill="none" stroke="#3a3a3a" stroke-width="1.4"/>
<line x1="322.1" y1="1103.8" x2="322.1" y2="1097.8" stroke="#262626" stroke-width="1.5"/>
<line x1="322.1" y1="680.0" x2="322.1" y2="686.0" stroke="#262626" stroke-width="1.5"/>
<line x1="441.2" y1="1103.8" x2="441.2" y2="1097.8" stroke="#262626" stroke-width="1.5"/>
<line x1="441.2" y1="680.0" x2="441.2" y2="686.0" stroke="#262626" stroke-width="1.5"/>
<line x1="560.3" y1="1103.8" x2="560.3" y2="1097.8" stroke="#262626" stroke-width="1.5"/>
<line x1="560.3" y1="680.0" x2="560.3" y2="686.0" stroke="#262626" stroke-width="1.5"/>
<line x1="679.4" y1="1103.8" x2="679.4" y2="1097.8" stroke="#262626" stroke-width="1.5"/>
<line x1="679.4" y1="680.0" x2="679.4" y2="686.0" stroke="#262626" stroke-width="1.5"/>
<line x1="203.0" y1="764.8" x2="209.0" y2="764.8" stroke="#262626" stroke-width="1.5"/>
<line x1="739.0" y1="764.8" x2="733.0" y2="764.8" stroke="#262626" stroke-width="1.5"/>
<line x1="203.0" y1="849.5" x2="209.0" y2="849.5" stroke="#262626" stroke-width="1.5"/>
<line x1="739.0" y1="849.5" x2="733.0" y2="849.5" stroke="#262626" stroke-width="1.5"/>
<line x1="203.0" y1="934.3" x2="209.0" y2="934.3" stroke="#262626" stroke-width="1.5"/>
<line x1="739.0" y1="934.3" x2="733.0" y2="934.3" stroke="#262626" stroke-width="1.5"/>
<line x1="203.0" y1="1019.0" x2="209.0" y2="1019.0" stroke="#262626" stroke-width="1.5"/>
<line x1="739.0" y1="1019.0" x2="733.0" y2="1019.0" stroke="#262626" stroke-width="1.5"/>
<text x="183.1" y="1139.8" font-size="27.50" fill="#262626">0.3</text>
<text x="294.6" y="1139.8" font-size="27.50" fill="#262626">0.31</text>
<text x="413.8" y="1139.8" font-size="27.50" fill="#262626">0.32</text>
<text x="532.8" y="1139.8" font-size="27.50" fill="#262626">0.33</text>
<text x="651.8" y="1139.8" font-size="27.50" fill="#262626">0.34</text>
<text x="176.3" y="690.0" font-size="27.50" fill="#262626">0</text>
<text x="151.8" y="774.7" font-size="27.50" fill="#262626">-10</text>
<text x="151.8" y="859.5" font-size="27.50" fill="#262626">-20</text>
<text x="151.8" y="944.3" font-size="27.50" fill="#262626">-30</text>
<text x="151.8" y="1029.0" font-size="27.50" fill="#262626">-40</text>
<text x="151.8" y="1113.8" font-size="27.50" fill="#262626">-50</text>
<text x="340.9" y="1181.8" font-size="35.51" fill="#262626" textLength="262.87" lengthAdjust="spacingAndGlyphs">Frequency (THz)</text>
<text x="136.7" y="1033.2" font-size="35.80" fill="#262626" transform="rotate(-90 136.7 1033.2)" textLength="285.87" lengthAdjust="spacingAndGlyphs">Transmission (dB)</text>
<text x="74.6" y="668.3" font-size="41.45" textLength="22.30" lengthAdjust="spacingAndGlyphs">c</text>
<text x="38.0" y="1083.1" font-size="40.14" font-weight="bold" transform="rotate(-90 38.0 1083.1)" textLength="375.29" lengthAdjust="spacingAndGlyphs">BA-type beamformer</text>
<rect x="687.60" y="125.30" width="18.21" height="22.20" fill="#6a0c22"/>
<rect x="705.31" y="125.30" width="18.21" height="22.20" fill="#a11a2b"/>
<rect x="723.02" y="125.30" width="18.21" height="22.20" fill="#c6363a"/>
<rect x="740.74" y="125.30" width="18.21" height="22.20" fill="#da5f4f"/>
<rect x="758.45" y="125.30" width="18.21" height="22.20" fill="#ea8b70"/>
<rect x="776.16" y="125.30" width="18.21" height="22.20" fill="#f3b59c"/>
<rect x="793.88" y="125.30" width="18.21" height="22.20" fill="#f8d9c6"/>
<rect x="811.59" y="125.30" width="18.21" height="22.20" fill="#f5ede8"/>
<rect x="829.30" y="125.30" width="18.21" height="22.20" fill="#e8eff4"/>
<rect x="847.01" y="125.30" width="18.21" height="22.20" fill="#cfe3ee"/>
<rect x="864.73" y="125.30" width="18.21" height="22.20" fill="#a7d1e5"/>
<rect x="882.44" y="125.30" width="18.21" height="22.20" fill="#7db5d6"/>
<rect x="900.15" y="125.30" width="18.21" height="22.20" fill="#5597c6"/>
<rect x="917.86" y="125.30" width="18.21" height="22.20" fill="#3a78b5"/>
<rect x="935.58" y="125.30" width="18.21" height="22.20" fill="#285896"/>
<rect x="953.29" y="125.30" width="18.21" height="22.20" fill="#1c3a6b"/>
<rect x="687.60" y="125.30" width="283.40" height="22.20" fill="none" stroke="#262626" stroke-width="1"/>
<text x="693.1" y="110.0" font-size="27.54" fill="#262626" textLength="11.12" lengthAdjust="spacingAndGlyphs">1</text>
<text x="766.1" y="106.4" font-size="28.14" fill="#262626" textLength="120.63" lengthAdjust="spacingAndGlyphs">Channels</text>
<text x="948.6" y="109.7" font-size="26.76" fill="#262626" textLength="29.40" lengthAdjust="spacingAndGlyphs">16</text>
<rect x="325.60" y="739.60" width="18.21" height="22.20" fill="#6a0c22"/>
<rect x="343.31" y="739.60" width="18.21" height="22.20" fill="#a11a2b"/>
<rect x="361.03" y="739.60" width="18.21" height="22.20" fill="#c6363a"/>
<rect x="378.74" y="739.60" width="18.21" height="22.20" fill="#da5f4f"/>
<rect x="396.45" y="739.60" width="18.21" height="22.20" fill="#ea8b70"/>
<rect x="414.16" y="739.60" width="18.21" height="22.20" fill="#f3b59c"/>
<rect x="431.88" y="739.60" width="18.21" height="22.20" fill="#f8d9c6"/>
<rect x="449.59" y="739.60" width="18.21" height="22.20" fill="#f5ede8"/>
<rect x="467.30" y="739.60" width="18.21" height="22.20" fill="#e8eff4"/>
<rect x="485.01" y="739.60" width="18.21" height="22.20" fill="#cfe3ee"/>
<rect x="502.73" y="739.60" width="18.21" height="22.20" fill="#a7d1e5"/>
<rect x="520.44" y="739.60" width="18.21" height="22.20" fill="#7db5d6"/>
<rect x="538.15" y="739.60" width="18.21" height="22.20" fill="#5597c6"/>
<rect x="555.86" y="739.60" width="18.21" height="22.20" fill="#3a78b5"/>
<rect x="573.58" y="739.60" width="18.21" height="22.20" fill="#285896"/>
<rect x="591.29" y="739.60" width="18.21" height="22.20" fill="#1c3a6b"/>
<rect x="325.60" y="739.60" width="283.40" height="22.20" fill="none" stroke="#262626" stroke-width="1"/>
<text x="331.1" y="724.3" font-size="27.54" fill="#262626" textLength="11.12" lengthAdjust="spacingAndGlyphs">1</text>
<text x="404.1" y="720.7" font-size="28.14" fill="#262626" textLength="120.63" lengthAdjust="spacingAndGlyphs">Channels</text>
<text x="586.6" y="724.0" font-size="26.76" fill="#262626" textLength="29.40" lengthAdjust="spacingAndGlyphs">16</text>
<line x1="726.3" y1="278.6" x2="1030.3" y2="278.6" stroke="#000" stroke-width="2.2"/>
<path d="M720.3 278.6L740.3 272.4L735.3 278.6L740.3 284.8ZM1036.3 278.6L1016.3 272.4L1021.3 278.6L1016.3 284.8Z" fill="#000"/>
<text x="816.2" y="265.2" font-size="30.14" textLength="125.85" lengthAdjust="spacingAndGlyphs">26.5 GHz</text>
<line x1="330.1" y1="855.1" x2="546.3" y2="855.1" stroke="#000" stroke-width="2.2"/>
<path d="M324.1 855.1L344.1 848.9L339.1 855.1L344.1 861.3ZM552.3 855.1L532.3 848.9L537.3 855.1L532.3 861.3Z" fill="#000"/>
<text x="376.9" y="893.6" font-size="30.14" textLength="124.87" lengthAdjust="spacingAndGlyphs">18.9 GHz</text>
<rect x="1277.0" y="61.5" width="445.5" height="428.5" fill="none" stroke="#000" stroke-width="2"/>
<line x1="1269.0" y1="476.6" x2="1277.0" y2="476.6" stroke="#000" stroke-width="1.8"/>
<text x="1247.8" y="485.9" font-size="26.20">1</text>
<line x1="1269.0" y1="449.8" x2="1277.0" y2="449.8" stroke="#000" stroke-width="1.8"/>
<text x="1248.0" y="459.3" font-size="26.20">2</text>
<line x1="1269.0" y1="423.0" x2="1277.0" y2="423.0" stroke="#000" stroke-width="1.8"/>
<text x="1247.7" y="432.4" font-size="26.20">3</text>
<line x1="1269.0" y1="396.3" x2="1277.0" y2="396.3" stroke="#000" stroke-width="1.8"/>
<text x="1247.4" y="405.6" font-size="26.20">4</text>
<line x1="1269.0" y1="369.5" x2="1277.0" y2="369.5" stroke="#000" stroke-width="1.8"/>
<text x="1247.7" y="378.7" font-size="26.20">5</text>
<line x1="1269.0" y1="342.7" x2="1277.0" y2="342.7" stroke="#000" stroke-width="1.8"/>
<text x="1247.7" y="352.0" font-size="26.20">6</text>
<line x1="1269.0" y1="315.9" x2="1277.0" y2="315.9" stroke="#000" stroke-width="1.8"/>
<text x="1248.0" y="325.3" font-size="26.20">7</text>
<line x1="1269.0" y1="289.1" x2="1277.0" y2="289.1" stroke="#000" stroke-width="1.8"/>
<text x="1247.7" y="298.5" font-size="26.20">8</text>
<line x1="1269.0" y1="262.4" x2="1277.0" y2="262.4" stroke="#000" stroke-width="1.8"/>
<text x="1247.8" y="271.7" font-size="26.20">9</text>
<line x1="1269.0" y1="235.6" x2="1277.0" y2="235.6" stroke="#000" stroke-width="1.8"/>
<text x="1233.0" y="244.9" font-size="26.20">10</text>
<line x1="1269.0" y1="208.8" x2="1277.0" y2="208.8" stroke="#000" stroke-width="1.8"/>
<text x="1235.3" y="218.1" font-size="26.20">11</text>
<line x1="1269.0" y1="182.0" x2="1277.0" y2="182.0" stroke="#000" stroke-width="1.8"/>
<text x="1233.4" y="191.5" font-size="26.20">12</text>
<line x1="1269.0" y1="155.2" x2="1277.0" y2="155.2" stroke="#000" stroke-width="1.8"/>
<text x="1233.2" y="164.6" font-size="26.20">13</text>
<line x1="1269.0" y1="128.5" x2="1277.0" y2="128.5" stroke="#000" stroke-width="1.8"/>
<text x="1232.9" y="137.8" font-size="26.20">14</text>
<line x1="1269.0" y1="101.7" x2="1277.0" y2="101.7" stroke="#000" stroke-width="1.8"/>
<text x="1233.2" y="110.9" font-size="26.20">15</text>
<line x1="1269.0" y1="74.9" x2="1277.0" y2="74.9" stroke="#000" stroke-width="1.8"/>
<text x="1233.2" y="84.2" font-size="26.20">16</text>
<line x1="1277.0" y1="490.0" x2="1277.0" y2="497.5" stroke="#000" stroke-width="1.8"/>
<text x="1251.3" y="524.3" font-size="26.40">0.30</text>
<line x1="1376.0" y1="490.0" x2="1376.0" y2="497.5" stroke="#000" stroke-width="1.8"/>
<text x="1350.4" y="524.3" font-size="26.40">0.31</text>
<line x1="1475.0" y1="490.0" x2="1475.0" y2="497.5" stroke="#000" stroke-width="1.8"/>
<text x="1449.5" y="524.3" font-size="26.40">0.32</text>
<line x1="1574.0" y1="490.0" x2="1574.0" y2="497.5" stroke="#000" stroke-width="1.8"/>
<text x="1548.3" y="524.3" font-size="26.40">0.33</text>
<line x1="1673.0" y1="490.0" x2="1673.0" y2="497.5" stroke="#000" stroke-width="1.8"/>
<text x="1647.2" y="524.3" font-size="26.40">0.34</text>
<text x="1363.3" y="570.3" font-size="38.70" textLength="273.77" lengthAdjust="spacingAndGlyphs">Frequency (THz)</text>
<text x="1214.4" y="351.9" font-size="38.70" transform="rotate(-90 1214.4 351.9)" textLength="152.68" lengthAdjust="spacingAndGlyphs">Channels</text>
<text x="1168.6" y="47.2" font-size="42.18" textLength="24.35" lengthAdjust="spacingAndGlyphs">b</text>
<rect x="1383.0" y="35.6" width="234.9" height="18.0" fill="url(#magr)" stroke="#000" stroke-width="2"/>
<text x="1453.4" y="29.3" font-size="28.41" textLength="83.81" lengthAdjust="spacingAndGlyphs">Phase</text>
<rect x="1342.7" y="43.4" width="7.6" height="2.2" fill="#000"/>
<text x="1352.5" y="51.2" font-size="27.45" font-family='"Liberation Serif", "Times New Roman", serif' textLength="13.61" lengthAdjust="spacingAndGlyphs" stroke="#000" stroke-width="0.7">π</text>
<text x="1641.0" y="50.9" font-size="27.02" font-family='"Liberation Serif", "Times New Roman", serif' textLength="12.86" lengthAdjust="spacingAndGlyphs" stroke="#000" stroke-width="0.7">π</text>
<rect x="915.0" y="683.0" width="445.5" height="428.5" fill="none" stroke="#000" stroke-width="2"/>
<line x1="907.0" y1="1098.1" x2="915.0" y2="1098.1" stroke="#000" stroke-width="1.8"/>
<text x="885.8" y="1107.4" font-size="26.20">1</text>
<line x1="907.0" y1="1071.3" x2="915.0" y2="1071.3" stroke="#000" stroke-width="1.8"/>
<text x="886.0" y="1080.8" font-size="26.20">2</text>
<line x1="907.0" y1="1044.5" x2="915.0" y2="1044.5" stroke="#000" stroke-width="1.8"/>
<text x="885.7" y="1053.9" font-size="26.20">3</text>
<line x1="907.0" y1="1017.8" x2="915.0" y2="1017.8" stroke="#000" stroke-width="1.8"/>
<text x="885.4" y="1027.1" font-size="26.20">4</text>
<line x1="907.0" y1="991.0" x2="915.0" y2="991.0" stroke="#000" stroke-width="1.8"/>
<text x="885.7" y="1000.2" font-size="26.20">5</text>
<line x1="907.0" y1="964.2" x2="915.0" y2="964.2" stroke="#000" stroke-width="1.8"/>
<text x="885.7" y="973.5" font-size="26.20">6</text>
<line x1="907.0" y1="937.4" x2="915.0" y2="937.4" stroke="#000" stroke-width="1.8"/>
<text x="886.0" y="946.8" font-size="26.20">7</text>
<line x1="907.0" y1="910.6" x2="915.0" y2="910.6" stroke="#000" stroke-width="1.8"/>
<text x="885.7" y="920.0" font-size="26.20">8</text>
<line x1="907.0" y1="883.9" x2="915.0" y2="883.9" stroke="#000" stroke-width="1.8"/>
<text x="885.8" y="893.2" font-size="26.20">9</text>
<line x1="907.0" y1="857.1" x2="915.0" y2="857.1" stroke="#000" stroke-width="1.8"/>
<text x="871.0" y="866.4" font-size="26.20">10</text>
<line x1="907.0" y1="830.3" x2="915.0" y2="830.3" stroke="#000" stroke-width="1.8"/>
<text x="873.3" y="839.6" font-size="26.20">11</text>
<line x1="907.0" y1="803.5" x2="915.0" y2="803.5" stroke="#000" stroke-width="1.8"/>
<text x="871.4" y="813.0" font-size="26.20">12</text>
<line x1="907.0" y1="776.7" x2="915.0" y2="776.7" stroke="#000" stroke-width="1.8"/>
<text x="871.2" y="786.1" font-size="26.20">13</text>
<line x1="907.0" y1="750.0" x2="915.0" y2="750.0" stroke="#000" stroke-width="1.8"/>
<text x="870.9" y="759.3" font-size="26.20">14</text>
<line x1="907.0" y1="723.2" x2="915.0" y2="723.2" stroke="#000" stroke-width="1.8"/>
<text x="871.2" y="732.4" font-size="26.20">15</text>
<line x1="907.0" y1="696.4" x2="915.0" y2="696.4" stroke="#000" stroke-width="1.8"/>
<text x="871.2" y="705.7" font-size="26.20">16</text>
<line x1="915.0" y1="1111.5" x2="915.0" y2="1119.0" stroke="#000" stroke-width="1.8"/>
<text x="889.3" y="1146.3" font-size="26.40">0.30</text>
<line x1="1014.0" y1="1111.5" x2="1014.0" y2="1119.0" stroke="#000" stroke-width="1.8"/>
<text x="988.4" y="1146.3" font-size="26.40">0.31</text>
<line x1="1113.0" y1="1111.5" x2="1113.0" y2="1119.0" stroke="#000" stroke-width="1.8"/>
<text x="1087.5" y="1146.3" font-size="26.40">0.32</text>
<line x1="1212.0" y1="1111.5" x2="1212.0" y2="1119.0" stroke="#000" stroke-width="1.8"/>
<text x="1186.3" y="1146.3" font-size="26.40">0.33</text>
<line x1="1311.0" y1="1111.5" x2="1311.0" y2="1119.0" stroke="#000" stroke-width="1.8"/>
<text x="1285.2" y="1146.3" font-size="26.40">0.34</text>
<text x="1001.3" y="1192.3" font-size="38.70" textLength="273.77" lengthAdjust="spacingAndGlyphs">Frequency (THz)</text>
<text x="852.4" y="973.9" font-size="38.70" transform="rotate(-90 852.4 973.9)" textLength="152.68" lengthAdjust="spacingAndGlyphs">Channels</text>
<text x="807.6" y="669.2" font-size="42.18" textLength="24.35" lengthAdjust="spacingAndGlyphs">d</text>
<rect x="1021.0" y="657.6" width="234.9" height="18.0" fill="url(#magr)" stroke="#000" stroke-width="2"/>
<text x="1091.4" y="651.3" font-size="28.41" textLength="83.81" lengthAdjust="spacingAndGlyphs">Phase</text>
<rect x="980.7" y="665.4" width="7.6" height="2.2" fill="#000"/>
<text x="990.5" y="673.2" font-size="27.45" font-family='"Liberation Serif", "Times New Roman", serif' textLength="13.61" lengthAdjust="spacingAndGlyphs" stroke="#000" stroke-width="0.7">π</text>
<text x="1279.0" y="672.9" font-size="27.02" font-family='"Liberation Serif", "Times New Roman", serif' textLength="12.86" lengthAdjust="spacingAndGlyphs" stroke="#000" stroke-width="0.7">π</text></svg></div></body></html>
